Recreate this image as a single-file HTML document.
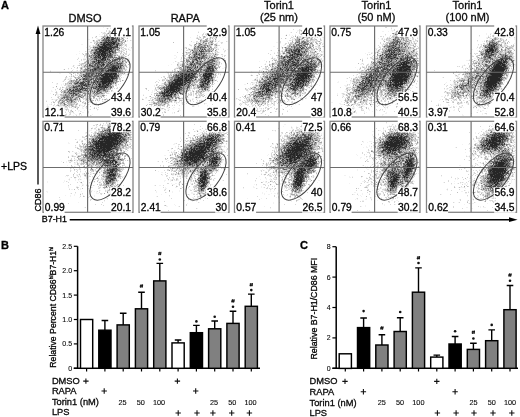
<!DOCTYPE html><html><head><meta charset="utf-8"><style>html,body{margin:0;padding:0;background:#fff;width:520px;height:417px;overflow:hidden}svg{display:block;will-change:transform}text{stroke:#000}</style></head><body>
<svg width="520" height="417" viewBox="0 0 520 417" stroke-width="0.3" font-family="Liberation Sans, sans-serif">
<rect width="520" height="417" fill="#fff"/>
<g transform="translate(0.5 0.5)" fill="none" stroke-width="1" stroke-linecap="square">
<path stroke="#f2f2f2" d="M124 26h0m-21 1h0m7 0h0m15 0h0m85 0h0m97 0h0m2 0h0m82 0h0m9 0h0m4 0h0m1 0h0m5 0h0m3 0h0m-307 1h0m2 0h0m5 0h0m2 0h0m6 0h0m1 0h0m3 0h0m1 0h0m3 0h0m178 0h0m9 0h0m82 0h0m3 0h0m2 0h0m7 0h0m3 0h0m1 0h0m3 0h0m1 0h0m-311 1h0m7 0h0m10 0h0m3 0h0m80 0h0m1 0h0m8 0h0m84 0h0m21 0h0m70 0h0m7 0h0m5 0h0m5 0h0m1 0h0m1 0h0m3 0h0m88 0h0m-393 1h0m7 0h0m4 0h0m5 0h0m1 0h0m4 0h0m78 0h0m4 0h0m2 0h0m2 0h0m82 0h0m1 0h0m20 0h0m73 0h0m1 0h0m1 0h0m5 0h0m1 0h0m1 0h0m6 0h0m1 0h0m1 0h0m-300 1h0m12 0h0m10 0h0m68 0h0m15 0h0m84 0h0m6 0h0m4 0h0m7 0h0m1 0h0m3 0h0m3 0h0m61 0h0m1 0h0m5 0h0m4 0h0m8 0h0m94 0h0m5 0h0m1 0h0m7 0h0m-405 1h0m1 0h0m2 0h0m99 0h0m86 0h0m16 0h0m11 0h0m77 0h0m3 0h0m11 0h0m85 0h0m1 0h0m2 0h0m4 0h0m1 0h0m10 0h0m-409 1h0m4 0h0m6 0h0m8 0h0m8 0h0m77 0h0m9 0h0m1 0h0m85 0h0m15 0h0m93 0h0m2 0h0m1 0h0m2 0h0m73 0h0m4 0h0m1 0h0m2 0h0m1 0h0m1 0h0m1 0h0m4 0h0m7 0h0m4 0h0m-424 1h0m12 0h0m3 0h0m3 0h0m3 0h0m13 0h0m2 0h0m6 0h0m79 0h0m3 0h0m5 0h0m70 0h0m3 0h0m6 0h0m11 0h0m1 0h0m3 0h0m100 0h0m6 0h0m70 0h0m7 0h0m-372 1h0m2 0h0m1 0h0m92 0h0m6 0h0m63 0h0m4 0h0m3 0h0m6 0h0m3 0h0m1 0h0m4 0h0m4 0h0m11 0h0m64 0h0m7 0h0m5 0h0m8 0h0m3 0h0m1 0h0m79 0h0m2 0h0m8 0h0m8 0h0m1 0h0m1 0h0m-413 1h0m4 0h0m1 0h0m21 0h0m5 0h0m71 0h0m5 0h0m4 0h0m4 0h0m12 0h0m69 0h0m7 0h0m3 0h0m9 0h0m3 0h0m76 0h0m1 0h0m10 0h0m3 0h0m5 0h0m4 0h0m67 0h0m19 0h0m4 0h0m4 0h0m1 0h0m1 0h0m2 0h0m-414 1h0m5 0h0m19 0h0m5 0h0m2 0h0m63 0h0m6 0h0m11 0h0m2 0h0m5 0h0m8 0h0m3 0h0m68 0h0m8 0h0m9 0h0m3 0h0m1 0h0m1 0h0m1 0h0m6 0h0m1 0h0m60 0h0m5 0h0m16 0h0m9 0h0m4 0h0m69 0h0m1 0h0m3 0h0m3 0h0m10 0h0m1 0h0m6 0h0m-418 1h0m4 0h0m1 0h0m23 0h0m5 0h0m1 0h0m73 0h0m1 0h0m1 0h0m1 0h0m6 0h0m3 0h0m2 0h0m73 0h0m6 0h0m1 0h0m2 0h0m5 0h0m4 0h0m11 0h0m63 0h0m3 0h0m3 0h0m7 0h0m1 0h0m8 0h0m10 0h0m76 0h0m3 0h0m3 0h0m7 0h0m3 0h0m12 0h0m-426 1h0m1 0h0m8 0h0m105 0h0m10 0h0m4 0h0m77 0h0m1 0h0m14 0h0m13 0h0m60 0h0m4 0h0m5 0h0m19 0h0m80 0h0m1 0h0m1 0h0m7 0h0m1 0h0m15 0h0m-422 1h0m8 0h0m20 0h0m1 0h0m3 0h0m7 0h0m85 0h0m3 0h0m72 0h0m2 0h0m1 0h0m6 0h0m5 0h0m10 0h0m69 0h0m29 0h0m71 0h0m4 0h0m8 0h0m6 0h0m2 0h0m-409 1h0m3 0h0m25 0h0m3 0h0m1 0h0m72 0h0m9 0h0m6 0h0m2 0h0m3 0h0m8 0h0m60 0h0m13 0h0m9 0h0m2 0h0m3 0h0m6 0h0m63 0h0m2 0h0m19 0h0m11 0h0m1 0h0m61 0h0m5 0h0m23 0h0m-312 1h0m1 0h0m3 0h0m2 0h0m8 0h0m10 0h0m3 0h0m56 0h0m1 0h0m17 0h0m25 0h0m65 0h0m23 0h0m3 0h0m3 0h0m3 0h0m72 0h0m11 0h0m1 0h0m-405 1h0m106 0h0m6 0h0m8 0h0m2 0h0m5 0h0m58 0h0m9 0h0m4 0h0m29 0h0m1 0h0m87 0h0m3 0h0m73 0h0m13 0h0m3 0h0m1 0h0m3 0h0m8 0h0m-433 1h0m1 0h0m42 0h0m66 0h0m7 0h0m10 0h0m10 0h0m67 0h0m31 0h0m1 0h0m2 0h0m1 0h0m62 0h0m1 0h0m29 0h0m1 0h0m2 0h0m66 0h0m3 0h0m2 0h0m21 0h0m-417 1h0m1 0h0m2 0h0m2 0h0m30 0h0m65 0h0m8 0h0m15 0h0m71 0h0m1 0h0m7 0h0m15 0h0m5 0h0m6 0h0m92 0h0m7 0h0m62 0h0m24 0h0m1 0h0m9 0h0m2 0h0m-424 1h0m2 0h0m28 0h0m3 0h0m1 0h0m67 0h0m2 0h0m13 0h0m8 0h0m3 0h0m56 0h0m1 0h0m7 0h0m5 0h0m22 0h0m9 0h0m3 0h0m60 0h0m28 0h0m2 0h0m67 0h0m26 0h0m3 0h0m-420 1h0m3 0h0m40 0h0m55 0h0m9 0h0m24 0h0m3 0h0m61 0h0m2 0h0m32 0h0m1 0h0m1 0h0m3 0h0m58 0h0m37 0h0m66 0h0m2 0h0m18 0h0m7 0h0m5 0h0m-424 1h0m3 0h0m28 0h0m2 0h0m1 0h0m3 0h0m2 0h0m3 0h0m53 0h0m1 0h0m4 0h0m27 0h0m1 0h0m1 0h0m5 0h0m91 0h0m60 0h0m1 0h0m1 0h0m1 0h0m37 0h0m62 0h0m4 0h0m2 0h0m18 0h0m2 0h0m11 0h0m-426 1h0m3 0h0m31 0h0m8 0h0m52 0h0m6 0h0m28 0h0m2 0h0m10 0h0m55 0h0m1 0h0m1 0h0m25 0h0m1 0h0m5 0h0m59 0h0m4 0h0m3 0h0m30 0h0m1 0h0m59 0h0m1 0h0m8 0h0m20 0h0m10 0h0m2 0h0m2 0h0m-427 1h0m2 0h0m1 0h0m30 0h0m2 0h0m4 0h0m3 0h0m1 0h0m58 0h0m1 0h0m35 0h0m46 0h0m11 0h0m3 0h0m34 0h0m58 0h0m1 0h0m34 0h0m4 0h0m1 0h0m61 0h0m5 0h0m18 0h0m-421 1h0m7 0h0m1 0h0m1 0h0m28 0h0m7 0h0m62 0h0m6 0h0m22 0h0m1 0h0m11 0h0m54 0h0m1 0h0m3 0h0m30 0h0m4 0h0m5 0h0m1 0h0m53 0h0m4 0h0m35 0h0m63 0h0m25 0h0m10 0h0m-426 1h0m1 0h0m1 0h0m31 0h0m71 0h0m19 0h0m4 0h0m2 0h0m3 0h0m5 0h0m50 0h0m5 0h0m1 0h0m41 0h0m1 0h0m46 0h0m1 0h0m2 0h0m1 0h0m2 0h0m6 0h0m133 0h0m-434 1h0m43 0h0m1 0h0m6 0h0m85 0h0m3 0h0m60 0h0m4 0h0m26 0h0m2 0h0m7 0h0m3 0h0m1 0h0m45 0h0m7 0h0m9 0h0m90 0h0m4 0h0m4 0h0m-403 1h0m6 0h0m8 0h0m31 0h0m1 0h0m6 0h0m57 0h0m6 0h0m16 0h0m5 0h0m70 0h0m2 0h0m34 0h0m52 0h0m8 0h0m1 0h0m39 0h0m61 0h0m34 0h0m-393 1h0m7 0h0m47 0h0m1 0h0m36 0h0m11 0h0m58 0h0m4 0h0m34 0h0m2 0h0m2 0h0m45 0h0m50 0h0m1 0h0m54 0h0m4 0h0m37 0h0m-426 1h0m29 0h0m8 0h0m52 0h0m6 0h0m2 0h0m29 0h0m59 0h0m5 0h0m1 0h0m41 0h0m56 0h0m3 0h0m39 0h0m65 0h0m14 0h0m18 0h0m-436 1h0m6 0h0m5 0h0m31 0h0m8 0h0m48 0h0m10 0h0m29 0h0m3 0h0m97 0h0m52 0h0m5 0h0m1 0h0m2 0h0m1 0h0m2 0h0m98 0h0m4 0h0m-397 1h0m1 0h0m1 0h0m1 0h0m38 0h0m4 0h0m1 0h0m45 0h0m1 0h0m44 0h0m1 0h0m53 0h0m2 0h0m2 0h0m41 0h0m2 0h0m42 0h0m8 0h0m3 0h0m101 0h0m1 0h0m3 0h0m36 0h0m-428 1h0m41 0h0m2 0h0m51 0h0m1 0h0m3 0h0m1 0h0m17 0h0m4 0h0m69 0h0m44 0h0m98 0h0m52 0h0m2 0h0m5 0h0m1 0h0m36 0h0m1 0h0m-431 1h0m1 0h0m97 0h0m2 0h0m2 0h0m5 0h0m74 0h0m13 0h0m2 0h0m42 0h0m2 0h0m50 0h0m3 0h0m90 0h0m1 0h0m1 0h0m5 0h0m3 0h0m-392 1h0m44 0h0m48 0h0m7 0h0m2 0h0m39 0h0m1 0h0m34 0h0m13 0h0m4 0h0m41 0h0m56 0h0m101 0h0m1 0h0m3 0h0m32 0h0m-386 1h0m4 0h0m45 0h0m4 0h0m2 0h0m5 0h0m36 0h0m46 0h0m6 0h0m1 0h0m1 0h0m43 0h0m100 0h0m57 0h0m39 0h0m-433 1h0m46 0h0m51 0h0m2 0h0m1 0h0m1 0h0m4 0h0m80 0h0m4 0h0m2 0h0m50 0h0m40 0h0m2 0h0m5 0h0m2 0h0m49 0h0m58 0h0m10 0h0m26 0h0m-434 1h0m5 0h0m87 0h0m8 0h0m6 0h0m20 0h0m16 0h0m43 0h0m58 0h0m38 0h0m1 0h0m103 0h0m4 0h0m5 0h0m2 0h0m1 0h0m1 0h0m38 0h0m-441 1h0m3 0h0m3 0h0m2 0h0m86 0h0m11 0h0m88 0h0m4 0h0m2 0h0m2 0h0m1 0h0m44 0h0m3 0h0m45 0h0m1 0h0m93 0h0m1 0h0m2 0h0m6 0h0m8 0h0m36 0h0m-443 1h0m9 0h0m96 0h0m39 0h0m55 0h0m3 0h0m44 0h0m5 0h0m40 0h0m1 0h0m94 0h0m19 0h0m-398 1h0m97 0h0m1 0h0m5 0h0m42 0h0m45 0h0m86 0h0m10 0h0m96 0h0m5 0h0m2 0h0m4 0h0m2 0h0m1 0h0m10 0h0m24 0h0m2 0h0m-435 1h0m8 0h0m41 0h0m1 0h0m48 0h0m45 0h0m3 0h0m1 0h0m2 0h0m37 0h0m2 0h0m52 0h0m2 0h0m41 0h0m7 0h0m49 0h0m48 0h0m3 0h0m3 0h0m2 0h0m-408 1h0m5 0h0m5 0h0m56 0h0m133 0h0m2 0h0m4 0h0m1 0h0m49 0h0m1 0h0m3 0h0m35 0h0m3 0h0m5 0h0m98 0h0m6 0h0m3 0h0m1 0h0m12 0h0m24 0h0m2 0h0m3 0h0m-464 1h0m26 0h0m3 0h0m2 0h0m42 0h0m1 0h0m2 0h0m2 0h0m97 0h0m35 0h0m1 0h0m1 0h0m4 0h0m1 0h0m49 0h0m41 0h0m7 0h0m3 0h0m48 0h0m1 0h0m2 0h0m50 0h0m1 0h0m4 0h0m37 0h0m-355 1h0m11 0h0m10 0h0m41 0h0m1 0h0m33 0h0m13 0h0m54 0h0m42 0h0m2 0h0m1 0h0m1 0h0m94 0h0m6 0h0m6 0h0m2 0h0m38 0h0m2 0h0m-455 1h0m1 0h0m1 0h0m8 0h0m4 0h0m4 0h0m2 0h0m98 0h0m40 0h0m36 0h0m1 0h0m10 0h0m2 0h0m1 0h0m52 0h0m42 0h0m99 0h0m9 0h0m-408 1h0m1 0h0m11 0h0m3 0h0m1 0h0m4 0h0m46 0h0m2 0h0m40 0h0m6 0h0m41 0h0m5 0h0m1 0h0m39 0h0m99 0h0m2 0h0m53 0h0m2 0h0m44 0h0m1 0h0m4 0h0m11 0h0m-405 1h0m7 0h0m1 0h0m44 0h0m2 0h0m1 0h0m1 0h0m43 0h0m3 0h0m44 0h0m35 0h0m7 0h0m3 0h0m54 0h0m41 0h0m4 0h0m94 0h0m1 0h0m26 0h0m-405 1h0m49 0h0m95 0h0m30 0h0m11 0h0m4 0h0m55 0h0m36 0h0m3 0h0m3 0h0m1 0h0m55 0h0m39 0h0m1 0h0m4 0h0m9 0h0m34 0h0m3 0h0m2 0h0m-440 1h0m2 0h0m142 0h0m3 0h0m40 0h0m58 0h0m41 0h0m3 0h0m55 0h0m1 0h0m3 0h0m37 0h0m1 0h0m2 0h0m50 0h0m-441 1h0m3 0h0m1 0h0m10 0h0m42 0h0m40 0h0m93 0h0m62 0h0m39 0h0m60 0h0m25 0h0m15 0h0m1 0h0m3 0h0m2 0h0m18 0h0m-415 1h0m2 0h0m1 0h0m58 0h0m37 0h0m3 0h0m30 0h0m58 0h0m1 0h0m1 0h0m2 0h0m1 0h0m3 0h0m52 0h0m2 0h0m29 0h0m10 0h0m57 0h0m46 0h0m1 0h0m47 0h0m-440 1h0m2 0h0m2 0h0m2 0h0m5 0h0m40 0h0m40 0h0m7 0h0m3 0h0m29 0h0m19 0h0m40 0h0m61 0h0m3 0h0m31 0h0m103 0h0m3 0h0m-394 1h0m56 0h0m133 0h0m1 0h0m64 0h0m34 0h0m1 0h0m3 0h0m56 0h0m6 0h0m36 0h0m2 0h0m1 0h0m-394 1h0m3 0h0m54 0h0m38 0h0m5 0h0m1 0h0m3 0h0m48 0h0m42 0h0m61 0h0m21 0h0m8 0h0m4 0h0m1 0h0m9 0h0m51 0h0m2 0h0m53 0h0m37 0h0m1 0h0m2 0h0m1 0h0m-341 1h0m45 0h0m42 0h0m1 0h0m1 0h0m2 0h0m55 0h0m25 0h0m1 0h0m12 0h0m2 0h0m59 0h0m1 0h0m34 0h0m7 0h0m51 0h0m4 0h0m-452 1h0m7 0h0m9 0h0m48 0h0m41 0h0m35 0h0m15 0h0m39 0h0m2 0h0m1 0h0m1 0h0m3 0h0m53 0h0m40 0h0m62 0h0m33 0h0m8 0h0m3 0h0m2 0h0m45 0h0m4 0h0m-451 1h0m1 0h0m4 0h0m2 0h0m51 0h0m47 0h0m1 0h0m1 0h0m35 0h0m46 0h0m1 0h0m5 0h0m3 0h0m62 0h0m1 0h0m1 0h0m31 0h0m60 0h0m8 0h0m35 0h0m1 0h0m1 0h0m5 0h0m17 0h0m-414 1h0m5 0h0m26 0h0m62 0h0m3 0h0m7 0h0m47 0h0m1 0h0m42 0h0m58 0h0m1 0h0m2 0h0m4 0h0m25 0h0m1 0h0m1 0h0m3 0h0m5 0h0m54 0h0m1 0h0m4 0h0m33 0h0m6 0h0m1 0h0m1 0h0m-392 1h0m54 0h0m38 0h0m3 0h0m2 0h0m35 0h0m2 0h0m87 0h0m22 0h0m3 0h0m4 0h0m1 0h0m32 0h0m1 0h0m4 0h0m4 0h0m52 0h0m3 0h0m6 0h0m35 0h0m54 0h0m-452 1h0m4 0h0m8 0h0m1 0h0m54 0h0m37 0h0m54 0h0m41 0h0m5 0h0m1 0h0m47 0h0m2 0h0m1 0h0m4 0h0m35 0h0m60 0h0m4 0h0m2 0h0m5 0h0m36 0h0m21 0h0m27 0h0m4 0h0m1 0h0m-447 1h0m3 0h0m95 0h0m35 0h0m20 0h0m34 0h0m3 0h0m58 0h0m2 0h0m39 0h0m1 0h0m6 0h0m26 0h0m3 0h0m22 0h0m2 0h0m2 0h0m1 0h0m35 0h0m2 0h0m5 0h0m47 0h0m2 0h0m-439 1h0m49 0h0m42 0h0m3 0h0m2 0h0m27 0h0m4 0h0m2 0h0m5 0h0m1 0h0m11 0h0m42 0h0m34 0h0m25 0h0m1 0h0m34 0h0m6 0h0m30 0h0m63 0h0m2 0h0m1 0h0m2 0h0m3 0h0m4 0h0m16 0h0m27 0h0m1 0h0m2 0h0m2 0h0m-453 1h0m4 0h0m54 0h0m43 0h0m2 0h0m1 0h0m38 0h0m7 0h0m48 0h0m56 0h0m7 0h0m35 0h0m2 0h0m58 0h0m1 0h0m1 0h0m67 0h0m3 0h0m25 0h0m5 0h0m-457 1h0m1 0h0m60 0h0m1 0h0m39 0h0m2 0h0m34 0h0m2 0h0m4 0h0m1 0h0m10 0h0m1 0h0m1 0h0m4 0h0m36 0h0m1 0h0m8 0h0m28 0h0m20 0h0m40 0h0m1 0h0m1 0h0m4 0h0m1 0h0m1 0h0m19 0h0m7 0h0m5 0h0m1 0h0m24 0h0m36 0h0m2 0h0m13 0h0m12 0h0m4 0h0m3 0h0m19 0h0m1 0h0m3 0h0m1 0h0m-445 1h0m50 0h0m1 0h0m43 0h0m1 0h0m34 0h0m17 0h0m4 0h0m2 0h0m1 0h0m2 0h0m35 0h0m2 0h0m3 0h0m32 0h0m1 0h0m2 0h0m10 0h0m5 0h0m1 0h0m12 0h0m34 0h0m22 0h0m12 0h0m2 0h0m60 0h0m5 0h0m28 0h0m20 0h0m1 0h0m-449 1h0m7 0h0m4 0h0m1 0h0m19 0h0m28 0h0m75 0h0m13 0h0m2 0h0m4 0h0m1 0h0m2 0h0m1 0h0m2 0h0m42 0h0m33 0h0m4 0h0m1 0h0m1 0h0m11 0h0m36 0h0m4 0h0m3 0h0m29 0h0m29 0h0m2 0h0m8 0h0m34 0h0m5 0h0m14 0h0m10 0h0m-418 1h0m1 0h0m1 0h0m24 0h0m4 0h0m17 0h0m7 0h0m32 0h0m40 0h0m60 0h0m3 0h0m1 0h0m3 0h0m28 0h0m2 0h0m4 0h0m2 0h0m7 0h0m8 0h0m2 0h0m1 0h0m33 0h0m5 0h0m3 0h0m2 0h0m6 0h0m1 0h0m22 0h0m1 0h0m35 0h0m35 0h0m3 0h0m11 0h0m4 0h0m3 0h0m3 0h0m4 0h0m3 0h0m24 0h0m-445 1h0m1 0h0m47 0h0m78 0h0m3 0h0m1 0h0m2 0h0m9 0h0m5 0h0m3 0h0m40 0h0m1 0h0m5 0h0m41 0h0m5 0h0m12 0h0m32 0h0m1 0h0m2 0h0m6 0h0m14 0h0m17 0h0m2 0h0m8 0h0m72 0h0m6 0h0m7 0h0m-420 1h0m3 0h0m36 0h0m8 0h0m6 0h0m1 0h0m45 0h0m37 0h0m4 0h0m50 0h0m1 0h0m30 0h0m1 0h0m5 0h0m8 0h0m2 0h0m4 0h0m11 0h0m2 0h0m31 0h0m28 0h0m2 0h0m2 0h0m8 0h0m2 0h0m3 0h0m3 0h0m5 0h0m6 0h0m40 0h0m1 0h0m2 0h0m1 0h0m2 0h0m6 0h0m12 0h0m3 0h0m2 0h0m3 0h0m2 0h0m-388 1h0m1 0h0m2 0h0m1 0h0m7 0h0m2 0h0m3 0h0m42 0h0m9 0h0m27 0h0m1 0h0m6 0h0m12 0h0m8 0h0m31 0h0m7 0h0m4 0h0m1 0h0m28 0h0m16 0h0m1 0h0m3 0h0m2 0h0m5 0h0m4 0h0m1 0h0m33 0h0m8 0h0m2 0h0m13 0h0m9 0h0m2 0h0m2 0h0m1 0h0m11 0h0m1 0h0m61 0h0m1 0h0m7 0h0m1 0h0m1 0h0m3 0h0m7 0h0m1 0h0m-397 1h0m2 0h0m15 0h0m2 0h0m1 0h0m4 0h0m40 0h0m3 0h0m1 0h0m5 0h0m1 0h0m25 0h0m6 0h0m9 0h0m1 0h0m3 0h0m1 0h0m1 0h0m39 0h0m8 0h0m2 0h0m3 0h0m2 0h0m22 0h0m1 0h0m5 0h0m10 0h0m4 0h0m1 0h0m1 0h0m1 0h0m9 0h0m44 0h0m10 0h0m4 0h0m9 0h0m2 0h0m1 0h0m2 0h0m1 0h0m1 0h0m5 0h0m1 0h0m8 0h0m1 0h0m1 0h0m5 0h0m3 0h0m56 0h0m9 0h0m1 0h0m5 0h0m11 0h0m6 0h0m3 0h0m3 0h0m4 0h0m-451 1h0m2 0h0m1 0h0m1 0h0m23 0h0m6 0h0m3 0h0m1 0h0m4 0h0m3 0h0m8 0h0m47 0h0m4 0h0m24 0h0m2 0h0m1 0h0m1 0h0m1 0h0m5 0h0m1 0h0m1 0h0m3 0h0m8 0h0m35 0h0m3 0h0m1 0h0m10 0h0m14 0h0m9 0h0m3 0h0m5 0h0m8 0h0m14 0h0m43 0h0m16 0h0m6 0h0m2 0h0m4 0h0m7 0h0m1 0h0m6 0h0m4 0h0m8 0h0m40 0h0m12 0h0m18 0h0m3 0h0m5 0h0m7 0h0m-439 1h0m12 0h0m40 0h0m4 0h0m2 0h0m1 0h0m45 0h0m3 0h0m1 0h0m28 0h0m7 0h0m3 0h0m53 0h0m1 0h0m26 0h0m1 0h0m4 0h0m1 0h0m1 0h0m10 0h0m5 0h0m8 0h0m56 0h0m1 0h0m9 0h0m4 0h0m2 0h0m2 0h0m4 0h0m6 0h0m4 0h0m1 0h0m4 0h0m7 0h0m29 0h0m8 0h0m6 0h0m1 0h0m1 0h0m6 0h0m2 0h0m9 0h0m4 0h0m3 0h0m3 0h0m3 0h0m4 0h0m9 0h0m2 0h0m4 0h0m-444 1h0m5 0h0m3 0h0m21 0h0m3 0h0m2 0h0m2 0h0m7 0h0m3 0h0m5 0h0m1 0h0m47 0h0m1 0h0m2 0h0m18 0h0m4 0h0m5 0h0m16 0h0m3 0h0m46 0h0m23 0h0m3 0h0m1 0h0m3 0h0m2 0h0m3 0h0m2 0h0m2 0h0m3 0h0m1 0h0m2 0h0m50 0h0m7 0h0m19 0h0m3 0h0m9 0h0m1 0h0m2 0h0m11 0h0m1 0h0m4 0h0m2 0h0m1 0h0m45 0h0m11 0h0m13 0h0m1 0h0m2 0h0m16 0h0m6 0h0m-438 1h0m27 0h0m5 0h0m4 0h0m3 0h0m54 0h0m20 0h0m2 0h0m3 0h0m2 0h0m2 0h0m2 0h0m2 0h0m1 0h0m58 0h0m6 0h0m3 0h0m15 0h0m7 0h0m3 0h0m6 0h0m1 0h0m1 0h0m1 0h0m1 0h0m7 0h0m38 0h0m1 0h0m32 0h0m3 0h0m2 0h0m1 0h0m7 0h0m2 0h0m70 0h0m10 0h0m3 0h0m6 0h0m7 0h0m3 0h0m10 0h0m-437 1h0m3 0h0m11 0h0m10 0h0m7 0h0m1 0h0m3 0h0m6 0h0m7 0h0m52 0h0m1 0h0m29 0h0m7 0h0m1 0h0m3 0h0m13 0h0m1 0h0m33 0h0m2 0h0m1 0h0m2 0h0m14 0h0m2 0h0m13 0h0m7 0h0m5 0h0m10 0h0m44 0h0m1 0h0m8 0h0m5 0h0m3 0h0m2 0h0m12 0h0m1 0h0m25 0h0m42 0h0m24 0h0m4 0h0m1 0h0m8 0h0m1 0h0m1 0h0m1 0h0m6 0h0m1 0h0m-438 1h0m2 0h0m1 0h0m9 0h0m8 0h0m12 0h0m1 0h0m4 0h0m3 0h0m2 0h0m3 0h0m3 0h0m2 0h0m2 0h0m2 0h0m1 0h0m51 0h0m16 0h0m5 0h0m3 0h0m7 0h0m20 0h0m36 0h0m7 0h0m5 0h0m1 0h0m9 0h0m7 0h0m1 0h0m1 0h0m13 0h0m11 0h0m3 0h0m42 0h0m1 0h0m1 0h0m1 0h0m12 0h0m1 0h0m4 0h0m5 0h0m8 0h0m4 0h0m6 0h0m12 0h0m1 0h0m44 0h0m8 0h0m5 0h0m4 0h0m2 0h0m8 0h0m9 0h0m4 0h0m3 0h0m-436 1h0m7 0h0m26 0h0m1 0h0m1 0h0m75 0h0m41 0h0m9 0h0m41 0h0m9 0h0m2 0h0m2 0h0m1 0h0m6 0h0m2 0h0m3 0h0m6 0h0m8 0h0m58 0h0m5 0h0m2 0h0m1 0h0m4 0h0m3 0h0m2 0h0m1 0h0m13 0h0m3 0h0m4 0h0m4 0h0m2 0h0m1 0h0m47 0h0m3 0h0m8 0h0m1 0h0m12 0h0m12 0h0m1 0h0m1 0h0m-429 1h0m7 0h0m3 0h0m6 0h0m5 0h0m10 0h0m2 0h0m3 0h0m2 0h0m65 0h0m1 0h0m4 0h0m2 0h0m2 0h0m4 0h0m1 0h0m3 0h0m28 0h0m4 0h0m9 0h0m34 0h0m9 0h0m1 0h0m5 0h0m16 0h0m7 0h0m63 0h0m15 0h0m2 0h0m1 0h0m3 0h0m1 0h0m10 0h0m2 0h0m9 0h0m2 0h0m1 0h0m50 0h0m5 0h0m8 0h0m3 0h0m2 0h0m4 0h0m1 0h0m1 0h0m11 0h0m3 0h0m1 0h0m3 0h0m1 0h0m2 0h0m1 0h0m-431 1h0m1 0h0m1 0h0m1 0h0m5 0h0m9 0h0m3 0h0m3 0h0m6 0h0m3 0h0m11 0h0m55 0h0m6 0h0m2 0h0m7 0h0m1 0h0m1 0h0m5 0h0m1 0h0m67 0h0m2 0h0m4 0h0m1 0h0m1 0h0m4 0h0m6 0h0m15 0h0m11 0h0m1 0h0m59 0h0m1 0h0m4 0h0m2 0h0m1 0h0m1 0h0m4 0h0m7 0h0m3 0h0m6 0h0m11 0h0m1 0h0m63 0h0m2 0h0m8 0h0m4 0h0m7 0h0m4 0h0m5 0h0m3 0h0m5 0h0m-441 1h0m9 0h0m1 0h0m4 0h0m5 0h0m1 0h0m6 0h0m1 0h0m3 0h0m6 0h0m1 0h0m10 0h0m53 0h0m9 0h0m1 0h0m8 0h0m3 0h0m1 0h0m4 0h0m6 0h0m1 0h0m73 0h0m1 0h0m6 0h0m1 0h0m22 0h0m10 0h0m62 0h0m31 0h0m2 0h0m72 0h0m14 0h0m3 0h0m7 0h0m4 0h0m-438 1h0m5 0h0m10 0h0m7 0h0m18 0h0m9 0h0m44 0h0m8 0h0m5 0h0m6 0h0m1 0h0m6 0h0m1 0h0m4 0h0m6 0h0m63 0h0m4 0h0m7 0h0m1 0h0m1 0h0m6 0h0m2 0h0m12 0h0m2 0h0m5 0h0m7 0h0m59 0h0m5 0h0m9 0h0m1 0h0m5 0h0m1 0h0m16 0h0m69 0h0m24 0h0m-430 1h0m1 0h0m6 0h0m1 0h0m2 0h0m20 0h0m1 0h0m5 0h0m13 0h0m54 0h0m7 0h0m7 0h0m2 0h0m12 0h0m1 0h0m70 0h0m4 0h0m7 0h0m1 0h0m2 0h0m3 0h0m20 0h0m50 0h0m32 0h0m7 0h0m1 0h0m3 0h0m2 0h0m59 0h0m12 0h0m1 0h0m23 0h0m1 0h0m2 0h0m2 0h0m1 0h0m-430 1h0m5 0h0m2 0h0m5 0h0m8 0h0m5 0h0m3 0h0m76 0h0m8 0h0m72 0h0m3 0h0m10 0h0m6 0h0m4 0h0m16 0h0m63 0h0m8 0h0m5 0h0m1 0h0m11 0h0m8 0h0m11 0h0m58 0h0m40 0h0m5 0h0m-439 1h0m1 0h0m5 0h0m2 0h0m16 0h0m1 0h0m10 0h0m1 0h0m66 0h0m2 0h0m21 0h0m80 0h0m1 0h0m10 0h0m16 0h0m60 0h0m12 0h0m1 0h0m3 0h0m1 0h0m8 0h0m2 0h0m20 0h0m90 0h0m-423 1h0m10 0h0m3 0h0m3 0h0m4 0h0m1 0h0m14 0h0m63 0h0m1 0h0m10 0h0m10 0h0m2 0h0m72 0h0m8 0h0m4 0h0m2 0h0m2 0h0m85 0h0m9 0h0m29 0h0m1 0h0m16 0h0m36 0h0m1 0h0m43 0h0m2 0h0m-427 1h0m3 0h0m15 0h0m1 0h0m5 0h0m11 0h0m56 0h0m9 0h0m89 0h0m1 0h0m95 0h0m1 0h0m5 0h0m2 0h0m1 0h0m1 0h0m30 0h0m1 0h0m79 0h0m20 0h0m4 0h0m-422 1h0m2 0h0m2 0h0m1 0h0m4 0h0m6 0h0m2 0h0m10 0h0m66 0h0m2 0h0m93 0h0m2 0h0m92 0h0m36 0h0m64 0h0m16 0h0m1 0h0m-17 1h0m-339 6h0m1 0h0m1 0h0m3 0h0m3 0h0m8 0h0m4 0h0m183 0h0m204 0h0m-414 1h0m7 0h0m1 0h0m9 0h0m11 0h0m173 0h0m11 0h0m3 0h0m5 0h0m2 0h0m64 0h0m11 0h0m19 0h0m76 0h0m11 0h0m1 0h0m8 0h0m1 0h0m1 0h0m-419 1h0m8 0h0m2 0h0m26 0h0m81 0h0m13 0h0m59 0h0m1 0h0m16 0h0m8 0h0m5 0h0m6 0h0m2 0h0m71 0h0m4 0h0m4 0h0m1 0h0m4 0h0m1 0h0m1 0h0m84 0h0m4 0h0m1 0h0m1 0h0m1 0h0m4 0h0m2 0h0m-402 1h0m1 0h0m1 0h0m1 0h0m16 0h0m96 0h0m1 0h0m83 0h0m7 0h0m2 0h0m5 0h0m6 0h0m67 0h0m2 0h0m1 0h0m8 0h0m5 0h0m3 0h0m8 0h0m73 0h0m1 0h0m3 0h0m8 0h0m3 0h0m6 0h0m1 0h0m1 0h0m-416 1h0m1 0h0m31 0h0m86 0h0m5 0h0m64 0h0m8 0h0m5 0h0m6 0h0m1 0h0m1 0h0m5 0h0m2 0h0m4 0h0m1 0h0m3 0h0m68 0h0m1 0h0m6 0h0m2 0h0m2 0h0m2 0h0m3 0h0m2 0h0m2 0h0m2 0h0m2 0h0m2 0h0m1 0h0m78 0h0m8 0h0m4 0h0m1 0h0m2 0h0m1 0h0m4 0h0m-420 1h0m3 0h0m10 0h0m106 0h0m5 0h0m76 0h0m6 0h0m3 0h0m1 0h0m16 0h0m1 0h0m64 0h0m7 0h0m5 0h0m7 0h0m2 0h0m3 0h0m90 0h0m2 0h0m5 0h0m1 0h0m4 0h0m4 0h0m-414 1h0m32 0h0m74 0h0m4 0h0m7 0h0m2 0h0m2 0h0m71 0h0m1 0h0m5 0h0m16 0h0m78 0h0m5 0h0m10 0h0m2 0h0m6 0h0m1 0h0m83 0h0m9 0h0m6 0h0m-422 1h0m3 0h0m1 0h0m1 0h0m4 0h0m1 0h0m98 0h0m9 0h0m4 0h0m4 0h0m7 0h0m69 0h0m4 0h0m3 0h0m3 0h0m5 0h0m8 0h0m2 0h0m66 0h0m8 0h0m2 0h0m18 0h0m5 0h0m2 0h0m64 0h0m1 0h0m22 0h0m3 0h0m1 0h0m2 0h0m-422 1h0m1 0h0m1 0h0m6 0h0m34 0h0m65 0h0m5 0h0m2 0h0m1 0h0m7 0h0m1 0h0m4 0h0m1 0h0m9 0h0m1 0h0m46 0h0m1 0h0m15 0h0m1 0h0m13 0h0m12 0h0m4 0h0m60 0h0m1 0h0m3 0h0m1 0h0m7 0h0m1 0h0m2 0h0m20 0h0m1 0h0m2 0h0m70 0h0m24 0h0m-422 1h0m5 0h0m2 0h0m99 0h0m3 0h0m6 0h0m3 0h0m1 0h0m2 0h0m5 0h0m60 0h0m18 0h0m3 0h0m1 0h0m19 0h0m5 0h0m51 0h0m1 0h0m8 0h0m2 0h0m11 0h0m2 0h0m15 0h0m1 0h0m75 0h0m1 0h0m1 0h0m4 0h0m20 0h0m-428 1h0m2 0h0m5 0h0m5 0h0m103 0h0m1 0h0m4 0h0m1 0h0m2 0h0m7 0h0m2 0h0m72 0h0m6 0h0m19 0h0m5 0h0m63 0h0m3 0h0m1 0h0m29 0h0m2 0h0m1 0h0m57 0h0m4 0h0m5 0h0m1 0h0m4 0h0m-404 1h0m1 0h0m44 0h0m58 0h0m10 0h0m1 0h0m8 0h0m1 0h0m15 0h0m58 0h0m9 0h0m10 0h0m21 0h0m57 0h0m6 0h0m3 0h0m27 0h0m1 0h0m2 0h0m58 0h0m10 0h0m28 0h0m-425 1h0m5 0h0m3 0h0m100 0h0m4 0h0m5 0h0m76 0h0m4 0h0m1 0h0m1 0h0m2 0h0m6 0h0m24 0h0m2 0h0m51 0h0m10 0h0m98 0h0m5 0h0m25 0h0m5 0h0m-427 1h0m2 0h0m97 0h0m11 0h0m1 0h0m25 0h0m57 0h0m7 0h0m2 0h0m30 0h0m52 0h0m6 0h0m104 0h0m-399 1h0m6 0h0m42 0h0m57 0h0m5 0h0m1 0h0m31 0h0m1 0h0m56 0h0m9 0h0m3 0h0m123 0h0m1 0h0m57 0h0m4 0h0m1 0h0m1 0h0m1 0h0m1 0h0m1 0h0m-394 1h0m90 0h0m8 0h0m37 0h0m2 0h0m57 0h0m2 0h0m33 0h0m1 0h0m3 0h0m50 0h0m10 0h0m1 0h0m93 0h0m1 0h0m1 0h0m31 0h0m-426 1h0m1 0h0m3 0h0m92 0h0m45 0h0m43 0h0m12 0h0m4 0h0m2 0h0m35 0h0m2 0h0m50 0h0m1 0h0m39 0h0m5 0h0m62 0h0m-404 1h0m3 0h0m1 0h0m6 0h0m2 0h0m93 0h0m9 0h0m4 0h0m30 0h0m44 0h0m12 0h0m3 0h0m135 0h0m1 0h0m59 0h0m1 0h0m34 0h0m-434 1h0m2 0h0m4 0h0m1 0h0m4 0h0m40 0h0m1 0h0m50 0h0m2 0h0m1 0h0m5 0h0m38 0h0m52 0h0m3 0h0m3 0h0m35 0h0m55 0h0m3 0h0m4 0h0m92 0h0m40 0h0m-428 1h0m44 0h0m1 0h0m52 0h0m2 0h0m3 0h0m4 0h0m1 0h0m29 0h0m93 0h0m1 0h0m47 0h0m6 0h0m1 0h0m1 0h0m4 0h0m38 0h0m61 0h0m1 0h0m3 0h0m31 0h0m5 0h0m-446 1h0m13 0h0m1 0h0m4 0h0m41 0h0m1 0h0m2 0h0m59 0h0m31 0h0m3 0h0m60 0h0m2 0h0m78 0h0m4 0h0m48 0h0m62 0h0m1 0h0m28 0h0m7 0h0m2 0h0m-447 1h0m1 0h0m14 0h0m44 0h0m2 0h0m45 0h0m1 0h0m8 0h0m2 0h0m2 0h0m86 0h0m9 0h0m35 0h0m57 0h0m3 0h0m37 0h0m4 0h0m59 0h0m30 0h0m5 0h0m1 0h0m-428 1h0m39 0h0m4 0h0m45 0h0m1 0h0m10 0h0m36 0h0m6 0h0m46 0h0m1 0h0m3 0h0m8 0h0m33 0h0m4 0h0m52 0h0m4 0h0m36 0h0m1 0h0m3 0h0m45 0h0m6 0h0m1 0h0m7 0h0m-392 1h0m4 0h0m90 0h0m5 0h0m1 0h0m37 0h0m3 0h0m47 0h0m4 0h0m94 0h0m7 0h0m37 0h0m92 0h0m-430 1h0m100 0h0m48 0h0m2 0h0m46 0h0m7 0h0m43 0h0m45 0h0m3 0h0m4 0h0m1 0h0m2 0h0m36 0h0m5 0h0m1 0h0m54 0h0m34 0h0m2 0h0m7 0h0m-439 1h0m6 0h0m42 0h0m51 0h0m3 0h0m43 0h0m3 0h0m2 0h0m96 0h0m41 0h0m3 0h0m1 0h0m4 0h0m2 0h0m3 0h0m34 0h0m1 0h0m7 0h0m37 0h0m16 0h0m2 0h0m2 0h0m35 0h0m3 0h0m-434 1h0m2 0h0m1 0h0m48 0h0m47 0h0m2 0h0m94 0h0m1 0h0m3 0h0m1 0h0m92 0h0m1 0h0m3 0h0m45 0h0m53 0h0m39 0h0m3 0h0m-436 1h0m5 0h0m39 0h0m5 0h0m44 0h0m6 0h0m40 0h0m6 0h0m3 0h0m48 0h0m1 0h0m46 0h0m55 0h0m38 0h0m2 0h0m2 0h0m-296 1h0m3 0h0m3 0h0m39 0h0m8 0h0m44 0h0m2 0h0m2 0h0m1 0h0m2 0h0m47 0h0m4 0h0m38 0h0m2 0h0m52 0h0m7 0h0m33 0h0m8 0h0m52 0h0m10 0h0m1 0h0m1 0h0m33 0h0m-441 1h0m5 0h0m2 0h0m2 0h0m43 0h0m1 0h0m45 0h0m2 0h0m1 0h0m6 0h0m46 0h0m49 0h0m48 0h0m43 0h0m2 0h0m101 0h0m5 0h0m4 0h0m2 0h0m31 0h0m-437 1h0m1 0h0m4 0h0m2 0h0m1 0h0m87 0h0m3 0h0m1 0h0m51 0h0m47 0h0m6 0h0m1 0h0m38 0h0m4 0h0m52 0h0m93 0h0m8 0h0m1 0h0m2 0h0m39 0h0m-438 1h0m1 0h0m1 0h0m43 0h0m1 0h0m99 0h0m52 0h0m99 0h0m2 0h0m1 0h0m22 0h0m18 0h0m60 0h0m3 0h0m35 0h0m-437 1h0m48 0h0m46 0h0m6 0h0m1 0h0m42 0h0m2 0h0m2 0h0m1 0h0m43 0h0m7 0h0m2 0h0m1 0h0m40 0h0m4 0h0m34 0h0m10 0h0m41 0h0m10 0h0m57 0h0m8 0h0m5 0h0m4 0h0m5 0h0m-425 1h0m2 0h0m3 0h0m1 0h0m87 0h0m1 0h0m4 0h0m2 0h0m1 0h0m4 0h0m3 0h0m45 0h0m43 0h0m5 0h0m1 0h0m2 0h0m43 0h0m39 0h0m7 0h0m5 0h0m48 0h0m49 0h0m3 0h0m1 0h0m2 0h0m2 0h0m6 0h0m1 0h0m2 0h0m2 0h0m3 0h0m4 0h0m-421 1h0m10 0h0m3 0h0m37 0h0m153 0h0m93 0h0m10 0h0m5 0h0m85 0h0m1 0h0m5 0h0m1 0h0m5 0h0m1 0h0m1 0h0m8 0h0m3 0h0m2 0h0m17 0h0m1 0h0m-438 1h0m2 0h0m3 0h0m95 0h0m1 0h0m47 0h0m54 0h0m84 0h0m1 0h0m5 0h0m3 0h0m3 0h0m5 0h0m40 0h0m52 0h0m11 0h0m2 0h0m5 0h0m1 0h0m26 0h0m1 0h0m-242 1h0m87 0h0m4 0h0m5 0h0m1 0h0m8 0h0m1 0h0m1 0h0m35 0h0m1 0h0m1 0h0m1 0h0m57 0h0m1 0h0m1 0h0m11 0h0m25 0h0m-443 1h0m4 0h0m1 0h0m1 0h0m98 0h0m4 0h0m91 0h0m2 0h0m48 0h0m53 0h0m2 0h0m13 0h0m30 0h0m1 0h0m71 0h0m25 0h0m1 0h0m-440 1h0m1 0h0m2 0h0m50 0h0m39 0h0m1 0h0m54 0h0m1 0h0m56 0h0m40 0h0m1 0h0m2 0h0m45 0h0m17 0h0m33 0h0m1 0h0m50 0h0m19 0h0m5 0h0m22 0h0m1 0h0m-454 1h0m5 0h0m2 0h0m1 0h0m1 0h0m2 0h0m4 0h0m1 0h0m2 0h0m1 0h0m42 0h0m35 0h0m15 0h0m50 0h0m42 0h0m5 0h0m2 0h0m3 0h0m4 0h0m95 0h0m8 0h0m1 0h0m7 0h0m28 0h0m1 0h0m94 0h0m-446 1h0m9 0h0m1 0h0m3 0h0m3 0h0m80 0h0m7 0h0m3 0h0m50 0h0m44 0h0m8 0h0m43 0h0m55 0h0m4 0h0m2 0h0m25 0h0m75 0h0m1 0h0m3 0h0m3 0h0m2 0h0m1 0h0m25 0h0m-439 1h0m1 0h0m4 0h0m6 0h0m3 0h0m85 0h0m51 0h0m38 0h0m5 0h0m4 0h0m2 0h0m50 0h0m50 0h0m2 0h0m3 0h0m39 0h0m59 0h0m4 0h0m1 0h0m4 0h0m29 0h0m-440 1h0m1 0h0m1 0h0m11 0h0m36 0h0m49 0h0m47 0h0m5 0h0m39 0h0m2 0h0m3 0h0m5 0h0m100 0h0m2 0h0m2 0h0m1 0h0m97 0h0m1 0h0m10 0h0m27 0h0m-446 1h0m10 0h0m4 0h0m6 0h0m7 0h0m74 0h0m33 0h0m19 0h0m49 0h0m1 0h0m4 0h0m2 0h0m86 0h0m9 0h0m45 0h0m43 0h0m1 0h0m17 0h0m1 0h0m6 0h0m29 0h0m-438 1h0m18 0h0m1 0h0m1 0h0m23 0h0m8 0h0m1 0h0m33 0h0m10 0h0m1 0h0m1 0h0m1 0h0m1 0h0m2 0h0m43 0h0m45 0h0m101 0h0m2 0h0m8 0h0m42 0h0m56 0h0m6 0h0m34 0h0m-434 1h0m2 0h0m5 0h0m2 0h0m9 0h0m1 0h0m2 0h0m21 0h0m1 0h0m46 0h0m10 0h0m113 0h0m25 0h0m3 0h0m49 0h0m7 0h0m3 0h0m4 0h0m34 0h0m1 0h0m53 0h0m1 0h0m8 0h0m1 0h0m3 0h0m1 0h0m29 0h0m-442 1h0m9 0h0m4 0h0m6 0h0m2 0h0m6 0h0m4 0h0m23 0h0m46 0h0m11 0h0m36 0h0m4 0h0m45 0h0m49 0h0m3 0h0m47 0h0m12 0h0m1 0h0m1 0h0m2 0h0m83 0h0m17 0h0m3 0h0m-415 1h0m5 0h0m2 0h0m1 0h0m9 0h0m7 0h0m5 0h0m2 0h0m1 0h0m1 0h0m21 0h0m46 0h0m5 0h0m42 0h0m6 0h0m39 0h0m5 0h0m1 0h0m3 0h0m1 0h0m18 0h0m1 0h0m66 0h0m10 0h0m1 0h0m3 0h0m46 0h0m1 0h0m61 0h0m7 0h0m29 0h0m-444 1h0m9 0h0m6 0h0m8 0h0m2 0h0m3 0h0m3 0h0m19 0h0m52 0h0m4 0h0m6 0h0m35 0h0m42 0h0m4 0h0m26 0h0m26 0h0m41 0h0m20 0h0m2 0h0m34 0h0m4 0h0m51 0h0m7 0h0m5 0h0m3 0h0m3 0h0m26 0h0m1 0h0m1 0h0m-437 1h0m12 0h0m6 0h0m2 0h0m2 0h0m1 0h0m2 0h0m56 0h0m30 0h0m8 0h0m18 0h0m1 0h0m2 0h0m1 0h0m47 0h0m1 0h0m8 0h0m3 0h0m13 0h0m27 0h0m64 0h0m87 0h0m12 0h0m3 0h0m4 0h0m-413 1h0m6 0h0m5 0h0m3 0h0m3 0h0m9 0h0m2 0h0m18 0h0m1 0h0m40 0h0m1 0h0m18 0h0m5 0h0m8 0h0m2 0h0m19 0h0m53 0h0m4 0h0m1 0h0m3 0h0m2 0h0m8 0h0m3 0h0m27 0h0m3 0h0m55 0h0m4 0h0m4 0h0m1 0h0m4 0h0m28 0h0m59 0h0m12 0h0m2 0h0m26 0h0m-434 1h0m3 0h0m1 0h0m4 0h0m3 0h0m1 0h0m1 0h0m3 0h0m1 0h0m1 0h0m2 0h0m1 0h0m21 0h0m1 0h0m50 0h0m2 0h0m1 0h0m16 0h0m5 0h0m65 0h0m4 0h0m1 0h0m3 0h0m5 0h0m3 0h0m2 0h0m2 0h0m92 0h0m5 0h0m6 0h0m31 0h0m3 0h0m55 0h0m10 0h0m30 0h0m-437 1h0m1 0h0m1 0h0m4 0h0m1 0h0m8 0h0m3 0h0m3 0h0m2 0h0m22 0h0m41 0h0m12 0h0m3 0h0m11 0h0m2 0h0m2 0h0m55 0h0m16 0h0m6 0h0m1 0h0m5 0h0m2 0h0m1 0h0m1 0h0m4 0h0m9 0h0m17 0h0m7 0h0m61 0h0m1 0h0m98 0h0m3 0h0m5 0h0m-408 1h0m3 0h0m1 0h0m7 0h0m2 0h0m6 0h0m29 0h0m38 0h0m10 0h0m1 0h0m2 0h0m2 0h0m2 0h0m1 0h0m1 0h0m4 0h0m7 0h0m72 0h0m4 0h0m3 0h0m5 0h0m1 0h0m6 0h0m29 0h0m32 0h0m1 0h0m28 0h0m1 0h0m8 0h0m1 0h0m94 0h0m4 0h0m30 0h0m2 0h0m-448 1h0m2 0h0m10 0h0m7 0h0m3 0h0m1 0h0m8 0h0m26 0h0m1 0h0m1 0h0m43 0h0m11 0h0m12 0h0m2 0h0m1 0h0m18 0h0m48 0h0m10 0h0m5 0h0m7 0h0m1 0h0m3 0h0m27 0h0m2 0h0m35 0h0m3 0h0m17 0h0m16 0h0m27 0h0m1 0h0m28 0h0m10 0h0m27 0h0m2 0h0m30 0h0m-440 1h0m6 0h0m2 0h0m2 0h0m8 0h0m4 0h0m10 0h0m14 0h0m64 0h0m5 0h0m4 0h0m3 0h0m5 0h0m88 0h0m26 0h0m1 0h0m37 0h0m1 0h0m11 0h0m5 0h0m4 0h0m4 0h0m1 0h0m82 0h0m22 0h0m31 0h0m-441 1h0m5 0h0m1 0h0m4 0h0m5 0h0m10 0h0m1 0h0m4 0h0m5 0h0m13 0h0m1 0h0m1 0h0m2 0h0m48 0h0m18 0h0m23 0h0m5 0h0m50 0h0m1 0h0m4 0h0m4 0h0m1 0h0m30 0h0m2 0h0m3 0h0m59 0h0m4 0h0m2 0h0m7 0h0m2 0h0m73 0h0m12 0h0m9 0h0m1 0h0m32 0h0m-443 1h0m7 0h0m4 0h0m2 0h0m5 0h0m3 0h0m1 0h0m9 0h0m1 0h0m17 0h0m53 0h0m1 0h0m2 0h0m5 0h0m10 0h0m4 0h0m4 0h0m64 0h0m6 0h0m3 0h0m1 0h0m3 0h0m5 0h0m3 0h0m5 0h0m1 0h0m20 0h0m61 0h0m2 0h0m2 0h0m1 0h0m3 0h0m3 0h0m1 0h0m2 0h0m3 0h0m27 0h0m43 0h0m2 0h0m9 0h0m6 0h0m2 0h0m3 0h0m1 0h0m32 0h0m1 0h0m2 0h0m-449 1h0m5 0h0m6 0h0m3 0h0m11 0h0m11 0h0m64 0h0m1 0h0m3 0h0m2 0h0m4 0h0m1 0h0m2 0h0m1 0h0m8 0h0m8 0h0m20 0h0m8 0h0m48 0h0m1 0h0m1 0h0m3 0h0m8 0h0m1 0h0m25 0h0m1 0h0m8 0h0m1 0h0m60 0h0m4 0h0m1 0h0m28 0h0m1 0h0m56 0h0m42 0h0m-464 1h0m17 0h0m3 0h0m12 0h0m4 0h0m10 0h0m6 0h0m1 0h0m1 0h0m1 0h0m62 0h0m6 0h0m9 0h0m4 0h0m1 0h0m2 0h0m4 0h0m2 0h0m63 0h0m8 0h0m2 0h0m11 0h0m5 0h0m5 0h0m3 0h0m2 0h0m17 0h0m1 0h0m53 0h0m1 0h0m1 0h0m4 0h0m2 0h0m6 0h0m1 0h0m3 0h0m1 0h0m3 0h0m29 0h0m1 0h0m40 0h0m18 0h0m3 0h0m2 0h0m34 0h0m-464 1h0m16 0h0m27 0h0m4 0h0m4 0h0m19 0h0m73 0h0m5 0h0m70 0h0m1 0h0m3 0h0m3 0h0m2 0h0m43 0h0m49 0h0m2 0h0m7 0h0m2 0h0m1 0h0m3 0h0m3 0h0m1 0h0m58 0h0m18 0h0m2 0h0m10 0h0m5 0h0m26 0h0m2 0h0m5 0h0m-430 1h0m1 0h0m7 0h0m10 0h0m1 0h0m17 0h0m54 0h0m4 0h0m1 0h0m2 0h0m3 0h0m1 0h0m3 0h0m5 0h0m1 0h0m4 0h0m72 0h0m13 0h0m1 0h0m7 0h0m61 0h0m11 0h0m10 0h0m1 0h0m7 0h0m31 0h0m45 0h0m3 0h0m3 0h0m4 0h0m1 0h0m2 0h0m4 0h0m7 0h0m1 0h0m28 0h0m-425 1h0m1 0h0m3 0h0m5 0h0m81 0h0m1 0h0m1 0h0m4 0h0m17 0h0m16 0h0m1 0h0m42 0h0m11 0h0m6 0h0m8 0h0m1 0h0m1 0h0m1 0h0m2 0h0m4 0h0m17 0h0m1 0h0m66 0h0m1 0h0m9 0h0m1 0h0m22 0h0m8 0h0m38 0h0m13 0h0m1 0h0m2 0h0m7 0h0m3 0h0m2 0h0m2 0h0m1 0h0m21 0h0m6 0h0m-430 1h0m4 0h0m11 0h0m21 0h0m39 0h0m5 0h0m1 0h0m16 0h0m32 0h0m48 0h0m14 0h0m4 0h0m15 0h0m77 0h0m9 0h0m7 0h0m4 0h0m97 0h0m22 0h0m-437 1h0m8 0h0m1 0h0m4 0h0m6 0h0m13 0h0m7 0h0m6 0h0m3 0h0m1 0h0m64 0h0m4 0h0m12 0h0m13 0h0m43 0h0m8 0h0m7 0h0m20 0h0m4 0h0m73 0h0m2 0h0m1 0h0m18 0h0m18 0h0m4 0h0m1 0h0m1 0h0m68 0h0m-410 1h0m24 0h0m6 0h0m4 0h0m14 0h0m49 0h0m10 0h0m1 0h0m7 0h0m2 0h0m1 0h0m67 0h0m1 0h0m7 0h0m2 0h0m21 0h0m4 0h0m15 0h0m3 0h0m1 0h0m74 0h0m19 0h0m1 0h0m54 0h0m3 0h0m2 0h0m1 0h0m1 0h0m1 0h0m14 0h0m3 0h0m24 0h0m-435 1h0m11 0h0m23 0h0m2 0h0m2 0h0m4 0h0m54 0h0m1 0h0m19 0h0m1 0h0m2 0h0m55 0h0m14 0h0m13 0h0m1 0h0m3 0h0m10 0h0m4 0h0m1 0h0m14 0h0m3 0h0m61 0h0m11 0h0m1 0h0m2 0h0m2 0h0m1 0h0m2 0h0m18 0h0m43 0h0m18 0h0m11 0h0m1 0h0m19 0h0m12 0h0m-437 1h0m1 0h0m8 0h0m8 0h0m17 0h0m2 0h0m1 0h0m5 0h0m51 0h0m20 0h0m1 0h0m1 0h0m3 0h0m1 0h0m2 0h0m1 0h0m3 0h0m1 0h0m10 0h0m2 0h0m62 0h0m19 0h0m77 0h0m12 0h0m22 0h0m1 0h0m44 0h0m27 0h0m6 0h0m27 0h0m-415 1h0m1 0h0m8 0h0m6 0h0m7 0h0m2 0h0m50 0h0m14 0h0m14 0h0m1 0h0m76 0h0m4 0h0m4 0h0m12 0h0m70 0h0m12 0h0m4 0h0m3 0h0m3 0h0m1 0h0m14 0h0m3 0h0m47 0h0m18 0h0m16 0h0m22 0h0m7 0h0m-464 1h0m1 0h0m34 0h0m9 0h0m4 0h0m2 0h0m3 0h0m7 0h0m2 0h0m1 0h0m9 0h0m38 0h0m16 0h0m7 0h0m14 0h0m4 0h0m9 0h0m4 0h0m3 0h0m53 0h0m4 0h0m3 0h0m29 0h0m72 0h0m11 0h0m16 0h0m60 0h0m1 0h0m6 0h0m7 0h0m5 0h0m16 0h0m13 0h0m-462 1h0m43 0h0m1 0h0m5 0h0m12 0h0m1 0h0m2 0h0m5 0h0m1 0h0m39 0h0m10 0h0m6 0h0m19 0h0m1 0h0m11 0h0m1 0h0m3 0h0m7 0h0m1 0h0m47 0h0m15 0h0m1 0h0m2 0h0m1 0h0m2 0h0m1 0h0m18 0h0m1 0h0m51 0h0m1 0h0m15 0h0m5 0h0m7 0h0m5 0h0m10 0h0m3 0h0m1 0h0m70 0h0m9 0h0m3 0h0m1 0h0m6 0h0m9 0h0m6 0h0m-435 1h0m5 0h0m5 0h0m10 0h0m6 0h0m1 0h0m1 0h0m4 0h0m5 0h0m1 0h0m8 0h0m75 0h0m1 0h0m1 0h0m1 0h0m13 0h0m55 0h0m2 0h0m7 0h0m3 0h0m1 0h0m3 0h0m11 0h0m8 0h0m60 0h0m5 0h0m7 0h0m6 0h0m14 0h0m76 0h0m1 0h0m6 0h0m1 0h0m1 0h0m5 0h0m3 0h0m1 0h0m7 0h0m9 0h0m-425 1h0m8 0h0m7 0h0m11 0h0m10 0h0m51 0h0m26 0h0m2 0h0m12 0h0m1 0h0m62 0h0m4 0h0m1 0h0m8 0h0m18 0h0m3 0h0m1 0h0m3 0h0m51 0h0m1 0h0m8 0h0m13 0h0m8 0h0m16 0h0m42 0h0m30 0h0m8 0h0m2 0h0m3 0h0m11 0h0m-430 1h0m5 0h0m4 0h0m6 0h0m3 0h0m6 0h0m5 0h0m14 0h0m81 0h0m8 0h0m2 0h0m3 0h0m1 0h0m81 0h0m2 0h0m1 0h0m4 0h0m8 0h0m59 0h0m2 0h0m15 0h0m8 0h0m4 0h0m3 0h0m4 0h0m84 0h0m2 0h0m4 0h0m-414 1h0m24 0h0m62 0h0m13 0h0m34 0h0m1 0h0m95 0h0m62 0h0m27 0h0m4 0h0m1 0h0m3 0h0m3 0h0m68 0h0m3 0h0m13 0h0m14 0h0m-418 1h0m25 0h0m1 0h0m87 0h0m1 0h0m5 0h0m1 0h0m6 0h0m71 0h0m13 0h0m9 0h0m73 0h0m10 0h0m18 0h0m71 0h0m2 0h0m4 0h0m2 0h0m13 0h0m1 0h0m6 0h0m-392 1h0m84 0h0m4 0h0m1 0h0m1 0h0m1 0h0m8 0h0m42 0h0m14 0h0m17 0h0m6 0h0m72 0h0m10 0h0m4 0h0m1 0h0m16 0h0m1 0h0m9 0h0m75 0h0m1 0h0m5 0h0m4 0h0m9 0h0m3 0h0m-435 1h0m1 0h0m47 0h0m4 0h0m173 0h0m8 0h0m2 0h0m3 0h0m4 0h0m54 0h0m2 0h0m8 0h0m1 0h0m24 0h0m2 0h0m1 0h0m66 0h0m13 0h0m3 0h0m1 0h0m9 0h0m-426 1h0m129 0h0m110 0h0m64 0h0m1 0h0m8 0h0m6 0h0m14 0h0m1 0h0m4 0h0m1 0h0m70 0h0m6 0h0m13 0h0m8 0h0m-390 1h0m88 0h0m4 0h0m95 0h0m104 0h0m95 0h0m4 0h0m1 0h0m-417 1h0m121 0h0m74 0h0m115 0h0m66 0h0m4 0h0m17 0h0m19 0h0m-307 1h0m86 0h0m195 0h0m2 0h0m2 0h0m1 0h0m14 0h0m7 0h0m-320 1h0m208 0h0m2 0h0m11 0h0m5 0h0m64 0h0m34 0h0m-332 1h0m9 0h0m190 0h0m19 0h0m-218 1h0m1 0h0m11 0h0m86 0h0m97 0h0m4 0h0m115 0h0m-396 1h0m382 0h0m1 0h0m13 0h0m3 0h0m1 0h0m1 0h0m-288 1h0m73 0h0m201 0h0m1 0h0m-8 3h0"/>
<path stroke="#d9d9d9" d="M120 27h0m2 0h0m2 0h0m90 0h0m171 0h0m1 0h0m25 0h0m-301 1h0m2 0h0m4 0h0m4 0h0m3 0h0m1 0h0m6 0h0m84 0h0m94 0h0m1 0h0m82 0h0m8 0h0m1 0h0m4 0h0m3 0h0m-291 1h0m1 0h0m2 0h0m11 0h0m85 0h0m78 0h0m6 0h0m14 0h0m3 0h0m78 0h0m5 0h0m1 0h0m1 0h0m3 0h0m3 0h0m9 0h0m-310 1h0m3 0h0m3 0h0m1 0h0m3 0h0m1 0h0m13 0h0m169 0h0m1 0h0m94 0h0m3 0h0m4 0h0m1 0h0m1 0h0m1 0h0m1 0h0m4 0h0m4 0h0m1 0h0m85 0h0m-393 1h0m5 0h0m1 0h0m1 0h0m1 0h0m2 0h0m1 0h0m2 0h0m10 0h0m82 0h0m88 0h0m2 0h0m5 0h0m2 0h0m1 0h0m1 0h0m88 0h0m12 0h0m4 0h0m91 0h0m3 0h0m-407 1h0m3 0h0m4 0h0m2 0h0m7 0h0m1 0h0m3 0h0m1 0h0m5 0h0m71 0h0m93 0h0m5 0h0m3 0h0m3 0h0m1 0h0m9 0h0m1 0h0m1 0h0m81 0h0m10 0h0m2 0h0m6 0h0m2 0h0m80 0h0m12 0h0m-404 1h0m1 0h0m1 0h0m4 0h0m2 0h0m2 0h0m1 0h0m3 0h0m1 0h0m4 0h0m1 0h0m4 0h0m2 0h0m74 0h0m3 0h0m1 0h0m1 0h0m2 0h0m12 0h0m77 0h0m13 0h0m1 0h0m1 0h0m8 0h0m72 0h0m3 0h0m5 0h0m2 0h0m1 0h0m2 0h0m5 0h0m6 0h0m80 0h0m-394 1h0m3 0h0m2 0h0m8 0h0m1 0h0m1 0h0m1 0h0m2 0h0m80 0h0m1 0h0m2 0h0m1 0h0m1 0h0m3 0h0m9 0h0m2 0h0m79 0h0m14 0h0m71 0h0m8 0h0m1 0h0m8 0h0m10 0h0m3 0h0m75 0h0m6 0h0m1 0h0m1 0h0m1 0h0m3 0h0m1 0h0m-398 1h0m2 0h0m13 0h0m5 0h0m2 0h0m1 0h0m69 0h0m5 0h0m6 0h0m87 0h0m8 0h0m4 0h0m2 0h0m2 0h0m2 0h0m1 0h0m3 0h0m73 0h0m3 0h0m1 0h0m1 0h0m5 0h0m2 0h0m1 0h0m3 0h0m4 0h0m1 0h0m68 0h0m13 0h0m5 0h0m-396 1h0m1 0h0m4 0h0m3 0h0m15 0h0m1 0h0m2 0h0m4 0h0m68 0h0m6 0h0m88 0h0m6 0h0m1 0h0m2 0h0m1 0h0m1 0h0m76 0h0m1 0h0m2 0h0m11 0h0m8 0h0m7 0h0m79 0h0m2 0h0m2 0h0m2 0h0m3 0h0m-405 1h0m3 0h0m27 0h0m1 0h0m1 0h0m73 0h0m2 0h0m6 0h0m6 0h0m1 0h0m1 0h0m2 0h0m76 0h0m1 0h0m4 0h0m2 0h0m1 0h0m1 0h0m5 0h0m1 0h0m1 0h0m4 0h0m6 0h0m70 0h0m2 0h0m2 0h0m1 0h0m2 0h0m5 0h0m9 0h0m81 0h0m5 0h0m2 0h0m1 0h0m12 0h0m5 0h0m-411 1h0m93 0h0m2 0h0m8 0h0m3 0h0m5 0h0m1 0h0m1 0h0m65 0h0m9 0h0m4 0h0m2 0h0m5 0h0m5 0h0m2 0h0m1 0h0m1 0h0m2 0h0m2 0h0m6 0h0m62 0h0m4 0h0m2 0h0m5 0h0m6 0h0m5 0h0m4 0h0m4 0h0m1 0h0m4 0h0m70 0h0m3 0h0m1 0h0m2 0h0m4 0h0m4 0h0m-403 1h0m1 0h0m1 0h0m1 0h0m21 0h0m2 0h0m75 0h0m1 0h0m9 0h0m1 0h0m3 0h0m79 0h0m10 0h0m3 0h0m8 0h0m1 0h0m68 0h0m2 0h0m3 0h0m1 0h0m1 0h0m2 0h0m9 0h0m2 0h0m2 0h0m1 0h0m2 0h0m5 0h0m1 0h0m2 0h0m86 0h0m1 0h0m1 0h0m-409 1h0m2 0h0m1 0h0m30 0h0m3 0h0m72 0h0m6 0h0m1 0h0m1 0h0m1 0h0m2 0h0m2 0h0m74 0h0m1 0h0m2 0h0m9 0h0m1 0h0m2 0h0m5 0h0m2 0h0m1 0h0m1 0h0m1 0h0m2 0h0m1 0h0m3 0h0m1 0h0m62 0h0m3 0h0m1 0h0m1 0h0m2 0h0m1 0h0m1 0h0m9 0h0m1 0h0m5 0h0m1 0h0m3 0h0m4 0h0m1 0h0m1 0h0m60 0h0m12 0h0m1 0h0m5 0h0m3 0h0m1 0h0m1 0h0m5 0h0m1 0h0m-413 1h0m1 0h0m5 0h0m1 0h0m24 0h0m67 0h0m5 0h0m1 0h0m4 0h0m1 0h0m7 0h0m4 0h0m5 0h0m8 0h0m54 0h0m15 0h0m15 0h0m2 0h0m1 0h0m2 0h0m1 0h0m1 0h0m71 0h0m1 0h0m12 0h0m1 0h0m1 0h0m6 0h0m1 0h0m1 0h0m2 0h0m1 0h0m70 0h0m3 0h0m1 0h0m7 0h0m1 0h0m8 0h0m-414 1h0m1 0h0m3 0h0m1 0h0m1 0h0m23 0h0m1 0h0m76 0h0m2 0h0m3 0h0m1 0h0m3 0h0m1 0h0m15 0h0m1 0h0m58 0h0m8 0h0m2 0h0m1 0h0m2 0h0m7 0h0m8 0h0m2 0h0m2 0h0m1 0h0m7 0h0m1 0h0m59 0h0m9 0h0m19 0h0m6 0h0m72 0h0m1 0h0m14 0h0m2 0h0m1 0h0m1 0h0m4 0h0m-411 1h0m26 0h0m73 0h0m7 0h0m5 0h0m1 0h0m3 0h0m3 0h0m5 0h0m64 0h0m1 0h0m2 0h0m4 0h0m4 0h0m1 0h0m83 0h0m3 0h0m2 0h0m1 0h0m2 0h0m10 0h0m5 0h0m8 0h0m1 0h0m4 0h0m67 0h0m1 0h0m4 0h0m10 0h0m3 0h0m3 0h0m-409 1h0m27 0h0m1 0h0m2 0h0m1 0h0m63 0h0m7 0h0m12 0h0m77 0h0m7 0h0m8 0h0m11 0h0m2 0h0m4 0h0m3 0h0m2 0h0m61 0h0m1 0h0m1 0h0m22 0h0m2 0h0m1 0h0m3 0h0m65 0h0m3 0h0m3 0h0m2 0h0m18 0h0m1 0h0m8 0h0m-420 1h0m2 0h0m1 0h0m26 0h0m4 0h0m64 0h0m1 0h0m4 0h0m1 0h0m14 0h0m1 0h0m3 0h0m3 0h0m1 0h0m1 0h0m68 0h0m1 0h0m4 0h0m3 0h0m23 0h0m60 0h0m4 0h0m2 0h0m16 0h0m3 0h0m2 0h0m3 0h0m2 0h0m1 0h0m1 0h0m3 0h0m66 0h0m18 0h0m5 0h0m1 0h0m1 0h0m1 0h0m-418 1h0m29 0h0m3 0h0m5 0h0m70 0h0m15 0h0m4 0h0m1 0h0m71 0h0m24 0h0m2 0h0m2 0h0m1 0h0m2 0h0m1 0h0m3 0h0m57 0h0m3 0h0m21 0h0m1 0h0m5 0h0m4 0h0m4 0h0m63 0h0m1 0h0m18 0h0m1 0h0m2 0h0m2 0h0m1 0h0m3 0h0m1 0h0m1 0h0m1 0h0m-424 1h0m3 0h0m1 0h0m1 0h0m28 0h0m1 0h0m1 0h0m1 0h0m8 0h0m52 0h0m2 0h0m1 0h0m21 0h0m2 0h0m6 0h0m72 0h0m3 0h0m15 0h0m2 0h0m4 0h0m7 0h0m1 0h0m60 0h0m1 0h0m3 0h0m2 0h0m22 0h0m4 0h0m1 0h0m1 0h0m1 0h0m4 0h0m59 0h0m2 0h0m1 0h0m2 0h0m17 0h0m1 0h0m7 0h0m5 0h0m-422 1h0m34 0h0m1 0h0m63 0h0m5 0h0m13 0h0m1 0h0m3 0h0m4 0h0m1 0h0m62 0h0m35 0h0m1 0h0m2 0h0m3 0h0m1 0h0m61 0h0m3 0h0m1 0h0m3 0h0m20 0h0m2 0h0m2 0h0m1 0h0m5 0h0m1 0h0m61 0h0m4 0h0m2 0h0m14 0h0m7 0h0m5 0h0m-423 1h0m1 0h0m30 0h0m3 0h0m1 0h0m2 0h0m1 0h0m2 0h0m60 0h0m2 0h0m1 0h0m2 0h0m13 0h0m6 0h0m6 0h0m5 0h0m90 0h0m3 0h0m3 0h0m1 0h0m56 0h0m4 0h0m3 0h0m2 0h0m23 0h0m1 0h0m1 0h0m3 0h0m70 0h0m21 0h0m2 0h0m1 0h0m2 0h0m4 0h0m-397 1h0m5 0h0m2 0h0m1 0h0m62 0h0m1 0h0m3 0h0m8 0h0m6 0h0m7 0h0m2 0h0m3 0h0m9 0h0m46 0h0m11 0h0m26 0h0m2 0h0m1 0h0m1 0h0m1 0h0m1 0h0m5 0h0m60 0h0m3 0h0m26 0h0m1 0h0m1 0h0m2 0h0m67 0h0m2 0h0m25 0h0m1 0h0m1 0h0m-423 1h0m4 0h0m3 0h0m26 0h0m1 0h0m1 0h0m2 0h0m70 0h0m20 0h0m3 0h0m1 0h0m1 0h0m7 0h0m57 0h0m30 0h0m1 0h0m2 0h0m2 0h0m3 0h0m2 0h0m56 0h0m2 0h0m2 0h0m1 0h0m27 0h0m1 0h0m6 0h0m1 0h0m67 0h0m15 0h0m5 0h0m2 0h0m5 0h0m-393 1h0m1 0h0m4 0h0m1 0h0m2 0h0m51 0h0m8 0h0m2 0h0m3 0h0m16 0h0m1 0h0m5 0h0m5 0h0m1 0h0m59 0h0m5 0h0m25 0h0m2 0h0m6 0h0m1 0h0m59 0h0m1 0h0m2 0h0m3 0h0m21 0h0m3 0h0m5 0h0m4 0h0m1 0h0m69 0h0m18 0h0m1 0h0m1 0h0m8 0h0m-430 1h0m3 0h0m2 0h0m5 0h0m24 0h0m5 0h0m3 0h0m1 0h0m1 0h0m56 0h0m4 0h0m1 0h0m1 0h0m1 0h0m1 0h0m1 0h0m20 0h0m5 0h0m52 0h0m6 0h0m6 0h0m2 0h0m3 0h0m25 0h0m1 0h0m1 0h0m59 0h0m4 0h0m2 0h0m1 0h0m2 0h0m25 0h0m7 0h0m2 0h0m1 0h0m55 0h0m4 0h0m2 0h0m1 0h0m20 0h0m4 0h0m1 0h0m1 0h0m1 0h0m6 0h0m-425 1h0m2 0h0m1 0h0m1 0h0m2 0h0m25 0h0m1 0h0m3 0h0m5 0h0m1 0h0m3 0h0m58 0h0m5 0h0m16 0h0m1 0h0m1 0h0m1 0h0m3 0h0m4 0h0m3 0h0m1 0h0m48 0h0m10 0h0m3 0h0m2 0h0m3 0h0m22 0h0m2 0h0m8 0h0m2 0h0m45 0h0m2 0h0m11 0h0m4 0h0m29 0h0m1 0h0m2 0h0m59 0h0m5 0h0m17 0h0m1 0h0m11 0h0m-425 1h0m1 0h0m1 0h0m2 0h0m28 0h0m2 0h0m1 0h0m2 0h0m1 0h0m1 0h0m1 0h0m58 0h0m2 0h0m1 0h0m6 0h0m17 0h0m5 0h0m2 0h0m1 0h0m1 0h0m7 0h0m1 0h0m52 0h0m2 0h0m3 0h0m6 0h0m23 0h0m1 0h0m1 0h0m2 0h0m2 0h0m2 0h0m54 0h0m1 0h0m25 0h0m10 0h0m3 0h0m65 0h0m3 0h0m3 0h0m13 0h0m1 0h0m2 0h0m9 0h0m4 0h0m-428 1h0m2 0h0m27 0h0m2 0h0m5 0h0m3 0h0m3 0h0m57 0h0m2 0h0m3 0h0m10 0h0m10 0h0m2 0h0m6 0h0m6 0h0m2 0h0m78 0h0m2 0h0m7 0h0m6 0h0m6 0h0m49 0h0m2 0h0m2 0h0m1 0h0m27 0h0m11 0h0m57 0h0m1 0h0m8 0h0m31 0h0m1 0h0m-427 1h0m1 0h0m1 0h0m35 0h0m58 0h0m2 0h0m1 0h0m3 0h0m21 0h0m6 0h0m3 0h0m55 0h0m5 0h0m33 0h0m1 0h0m2 0h0m1 0h0m4 0h0m1 0h0m51 0h0m1 0h0m45 0h0m1 0h0m62 0h0m3 0h0m11 0h0m20 0h0m-435 1h0m36 0h0m6 0h0m5 0h0m56 0h0m2 0h0m2 0h0m1 0h0m1 0h0m1 0h0m21 0h0m1 0h0m2 0h0m3 0h0m3 0h0m6 0h0m47 0h0m3 0h0m12 0h0m28 0h0m2 0h0m5 0h0m46 0h0m4 0h0m1 0h0m6 0h0m35 0h0m5 0h0m59 0h0m21 0h0m1 0h0m14 0h0m-436 1h0m4 0h0m2 0h0m1 0h0m1 0h0m2 0h0m23 0h0m11 0h0m2 0h0m1 0h0m2 0h0m2 0h0m61 0h0m22 0h0m2 0h0m3 0h0m2 0h0m1 0h0m54 0h0m1 0h0m2 0h0m2 0h0m2 0h0m22 0h0m4 0h0m7 0h0m1 0h0m1 0h0m5 0h0m1 0h0m41 0h0m10 0h0m3 0h0m2 0h0m26 0h0m8 0h0m1 0h0m3 0h0m57 0h0m7 0h0m1 0h0m1 0h0m1 0h0m7 0h0m6 0h0m15 0h0m2 0h0m-431 1h0m5 0h0m3 0h0m22 0h0m2 0h0m5 0h0m3 0h0m6 0h0m1 0h0m63 0h0m11 0h0m1 0h0m3 0h0m3 0h0m9 0h0m6 0h0m82 0h0m3 0h0m1 0h0m6 0h0m3 0h0m3 0h0m52 0h0m1 0h0m4 0h0m36 0h0m1 0h0m2 0h0m51 0h0m2 0h0m4 0h0m4 0h0m12 0h0m23 0h0m-435 1h0m6 0h0m4 0h0m22 0h0m10 0h0m3 0h0m2 0h0m1 0h0m48 0h0m5 0h0m4 0h0m33 0h0m1 0h0m1 0h0m47 0h0m9 0h0m25 0h0m20 0h0m1 0h0m1 0h0m40 0h0m10 0h0m2 0h0m1 0h0m1 0h0m39 0h0m2 0h0m1 0h0m54 0h0m4 0h0m4 0h0m1 0h0m3 0h0m7 0h0m18 0h0m3 0h0m-426 1h0m1 0h0m2 0h0m29 0h0m60 0h0m4 0h0m4 0h0m2 0h0m1 0h0m5 0h0m8 0h0m12 0h0m4 0h0m51 0h0m7 0h0m2 0h0m94 0h0m4 0h0m101 0h0m3 0h0m1 0h0m2 0h0m1 0h0m7 0h0m18 0h0m1 0h0m-431 1h0m2 0h0m4 0h0m1 0h0m1 0h0m38 0h0m53 0h0m5 0h0m5 0h0m29 0h0m1 0h0m3 0h0m54 0h0m2 0h0m85 0h0m9 0h0m7 0h0m90 0h0m4 0h0m8 0h0m3 0h0m3 0h0m5 0h0m19 0h0m2 0h0m-432 1h0m2 0h0m1 0h0m4 0h0m1 0h0m36 0h0m54 0h0m2 0h0m1 0h0m2 0h0m35 0h0m1 0h0m46 0h0m5 0h0m1 0h0m3 0h0m1 0h0m1 0h0m44 0h0m43 0h0m4 0h0m1 0h0m2 0h0m2 0h0m44 0h0m1 0h0m1 0h0m54 0h0m2 0h0m6 0h0m1 0h0m7 0h0m1 0h0m1 0h0m20 0h0m1 0h0m1 0h0m2 0h0m-441 1h0m5 0h0m5 0h0m3 0h0m40 0h0m52 0h0m3 0h0m6 0h0m9 0h0m5 0h0m16 0h0m53 0h0m4 0h0m45 0h0m47 0h0m1 0h0m3 0h0m1 0h0m2 0h0m1 0h0m43 0h0m47 0h0m5 0h0m1 0h0m3 0h0m8 0h0m27 0h0m4 0h0m-439 1h0m9 0h0m1 0h0m41 0h0m1 0h0m53 0h0m1 0h0m2 0h0m38 0h0m1 0h0m41 0h0m5 0h0m53 0h0m1 0h0m1 0h0m41 0h0m8 0h0m2 0h0m2 0h0m1 0h0m42 0h0m40 0h0m2 0h0m3 0h0m14 0h0m2 0h0m4 0h0m27 0h0m1 0h0m1 0h0m1 0h0m-438 1h0m6 0h0m2 0h0m1 0h0m2 0h0m1 0h0m40 0h0m1 0h0m51 0h0m40 0h0m7 0h0m40 0h0m1 0h0m2 0h0m3 0h0m2 0h0m22 0h0m22 0h0m43 0h0m2 0h0m2 0h0m5 0h0m5 0h0m42 0h0m1 0h0m45 0h0m7 0h0m2 0h0m7 0h0m1 0h0m5 0h0m6 0h0m-422 1h0m3 0h0m6 0h0m5 0h0m4 0h0m89 0h0m1 0h0m2 0h0m4 0h0m20 0h0m61 0h0m2 0h0m1 0h0m2 0h0m3 0h0m93 0h0m1 0h0m2 0h0m2 0h0m12 0h0m8 0h0m27 0h0m49 0h0m5 0h0m3 0h0m1 0h0m6 0h0m4 0h0m1 0h0m1 0h0m25 0h0m-431 1h0m2 0h0m1 0h0m40 0h0m2 0h0m1 0h0m49 0h0m4 0h0m36 0h0m50 0h0m5 0h0m26 0h0m21 0h0m42 0h0m5 0h0m2 0h0m13 0h0m86 0h0m3 0h0m7 0h0m2 0h0m6 0h0m-411 1h0m5 0h0m5 0h0m47 0h0m26 0h0m17 0h0m2 0h0m1 0h0m2 0h0m2 0h0m1 0h0m19 0h0m17 0h0m1 0h0m42 0h0m10 0h0m49 0h0m2 0h0m41 0h0m2 0h0m6 0h0m1 0h0m44 0h0m3 0h0m17 0h0m45 0h0m28 0h0m5 0h0m-462 1h0m21 0h0m9 0h0m2 0h0m41 0h0m1 0h0m4 0h0m44 0h0m3 0h0m40 0h0m1 0h0m43 0h0m2 0h0m4 0h0m6 0h0m42 0h0m48 0h0m6 0h0m46 0h0m1 0h0m42 0h0m9 0h0m2 0h0m40 0h0m1 0h0m-440 1h0m6 0h0m47 0h0m1 0h0m2 0h0m43 0h0m1 0h0m2 0h0m1 0h0m1 0h0m5 0h0m40 0h0m1 0h0m45 0h0m6 0h0m91 0h0m2 0h0m4 0h0m48 0h0m1 0h0m49 0h0m2 0h0m3 0h0m15 0h0m-415 1h0m1 0h0m8 0h0m4 0h0m1 0h0m1 0h0m33 0h0m2 0h0m4 0h0m45 0h0m2 0h0m1 0h0m4 0h0m22 0h0m1 0h0m2 0h0m15 0h0m1 0h0m2 0h0m40 0h0m4 0h0m3 0h0m1 0h0m2 0h0m46 0h0m2 0h0m2 0h0m41 0h0m3 0h0m1 0h0m1 0h0m14 0h0m40 0h0m45 0h0m9 0h0m1 0h0m34 0h0m1 0h0m-433 1h0m4 0h0m1 0h0m40 0h0m1 0h0m2 0h0m45 0h0m3 0h0m27 0h0m16 0h0m4 0h0m2 0h0m42 0h0m2 0h0m2 0h0m1 0h0m49 0h0m1 0h0m40 0h0m8 0h0m48 0h0m45 0h0m1 0h0m5 0h0m2 0h0m2 0h0m3 0h0m2 0h0m3 0h0m6 0h0m2 0h0m23 0h0m1 0h0m-437 1h0m2 0h0m2 0h0m2 0h0m42 0h0m1 0h0m1 0h0m47 0h0m2 0h0m26 0h0m2 0h0m3 0h0m11 0h0m2 0h0m2 0h0m36 0h0m4 0h0m7 0h0m5 0h0m85 0h0m7 0h0m1 0h0m6 0h0m48 0h0m1 0h0m1 0h0m38 0h0m9 0h0m1 0h0m2 0h0m1 0h0m7 0h0m-406 1h0m5 0h0m5 0h0m1 0h0m2 0h0m37 0h0m1 0h0m43 0h0m1 0h0m4 0h0m2 0h0m1 0h0m27 0h0m62 0h0m2 0h0m6 0h0m51 0h0m1 0h0m38 0h0m55 0h0m3 0h0m41 0h0m13 0h0m3 0h0m1 0h0m29 0h0m1 0h0m2 0h0m4 0h0m-445 1h0m1 0h0m10 0h0m45 0h0m40 0h0m3 0h0m3 0h0m1 0h0m31 0h0m16 0h0m2 0h0m40 0h0m3 0h0m1 0h0m1 0h0m1 0h0m51 0h0m1 0h0m4 0h0m30 0h0m6 0h0m3 0h0m1 0h0m53 0h0m1 0h0m30 0h0m16 0h0m5 0h0m2 0h0m5 0h0m7 0h0m28 0h0m1 0h0m-442 1h0m5 0h0m1 0h0m5 0h0m1 0h0m3 0h0m38 0h0m2 0h0m74 0h0m4 0h0m1 0h0m14 0h0m1 0h0m97 0h0m1 0h0m1 0h0m3 0h0m2 0h0m29 0h0m4 0h0m2 0h0m1 0h0m1 0h0m2 0h0m2 0h0m1 0h0m1 0h0m49 0h0m46 0h0m1 0h0m6 0h0m1 0h0m1 0h0m1 0h0m1 0h0m17 0h0m-420 1h0m4 0h0m2 0h0m4 0h0m20 0h0m1 0h0m25 0h0m42 0h0m1 0h0m1 0h0m2 0h0m1 0h0m2 0h0m45 0h0m40 0h0m3 0h0m2 0h0m5 0h0m50 0h0m41 0h0m4 0h0m1 0h0m27 0h0m26 0h0m2 0h0m45 0h0m1 0h0m4 0h0m1 0h0m38 0h0m1 0h0m1 0h0m-442 1h0m5 0h0m12 0h0m11 0h0m25 0h0m3 0h0m3 0h0m36 0h0m4 0h0m1 0h0m50 0h0m2 0h0m38 0h0m1 0h0m1 0h0m5 0h0m1 0h0m49 0h0m2 0h0m37 0h0m4 0h0m6 0h0m1 0h0m48 0h0m4 0h0m1 0h0m1 0h0m35 0h0m7 0h0m1 0h0m17 0h0m1 0h0m3 0h0m2 0h0m21 0h0m-439 1h0m5 0h0m6 0h0m82 0h0m9 0h0m29 0h0m4 0h0m1 0h0m12 0h0m2 0h0m4 0h0m41 0h0m3 0h0m49 0h0m1 0h0m41 0h0m3 0h0m2 0h0m1 0h0m24 0h0m30 0h0m5 0h0m36 0h0m1 0h0m1 0h0m2 0h0m1 0h0m4 0h0m2 0h0m8 0h0m2 0h0m6 0h0m-428 1h0m15 0h0m2 0h0m48 0h0m38 0h0m3 0h0m9 0h0m28 0h0m2 0h0m16 0h0m38 0h0m1 0h0m61 0h0m40 0h0m57 0h0m4 0h0m41 0h0m3 0h0m2 0h0m15 0h0m32 0h0m-450 1h0m9 0h0m2 0h0m46 0h0m2 0h0m46 0h0m1 0h0m3 0h0m1 0h0m24 0h0m2 0h0m2 0h0m3 0h0m16 0h0m42 0h0m2 0h0m1 0h0m52 0h0m42 0h0m1 0h0m1 0h0m2 0h0m1 0h0m51 0h0m1 0h0m1 0h0m5 0h0m38 0h0m1 0h0m2 0h0m2 0h0m2 0h0m10 0h0m37 0h0m-442 1h0m1 0h0m1 0h0m1 0h0m1 0h0m2 0h0m1 0h0m39 0h0m1 0h0m2 0h0m1 0h0m2 0h0m38 0h0m1 0h0m33 0h0m6 0h0m15 0h0m2 0h0m39 0h0m3 0h0m1 0h0m2 0h0m24 0h0m29 0h0m36 0h0m2 0h0m7 0h0m1 0h0m48 0h0m4 0h0m35 0h0m6 0h0m4 0h0m2 0h0m1 0h0m7 0h0m7 0h0m6 0h0m25 0h0m1 0h0m-439 1h0m1 0h0m2 0h0m4 0h0m40 0h0m2 0h0m3 0h0m44 0h0m1 0h0m1 0h0m1 0h0m28 0h0m4 0h0m1 0h0m14 0h0m48 0h0m24 0h0m27 0h0m1 0h0m1 0h0m36 0h0m37 0h0m26 0h0m2 0h0m35 0h0m4 0h0m4 0h0m1 0h0m17 0h0m4 0h0m1 0h0m1 0h0m3 0h0m-416 1h0m1 0h0m3 0h0m21 0h0m70 0h0m1 0h0m3 0h0m25 0h0m5 0h0m58 0h0m1 0h0m1 0h0m2 0h0m1 0h0m24 0h0m3 0h0m1 0h0m3 0h0m21 0h0m42 0h0m1 0h0m2 0h0m29 0h0m21 0h0m2 0h0m1 0h0m38 0h0m7 0h0m5 0h0m16 0h0m1 0h0m1 0h0m1 0h0m24 0h0m-448 1h0m7 0h0m3 0h0m4 0h0m1 0h0m44 0h0m1 0h0m4 0h0m38 0h0m35 0h0m1 0h0m2 0h0m2 0h0m1 0h0m54 0h0m9 0h0m18 0h0m6 0h0m1 0h0m2 0h0m1 0h0m21 0h0m32 0h0m7 0h0m1 0h0m1 0h0m1 0h0m2 0h0m23 0h0m1 0h0m3 0h0m2 0h0m1 0h0m2 0h0m2 0h0m21 0h0m2 0h0m7 0h0m33 0h0m1 0h0m1 0h0m7 0h0m7 0h0m10 0h0m2 0h0m1 0h0m1 0h0m21 0h0m4 0h0m-447 1h0m3 0h0m5 0h0m27 0h0m19 0h0m1 0h0m2 0h0m2 0h0m1 0h0m28 0h0m13 0h0m29 0h0m3 0h0m1 0h0m4 0h0m1 0h0m1 0h0m2 0h0m1 0h0m9 0h0m39 0h0m2 0h0m2 0h0m1 0h0m27 0h0m3 0h0m2 0h0m1 0h0m18 0h0m7 0h0m40 0h0m2 0h0m22 0h0m2 0h0m1 0h0m5 0h0m21 0h0m1 0h0m2 0h0m37 0h0m3 0h0m5 0h0m4 0h0m3 0h0m16 0h0m1 0h0m3 0h0m18 0h0m1 0h0m-443 1h0m5 0h0m5 0h0m3 0h0m20 0h0m58 0h0m9 0h0m1 0h0m2 0h0m30 0h0m6 0h0m14 0h0m4 0h0m33 0h0m1 0h0m1 0h0m2 0h0m1 0h0m2 0h0m3 0h0m22 0h0m3 0h0m3 0h0m3 0h0m13 0h0m2 0h0m3 0h0m11 0h0m31 0h0m1 0h0m1 0h0m1 0h0m1 0h0m28 0h0m8 0h0m18 0h0m5 0h0m41 0h0m1 0h0m2 0h0m7 0h0m10 0h0m3 0h0m3 0h0m1 0h0m2 0h0m22 0h0m-438 1h0m30 0h0m15 0h0m4 0h0m36 0h0m37 0h0m4 0h0m1 0h0m2 0h0m4 0h0m1 0h0m2 0h0m2 0h0m3 0h0m2 0h0m40 0h0m1 0h0m12 0h0m13 0h0m7 0h0m2 0h0m1 0h0m1 0h0m1 0h0m1 0h0m6 0h0m15 0h0m3 0h0m69 0h0m1 0h0m3 0h0m5 0h0m16 0h0m7 0h0m39 0h0m2 0h0m2 0h0m3 0h0m1 0h0m1 0h0m2 0h0m1 0h0m1 0h0m4 0h0m4 0h0m1 0h0m1 0h0m1 0h0m4 0h0m2 0h0m-423 1h0m4 0h0m1 0h0m5 0h0m23 0h0m1 0h0m18 0h0m1 0h0m2 0h0m47 0h0m1 0h0m1 0h0m32 0h0m5 0h0m5 0h0m6 0h0m4 0h0m45 0h0m24 0h0m2 0h0m4 0h0m3 0h0m6 0h0m2 0h0m10 0h0m1 0h0m38 0h0m27 0h0m2 0h0m25 0h0m2 0h0m10 0h0m39 0h0m1 0h0m1 0h0m2 0h0m2 0h0m3 0h0m1 0h0m8 0h0m2 0h0m8 0h0m-425 1h0m7 0h0m24 0h0m3 0h0m6 0h0m7 0h0m1 0h0m1 0h0m52 0h0m2 0h0m32 0h0m1 0h0m2 0h0m5 0h0m3 0h0m1 0h0m48 0h0m25 0h0m6 0h0m5 0h0m2 0h0m1 0h0m2 0h0m10 0h0m3 0h0m42 0h0m1 0h0m7 0h0m16 0h0m3 0h0m1 0h0m5 0h0m3 0h0m2 0h0m2 0h0m4 0h0m10 0h0m1 0h0m1 0h0m2 0h0m40 0h0m2 0h0m2 0h0m1 0h0m2 0h0m5 0h0m13 0h0m3 0h0m24 0h0m1 0h0m3 0h0m-444 1h0m8 0h0m16 0h0m2 0h0m9 0h0m15 0h0m1 0h0m1 0h0m50 0h0m25 0h0m5 0h0m2 0h0m1 0h0m2 0h0m5 0h0m13 0h0m39 0h0m21 0h0m2 0h0m1 0h0m2 0h0m1 0h0m1 0h0m2 0h0m19 0h0m4 0h0m1 0h0m1 0h0m37 0h0m1 0h0m4 0h0m3 0h0m1 0h0m3 0h0m3 0h0m13 0h0m7 0h0m2 0h0m1 0h0m2 0h0m2 0h0m2 0h0m14 0h0m1 0h0m5 0h0m5 0h0m37 0h0m1 0h0m1 0h0m3 0h0m6 0h0m1 0h0m9 0h0m5 0h0m2 0h0m2 0h0m18 0h0m2 0h0m4 0h0m-447 1h0m1 0h0m6 0h0m19 0h0m5 0h0m5 0h0m1 0h0m1 0h0m6 0h0m1 0h0m1 0h0m1 0h0m1 0h0m7 0h0m41 0h0m3 0h0m4 0h0m30 0h0m1 0h0m1 0h0m3 0h0m2 0h0m1 0h0m2 0h0m1 0h0m1 0h0m1 0h0m1 0h0m1 0h0m3 0h0m1 0h0m47 0h0m19 0h0m1 0h0m2 0h0m1 0h0m2 0h0m3 0h0m1 0h0m5 0h0m2 0h0m8 0h0m1 0h0m11 0h0m33 0h0m1 0h0m4 0h0m4 0h0m4 0h0m1 0h0m16 0h0m2 0h0m4 0h0m1 0h0m6 0h0m12 0h0m1 0h0m49 0h0m4 0h0m8 0h0m2 0h0m4 0h0m7 0h0m3 0h0m1 0h0m2 0h0m16 0h0m1 0h0m1 0h0m1 0h0m-438 1h0m10 0h0m13 0h0m3 0h0m1 0h0m3 0h0m2 0h0m1 0h0m4 0h0m1 0h0m1 0h0m1 0h0m1 0h0m5 0h0m37 0h0m34 0h0m11 0h0m2 0h0m1 0h0m2 0h0m3 0h0m1 0h0m3 0h0m2 0h0m5 0h0m42 0h0m2 0h0m22 0h0m1 0h0m1 0h0m2 0h0m1 0h0m1 0h0m2 0h0m1 0h0m2 0h0m2 0h0m4 0h0m1 0h0m6 0h0m5 0h0m35 0h0m12 0h0m1 0h0m2 0h0m17 0h0m4 0h0m5 0h0m2 0h0m5 0h0m16 0h0m1 0h0m3 0h0m3 0h0m37 0h0m2 0h0m1 0h0m5 0h0m3 0h0m1 0h0m1 0h0m9 0h0m2 0h0m3 0h0m19 0h0m1 0h0m-434 1h0m1 0h0m2 0h0m1 0h0m13 0h0m1 0h0m8 0h0m1 0h0m1 0h0m2 0h0m1 0h0m2 0h0m4 0h0m4 0h0m3 0h0m47 0h0m10 0h0m17 0h0m1 0h0m1 0h0m1 0h0m4 0h0m13 0h0m3 0h0m1 0h0m2 0h0m4 0h0m1 0h0m1 0h0m34 0h0m7 0h0m15 0h0m1 0h0m6 0h0m1 0h0m2 0h0m1 0h0m2 0h0m3 0h0m6 0h0m5 0h0m2 0h0m3 0h0m3 0h0m1 0h0m43 0h0m4 0h0m4 0h0m1 0h0m10 0h0m4 0h0m2 0h0m8 0h0m1 0h0m3 0h0m1 0h0m16 0h0m2 0h0m3 0h0m54 0h0m5 0h0m3 0h0m5 0h0m5 0h0m3 0h0m3 0h0m-429 1h0m6 0h0m3 0h0m14 0h0m5 0h0m6 0h0m1 0h0m13 0h0m5 0h0m42 0h0m5 0h0m1 0h0m1 0h0m2 0h0m1 0h0m18 0h0m5 0h0m6 0h0m2 0h0m10 0h0m1 0h0m7 0h0m35 0h0m3 0h0m5 0h0m1 0h0m3 0h0m6 0h0m2 0h0m1 0h0m3 0h0m7 0h0m5 0h0m10 0h0m3 0h0m3 0h0m1 0h0m5 0h0m44 0h0m4 0h0m1 0h0m4 0h0m9 0h0m3 0h0m3 0h0m3 0h0m5 0h0m1 0h0m4 0h0m3 0h0m1 0h0m1 0h0m1 0h0m1 0h0m2 0h0m3 0h0m3 0h0m1 0h0m4 0h0m2 0h0m1 0h0m2 0h0m40 0h0m8 0h0m9 0h0m4 0h0m1 0h0m3 0h0m1 0h0m1 0h0m5 0h0m8 0h0m8 0h0m3 0h0m-437 1h0m1 0h0m1 0h0m5 0h0m8 0h0m9 0h0m1 0h0m1 0h0m1 0h0m2 0h0m1 0h0m1 0h0m1 0h0m4 0h0m6 0h0m6 0h0m44 0h0m6 0h0m17 0h0m8 0h0m55 0h0m8 0h0m4 0h0m1 0h0m2 0h0m6 0h0m10 0h0m20 0h0m6 0h0m7 0h0m1 0h0m1 0h0m3 0h0m40 0h0m3 0h0m1 0h0m2 0h0m15 0h0m1 0h0m2 0h0m8 0h0m5 0h0m2 0h0m4 0h0m3 0h0m54 0h0m1 0h0m3 0h0m1 0h0m3 0h0m3 0h0m3 0h0m2 0h0m4 0h0m8 0h0m1 0h0m2 0h0m1 0h0m1 0h0m4 0h0m1 0h0m5 0h0m13 0h0m-449 1h0m4 0h0m1 0h0m2 0h0m3 0h0m2 0h0m16 0h0m3 0h0m2 0h0m5 0h0m1 0h0m5 0h0m3 0h0m7 0h0m1 0h0m4 0h0m32 0h0m10 0h0m2 0h0m17 0h0m1 0h0m1 0h0m1 0h0m1 0h0m3 0h0m8 0h0m5 0h0m4 0h0m42 0h0m8 0h0m1 0h0m1 0h0m4 0h0m1 0h0m5 0h0m1 0h0m1 0h0m1 0h0m9 0h0m2 0h0m5 0h0m3 0h0m7 0h0m5 0h0m55 0h0m2 0h0m1 0h0m4 0h0m1 0h0m10 0h0m1 0h0m5 0h0m2 0h0m4 0h0m2 0h0m6 0h0m4 0h0m1 0h0m1 0h0m4 0h0m47 0h0m3 0h0m3 0h0m5 0h0m1 0h0m2 0h0m4 0h0m16 0h0m1 0h0m5 0h0m7 0h0m1 0h0m1 0h0m7 0h0m-443 1h0m19 0h0m2 0h0m1 0h0m1 0h0m1 0h0m6 0h0m1 0h0m1 0h0m1 0h0m1 0h0m10 0h0m8 0h0m41 0h0m3 0h0m15 0h0m2 0h0m11 0h0m18 0h0m2 0h0m1 0h0m1 0h0m1 0h0m37 0h0m1 0h0m4 0h0m4 0h0m2 0h0m3 0h0m16 0h0m1 0h0m1 0h0m5 0h0m7 0h0m5 0h0m56 0h0m2 0h0m3 0h0m4 0h0m3 0h0m1 0h0m3 0h0m1 0h0m6 0h0m17 0h0m1 0h0m7 0h0m2 0h0m2 0h0m5 0h0m2 0h0m48 0h0m3 0h0m2 0h0m3 0h0m4 0h0m6 0h0m7 0h0m3 0h0m1 0h0m4 0h0m3 0h0m1 0h0m1 0h0m-443 1h0m7 0h0m2 0h0m6 0h0m5 0h0m9 0h0m1 0h0m7 0h0m6 0h0m1 0h0m2 0h0m10 0h0m55 0h0m17 0h0m1 0h0m4 0h0m8 0h0m1 0h0m2 0h0m3 0h0m6 0h0m3 0h0m40 0h0m3 0h0m2 0h0m2 0h0m1 0h0m2 0h0m18 0h0m1 0h0m13 0h0m3 0h0m5 0h0m57 0h0m13 0h0m1 0h0m2 0h0m6 0h0m4 0h0m2 0h0m1 0h0m3 0h0m3 0h0m1 0h0m17 0h0m29 0h0m21 0h0m1 0h0m8 0h0m5 0h0m10 0h0m1 0h0m1 0h0m7 0h0m1 0h0m10 0h0m-445 1h0m8 0h0m6 0h0m2 0h0m9 0h0m7 0h0m7 0h0m14 0h0m45 0h0m2 0h0m1 0h0m3 0h0m1 0h0m11 0h0m2 0h0m2 0h0m3 0h0m2 0h0m2 0h0m4 0h0m15 0h0m1 0h0m1 0h0m45 0h0m1 0h0m1 0h0m1 0h0m3 0h0m4 0h0m1 0h0m2 0h0m2 0h0m1 0h0m1 0h0m3 0h0m1 0h0m2 0h0m4 0h0m3 0h0m6 0h0m1 0h0m10 0h0m1 0h0m2 0h0m50 0h0m2 0h0m5 0h0m7 0h0m1 0h0m2 0h0m1 0h0m3 0h0m1 0h0m5 0h0m3 0h0m1 0h0m1 0h0m2 0h0m10 0h0m12 0h0m46 0h0m6 0h0m5 0h0m3 0h0m4 0h0m3 0h0m12 0h0m1 0h0m1 0h0m1 0h0m3 0h0m1 0h0m1 0h0m2 0h0m2 0h0m-432 1h0m3 0h0m10 0h0m1 0h0m3 0h0m11 0h0m7 0h0m1 0h0m1 0h0m61 0h0m3 0h0m2 0h0m1 0h0m5 0h0m8 0h0m6 0h0m4 0h0m11 0h0m1 0h0m6 0h0m36 0h0m5 0h0m7 0h0m4 0h0m3 0h0m2 0h0m2 0h0m1 0h0m3 0h0m4 0h0m3 0h0m3 0h0m69 0h0m3 0h0m5 0h0m3 0h0m4 0h0m1 0h0m1 0h0m2 0h0m13 0h0m1 0h0m6 0h0m3 0h0m4 0h0m66 0h0m1 0h0m1 0h0m1 0h0m7 0h0m14 0h0m1 0h0m3 0h0m4 0h0m-439 1h0m3 0h0m3 0h0m1 0h0m3 0h0m1 0h0m1 0h0m11 0h0m1 0h0m2 0h0m8 0h0m3 0h0m59 0h0m5 0h0m2 0h0m1 0h0m7 0h0m3 0h0m2 0h0m15 0h0m30 0h0m27 0h0m2 0h0m4 0h0m1 0h0m2 0h0m3 0h0m3 0h0m3 0h0m3 0h0m4 0h0m1 0h0m2 0h0m1 0h0m5 0h0m1 0h0m11 0h0m14 0h0m52 0h0m2 0h0m1 0h0m3 0h0m1 0h0m3 0h0m1 0h0m2 0h0m3 0h0m4 0h0m1 0h0m7 0h0m18 0h0m41 0h0m20 0h0m10 0h0m10 0h0m1 0h0m3 0h0m2 0h0m2 0h0m-433 1h0m3 0h0m3 0h0m1 0h0m1 0h0m1 0h0m3 0h0m1 0h0m2 0h0m2 0h0m3 0h0m2 0h0m1 0h0m8 0h0m67 0h0m5 0h0m5 0h0m3 0h0m4 0h0m1 0h0m3 0h0m2 0h0m5 0h0m61 0h0m7 0h0m5 0h0m1 0h0m7 0h0m7 0h0m7 0h0m7 0h0m8 0h0m57 0h0m10 0h0m2 0h0m1 0h0m11 0h0m8 0h0m4 0h0m4 0h0m50 0h0m26 0h0m14 0h0m4 0h0m1 0h0m1 0h0m2 0h0m1 0h0m2 0h0m1 0h0m-441 1h0m1 0h0m7 0h0m3 0h0m2 0h0m1 0h0m2 0h0m1 0h0m4 0h0m1 0h0m2 0h0m3 0h0m2 0h0m7 0h0m4 0h0m64 0h0m2 0h0m4 0h0m2 0h0m1 0h0m4 0h0m28 0h0m1 0h0m67 0h0m8 0h0m19 0h0m4 0h0m50 0h0m6 0h0m3 0h0m3 0h0m9 0h0m9 0h0m6 0h0m6 0h0m14 0h0m3 0h0m53 0h0m6 0h0m15 0h0m4 0h0m4 0h0m6 0h0m-430 1h0m2 0h0m2 0h0m1 0h0m1 0h0m1 0h0m1 0h0m1 0h0m2 0h0m2 0h0m3 0h0m3 0h0m9 0h0m1 0h0m7 0h0m4 0h0m49 0h0m11 0h0m84 0h0m14 0h0m9 0h0m1 0h0m4 0h0m1 0h0m88 0h0m1 0h0m24 0h0m3 0h0m9 0h0m54 0h0m3 0h0m1 0h0m6 0h0m1 0h0m19 0h0m3 0h0m-430 1h0m11 0h0m3 0h0m19 0h0m10 0h0m51 0h0m5 0h0m5 0h0m1 0h0m1 0h0m2 0h0m2 0h0m20 0h0m62 0h0m4 0h0m1 0h0m7 0h0m4 0h0m2 0h0m2 0h0m2 0h0m2 0h0m5 0h0m2 0h0m1 0h0m67 0h0m1 0h0m1 0h0m6 0h0m1 0h0m8 0h0m1 0h0m6 0h0m68 0h0m22 0h0m-410 1h0m4 0h0m1 0h0m9 0h0m3 0h0m2 0h0m1 0h0m9 0h0m10 0h0m3 0h0m7 0h0m54 0h0m1 0h0m2 0h0m2 0h0m1 0h0m2 0h0m1 0h0m4 0h0m1 0h0m74 0h0m11 0h0m2 0h0m5 0h0m10 0h0m70 0h0m7 0h0m1 0h0m16 0h0m15 0h0m4 0h0m2 0h0m76 0h0m-408 1h0m1 0h0m1 0h0m2 0h0m8 0h0m1 0h0m3 0h0m2 0h0m2 0h0m5 0h0m12 0h0m63 0h0m18 0h0m10 0h0m59 0h0m2 0h0m3 0h0m2 0h0m8 0h0m5 0h0m3 0h0m74 0h0m21 0h0m6 0h0m1 0h0m1 0h0m16 0h0m70 0h0m9 0h0m-397 1h0m7 0h0m2 0h0m1 0h0m9 0h0m8 0h0m63 0h0m2 0h0m1 0h0m1 0h0m9 0h0m13 0h0m67 0h0m7 0h0m2 0h0m4 0h0m1 0h0m1 0h0m3 0h0m2 0h0m11 0h0m4 0h0m8 0h0m68 0h0m29 0h0m10 0h0m52 0h0m3 0h0m31 0h0m-430 1h0m15 0h0m4 0h0m1 0h0m3 0h0m15 0h0m60 0h0m14 0h0m2 0h0m10 0h0m76 0h0m12 0h0m9 0h0m74 0h0m8 0h0m124 0h0m-429 1h0m2 0h0m1 0h0m6 0h0m13 0h0m9 0h0m159 0h0m1 0h0m22 0h0m21 0h0m70 0h0m12 0h0m107 0h0m14 0h0m1 0h0m-434 1h0m9 0h0m1 0h0m3 0h0m1 0h0m3 0h0m1 0h0m9 0h0m70 0h0m14 0h0m102 0h0m17 0h0m64 0h0m56 0h0m35 0h0m-386 1h0m9 0h0m16 0h0m14 0h0m73 0h0m17 0h0m75 0h0m13 0h0m82 0h0m-244 7h0m7 0h0m1 0h0m4 0h0m1 0h0m3 0h0m3 0h0m184 0h0m6 0h0m71 0h0m20 0h0m98 0h0m-401 1h0m3 0h0m4 0h0m6 0h0m3 0h0m8 0h0m2 0h0m1 0h0m93 0h0m79 0h0m4 0h0m5 0h0m5 0h0m2 0h0m88 0h0m88 0h0m-398 1h0m11 0h0m1 0h0m3 0h0m5 0h0m1 0h0m11 0h0m2 0h0m64 0h0m19 0h0m94 0h0m3 0h0m1 0h0m1 0h0m1 0h0m2 0h0m2 0h0m1 0h0m74 0h0m13 0h0m89 0h0m17 0h0m1 0h0m-419 1h0m1 0h0m2 0h0m3 0h0m1 0h0m7 0h0m8 0h0m10 0h0m3 0h0m86 0h0m3 0h0m84 0h0m4 0h0m2 0h0m5 0h0m6 0h0m77 0h0m6 0h0m1 0h0m2 0h0m6 0h0m84 0h0m11 0h0m1 0h0m3 0h0m4 0h0m1 0h0m-412 1h0m5 0h0m15 0h0m1 0h0m6 0h0m1 0h0m1 0h0m69 0h0m100 0h0m7 0h0m6 0h0m4 0h0m1 0h0m2 0h0m2 0h0m67 0h0m1 0h0m1 0h0m2 0h0m2 0h0m7 0h0m2 0h0m2 0h0m2 0h0m4 0h0m4 0h0m64 0h0m11 0h0m7 0h0m1 0h0m3 0h0m4 0h0m4 0h0m-414 1h0m4 0h0m3 0h0m1 0h0m3 0h0m3 0h0m98 0h0m2 0h0m2 0h0m1 0h0m1 0h0m1 0h0m5 0h0m71 0h0m5 0h0m1 0h0m7 0h0m4 0h0m1 0h0m4 0h0m1 0h0m1 0h0m5 0h0m67 0h0m6 0h0m1 0h0m4 0h0m1 0h0m6 0h0m3 0h0m3 0h0m2 0h0m4 0h0m77 0h0m2 0h0m2 0h0m9 0h0m4 0h0m1 0h0m-420 1h0m2 0h0m1 0h0m3 0h0m3 0h0m1 0h0m3 0h0m1 0h0m20 0h0m76 0h0m6 0h0m2 0h0m1 0h0m10 0h0m57 0h0m18 0h0m3 0h0m3 0h0m1 0h0m2 0h0m3 0h0m1 0h0m1 0h0m1 0h0m4 0h0m1 0h0m4 0h0m56 0h0m7 0h0m10 0h0m1 0h0m6 0h0m4 0h0m6 0h0m2 0h0m1 0h0m3 0h0m73 0h0m4 0h0m4 0h0m2 0h0m2 0h0m3 0h0m2 0h0m3 0h0m1 0h0m-407 1h0m26 0h0m2 0h0m62 0h0m7 0h0m5 0h0m1 0h0m4 0h0m4 0h0m5 0h0m2 0h0m72 0h0m4 0h0m1 0h0m2 0h0m1 0h0m5 0h0m3 0h0m1 0h0m2 0h0m1 0h0m75 0h0m1 0h0m6 0h0m1 0h0m1 0h0m6 0h0m1 0h0m3 0h0m2 0h0m1 0h0m2 0h0m1 0h0m2 0h0m73 0h0m1 0h0m1 0h0m1 0h0m2 0h0m11 0h0m3 0h0m3 0h0m4 0h0m-436 1h0m18 0h0m2 0h0m1 0h0m4 0h0m94 0h0m13 0h0m9 0h0m1 0h0m1 0h0m1 0h0m3 0h0m47 0h0m3 0h0m18 0h0m3 0h0m1 0h0m1 0h0m1 0h0m1 0h0m1 0h0m9 0h0m6 0h0m62 0h0m7 0h0m4 0h0m4 0h0m3 0h0m3 0h0m7 0h0m1 0h0m2 0h0m1 0h0m1 0h0m2 0h0m5 0h0m68 0h0m6 0h0m1 0h0m14 0h0m2 0h0m4 0h0m1 0h0m-419 1h0m3 0h0m33 0h0m63 0h0m9 0h0m8 0h0m5 0h0m2 0h0m1 0h0m5 0h0m67 0h0m1 0h0m3 0h0m3 0h0m5 0h0m3 0h0m7 0h0m1 0h0m1 0h0m2 0h0m3 0h0m69 0h0m4 0h0m2 0h0m6 0h0m5 0h0m3 0h0m7 0h0m1 0h0m64 0h0m4 0h0m1 0h0m4 0h0m2 0h0m20 0h0m3 0h0m-429 1h0m5 0h0m3 0h0m2 0h0m3 0h0m4 0h0m26 0h0m2 0h0m57 0h0m1 0h0m13 0h0m2 0h0m7 0h0m2 0h0m3 0h0m5 0h0m1 0h0m1 0h0m3 0h0m1 0h0m54 0h0m1 0h0m5 0h0m3 0h0m3 0h0m1 0h0m6 0h0m87 0h0m3 0h0m3 0h0m2 0h0m6 0h0m5 0h0m4 0h0m2 0h0m2 0h0m55 0h0m14 0h0m3 0h0m1 0h0m1 0h0m24 0h0m-419 1h0m1 0h0m2 0h0m33 0h0m56 0h0m4 0h0m14 0h0m1 0h0m1 0h0m7 0h0m4 0h0m1 0h0m1 0h0m2 0h0m1 0h0m3 0h0m2 0h0m56 0h0m3 0h0m8 0h0m3 0h0m2 0h0m3 0h0m4 0h0m10 0h0m1 0h0m2 0h0m1 0h0m67 0h0m2 0h0m24 0h0m1 0h0m5 0h0m60 0h0m5 0h0m1 0h0m2 0h0m1 0h0m3 0h0m1 0h0m20 0h0m-422 1h0m2 0h0m4 0h0m36 0h0m66 0h0m4 0h0m1 0h0m2 0h0m16 0h0m4 0h0m66 0h0m1 0h0m1 0h0m7 0h0m17 0h0m2 0h0m60 0h0m105 0h0m1 0h0m4 0h0m-395 1h0m100 0h0m9 0h0m3 0h0m1 0h0m74 0h0m4 0h0m1 0h0m1 0h0m3 0h0m3 0h0m2 0h0m4 0h0m18 0h0m3 0h0m2 0h0m61 0h0m32 0h0m1 0h0m1 0h0m64 0h0m1 0h0m2 0h0m29 0h0m1 0h0m-431 1h0m45 0h0m2 0h0m1 0h0m65 0h0m1 0h0m2 0h0m1 0h0m1 0h0m1 0h0m22 0h0m1 0h0m56 0h0m4 0h0m1 0h0m3 0h0m2 0h0m2 0h0m1 0h0m24 0h0m1 0h0m2 0h0m53 0h0m7 0h0m2 0h0m30 0h0m2 0h0m1 0h0m1 0h0m69 0h0m25 0h0m3 0h0m1 0h0m-432 1h0m1 0h0m1 0h0m7 0h0m2 0h0m38 0h0m58 0h0m1 0h0m2 0h0m7 0h0m22 0h0m1 0h0m60 0h0m8 0h0m25 0h0m59 0h0m8 0h0m28 0h0m3 0h0m1 0h0m1 0h0m2 0h0m63 0h0m1 0h0m27 0h0m-379 1h0m1 0h0m57 0h0m3 0h0m5 0h0m1 0h0m86 0h0m1 0h0m39 0h0m53 0h0m1 0h0m2 0h0m1 0h0m2 0h0m3 0h0m30 0h0m59 0h0m4 0h0m1 0h0m1 0h0m2 0h0m4 0h0m24 0h0m3 0h0m-437 1h0m9 0h0m1 0h0m44 0h0m54 0h0m9 0h0m3 0h0m84 0h0m6 0h0m1 0h0m1 0h0m31 0h0m56 0h0m3 0h0m1 0h0m2 0h0m4 0h0m30 0h0m2 0h0m1 0h0m56 0h0m39 0h0m2 0h0m-432 1h0m5 0h0m1 0h0m1 0h0m38 0h0m58 0h0m2 0h0m1 0h0m8 0h0m25 0h0m1 0h0m4 0h0m58 0h0m2 0h0m2 0h0m88 0h0m1 0h0m4 0h0m3 0h0m26 0h0m3 0h0m2 0h0m1 0h0m1 0h0m61 0h0m1 0h0m3 0h0m30 0h0m-435 1h0m4 0h0m7 0h0m2 0h0m90 0h0m7 0h0m2 0h0m5 0h0m29 0h0m1 0h0m1 0h0m2 0h0m54 0h0m2 0h0m2 0h0m3 0h0m29 0h0m2 0h0m2 0h0m41 0h0m15 0h0m1 0h0m1 0h0m33 0h0m2 0h0m94 0h0m5 0h0m-437 1h0m11 0h0m42 0h0m55 0h0m10 0h0m25 0h0m98 0h0m1 0h0m55 0h0m5 0h0m40 0h0m61 0h0m26 0h0m3 0h0m4 0h0m2 0h0m-430 1h0m1 0h0m3 0h0m35 0h0m7 0h0m46 0h0m10 0h0m2 0h0m2 0h0m33 0h0m3 0h0m50 0h0m1 0h0m3 0h0m1 0h0m32 0h0m5 0h0m1 0h0m1 0h0m1 0h0m50 0h0m5 0h0m34 0h0m5 0h0m54 0h0m6 0h0m1 0h0m3 0h0m1 0h0m25 0h0m1 0h0m2 0h0m1 0h0m-430 1h0m3 0h0m1 0h0m40 0h0m3 0h0m3 0h0m1 0h0m48 0h0m1 0h0m7 0h0m33 0h0m2 0h0m58 0h0m2 0h0m2 0h0m35 0h0m1 0h0m1 0h0m41 0h0m13 0h0m103 0h0m1 0h0m1 0h0m31 0h0m4 0h0m-439 1h0m4 0h0m1 0h0m5 0h0m4 0h0m37 0h0m2 0h0m3 0h0m55 0h0m33 0h0m1 0h0m57 0h0m2 0h0m2 0h0m35 0h0m1 0h0m1 0h0m4 0h0m51 0h0m1 0h0m1 0h0m2 0h0m38 0h0m59 0h0m2 0h0m35 0h0m1 0h0m-433 1h0m3 0h0m2 0h0m37 0h0m5 0h0m2 0h0m1 0h0m49 0h0m2 0h0m4 0h0m37 0h0m1 0h0m2 0h0m46 0h0m5 0h0m2 0h0m2 0h0m1 0h0m1 0h0m90 0h0m40 0h0m65 0h0m2 0h0m24 0h0m7 0h0m4 0h0m1 0h0m-439 1h0m2 0h0m3 0h0m1 0h0m5 0h0m35 0h0m4 0h0m2 0h0m1 0h0m1 0h0m1 0h0m142 0h0m1 0h0m7 0h0m35 0h0m1 0h0m1 0h0m4 0h0m57 0h0m34 0h0m2 0h0m1 0h0m1 0h0m1 0h0m39 0h0m14 0h0m34 0h0m1 0h0m7 0h0m2 0h0m-434 1h0m3 0h0m1 0h0m38 0h0m2 0h0m1 0h0m1 0h0m1 0h0m1 0h0m3 0h0m40 0h0m11 0h0m1 0h0m35 0h0m1 0h0m1 0h0m1 0h0m6 0h0m48 0h0m1 0h0m3 0h0m35 0h0m1 0h0m1 0h0m4 0h0m2 0h0m53 0h0m1 0h0m37 0h0m2 0h0m2 0h0m1 0h0m51 0h0m1 0h0m3 0h0m2 0h0m1 0h0m4 0h0m23 0h0m4 0h0m3 0h0m3 0h0m-434 1h0m1 0h0m2 0h0m37 0h0m6 0h0m54 0h0m1 0h0m38 0h0m2 0h0m2 0h0m5 0h0m49 0h0m7 0h0m33 0h0m2 0h0m1 0h0m3 0h0m46 0h0m7 0h0m2 0h0m4 0h0m1 0h0m28 0h0m1 0h0m1 0h0m53 0h0m11 0h0m2 0h0m25 0h0m6 0h0m1 0h0m1 0h0m-431 1h0m2 0h0m37 0h0m4 0h0m4 0h0m41 0h0m6 0h0m43 0h0m5 0h0m50 0h0m2 0h0m2 0h0m3 0h0m3 0h0m31 0h0m1 0h0m2 0h0m6 0h0m46 0h0m4 0h0m3 0h0m4 0h0m37 0h0m54 0h0m3 0h0m1 0h0m3 0h0m20 0h0m3 0h0m11 0h0m4 0h0m-446 1h0m3 0h0m13 0h0m2 0h0m28 0h0m3 0h0m2 0h0m3 0h0m55 0h0m4 0h0m38 0h0m2 0h0m1 0h0m1 0h0m52 0h0m1 0h0m2 0h0m1 0h0m33 0h0m5 0h0m55 0h0m2 0h0m35 0h0m5 0h0m55 0h0m3 0h0m4 0h0m2 0h0m30 0h0m4 0h0m1 0h0m-445 1h0m7 0h0m42 0h0m3 0h0m50 0h0m3 0h0m1 0h0m5 0h0m40 0h0m5 0h0m47 0h0m2 0h0m1 0h0m1 0h0m41 0h0m45 0h0m5 0h0m1 0h0m1 0h0m5 0h0m3 0h0m38 0h0m3 0h0m57 0h0m8 0h0m3 0h0m4 0h0m2 0h0m4 0h0m1 0h0m13 0h0m2 0h0m-436 1h0m5 0h0m3 0h0m2 0h0m33 0h0m53 0h0m2 0h0m1 0h0m1 0h0m2 0h0m2 0h0m38 0h0m1 0h0m52 0h0m7 0h0m33 0h0m1 0h0m6 0h0m44 0h0m7 0h0m8 0h0m34 0h0m6 0h0m57 0h0m8 0h0m3 0h0m1 0h0m5 0h0m3 0h0m18 0h0m1 0h0m-394 1h0m4 0h0m3 0h0m44 0h0m10 0h0m43 0h0m48 0h0m2 0h0m91 0h0m6 0h0m4 0h0m2 0h0m2 0h0m1 0h0m2 0h0m18 0h0m7 0h0m7 0h0m1 0h0m2 0h0m56 0h0m3 0h0m1 0h0m4 0h0m3 0h0m2 0h0m3 0h0m1 0h0m3 0h0m5 0h0m3 0h0m-428 1h0m6 0h0m1 0h0m1 0h0m8 0h0m32 0h0m4 0h0m2 0h0m52 0h0m2 0h0m91 0h0m3 0h0m45 0h0m51 0h0m5 0h0m1 0h0m6 0h0m31 0h0m1 0h0m2 0h0m57 0h0m5 0h0m1 0h0m5 0h0m7 0h0m2 0h0m2 0h0m19 0h0m-446 1h0m5 0h0m1 0h0m1 0h0m2 0h0m43 0h0m7 0h0m49 0h0m46 0h0m49 0h0m1 0h0m3 0h0m1 0h0m2 0h0m41 0h0m47 0h0m3 0h0m1 0h0m8 0h0m1 0h0m2 0h0m4 0h0m28 0h0m53 0h0m3 0h0m19 0h0m2 0h0m20 0h0m-432 1h0m3 0h0m1 0h0m38 0h0m4 0h0m49 0h0m3 0h0m44 0h0m52 0h0m1 0h0m98 0h0m2 0h0m2 0h0m1 0h0m2 0h0m7 0h0m30 0h0m1 0h0m54 0h0m5 0h0m3 0h0m6 0h0m2 0h0m6 0h0m2 0h0m17 0h0m-440 1h0m3 0h0m5 0h0m2 0h0m1 0h0m3 0h0m19 0h0m16 0h0m1 0h0m4 0h0m4 0h0m2 0h0m40 0h0m1 0h0m5 0h0m1 0h0m1 0h0m1 0h0m91 0h0m4 0h0m98 0h0m13 0h0m88 0h0m10 0h0m2 0h0m5 0h0m2 0h0m19 0h0m-441 1h0m9 0h0m6 0h0m38 0h0m41 0h0m1 0h0m6 0h0m7 0h0m43 0h0m1 0h0m38 0h0m9 0h0m3 0h0m1 0h0m47 0h0m46 0h0m6 0h0m6 0h0m1 0h0m1 0h0m2 0h0m1 0h0m5 0h0m2 0h0m7 0h0m6 0h0m60 0h0m10 0h0m10 0h0m1 0h0m3 0h0m2 0h0m2 0h0m-424 1h0m1 0h0m3 0h0m7 0h0m7 0h0m39 0h0m47 0h0m2 0h0m1 0h0m88 0h0m6 0h0m2 0h0m9 0h0m36 0h0m1 0h0m1 0h0m3 0h0m2 0h0m43 0h0m7 0h0m1 0h0m6 0h0m1 0h0m1 0h0m5 0h0m4 0h0m6 0h0m72 0h0m8 0h0m12 0h0m4 0h0m-422 1h0m10 0h0m1 0h0m3 0h0m1 0h0m13 0h0m24 0h0m35 0h0m4 0h0m4 0h0m7 0h0m35 0h0m13 0h0m42 0h0m13 0h0m41 0h0m2 0h0m48 0h0m1 0h0m10 0h0m2 0h0m7 0h0m8 0h0m21 0h0m69 0h0m3 0h0m22 0h0m3 0h0m1 0h0m-445 1h0m1 0h0m4 0h0m3 0h0m4 0h0m6 0h0m2 0h0m3 0h0m3 0h0m73 0h0m5 0h0m1 0h0m2 0h0m3 0h0m3 0h0m24 0h0m15 0h0m47 0h0m2 0h0m1 0h0m1 0h0m4 0h0m22 0h0m20 0h0m2 0h0m60 0h0m1 0h0m1 0h0m4 0h0m1 0h0m15 0h0m13 0h0m65 0h0m3 0h0m3 0h0m-408 1h0m2 0h0m7 0h0m3 0h0m31 0h0m3 0h0m46 0h0m2 0h0m33 0h0m3 0h0m12 0h0m36 0h0m12 0h0m8 0h0m43 0h0m55 0h0m2 0h0m1 0h0m6 0h0m3 0h0m1 0h0m3 0h0m2 0h0m83 0h0m7 0h0m6 0h0m4 0h0m19 0h0m-433 1h0m2 0h0m2 0h0m3 0h0m3 0h0m3 0h0m3 0h0m1 0h0m25 0h0m4 0h0m77 0h0m3 0h0m63 0h0m2 0h0m1 0h0m4 0h0m98 0h0m2 0h0m28 0h0m14 0h0m61 0h0m6 0h0m1 0h0m1 0h0m3 0h0m4 0h0m20 0h0m-434 1h0m1 0h0m5 0h0m6 0h0m2 0h0m1 0h0m3 0h0m1 0h0m2 0h0m20 0h0m4 0h0m1 0h0m36 0h0m3 0h0m6 0h0m1 0h0m1 0h0m1 0h0m2 0h0m3 0h0m27 0h0m58 0h0m5 0h0m10 0h0m1 0h0m39 0h0m1 0h0m2 0h0m43 0h0m12 0h0m2 0h0m1 0h0m2 0h0m1 0h0m4 0h0m5 0h0m5 0h0m4 0h0m3 0h0m13 0h0m57 0h0m3 0h0m8 0h0m2 0h0m26 0h0m-440 1h0m1 0h0m2 0h0m12 0h0m1 0h0m1 0h0m1 0h0m1 0h0m6 0h0m2 0h0m3 0h0m2 0h0m1 0h0m15 0h0m3 0h0m3 0h0m38 0h0m6 0h0m31 0h0m2 0h0m1 0h0m17 0h0m46 0h0m2 0h0m1 0h0m1 0h0m5 0h0m1 0h0m1 0h0m3 0h0m3 0h0m87 0h0m6 0h0m2 0h0m4 0h0m2 0h0m1 0h0m1 0h0m1 0h0m28 0h0m1 0h0m56 0h0m2 0h0m6 0h0m7 0h0m-415 1h0m11 0h0m4 0h0m5 0h0m9 0h0m2 0h0m1 0h0m1 0h0m14 0h0m1 0h0m5 0h0m38 0h0m6 0h0m1 0h0m2 0h0m1 0h0m11 0h0m9 0h0m3 0h0m3 0h0m6 0h0m10 0h0m1 0h0m2 0h0m1 0h0m45 0h0m5 0h0m2 0h0m1 0h0m1 0h0m1 0h0m1 0h0m1 0h0m1 0h0m1 0h0m1 0h0m3 0h0m36 0h0m2 0h0m47 0h0m7 0h0m2 0h0m1 0h0m2 0h0m1 0h0m1 0h0m2 0h0m1 0h0m1 0h0m1 0h0m79 0h0m21 0h0m1 0h0m25 0h0m-442 1h0m3 0h0m6 0h0m6 0h0m1 0h0m1 0h0m10 0h0m3 0h0m6 0h0m14 0h0m1 0h0m1 0h0m1 0h0m52 0h0m1 0h0m4 0h0m10 0h0m1 0h0m1 0h0m1 0h0m6 0h0m22 0h0m2 0h0m43 0h0m3 0h0m1 0h0m2 0h0m4 0h0m44 0h0m2 0h0m55 0h0m12 0h0m10 0h0m3 0h0m13 0h0m1 0h0m48 0h0m20 0h0m26 0h0m2 0h0m2 0h0m-438 1h0m3 0h0m1 0h0m4 0h0m9 0h0m2 0h0m27 0h0m1 0h0m44 0h0m1 0h0m3 0h0m1 0h0m5 0h0m3 0h0m3 0h0m4 0h0m2 0h0m1 0h0m1 0h0m1 0h0m1 0h0m2 0h0m1 0h0m11 0h0m11 0h0m6 0h0m1 0h0m44 0h0m1 0h0m4 0h0m1 0h0m3 0h0m2 0h0m8 0h0m1 0h0m25 0h0m62 0h0m1 0h0m3 0h0m1 0h0m6 0h0m26 0h0m3 0h0m43 0h0m2 0h0m21 0h0m1 0h0m25 0h0m1 0h0m3 0h0m2 0h0m-444 1h0m4 0h0m3 0h0m10 0h0m4 0h0m4 0h0m2 0h0m1 0h0m3 0h0m21 0h0m42 0h0m3 0h0m1 0h0m3 0h0m3 0h0m1 0h0m3 0h0m1 0h0m5 0h0m4 0h0m1 0h0m2 0h0m3 0h0m4 0h0m16 0h0m47 0h0m2 0h0m5 0h0m1 0h0m4 0h0m6 0h0m1 0h0m2 0h0m1 0h0m1 0h0m1 0h0m86 0h0m2 0h0m1 0h0m1 0h0m40 0h0m51 0h0m7 0h0m3 0h0m3 0h0m2 0h0m1 0h0m-412 1h0m6 0h0m4 0h0m5 0h0m6 0h0m1 0h0m9 0h0m2 0h0m15 0h0m53 0h0m2 0h0m5 0h0m2 0h0m1 0h0m4 0h0m1 0h0m6 0h0m1 0h0m20 0h0m3 0h0m45 0h0m7 0h0m5 0h0m5 0h0m2 0h0m3 0h0m8 0h0m24 0h0m49 0h0m7 0h0m3 0h0m5 0h0m1 0h0m2 0h0m2 0h0m82 0h0m1 0h0m10 0h0m4 0h0m4 0h0m24 0h0m-432 1h0m9 0h0m4 0h0m29 0h0m46 0h0m16 0h0m2 0h0m4 0h0m2 0h0m1 0h0m1 0h0m1 0h0m2 0h0m2 0h0m1 0h0m12 0h0m3 0h0m4 0h0m49 0h0m9 0h0m12 0h0m26 0h0m2 0h0m2 0h0m55 0h0m3 0h0m5 0h0m1 0h0m4 0h0m28 0h0m62 0h0m3 0h0m9 0h0m23 0h0m1 0h0m1 0h0m-437 1h0m20 0h0m25 0h0m48 0h0m4 0h0m2 0h0m3 0h0m1 0h0m2 0h0m1 0h0m3 0h0m2 0h0m2 0h0m6 0h0m4 0h0m2 0h0m12 0h0m1 0h0m3 0h0m32 0h0m23 0h0m6 0h0m2 0h0m5 0h0m1 0h0m3 0h0m3 0h0m79 0h0m5 0h0m2 0h0m1 0h0m3 0h0m3 0h0m3 0h0m30 0h0m58 0h0m1 0h0m7 0h0m5 0h0m24 0h0m1 0h0m-428 1h0m1 0h0m1 0h0m4 0h0m5 0h0m6 0h0m1 0h0m2 0h0m1 0h0m13 0h0m43 0h0m4 0h0m7 0h0m1 0h0m3 0h0m3 0h0m2 0h0m3 0h0m1 0h0m1 0h0m1 0h0m6 0h0m2 0h0m4 0h0m13 0h0m14 0h0m35 0h0m11 0h0m2 0h0m2 0h0m6 0h0m4 0h0m1 0h0m1 0h0m20 0h0m62 0h0m4 0h0m2 0h0m3 0h0m1 0h0m3 0h0m1 0h0m1 0h0m30 0h0m53 0h0m5 0h0m4 0h0m9 0h0m21 0h0m5 0h0m1 0h0m-447 1h0m1 0h0m1 0h0m5 0h0m4 0h0m9 0h0m13 0h0m3 0h0m2 0h0m16 0h0m46 0h0m1 0h0m15 0h0m2 0h0m3 0h0m4 0h0m2 0h0m1 0h0m15 0h0m2 0h0m2 0h0m1 0h0m53 0h0m2 0h0m1 0h0m3 0h0m5 0h0m2 0h0m4 0h0m5 0h0m3 0h0m21 0h0m57 0h0m5 0h0m4 0h0m1 0h0m1 0h0m20 0h0m11 0h0m1 0h0m1 0h0m27 0h0m31 0h0m3 0h0m4 0h0m1 0h0m2 0h0m2 0h0m22 0h0m3 0h0m1 0h0m-437 1h0m5 0h0m2 0h0m5 0h0m1 0h0m3 0h0m1 0h0m2 0h0m6 0h0m19 0h0m4 0h0m45 0h0m11 0h0m2 0h0m1 0h0m2 0h0m1 0h0m1 0h0m1 0h0m2 0h0m7 0h0m1 0h0m3 0h0m72 0h0m1 0h0m4 0h0m3 0h0m8 0h0m3 0h0m1 0h0m2 0h0m1 0h0m16 0h0m4 0h0m49 0h0m10 0h0m1 0h0m1 0h0m2 0h0m2 0h0m1 0h0m35 0h0m56 0h0m14 0h0m22 0h0m1 0h0m2 0h0m2 0h0m2 0h0m-442 1h0m15 0h0m7 0h0m8 0h0m2 0h0m16 0h0m1 0h0m2 0h0m47 0h0m3 0h0m1 0h0m9 0h0m4 0h0m8 0h0m16 0h0m55 0h0m9 0h0m1 0h0m6 0h0m1 0h0m2 0h0m2 0h0m4 0h0m3 0h0m16 0h0m4 0h0m39 0h0m21 0h0m3 0h0m1 0h0m2 0h0m32 0h0m2 0h0m38 0h0m11 0h0m5 0h0m3 0h0m11 0h0m1 0h0m27 0h0m-423 1h0m12 0h0m3 0h0m1 0h0m1 0h0m64 0h0m6 0h0m3 0h0m1 0h0m3 0h0m3 0h0m7 0h0m1 0h0m1 0h0m2 0h0m3 0h0m14 0h0m3 0h0m42 0h0m17 0h0m3 0h0m6 0h0m3 0h0m1 0h0m1 0h0m21 0h0m1 0h0m57 0h0m1 0h0m4 0h0m5 0h0m2 0h0m5 0h0m17 0h0m8 0h0m4 0h0m43 0h0m3 0h0m12 0h0m4 0h0m6 0h0m1 0h0m1 0h0m26 0h0m-439 1h0m9 0h0m2 0h0m13 0h0m1 0h0m1 0h0m3 0h0m3 0h0m1 0h0m2 0h0m68 0h0m2 0h0m3 0h0m14 0h0m4 0h0m13 0h0m3 0h0m2 0h0m58 0h0m3 0h0m1 0h0m1 0h0m9 0h0m3 0h0m4 0h0m13 0h0m4 0h0m1 0h0m59 0h0m2 0h0m3 0h0m7 0h0m28 0h0m1 0h0m1 0h0m52 0h0m18 0h0m4 0h0m21 0h0m2 0h0m1 0h0m3 0h0m2 0h0m-417 1h0m1 0h0m4 0h0m2 0h0m13 0h0m1 0h0m53 0h0m5 0h0m14 0h0m1 0h0m5 0h0m1 0h0m12 0h0m4 0h0m10 0h0m32 0h0m24 0h0m2 0h0m1 0h0m6 0h0m2 0h0m2 0h0m13 0h0m1 0h0m58 0h0m10 0h0m1 0h0m6 0h0m1 0h0m3 0h0m16 0h0m8 0h0m1 0h0m38 0h0m25 0h0m9 0h0m4 0h0m21 0h0m-441 1h0m38 0h0m11 0h0m1 0h0m1 0h0m74 0h0m2 0h0m4 0h0m69 0h0m5 0h0m1 0h0m7 0h0m3 0h0m1 0h0m5 0h0m19 0h0m3 0h0m55 0h0m6 0h0m3 0h0m1 0h0m4 0h0m3 0h0m4 0h0m23 0h0m2 0h0m37 0h0m20 0h0m5 0h0m3 0h0m4 0h0m24 0h0m1 0h0m1 0h0m1 0h0m-439 1h0m9 0h0m3 0h0m9 0h0m11 0h0m4 0h0m76 0h0m14 0h0m68 0h0m6 0h0m5 0h0m2 0h0m11 0h0m17 0h0m61 0h0m3 0h0m4 0h0m1 0h0m8 0h0m2 0h0m22 0h0m2 0h0m3 0h0m1 0h0m2 0h0m32 0h0m16 0h0m2 0h0m4 0h0m8 0h0m2 0h0m1 0h0m2 0h0m1 0h0m1 0h0m26 0h0m-406 1h0m2 0h0m2 0h0m10 0h0m52 0h0m1 0h0m11 0h0m7 0h0m6 0h0m5 0h0m11 0h0m67 0h0m1 0h0m3 0h0m3 0h0m2 0h0m1 0h0m4 0h0m1 0h0m15 0h0m1 0h0m55 0h0m12 0h0m1 0h0m1 0h0m2 0h0m3 0h0m1 0h0m3 0h0m2 0h0m19 0h0m1 0h0m2 0h0m2 0h0m1 0h0m2 0h0m38 0h0m7 0h0m15 0h0m3 0h0m4 0h0m2 0h0m1 0h0m22 0h0m1 0h0m3 0h0m1 0h0m-440 1h0m29 0h0m1 0h0m9 0h0m1 0h0m5 0h0m3 0h0m1 0h0m64 0h0m8 0h0m5 0h0m11 0h0m1 0h0m2 0h0m46 0h0m7 0h0m1 0h0m14 0h0m9 0h0m3 0h0m19 0h0m59 0h0m1 0h0m2 0h0m6 0h0m25 0h0m1 0h0m4 0h0m55 0h0m10 0h0m4 0h0m29 0h0m-437 1h0m14 0h0m4 0h0m1 0h0m1 0h0m3 0h0m2 0h0m6 0h0m2 0h0m1 0h0m7 0h0m3 0h0m1 0h0m1 0h0m3 0h0m6 0h0m32 0h0m8 0h0m16 0h0m8 0h0m7 0h0m1 0h0m15 0h0m55 0h0m3 0h0m14 0h0m3 0h0m1 0h0m1 0h0m3 0h0m19 0h0m51 0h0m7 0h0m1 0h0m5 0h0m1 0h0m4 0h0m5 0h0m1 0h0m1 0h0m15 0h0m4 0h0m3 0h0m1 0h0m58 0h0m6 0h0m2 0h0m5 0h0m24 0h0m3 0h0m-418 1h0m10 0h0m6 0h0m1 0h0m4 0h0m1 0h0m67 0h0m16 0h0m1 0h0m13 0h0m1 0h0m64 0h0m2 0h0m10 0h0m2 0h0m3 0h0m1 0h0m14 0h0m62 0h0m7 0h0m2 0h0m1 0h0m2 0h0m7 0h0m13 0h0m2 0h0m6 0h0m1 0h0m47 0h0m7 0h0m7 0h0m9 0h0m6 0h0m18 0h0m3 0h0m-428 1h0m2 0h0m13 0h0m8 0h0m1 0h0m11 0h0m1 0h0m3 0h0m48 0h0m19 0h0m6 0h0m5 0h0m1 0h0m1 0h0m1 0h0m11 0h0m2 0h0m34 0h0m21 0h0m3 0h0m18 0h0m1 0h0m1 0h0m2 0h0m75 0h0m3 0h0m13 0h0m6 0h0m1 0h0m15 0h0m2 0h0m60 0h0m12 0h0m2 0h0m5 0h0m3 0h0m2 0h0m11 0h0m3 0h0m6 0h0m-431 1h0m11 0h0m10 0h0m1 0h0m10 0h0m3 0h0m69 0h0m13 0h0m1 0h0m1 0h0m9 0h0m1 0h0m1 0h0m2 0h0m47 0h0m10 0h0m1 0h0m2 0h0m3 0h0m14 0h0m5 0h0m67 0h0m22 0h0m5 0h0m18 0h0m2 0h0m76 0h0m1 0h0m20 0h0m1 0h0m-434 1h0m9 0h0m32 0h0m2 0h0m2 0h0m51 0h0m40 0h0m65 0h0m4 0h0m14 0h0m1 0h0m2 0h0m3 0h0m13 0h0m61 0h0m8 0h0m2 0h0m4 0h0m1 0h0m1 0h0m2 0h0m3 0h0m10 0h0m11 0h0m37 0h0m12 0h0m19 0h0m2 0h0m7 0h0m2 0h0m2 0h0m10 0h0m1 0h0m1 0h0m-414 1h0m10 0h0m6 0h0m2 0h0m3 0h0m1 0h0m1 0h0m2 0h0m41 0h0m9 0h0m26 0h0m1 0h0m4 0h0m1 0h0m8 0h0m5 0h0m1 0h0m75 0h0m1 0h0m1 0h0m15 0h0m1 0h0m53 0h0m5 0h0m7 0h0m6 0h0m10 0h0m14 0h0m53 0h0m13 0h0m13 0h0m6 0h0m1 0h0m3 0h0m12 0h0m3 0h0m-411 1h0m6 0h0m8 0h0m5 0h0m1 0h0m1 0h0m2 0h0m3 0h0m81 0h0m6 0h0m1 0h0m4 0h0m82 0h0m2 0h0m4 0h0m73 0h0m6 0h0m2 0h0m3 0h0m1 0h0m4 0h0m92 0h0m1 0h0m6 0h0m1 0h0m1 0h0m1 0h0m6 0h0m3 0h0m2 0h0m1 0h0m2 0h0m1 0h0m7 0h0m-435 1h0m24 0h0m11 0h0m4 0h0m1 0h0m50 0h0m32 0h0m3 0h0m2 0h0m7 0h0m82 0h0m3 0h0m6 0h0m7 0h0m60 0h0m16 0h0m2 0h0m3 0h0m1 0h0m7 0h0m2 0h0m7 0h0m60 0h0m1 0h0m2 0h0m4 0h0m3 0h0m2 0h0m2 0h0m2 0h0m1 0h0m4 0h0m9 0h0m1 0h0m5 0h0m1 0h0m2 0h0m-433 1h0m11 0h0m18 0h0m1 0h0m9 0h0m87 0h0m4 0h0m4 0h0m1 0h0m71 0h0m13 0h0m2 0h0m2 0h0m1 0h0m1 0h0m2 0h0m1 0h0m1 0h0m78 0h0m1 0h0m1 0h0m3 0h0m10 0h0m1 0h0m8 0h0m83 0h0m6 0h0m6 0h0m1 0h0m2 0h0m-399 1h0m7 0h0m75 0h0m5 0h0m5 0h0m1 0h0m2 0h0m1 0h0m6 0h0m2 0h0m78 0h0m4 0h0m3 0h0m7 0h0m55 0h0m5 0h0m12 0h0m7 0h0m2 0h0m1 0h0m1 0h0m7 0h0m1 0h0m1 0h0m2 0h0m4 0h0m2 0h0m43 0h0m10 0h0m32 0h0m3 0h0m1 0h0m4 0h0m1 0h0m1 0h0m2 0h0m3 0h0m-328 1h0m35 0h0m70 0h0m16 0h0m2 0h0m1 0h0m5 0h0m80 0h0m1 0h0m16 0h0m3 0h0m69 0h0m4 0h0m6 0h0m5 0h0m8 0h0m1 0h0m2 0h0m7 0h0m-420 1h0m4 0h0m5 0h0m68 0h0m37 0h0m3 0h0m1 0h0m1 0h0m58 0h0m17 0h0m4 0h0m11 0h0m5 0h0m81 0h0m12 0h0m4 0h0m3 0h0m1 0h0m3 0h0m75 0h0m5 0h0m10 0h0m3 0h0m1 0h0m3 0h0m-436 1h0m29 0h0m109 0h0m3 0h0m1 0h0m77 0h0m12 0h0m5 0h0m2 0h0m2 0h0m1 0h0m70 0h0m15 0h0m1 0h0m3 0h0m2 0h0m7 0h0m79 0h0m8 0h0m1 0h0m3 0h0m4 0h0m1 0h0m9 0h0m-396 1h0m64 0h0m12 0h0m10 0h0m6 0h0m1 0h0m7 0h0m59 0h0m26 0h0m1 0h0m1 0h0m6 0h0m1 0h0m56 0h0m24 0h0m5 0h0m6 0h0m3 0h0m85 0h0m1 0h0m2 0h0m2 0h0m3 0h0m4 0h0m1 0h0m2 0h0m-405 1h0m1 0h0m21 0h0m76 0h0m12 0h0m59 0h0m26 0h0m5 0h0m8 0h0m1 0h0m3 0h0m69 0h0m10 0h0m79 0h0m-370 1h0m14 0h0m80 0h0m12 0h0m1 0h0m6 0h0m87 0h0m7 0h0m163 0h0m8 0h0m11 0h0m10 0h0m1 0h0m1 0h0m1 0h0m3 0h0m-331 1h0m132 0h0m64 0h0m2 0h0m1 0h0m26 0h0m5 0h0m4 0h0m69 0h0m17 0h0m8 0h0m1 0h0m-391 1h0m96 0h0m81 0h0m110 0h0m5 0h0m59 0h0m6 0h0m15 0h0m19 0h0m-425 1h0m314 0h0m59 0h0m28 0h0m27 0h0m-401 1h0m6 0h0m85 0h0m98 0h0m11 0h0m95 0h0m4 0h0m-291 1h0m61 0h0m22 0h0m-7 1h0m181 0h0m93 0h0m25 0h0m5 0h0m-398 1h0m185 0h0m183 0h0m39 0h0m-296 1h0m266 0h0m-294 2h0m189 0h0m12 0h0m118 0h0"/>
<path stroke="#bfbfbf" d="M399 27h0m-292 1h0m12 0h0m2 1h0m281 0h0m-101 1h0m-192 1h0m1 0h0m207 0h0m82 0h0m6 0h0m3 0h0m-299 1h0m2 0h0m1 0h0m1 0h0m1 0h0m1 0h0m4 0h0m4 0h0m273 0h0m13 0h0m3 0h0m2 0h0m-307 1h0m12 0h0m182 0h0m1 0h0m3 0h0m2 0h0m88 0h0m1 0h0m4 0h0m3 0h0m3 0h0m-300 1h0m4 0h0m1 0h0m4 0h0m99 0h0m91 0h0m8 0h0m88 0h0m6 0h0m1 0h0m1 0h0m2 0h0m83 0h0m1 0h0m-391 1h0m2 0h0m20 0h0m80 0h0m6 0h0m184 0h0m2 0h0m1 0h0m8 0h0m86 0h0m1 0h0m2 0h0m-400 1h0m7 0h0m2 0h0m3 0h0m10 0h0m1 0h0m1 0h0m83 0h0m9 0h0m4 0h0m9 0h0m72 0h0m12 0h0m2 0h0m81 0h0m1 0h0m2 0h0m2 0h0m2 0h0m2 0h0m4 0h0m1 0h0m87 0h0m2 0h0m-393 1h0m2 0h0m1 0h0m9 0h0m2 0h0m2 0h0m1 0h0m2 0h0m79 0h0m3 0h0m1 0h0m98 0h0m2 0h0m4 0h0m4 0h0m81 0h0m10 0h0m2 0h0m7 0h0m76 0h0m-367 1h0m2 0h0m4 0h0m70 0h0m6 0h0m7 0h0m2 0h0m73 0h0m13 0h0m1 0h0m88 0h0m2 0h0m1 0h0m4 0h0m11 0h0m1 0h0m1 0h0m89 0h0m2 0h0m2 0h0m-398 1h0m18 0h0m1 0h0m77 0h0m3 0h0m6 0h0m89 0h0m4 0h0m1 0h0m3 0h0m2 0h0m1 0h0m3 0h0m2 0h0m3 0h0m1 0h0m4 0h0m66 0h0m6 0h0m4 0h0m97 0h0m3 0h0m1 0h0m3 0h0m6 0h0m-408 1h0m103 0h0m2 0h0m1 0h0m1 0h0m2 0h0m5 0h0m83 0h0m13 0h0m2 0h0m79 0h0m9 0h0m1 0h0m6 0h0m4 0h0m77 0h0m1 0h0m7 0h0m7 0h0m2 0h0m-407 1h0m1 0h0m4 0h0m16 0h0m3 0h0m2 0h0m89 0h0m4 0h0m91 0h0m12 0h0m72 0h0m1 0h0m17 0h0m9 0h0m76 0h0m4 0h0m3 0h0m3 0h0m5 0h0m-410 1h0m1 0h0m23 0h0m1 0h0m1 0h0m49 0h0m27 0h0m4 0h0m4 0h0m1 0h0m1 0h0m82 0h0m15 0h0m2 0h0m6 0h0m1 0h0m70 0h0m1 0h0m1 0h0m12 0h0m2 0h0m2 0h0m1 0h0m1 0h0m5 0h0m84 0h0m2 0h0m1 0h0m4 0h0m5 0h0m-413 1h0m26 0h0m1 0h0m77 0h0m4 0h0m1 0h0m8 0h0m1 0h0m78 0h0m1 0h0m3 0h0m4 0h0m4 0h0m10 0h0m5 0h0m2 0h0m1 0h0m67 0h0m19 0h0m1 0h0m2 0h0m5 0h0m1 0h0m72 0h0m20 0h0m-410 1h0m2 0h0m21 0h0m74 0h0m4 0h0m4 0h0m1 0h0m1 0h0m2 0h0m3 0h0m1 0h0m4 0h0m2 0h0m74 0h0m1 0h0m3 0h0m1 0h0m14 0h0m1 0h0m77 0h0m4 0h0m3 0h0m11 0h0m1 0h0m9 0h0m85 0h0m-379 1h0m4 0h0m76 0h0m1 0h0m6 0h0m7 0h0m94 0h0m79 0h0m9 0h0m4 0h0m6 0h0m77 0h0m3 0h0m10 0h0m14 0h0m2 0h0m-420 1h0m1 0h0m1 0h0m1 0h0m23 0h0m75 0h0m9 0h0m6 0h0m79 0h0m2 0h0m8 0h0m5 0h0m3 0h0m1 0h0m16 0h0m60 0h0m14 0h0m3 0h0m6 0h0m9 0h0m68 0h0m15 0h0m9 0h0m5 0h0m1 0h0m-394 1h0m76 0h0m1 0h0m18 0h0m2 0h0m68 0h0m2 0h0m3 0h0m12 0h0m85 0h0m20 0h0m3 0h0m75 0h0m19 0h0m2 0h0m4 0h0m1 0h0m1 0h0m-418 1h0m23 0h0m2 0h0m3 0h0m65 0h0m10 0h0m3 0h0m4 0h0m2 0h0m3 0h0m4 0h0m1 0h0m69 0h0m3 0h0m6 0h0m1 0h0m1 0h0m12 0h0m5 0h0m6 0h0m66 0h0m22 0h0m2 0h0m4 0h0m6 0h0m68 0h0m2 0h0m12 0h0m3 0h0m4 0h0m5 0h0m2 0h0m-421 1h0m2 0h0m99 0h0m7 0h0m11 0h0m6 0h0m71 0h0m17 0h0m7 0h0m1 0h0m67 0h0m5 0h0m22 0h0m1 0h0m8 0h0m1 0h0m68 0h0m18 0h0m-384 1h0m73 0h0m2 0h0m7 0h0m10 0h0m68 0h0m1 0h0m23 0h0m1 0h0m1 0h0m5 0h0m75 0h0m19 0h0m2 0h0m78 0h0m1 0h0m14 0h0m4 0h0m1 0h0m1 0h0m5 0h0m1 0h0m1 0h0m3 0h0m-424 1h0m3 0h0m28 0h0m5 0h0m84 0h0m72 0h0m2 0h0m3 0h0m13 0h0m8 0h0m70 0h0m6 0h0m21 0h0m2 0h0m5 0h0m2 0h0m66 0h0m1 0h0m1 0h0m19 0h0m1 0h0m3 0h0m2 0h0m2 0h0m-419 1h0m1 0h0m1 0h0m25 0h0m4 0h0m67 0h0m1 0h0m10 0h0m3 0h0m3 0h0m3 0h0m1 0h0m6 0h0m68 0h0m1 0h0m24 0h0m2 0h0m1 0h0m2 0h0m75 0h0m11 0h0m5 0h0m3 0h0m4 0h0m2 0h0m3 0h0m64 0h0m2 0h0m1 0h0m15 0h0m1 0h0m1 0h0m1 0h0m5 0h0m-420 1h0m2 0h0m2 0h0m30 0h0m73 0h0m12 0h0m3 0h0m1 0h0m1 0h0m2 0h0m1 0h0m2 0h0m71 0h0m1 0h0m4 0h0m22 0h0m1 0h0m4 0h0m61 0h0m4 0h0m21 0h0m3 0h0m3 0h0m1 0h0m2 0h0m4 0h0m63 0h0m18 0h0m8 0h0m2 0h0m3 0h0m1 0h0m1 0h0m-430 1h0m3 0h0m7 0h0m20 0h0m1 0h0m1 0h0m71 0h0m3 0h0m16 0h0m8 0h0m3 0h0m1 0h0m70 0h0m19 0h0m1 0h0m4 0h0m2 0h0m1 0h0m1 0h0m1 0h0m1 0h0m4 0h0m60 0h0m22 0h0m1 0h0m2 0h0m2 0h0m3 0h0m1 0h0m5 0h0m89 0h0m1 0h0m1 0h0m2 0h0m1 0h0m1 0h0m-422 1h0m23 0h0m15 0h0m55 0h0m5 0h0m4 0h0m15 0h0m2 0h0m1 0h0m2 0h0m64 0h0m29 0h0m4 0h0m7 0h0m5 0h0m57 0h0m5 0h0m14 0h0m13 0h0m68 0h0m3 0h0m13 0h0m6 0h0m9 0h0m2 0h0m-423 1h0m4 0h0m30 0h0m3 0h0m65 0h0m1 0h0m1 0h0m14 0h0m1 0h0m5 0h0m71 0h0m25 0h0m2 0h0m4 0h0m1 0h0m3 0h0m2 0h0m61 0h0m16 0h0m16 0h0m1 0h0m62 0h0m1 0h0m15 0h0m6 0h0m1 0h0m1 0h0m-408 1h0m25 0h0m5 0h0m85 0h0m3 0h0m70 0h0m18 0h0m6 0h0m12 0h0m1 0h0m60 0h0m3 0h0m4 0h0m14 0h0m15 0h0m64 0h0m9 0h0m5 0h0m1 0h0m5 0h0m10 0h0m1 0h0m2 0h0m1 0h0m-423 1h0m1 0h0m1 0h0m1 0h0m20 0h0m1 0h0m4 0h0m6 0h0m62 0h0m6 0h0m15 0h0m2 0h0m9 0h0m56 0h0m35 0h0m2 0h0m2 0h0m1 0h0m5 0h0m58 0h0m4 0h0m25 0h0m4 0h0m8 0h0m63 0h0m1 0h0m3 0h0m10 0h0m1 0h0m16 0h0m1 0h0m1 0h0m-424 1h0m1 0h0m1 0h0m21 0h0m5 0h0m9 0h0m62 0h0m4 0h0m7 0h0m5 0h0m4 0h0m1 0h0m9 0h0m64 0h0m6 0h0m23 0h0m6 0h0m44 0h0m13 0h0m1 0h0m2 0h0m2 0h0m24 0h0m6 0h0m6 0h0m2 0h0m72 0h0m20 0h0m3 0h0m-420 1h0m1 0h0m28 0h0m3 0h0m2 0h0m59 0h0m5 0h0m9 0h0m7 0h0m2 0h0m1 0h0m2 0h0m5 0h0m1 0h0m1 0h0m8 0h0m47 0h0m2 0h0m2 0h0m25 0h0m17 0h0m2 0h0m42 0h0m15 0h0m1 0h0m17 0h0m2 0h0m14 0h0m69 0h0m1 0h0m4 0h0m4 0h0m3 0h0m15 0h0m2 0h0m1 0h0m-423 1h0m3 0h0m15 0h0m7 0h0m1 0h0m68 0h0m1 0h0m8 0h0m1 0h0m3 0h0m1 0h0m1 0h0m7 0h0m1 0h0m1 0h0m1 0h0m63 0h0m9 0h0m25 0h0m1 0h0m5 0h0m4 0h0m2 0h0m3 0h0m53 0h0m9 0h0m3 0h0m14 0h0m76 0h0m4 0h0m2 0h0m14 0h0m1 0h0m17 0h0m2 0h0m-429 1h0m7 0h0m32 0h0m2 0h0m58 0h0m2 0h0m18 0h0m10 0h0m2 0h0m1 0h0m1 0h0m58 0h0m2 0h0m2 0h0m4 0h0m22 0h0m7 0h0m8 0h0m92 0h0m3 0h0m1 0h0m57 0h0m2 0h0m1 0h0m2 0h0m1 0h0m6 0h0m3 0h0m2 0h0m18 0h0m4 0h0m-430 1h0m1 0h0m1 0h0m5 0h0m5 0h0m29 0h0m1 0h0m58 0h0m2 0h0m2 0h0m1 0h0m28 0h0m1 0h0m3 0h0m55 0h0m2 0h0m23 0h0m3 0h0m14 0h0m1 0h0m2 0h0m39 0h0m16 0h0m1 0h0m2 0h0m18 0h0m18 0h0m3 0h0m1 0h0m56 0h0m8 0h0m1 0h0m2 0h0m1 0h0m4 0h0m1 0h0m17 0h0m2 0h0m-428 1h0m4 0h0m6 0h0m14 0h0m3 0h0m15 0h0m5 0h0m56 0h0m2 0h0m2 0h0m15 0h0m1 0h0m2 0h0m9 0h0m2 0h0m82 0h0m17 0h0m3 0h0m2 0h0m50 0h0m2 0h0m5 0h0m37 0h0m63 0h0m5 0h0m1 0h0m7 0h0m18 0h0m-430 1h0m2 0h0m3 0h0m4 0h0m17 0h0m18 0h0m1 0h0m53 0h0m3 0h0m3 0h0m1 0h0m1 0h0m1 0h0m6 0h0m5 0h0m5 0h0m12 0h0m2 0h0m2 0h0m154 0h0m7 0h0m1 0h0m38 0h0m56 0h0m3 0h0m7 0h0m-399 1h0m19 0h0m18 0h0m62 0h0m12 0h0m2 0h0m20 0h0m47 0h0m2 0h0m3 0h0m3 0h0m3 0h0m1 0h0m4 0h0m85 0h0m2 0h0m1 0h0m2 0h0m5 0h0m2 0h0m38 0h0m53 0h0m2 0h0m3 0h0m1 0h0m5 0h0m1 0h0m2 0h0m7 0h0m2 0h0m16 0h0m-431 1h0m4 0h0m3 0h0m4 0h0m3 0h0m12 0h0m19 0h0m1 0h0m1 0h0m55 0h0m2 0h0m3 0h0m14 0h0m5 0h0m2 0h0m11 0h0m1 0h0m42 0h0m13 0h0m2 0h0m1 0h0m3 0h0m40 0h0m45 0h0m3 0h0m2 0h0m22 0h0m90 0h0m3 0h0m3 0h0m-406 1h0m11 0h0m31 0h0m55 0h0m3 0h0m3 0h0m1 0h0m2 0h0m12 0h0m1 0h0m4 0h0m1 0h0m10 0h0m3 0h0m56 0h0m3 0h0m17 0h0m67 0h0m8 0h0m3 0h0m1 0h0m1 0h0m44 0h0m50 0h0m10 0h0m2 0h0m29 0h0m1 0h0m-445 1h0m17 0h0m22 0h0m19 0h0m2 0h0m50 0h0m17 0h0m3 0h0m3 0h0m2 0h0m15 0h0m52 0h0m7 0h0m2 0h0m1 0h0m3 0h0m37 0h0m99 0h0m55 0h0m1 0h0m3 0h0m13 0h0m20 0h0m1 0h0m-428 1h0m3 0h0m38 0h0m4 0h0m58 0h0m11 0h0m8 0h0m13 0h0m53 0h0m2 0h0m2 0h0m1 0h0m46 0h0m43 0h0m3 0h0m23 0h0m24 0h0m64 0h0m1 0h0m1 0h0m2 0h0m8 0h0m-402 1h0m88 0h0m3 0h0m2 0h0m23 0h0m1 0h0m1 0h0m64 0h0m1 0h0m20 0h0m1 0h0m24 0h0m2 0h0m49 0h0m1 0h0m2 0h0m21 0h0m23 0h0m61 0h0m5 0h0m1 0h0m2 0h0m1 0h0m1 0h0m4 0h0m17 0h0m-423 1h0m1 0h0m1 0h0m1 0h0m1 0h0m14 0h0m77 0h0m3 0h0m19 0h0m15 0h0m53 0h0m1 0h0m1 0h0m2 0h0m9 0h0m35 0h0m1 0h0m52 0h0m5 0h0m81 0h0m12 0h0m3 0h0m3 0h0m1 0h0m7 0h0m4 0h0m23 0h0m3 0h0m-436 1h0m4 0h0m4 0h0m21 0h0m18 0h0m1 0h0m53 0h0m2 0h0m1 0h0m24 0h0m1 0h0m61 0h0m1 0h0m5 0h0m43 0h0m3 0h0m46 0h0m4 0h0m3 0h0m4 0h0m15 0h0m25 0h0m2 0h0m39 0h0m12 0h0m3 0h0m2 0h0m1 0h0m3 0h0m6 0h0m1 0h0m2 0h0m-402 1h0m1 0h0m15 0h0m22 0h0m8 0h0m43 0h0m4 0h0m3 0h0m25 0h0m57 0h0m6 0h0m3 0h0m17 0h0m28 0h0m1 0h0m47 0h0m1 0h0m2 0h0m8 0h0m90 0h0m5 0h0m3 0h0m2 0h0m3 0h0m4 0h0m6 0h0m18 0h0m2 0h0m-426 1h0m3 0h0m87 0h0m25 0h0m3 0h0m16 0h0m2 0h0m36 0h0m6 0h0m7 0h0m5 0h0m4 0h0m41 0h0m50 0h0m25 0h0m23 0h0m1 0h0m1 0h0m42 0h0m10 0h0m3 0h0m3 0h0m2 0h0m6 0h0m2 0h0m1 0h0m1 0h0m1 0h0m19 0h0m-438 1h0m5 0h0m2 0h0m5 0h0m19 0h0m72 0h0m30 0h0m13 0h0m3 0h0m49 0h0m24 0h0m24 0h0m48 0h0m6 0h0m20 0h0m3 0h0m21 0h0m54 0h0m1 0h0m1 0h0m2 0h0m3 0h0m10 0h0m21 0h0m5 0h0m-433 1h0m3 0h0m1 0h0m2 0h0m3 0h0m1 0h0m8 0h0m26 0h0m1 0h0m81 0h0m2 0h0m12 0h0m50 0h0m4 0h0m23 0h0m21 0h0m44 0h0m4 0h0m25 0h0m3 0h0m77 0h0m4 0h0m8 0h0m5 0h0m23 0h0m-430 1h0m4 0h0m2 0h0m38 0h0m50 0h0m1 0h0m3 0h0m23 0h0m65 0h0m3 0h0m1 0h0m19 0h0m26 0h0m64 0h0m9 0h0m4 0h0m25 0h0m46 0h0m3 0h0m12 0h0m4 0h0m2 0h0m25 0h0m2 0h0m-441 1h0m16 0h0m38 0h0m73 0h0m1 0h0m20 0h0m53 0h0m45 0h0m43 0h0m2 0h0m2 0h0m3 0h0m3 0h0m8 0h0m7 0h0m1 0h0m5 0h0m3 0h0m22 0h0m1 0h0m1 0h0m47 0h0m3 0h0m1 0h0m4 0h0m2 0h0m1 0h0m4 0h0m2 0h0m5 0h0m22 0h0m-433 1h0m2 0h0m3 0h0m2 0h0m1 0h0m2 0h0m2 0h0m15 0h0m65 0h0m4 0h0m1 0h0m28 0h0m1 0h0m1 0h0m16 0h0m46 0h0m1 0h0m7 0h0m1 0h0m20 0h0m26 0h0m39 0h0m4 0h0m2 0h0m51 0h0m44 0h0m11 0h0m1 0h0m3 0h0m2 0h0m2 0h0m30 0h0m1 0h0m-435 1h0m1 0h0m2 0h0m7 0h0m2 0h0m9 0h0m2 0h0m23 0h0m5 0h0m47 0h0m28 0h0m15 0h0m47 0h0m5 0h0m24 0h0m1 0h0m4 0h0m21 0h0m1 0h0m41 0h0m2 0h0m3 0h0m5 0h0m17 0h0m10 0h0m16 0h0m2 0h0m1 0h0m46 0h0m3 0h0m1 0h0m7 0h0m6 0h0m5 0h0m6 0h0m-416 1h0m2 0h0m1 0h0m1 0h0m1 0h0m6 0h0m7 0h0m78 0h0m27 0h0m1 0h0m1 0h0m17 0h0m46 0h0m2 0h0m30 0h0m2 0h0m17 0h0m2 0h0m1 0h0m1 0h0m44 0h0m1 0h0m2 0h0m3 0h0m21 0h0m31 0h0m41 0h0m8 0h0m1 0h0m1 0h0m1 0h0m1 0h0m1 0h0m2 0h0m2 0h0m2 0h0m3 0h0m-411 1h0m2 0h0m6 0h0m21 0h0m71 0h0m29 0h0m5 0h0m10 0h0m38 0h0m13 0h0m1 0h0m2 0h0m24 0h0m1 0h0m64 0h0m7 0h0m14 0h0m5 0h0m2 0h0m3 0h0m77 0h0m6 0h0m3 0h0m4 0h0m1 0h0m4 0h0m1 0h0m3 0h0m-417 1h0m6 0h0m20 0h0m1 0h0m101 0h0m1 0h0m3 0h0m15 0h0m69 0h0m72 0h0m1 0h0m1 0h0m3 0h0m24 0h0m2 0h0m19 0h0m4 0h0m4 0h0m44 0h0m4 0h0m2 0h0m4 0h0m11 0h0m2 0h0m1 0h0m1 0h0m1 0h0m20 0h0m-433 1h0m1 0h0m1 0h0m4 0h0m1 0h0m18 0h0m19 0h0m3 0h0m41 0h0m3 0h0m8 0h0m27 0h0m5 0h0m10 0h0m46 0h0m26 0h0m3 0h0m24 0h0m48 0h0m2 0h0m19 0h0m1 0h0m1 0h0m1 0h0m3 0h0m20 0h0m1 0h0m1 0h0m52 0h0m1 0h0m2 0h0m11 0h0m-403 1h0m1 0h0m3 0h0m11 0h0m9 0h0m20 0h0m46 0h0m5 0h0m28 0h0m2 0h0m17 0h0m2 0h0m44 0h0m17 0h0m31 0h0m3 0h0m49 0h0m25 0h0m1 0h0m1 0h0m3 0h0m18 0h0m50 0h0m2 0h0m11 0h0m5 0h0m1 0h0m-411 1h0m4 0h0m19 0h0m1 0h0m2 0h0m69 0h0m1 0h0m1 0h0m2 0h0m25 0h0m8 0h0m15 0h0m43 0h0m1 0h0m5 0h0m18 0h0m6 0h0m9 0h0m18 0h0m45 0h0m1 0h0m1 0h0m27 0h0m72 0h0m9 0h0m3 0h0m32 0h0m-433 1h0m1 0h0m1 0h0m37 0h0m2 0h0m2 0h0m37 0h0m9 0h0m5 0h0m23 0h0m5 0h0m5 0h0m1 0h0m9 0h0m3 0h0m1 0h0m1 0h0m37 0h0m9 0h0m1 0h0m2 0h0m1 0h0m19 0h0m2 0h0m2 0h0m3 0h0m3 0h0m59 0h0m1 0h0m5 0h0m2 0h0m2 0h0m23 0h0m1 0h0m5 0h0m18 0h0m51 0h0m3 0h0m8 0h0m3 0h0m2 0h0m1 0h0m1 0h0m1 0h0m1 0h0m3 0h0m1 0h0m3 0h0m1 0h0m19 0h0m-442 1h0m3 0h0m9 0h0m19 0h0m1 0h0m1 0h0m1 0h0m1 0h0m15 0h0m1 0h0m51 0h0m1 0h0m1 0h0m22 0h0m4 0h0m11 0h0m3 0h0m3 0h0m32 0h0m41 0h0m2 0h0m7 0h0m17 0h0m1 0h0m46 0h0m1 0h0m19 0h0m2 0h0m2 0h0m3 0h0m3 0h0m3 0h0m21 0h0m1 0h0m1 0h0m46 0h0m1 0h0m2 0h0m2 0h0m6 0h0m1 0h0m2 0h0m1 0h0m9 0h0m3 0h0m22 0h0m-437 1h0m1 0h0m14 0h0m7 0h0m3 0h0m4 0h0m11 0h0m5 0h0m45 0h0m5 0h0m1 0h0m24 0h0m1 0h0m16 0h0m4 0h0m1 0h0m1 0h0m45 0h0m1 0h0m1 0h0m1 0h0m3 0h0m17 0h0m10 0h0m2 0h0m1 0h0m7 0h0m52 0h0m3 0h0m1 0h0m7 0h0m16 0h0m1 0h0m3 0h0m5 0h0m19 0h0m48 0h0m2 0h0m13 0h0m2 0h0m5 0h0m6 0h0m16 0h0m1 0h0m1 0h0m-436 1h0m1 0h0m19 0h0m2 0h0m1 0h0m6 0h0m2 0h0m9 0h0m2 0h0m53 0h0m6 0h0m19 0h0m1 0h0m2 0h0m1 0h0m1 0h0m12 0h0m1 0h0m4 0h0m49 0h0m2 0h0m31 0h0m5 0h0m1 0h0m1 0h0m4 0h0m6 0h0m72 0h0m5 0h0m2 0h0m4 0h0m1 0h0m1 0h0m11 0h0m1 0h0m5 0h0m7 0h0m33 0h0m6 0h0m4 0h0m12 0h0m14 0h0m15 0h0m-440 1h0m7 0h0m20 0h0m2 0h0m6 0h0m1 0h0m6 0h0m7 0h0m1 0h0m72 0h0m3 0h0m1 0h0m2 0h0m1 0h0m11 0h0m1 0h0m2 0h0m54 0h0m1 0h0m9 0h0m8 0h0m6 0h0m15 0h0m4 0h0m2 0h0m1 0h0m6 0h0m8 0h0m1 0h0m41 0h0m2 0h0m4 0h0m4 0h0m4 0h0m7 0h0m1 0h0m3 0h0m7 0h0m4 0h0m5 0h0m3 0h0m6 0h0m42 0h0m11 0h0m3 0h0m4 0h0m2 0h0m1 0h0m2 0h0m3 0h0m2 0h0m1 0h0m1 0h0m2 0h0m1 0h0m13 0h0m2 0h0m-432 1h0m2 0h0m2 0h0m12 0h0m7 0h0m1 0h0m2 0h0m1 0h0m2 0h0m2 0h0m6 0h0m3 0h0m1 0h0m50 0h0m1 0h0m1 0h0m22 0h0m17 0h0m1 0h0m4 0h0m1 0h0m56 0h0m6 0h0m9 0h0m14 0h0m10 0h0m4 0h0m2 0h0m47 0h0m11 0h0m9 0h0m6 0h0m6 0h0m8 0h0m16 0h0m42 0h0m5 0h0m4 0h0m5 0h0m6 0h0m1 0h0m5 0h0m6 0h0m12 0h0m3 0h0m1 0h0m-442 1h0m7 0h0m1 0h0m2 0h0m1 0h0m3 0h0m7 0h0m4 0h0m6 0h0m4 0h0m1 0h0m1 0h0m5 0h0m3 0h0m58 0h0m1 0h0m2 0h0m2 0h0m15 0h0m1 0h0m1 0h0m2 0h0m1 0h0m10 0h0m57 0h0m3 0h0m5 0h0m25 0h0m4 0h0m9 0h0m6 0h0m46 0h0m4 0h0m5 0h0m3 0h0m7 0h0m5 0h0m11 0h0m1 0h0m2 0h0m1 0h0m3 0h0m3 0h0m5 0h0m4 0h0m1 0h0m1 0h0m49 0h0m2 0h0m2 0h0m2 0h0m6 0h0m11 0h0m7 0h0m1 0h0m10 0h0m1 0h0m1 0h0m-439 1h0m6 0h0m1 0h0m18 0h0m9 0h0m2 0h0m5 0h0m58 0h0m22 0h0m23 0h0m2 0h0m3 0h0m41 0h0m5 0h0m20 0h0m10 0h0m8 0h0m1 0h0m10 0h0m47 0h0m1 0h0m7 0h0m9 0h0m3 0h0m1 0h0m1 0h0m2 0h0m2 0h0m2 0h0m1 0h0m6 0h0m6 0h0m1 0h0m9 0h0m2 0h0m52 0h0m1 0h0m9 0h0m4 0h0m3 0h0m3 0h0m3 0h0m1 0h0m4 0h0m9 0h0m5 0h0m-423 1h0m4 0h0m3 0h0m4 0h0m1 0h0m5 0h0m3 0h0m2 0h0m2 0h0m6 0h0m1 0h0m54 0h0m2 0h0m15 0h0m31 0h0m41 0h0m6 0h0m5 0h0m8 0h0m4 0h0m3 0h0m11 0h0m8 0h0m21 0h0m38 0h0m1 0h0m14 0h0m8 0h0m7 0h0m8 0h0m6 0h0m1 0h0m7 0h0m5 0h0m54 0h0m1 0h0m6 0h0m6 0h0m6 0h0m1 0h0m2 0h0m4 0h0m6 0h0m1 0h0m2 0h0m1 0h0m-437 1h0m3 0h0m12 0h0m2 0h0m5 0h0m3 0h0m6 0h0m69 0h0m15 0h0m22 0h0m4 0h0m46 0h0m2 0h0m7 0h0m1 0h0m7 0h0m8 0h0m7 0h0m1 0h0m12 0h0m1 0h0m66 0h0m2 0h0m2 0h0m1 0h0m6 0h0m2 0h0m1 0h0m27 0h0m2 0h0m51 0h0m6 0h0m2 0h0m1 0h0m17 0h0m4 0h0m2 0h0m5 0h0m3 0h0m-428 1h0m6 0h0m3 0h0m2 0h0m3 0h0m9 0h0m5 0h0m2 0h0m3 0h0m3 0h0m55 0h0m16 0h0m1 0h0m9 0h0m2 0h0m64 0h0m9 0h0m1 0h0m3 0h0m7 0h0m2 0h0m2 0h0m1 0h0m15 0h0m6 0h0m67 0h0m3 0h0m1 0h0m7 0h0m1 0h0m3 0h0m9 0h0m6 0h0m3 0h0m6 0h0m2 0h0m51 0h0m1 0h0m12 0h0m3 0h0m20 0h0m3 0h0m1 0h0m-430 1h0m11 0h0m4 0h0m13 0h0m8 0h0m5 0h0m2 0h0m38 0h0m10 0h0m4 0h0m15 0h0m15 0h0m70 0h0m10 0h0m1 0h0m1 0h0m1 0h0m2 0h0m8 0h0m9 0h0m3 0h0m11 0h0m43 0h0m6 0h0m2 0h0m3 0h0m1 0h0m2 0h0m1 0h0m3 0h0m1 0h0m14 0h0m5 0h0m4 0h0m59 0h0m1 0h0m8 0h0m4 0h0m22 0h0m2 0h0m1 0h0m2 0h0m1 0h0m1 0h0m4 0h0m1 0h0m-437 1h0m5 0h0m2 0h0m5 0h0m7 0h0m5 0h0m11 0h0m1 0h0m1 0h0m2 0h0m2 0h0m52 0h0m3 0h0m3 0h0m16 0h0m1 0h0m1 0h0m7 0h0m1 0h0m2 0h0m7 0h0m57 0h0m4 0h0m7 0h0m2 0h0m1 0h0m1 0h0m1 0h0m1 0h0m1 0h0m16 0h0m3 0h0m63 0h0m1 0h0m2 0h0m1 0h0m1 0h0m3 0h0m10 0h0m1 0h0m3 0h0m1 0h0m3 0h0m8 0h0m12 0h0m55 0h0m12 0h0m13 0h0m13 0h0m-428 1h0m12 0h0m3 0h0m5 0h0m13 0h0m62 0h0m15 0h0m1 0h0m1 0h0m31 0h0m47 0h0m3 0h0m3 0h0m7 0h0m1 0h0m3 0h0m2 0h0m7 0h0m1 0h0m5 0h0m65 0h0m1 0h0m1 0h0m9 0h0m5 0h0m3 0h0m2 0h0m22 0h0m4 0h0m51 0h0m24 0h0m12 0h0m1 0h0m3 0h0m-430 1h0m1 0h0m6 0h0m3 0h0m1 0h0m2 0h0m3 0h0m3 0h0m1 0h0m1 0h0m8 0h0m3 0h0m3 0h0m3 0h0m62 0h0m6 0h0m1 0h0m6 0h0m30 0h0m47 0h0m20 0h0m5 0h0m10 0h0m70 0h0m2 0h0m13 0h0m10 0h0m19 0h0m55 0h0m1 0h0m5 0h0m5 0h0m3 0h0m5 0h0m10 0h0m8 0h0m6 0h0m-432 1h0m9 0h0m1 0h0m1 0h0m1 0h0m1 0h0m3 0h0m3 0h0m7 0h0m16 0h0m59 0h0m5 0h0m2 0h0m1 0h0m84 0h0m21 0h0m75 0h0m8 0h0m11 0h0m3 0h0m8 0h0m5 0h0m75 0h0m-397 1h0m6 0h0m2 0h0m1 0h0m1 0h0m2 0h0m1 0h0m25 0h0m51 0h0m1 0h0m1 0h0m6 0h0m1 0h0m1 0h0m2 0h0m2 0h0m5 0h0m90 0h0m1 0h0m85 0h0m15 0h0m7 0h0m111 0h0m8 0h0m2 0h0m1 0h0m-431 1h0m6 0h0m6 0h0m3 0h0m7 0h0m19 0h0m48 0h0m9 0h0m5 0h0m3 0h0m4 0h0m88 0h0m8 0h0m84 0h0m1 0h0m1 0h0m36 0h0m53 0h0m39 0h0m2 0h0m-420 1h0m6 0h0m1 0h0m7 0h0m2 0h0m11 0h0m4 0h0m77 0h0m82 0h0m3 0h0m3 0h0m4 0h0m102 0h0m35 0h0m79 0h0m4 0h0m-401 1h0m77 0h0m14 0h0m71 0h0m121 0h0m5 0h0m107 0h0m-419 1h0m23 0h0m17 0h0m66 0h0m2 0h0m106 0h0m79 0h0m19 0h0m118 0h0m1 0h0m-427 1h0m3 0h0m5 0h0m202 0h0m8 0h0m7 0h0m-222 1h0m10 0h0m184 0h0m1 0h0m7 0h0m2 0h0m82 0h0m99 0h0m-395 1h0m4 0h0m123 0h0m77 0h0m8 0h0m196 0h0m-408 1h0m114 0h0m89 0h0m16 0h0m84 0h0m-298 1h0m24 0h0m-24 1h0m196 0h0m95 0h0m-282 1h0m171 0h0m-125 7h0m2 1h0m7 0h0m1 0h0m3 0h0m2 0h0m187 0h0m197 0h0m-413 1h0m3 0h0m9 0h0m1 0h0m2 0h0m1 0h0m8 0h0m2 0h0m2 0h0m4 0h0m177 0h0m13 0h0m-217 1h0m6 0h0m1 0h0m1 0h0m1 0h0m3 0h0m9 0h0m1 0h0m5 0h0m174 0h0m7 0h0m-194 1h0m11 0h0m85 0h0m89 0h0m11 0h0m87 0h0m2 0h0m88 0h0m8 0h0m4 0h0m8 0h0m-397 1h0m16 0h0m3 0h0m78 0h0m14 0h0m80 0h0m4 0h0m9 0h0m87 0h0m3 0h0m3 0h0m7 0h0m79 0h0m6 0h0m7 0h0m-417 1h0m12 0h0m7 0h0m1 0h0m2 0h0m15 0h0m85 0h0m93 0h0m1 0h0m12 0h0m71 0h0m7 0h0m4 0h0m6 0h0m2 0h0m2 0h0m6 0h0m75 0h0m4 0h0m4 0h0m5 0h0m3 0h0m-409 1h0m3 0h0m3 0h0m6 0h0m1 0h0m2 0h0m8 0h0m3 0h0m2 0h0m91 0h0m6 0h0m81 0h0m3 0h0m86 0h0m6 0h0m2 0h0m3 0h0m1 0h0m8 0h0m78 0h0m5 0h0m6 0h0m3 0h0m-379 1h0m80 0h0m6 0h0m1 0h0m78 0h0m3 0h0m10 0h0m2 0h0m6 0h0m4 0h0m3 0h0m1 0h0m69 0h0m7 0h0m1 0h0m3 0h0m11 0h0m77 0h0m2 0h0m5 0h0m8 0h0m1 0h0m5 0h0m2 0h0m3 0h0m-416 1h0m5 0h0m23 0h0m1 0h0m84 0h0m2 0h0m3 0h0m4 0h0m2 0h0m77 0h0m10 0h0m1 0h0m1 0h0m6 0h0m1 0h0m66 0h0m5 0h0m2 0h0m15 0h0m99 0h0m4 0h0m1 0h0m3 0h0m-419 1h0m3 0h0m29 0h0m82 0h0m1 0h0m4 0h0m6 0h0m66 0h0m12 0h0m1 0h0m4 0h0m2 0h0m6 0h0m1 0h0m1 0h0m3 0h0m1 0h0m1 0h0m65 0h0m6 0h0m2 0h0m1 0h0m13 0h0m8 0h0m79 0h0m16 0h0m5 0h0m-418 1h0m29 0h0m2 0h0m76 0h0m4 0h0m4 0h0m4 0h0m5 0h0m6 0h0m64 0h0m2 0h0m6 0h0m7 0h0m2 0h0m1 0h0m1 0h0m2 0h0m3 0h0m69 0h0m8 0h0m18 0h0m3 0h0m77 0h0m1 0h0m3 0h0m13 0h0m5 0h0m2 0h0m-418 1h0m3 0h0m27 0h0m3 0h0m3 0h0m76 0h0m1 0h0m1 0h0m13 0h0m6 0h0m69 0h0m5 0h0m6 0h0m7 0h0m1 0h0m2 0h0m66 0h0m3 0h0m1 0h0m19 0h0m3 0h0m1 0h0m2 0h0m2 0h0m68 0h0m30 0h0m-426 1h0m1 0h0m2 0h0m2 0h0m4 0h0m1 0h0m1 0h0m25 0h0m5 0h0m3 0h0m58 0h0m12 0h0m4 0h0m17 0h0m66 0h0m20 0h0m6 0h0m81 0h0m11 0h0m5 0h0m3 0h0m71 0h0m24 0h0m2 0h0m1 0h0m-426 1h0m6 0h0m2 0h0m1 0h0m103 0h0m9 0h0m13 0h0m3 0h0m64 0h0m3 0h0m10 0h0m3 0h0m1 0h0m6 0h0m3 0h0m1 0h0m2 0h0m1 0h0m67 0h0m26 0h0m67 0h0m10 0h0m22 0h0m1 0h0m3 0h0m-420 1h0m2 0h0m33 0h0m2 0h0m1 0h0m90 0h0m67 0h0m26 0h0m1 0h0m4 0h0m57 0h0m4 0h0m97 0h0m6 0h0m2 0h0m1 0h0m2 0h0m26 0h0m-427 1h0m4 0h0m1 0h0m3 0h0m32 0h0m1 0h0m59 0h0m6 0h0m1 0h0m4 0h0m24 0h0m3 0h0m63 0h0m1 0h0m14 0h0m11 0h0m4 0h0m1 0h0m1 0h0m1 0h0m60 0h0m2 0h0m1 0h0m2 0h0m22 0h0m4 0h0m1 0h0m64 0h0m34 0h0m1 0h0m-421 1h0m1 0h0m7 0h0m29 0h0m1 0h0m3 0h0m62 0h0m5 0h0m3 0h0m1 0h0m79 0h0m3 0h0m4 0h0m1 0h0m2 0h0m22 0h0m1 0h0m5 0h0m62 0h0m29 0h0m2 0h0m1 0h0m2 0h0m68 0h0m2 0h0m24 0h0m1 0h0m1 0h0m-383 1h0m64 0h0m3 0h0m2 0h0m27 0h0m57 0h0m2 0h0m6 0h0m22 0h0m3 0h0m4 0h0m61 0h0m35 0h0m66 0h0m28 0h0m3 0h0m2 0h0m-431 1h0m5 0h0m41 0h0m58 0h0m5 0h0m4 0h0m10 0h0m77 0h0m2 0h0m2 0h0m1 0h0m24 0h0m1 0h0m2 0h0m67 0h0m28 0h0m2 0h0m4 0h0m2 0h0m62 0h0m27 0h0m4 0h0m1 0h0m-434 1h0m47 0h0m1 0h0m66 0h0m2 0h0m28 0h0m63 0h0m29 0h0m6 0h0m55 0h0m2 0h0m1 0h0m4 0h0m29 0h0m97 0h0m3 0h0m-419 1h0m31 0h0m4 0h0m63 0h0m2 0h0m22 0h0m9 0h0m50 0h0m7 0h0m5 0h0m1 0h0m95 0h0m1 0h0m35 0h0m1 0h0m-330 1h0m101 0h0m1 0h0m1 0h0m92 0h0m28 0h0m6 0h0m59 0h0m4 0h0m32 0h0m1 0h0m4 0h0m58 0h0m-391 1h0m3 0h0m34 0h0m3 0h0m1 0h0m61 0h0m33 0h0m64 0h0m31 0h0m65 0h0m30 0h0m69 0h0m1 0h0m29 0h0m2 0h0m1 0h0m3 0h0m-433 1h0m1 0h0m2 0h0m37 0h0m2 0h0m2 0h0m1 0h0m5 0h0m53 0h0m2 0h0m2 0h0m1 0h0m28 0h0m4 0h0m67 0h0m26 0h0m1 0h0m1 0h0m1 0h0m1 0h0m2 0h0m58 0h0m2 0h0m28 0h0m70 0h0m2 0h0m1 0h0m20 0h0m5 0h0m2 0h0m4 0h0m-428 1h0m1 0h0m36 0h0m6 0h0m63 0h0m25 0h0m4 0h0m1 0h0m1 0h0m55 0h0m1 0h0m1 0h0m2 0h0m3 0h0m95 0h0m31 0h0m68 0h0m3 0h0m28 0h0m-430 1h0m1 0h0m7 0h0m36 0h0m2 0h0m49 0h0m6 0h0m6 0h0m97 0h0m36 0h0m1 0h0m1 0h0m2 0h0m60 0h0m25 0h0m1 0h0m3 0h0m4 0h0m2 0h0m58 0h0m3 0h0m2 0h0m19 0h0m8 0h0m2 0h0m1 0h0m3 0h0m-431 1h0m40 0h0m5 0h0m55 0h0m1 0h0m34 0h0m3 0h0m59 0h0m4 0h0m3 0h0m32 0h0m63 0h0m22 0h0m2 0h0m2 0h0m64 0h0m29 0h0m3 0h0m5 0h0m5 0h0m-431 1h0m2 0h0m1 0h0m31 0h0m67 0h0m5 0h0m93 0h0m32 0h0m59 0h0m29 0h0m3 0h0m1 0h0m2 0h0m1 0h0m1 0h0m4 0h0m66 0h0m9 0h0m2 0h0m2 0h0m1 0h0m14 0h0m2 0h0m1 0h0m-441 1h0m13 0h0m2 0h0m3 0h0m35 0h0m95 0h0m1 0h0m2 0h0m2 0h0m53 0h0m41 0h0m7 0h0m54 0h0m1 0h0m1 0h0m24 0h0m2 0h0m1 0h0m2 0h0m1 0h0m3 0h0m1 0h0m1 0h0m71 0h0m4 0h0m1 0h0m5 0h0m1 0h0m1 0h0m4 0h0m-417 1h0m36 0h0m1 0h0m3 0h0m1 0h0m61 0h0m24 0h0m13 0h0m57 0h0m1 0h0m4 0h0m31 0h0m4 0h0m54 0h0m2 0h0m1 0h0m3 0h0m1 0h0m16 0h0m7 0h0m4 0h0m1 0h0m8 0h0m63 0h0m1 0h0m2 0h0m3 0h0m3 0h0m1 0h0m4 0h0m1 0h0m1 0h0m6 0h0m3 0h0m1 0h0m-430 1h0m45 0h0m61 0h0m34 0h0m60 0h0m5 0h0m1 0h0m33 0h0m3 0h0m65 0h0m19 0h0m1 0h0m3 0h0m2 0h0m3 0h0m4 0h0m1 0h0m60 0h0m5 0h0m1 0h0m9 0h0m5 0h0m3 0h0m2 0h0m9 0h0m1 0h0m1 0h0m-435 1h0m5 0h0m1 0h0m1 0h0m4 0h0m34 0h0m51 0h0m2 0h0m1 0h0m4 0h0m2 0h0m27 0h0m9 0h0m4 0h0m59 0h0m33 0h0m4 0h0m58 0h0m5 0h0m10 0h0m8 0h0m75 0h0m8 0h0m3 0h0m9 0h0m2 0h0m-414 1h0m1 0h0m1 0h0m4 0h0m27 0h0m4 0h0m7 0h0m50 0h0m45 0h0m7 0h0m49 0h0m2 0h0m37 0h0m1 0h0m61 0h0m4 0h0m11 0h0m1 0h0m7 0h0m4 0h0m1 0h0m2 0h0m70 0h0m13 0h0m4 0h0m17 0h0m2 0h0m-441 1h0m8 0h0m7 0h0m29 0h0m8 0h0m1 0h0m50 0h0m2 0h0m3 0h0m38 0h0m2 0h0m57 0h0m39 0h0m5 0h0m65 0h0m2 0h0m14 0h0m1 0h0m11 0h0m2 0h0m62 0h0m7 0h0m1 0h0m7 0h0m20 0h0m-445 1h0m47 0h0m2 0h0m53 0h0m1 0h0m1 0h0m5 0h0m27 0h0m70 0h0m1 0h0m104 0h0m3 0h0m2 0h0m4 0h0m1 0h0m4 0h0m4 0h0m6 0h0m78 0h0m4 0h0m6 0h0m2 0h0m4 0h0m15 0h0m-432 1h0m3 0h0m1 0h0m24 0h0m7 0h0m1 0h0m6 0h0m43 0h0m2 0h0m3 0h0m3 0h0m3 0h0m45 0h0m56 0h0m43 0h0m52 0h0m3 0h0m6 0h0m2 0h0m12 0h0m2 0h0m1 0h0m8 0h0m64 0h0m17 0h0m-409 1h0m1 0h0m2 0h0m3 0h0m1 0h0m3 0h0m85 0h0m4 0h0m44 0h0m60 0h0m36 0h0m1 0h0m58 0h0m10 0h0m4 0h0m3 0h0m4 0h0m18 0h0m1 0h0m57 0h0m13 0h0m5 0h0m22 0h0m-442 1h0m3 0h0m3 0h0m3 0h0m38 0h0m1 0h0m1 0h0m3 0h0m4 0h0m44 0h0m5 0h0m2 0h0m42 0h0m1 0h0m49 0h0m4 0h0m1 0h0m108 0h0m2 0h0m1 0h0m3 0h0m5 0h0m2 0h0m2 0h0m3 0h0m4 0h0m10 0h0m1 0h0m75 0h0m-407 1h0m4 0h0m2 0h0m1 0h0m2 0h0m2 0h0m1 0h0m4 0h0m18 0h0m1 0h0m1 0h0m50 0h0m5 0h0m31 0h0m1 0h0m65 0h0m1 0h0m2 0h0m2 0h0m4 0h0m39 0h0m45 0h0m20 0h0m8 0h0m-330 1h0m21 0h0m6 0h0m7 0h0m5 0h0m12 0h0m4 0h0m2 0h0m2 0h0m1 0h0m52 0h0m2 0h0m1 0h0m25 0h0m5 0h0m10 0h0m2 0h0m99 0h0m58 0h0m11 0h0m2 0h0m2 0h0m7 0h0m5 0h0m10 0h0m3 0h0m1 0h0m73 0h0m20 0h0m1 0h0m-435 1h0m4 0h0m1 0h0m1 0h0m1 0h0m5 0h0m2 0h0m3 0h0m7 0h0m13 0h0m3 0h0m5 0h0m52 0h0m4 0h0m23 0h0m1 0h0m1 0h0m3 0h0m57 0h0m3 0h0m8 0h0m22 0h0m83 0h0m1 0h0m2 0h0m14 0h0m3 0h0m3 0h0m12 0h0m2 0h0m73 0h0m23 0h0m1 0h0m-436 1h0m4 0h0m2 0h0m3 0h0m4 0h0m2 0h0m6 0h0m1 0h0m2 0h0m1 0h0m14 0h0m57 0h0m2 0h0m4 0h0m26 0h0m1 0h0m14 0h0m46 0h0m9 0h0m2 0h0m1 0h0m39 0h0m1 0h0m64 0h0m2 0h0m2 0h0m11 0h0m2 0h0m90 0h0m1 0h0m1 0h0m20 0h0m-440 1h0m18 0h0m9 0h0m3 0h0m16 0h0m5 0h0m51 0h0m2 0h0m1 0h0m3 0h0m1 0h0m2 0h0m13 0h0m5 0h0m5 0h0m14 0h0m47 0h0m9 0h0m5 0h0m12 0h0m91 0h0m3 0h0m1 0h0m13 0h0m88 0h0m24 0h0m-433 1h0m4 0h0m9 0h0m5 0h0m9 0h0m14 0h0m55 0h0m10 0h0m1 0h0m2 0h0m1 0h0m5 0h0m1 0h0m4 0h0m19 0h0m54 0h0m6 0h0m4 0h0m2 0h0m1 0h0m3 0h0m4 0h0m26 0h0m55 0h0m4 0h0m3 0h0m1 0h0m2 0h0m17 0h0m1 0h0m13 0h0m4 0h0m-325 1h0m3 0h0m6 0h0m4 0h0m12 0h0m53 0h0m5 0h0m1 0h0m11 0h0m6 0h0m1 0h0m11 0h0m11 0h0m75 0h0m1 0h0m2 0h0m78 0h0m14 0h0m15 0h0m13 0h0m73 0h0m22 0h0m-414 1h0m3 0h0m2 0h0m2 0h0m5 0h0m62 0h0m3 0h0m1 0h0m4 0h0m3 0h0m2 0h0m3 0h0m8 0h0m1 0h0m7 0h0m14 0h0m59 0h0m2 0h0m2 0h0m5 0h0m1 0h0m7 0h0m23 0h0m71 0h0m1 0h0m1 0h0m2 0h0m6 0h0m2 0h0m89 0h0m22 0h0m-435 1h0m16 0h0m10 0h0m5 0h0m15 0h0m1 0h0m55 0h0m3 0h0m5 0h0m10 0h0m3 0h0m1 0h0m1 0h0m16 0h0m1 0h0m60 0h0m1 0h0m5 0h0m5 0h0m24 0h0m1 0h0m70 0h0m6 0h0m8 0h0m19 0h0m56 0h0m10 0h0m3 0h0m3 0h0m26 0h0m-423 1h0m2 0h0m1 0h0m10 0h0m2 0h0m15 0h0m35 0h0m17 0h0m4 0h0m5 0h0m5 0h0m1 0h0m6 0h0m2 0h0m1 0h0m3 0h0m1 0h0m12 0h0m3 0h0m60 0h0m6 0h0m5 0h0m1 0h0m2 0h0m2 0h0m1 0h0m4 0h0m10 0h0m8 0h0m67 0h0m3 0h0m6 0h0m24 0h0m70 0h0m1 0h0m26 0h0m-418 1h0m28 0h0m53 0h0m1 0h0m4 0h0m4 0h0m6 0h0m2 0h0m3 0h0m1 0h0m4 0h0m9 0h0m67 0h0m4 0h0m2 0h0m1 0h0m2 0h0m2 0h0m3 0h0m23 0h0m61 0h0m3 0h0m7 0h0m3 0h0m27 0h0m2 0h0m67 0h0m2 0h0m2 0h0m20 0h0m4 0h0m-393 1h0m61 0h0m6 0h0m2 0h0m2 0h0m10 0h0m12 0h0m56 0h0m10 0h0m4 0h0m3 0h0m6 0h0m1 0h0m3 0h0m13 0h0m77 0h0m2 0h0m96 0h0m1 0h0m32 0h0m-430 1h0m4 0h0m5 0h0m25 0h0m63 0h0m1 0h0m4 0h0m6 0h0m6 0h0m84 0h0m3 0h0m1 0h0m3 0h0m3 0h0m18 0h0m6 0h0m52 0h0m13 0h0m1 0h0m3 0h0m101 0h0m-413 1h0m6 0h0m24 0h0m17 0h0m51 0h0m7 0h0m4 0h0m1 0h0m8 0h0m5 0h0m2 0h0m66 0h0m1 0h0m3 0h0m16 0h0m6 0h0m91 0h0m19 0h0m85 0h0m-401 1h0m17 0h0m2 0h0m2 0h0m12 0h0m69 0h0m89 0h0m11 0h0m4 0h0m1 0h0m16 0h0m69 0h0m8 0h0m1 0h0m25 0h0m76 0h0m22 0h0m4 0h0m-410 1h0m2 0h0m16 0h0m66 0h0m5 0h0m8 0h0m8 0h0m3 0h0m69 0h0m4 0h0m28 0h0m50 0h0m50 0h0m66 0h0m31 0h0m4 0h0m-438 1h0m1 0h0m22 0h0m7 0h0m1 0h0m12 0h0m1 0h0m158 0h0m13 0h0m2 0h0m1 0h0m15 0h0m62 0h0m9 0h0m6 0h0m1 0h0m1 0h0m1 0h0m25 0h0m68 0h0m4 0h0m20 0h0m-411 1h0m3 0h0m9 0h0m11 0h0m4 0h0m66 0h0m9 0h0m93 0h0m3 0h0m1 0h0m78 0h0m15 0h0m16 0h0m2 0h0m7 0h0m55 0h0m21 0h0m21 0h0m2 0h0m-406 1h0m65 0h0m8 0h0m14 0h0m19 0h0m1 0h0m79 0h0m2 0h0m17 0h0m75 0h0m3 0h0m96 0h0m1 0h0m-368 1h0m57 0h0m21 0h0m15 0h0m81 0h0m18 0h0m6 0h0m55 0h0m5 0h0m26 0h0m4 0h0m71 0h0m31 0h0m-411 1h0m3 0h0m6 0h0m11 0h0m66 0h0m29 0h0m65 0h0m11 0h0m7 0h0m13 0h0m82 0h0m11 0h0m1 0h0m4 0h0m1 0h0m8 0h0m70 0h0m1 0h0m20 0h0m5 0h0m-409 1h0m16 0h0m64 0h0m17 0h0m13 0h0m52 0h0m18 0h0m5 0h0m4 0h0m4 0h0m14 0h0m80 0h0m1 0h0m16 0h0m2 0h0m6 0h0m59 0h0m12 0h0m2 0h0m1 0h0m18 0h0m-392 1h0m3 0h0m80 0h0m15 0h0m93 0h0m2 0h0m81 0h0m15 0h0m4 0h0m3 0h0m5 0h0m72 0h0m1 0h0m18 0h0m1 0h0m-407 1h0m4 0h0m2 0h0m1 0h0m9 0h0m66 0h0m8 0h0m5 0h0m6 0h0m79 0h0m9 0h0m17 0h0m5 0h0m67 0h0m1 0h0m4 0h0m1 0h0m4 0h0m1 0h0m1 0h0m21 0h0m65 0h0m5 0h0m7 0h0m19 0h0m-404 1h0m3 0h0m1 0h0m1 0h0m1 0h0m1 0h0m4 0h0m5 0h0m56 0h0m14 0h0m10 0h0m10 0h0m1 0h0m77 0h0m7 0h0m1 0h0m11 0h0m2 0h0m76 0h0m17 0h0m4 0h0m1 0h0m2 0h0m1 0h0m72 0h0m6 0h0m17 0h0m1 0h0m6 0h0m1 0h0m-401 1h0m6 0h0m1 0h0m61 0h0m10 0h0m3 0h0m6 0h0m1 0h0m89 0h0m17 0h0m1 0h0m84 0h0m10 0h0m4 0h0m2 0h0m2 0h0m62 0h0m14 0h0m15 0h0m6 0h0m4 0h0m-429 1h0m30 0h0m3 0h0m87 0h0m11 0h0m3 0h0m80 0h0m1 0h0m73 0h0m1 0h0m23 0h0m14 0h0m51 0h0m5 0h0m22 0h0m1 0h0m2 0h0m3 0h0m13 0h0m1 0h0m2 0h0m-421 1h0m22 0h0m9 0h0m1 0h0m66 0h0m95 0h0m15 0h0m11 0h0m1 0h0m54 0h0m21 0h0m11 0h0m10 0h0m1 0h0m3 0h0m5 0h0m71 0h0m1 0h0m5 0h0m9 0h0m7 0h0m1 0h0m5 0h0m-432 1h0m37 0h0m83 0h0m10 0h0m96 0h0m85 0h0m3 0h0m6 0h0m4 0h0m84 0h0m3 0h0m10 0h0m3 0h0m-390 1h0m1 0h0m88 0h0m8 0h0m3 0h0m86 0h0m3 0h0m1 0h0m69 0h0m18 0h0m1 0h0m10 0h0m5 0h0m81 0h0m13 0h0m-388 1h0m62 0h0m25 0h0m1 0h0m1 0h0m4 0h0m2 0h0m80 0h0m18 0h0m1 0h0m68 0h0m18 0h0m4 0h0m4 0h0m1 0h0m1 0h0m1 0h0m7 0h0m72 0h0m7 0h0m5 0h0m-291 1h0m1 0h0m2 0h0m91 0h0m3 0h0m4 0h0m77 0h0m16 0h0m65 0h0m16 0h0m5 0h0m7 0h0m2 0h0m1 0h0m3 0h0m9 0h0m-302 1h0m2 0h0m2 0h0m2 0h0m87 0h0m96 0h0m3 0h0m1 0h0m1 0h0m89 0h0m5 0h0m7 0h0m-413 1h0m119 0h0m1 0h0m4 0h0m2 0h0m1 0h0m177 0h0m8 0h0m88 0h0m3 0h0m17 0h0m-299 1h0m93 0h0m1 0h0m89 0h0m4 0h0m95 0h0m3 0h0m2 0h0m1 0h0m-406 1h0m118 0h0m96 0h0m1 0h0m68 0h0m118 0h0m2 0h0m3 0h0m4 0h0m-310 1h0m111 0h0m94 0h0m2 0h0m7 0h0m86 0h0m4 0h0m8 0h0m-105 1h0m3 0h0m94 0h0m-196 1h0m182 0h0m14 0h0m-191 1h0m189 0h0m-97 1h0m79 1h0m-302 3h0m330 0h0m-312 4h0"/>
<path stroke="#a6a6a6" d="M215 28h0m181 3h0m6 0h0m4 0h0m-290 1h0m4 0h0m279 0h0m1 0h0m1 0h0m1 0h0m-281 1h0m185 0h0m86 0h0m17 0h0m-296 1h0m3 0h0m185 0h0m97 0h0m2 0h0m3 0h0m3 0h0m-297 1h0m1 0h0m2 0h0m2 0h0m2 0h0m2 0h0m4 0h0m164 0h0m209 0h0m-391 1h0m7 0h0m6 0h0m5 0h0m6 0h0m76 0h0m91 0h0m13 0h0m88 0h0m2 0h0m6 0h0m3 0h0m-197 1h0m99 0h0m89 0h0m2 0h0m1 0h0m1 0h0m4 0h0m1 0h0m88 0h0m-394 1h0m1 0h0m3 0h0m5 0h0m8 0h0m89 0h0m90 0h0m6 0h0m4 0h0m4 0h0m85 0h0m1 0h0m4 0h0m1 0h0m92 0h0m-371 1h0m82 0h0m1 0h0m9 0h0m80 0h0m2 0h0m1 0h0m13 0h0m95 0h0m2 0h0m86 0h0m-401 1h0m6 0h0m2 0h0m16 0h0m5 0h0m1 0h0m2 0h0m171 0h0m1 0h0m6 0h0m3 0h0m1 0h0m93 0h0m3 0h0m1 0h0m2 0h0m4 0h0m81 0h0m-389 1h0m1 0h0m18 0h0m79 0h0m3 0h0m4 0h0m85 0h0m5 0h0m4 0h0m4 0h0m3 0h0m11 0h0m65 0h0m8 0h0m2 0h0m11 0h0m1 0h0m80 0h0m3 0h0m1 0h0m1 0h0m3 0h0m5 0h0m-402 1h0m21 0h0m3 0h0m91 0h0m91 0h0m3 0h0m5 0h0m79 0h0m8 0h0m3 0h0m2 0h0m6 0h0m-313 1h0m1 0h0m2 0h0m1 0h0m22 0h0m78 0h0m8 0h0m92 0h0m16 0h0m84 0h0m8 0h0m82 0h0m1 0h0m14 0h0m-409 1h0m23 0h0m2 0h0m78 0h0m6 0h0m10 0h0m74 0h0m12 0h0m3 0h0m4 0h0m4 0h0m74 0h0m6 0h0m8 0h0m1 0h0m1 0h0m1 0h0m5 0h0m79 0h0m8 0h0m2 0h0m1 0h0m1 0h0m2 0h0m-401 1h0m18 0h0m76 0h0m4 0h0m2 0h0m3 0h0m3 0h0m3 0h0m80 0h0m1 0h0m4 0h0m8 0h0m3 0h0m2 0h0m3 0h0m2 0h0m7 0h0m66 0h0m1 0h0m12 0h0m8 0h0m7 0h0m73 0h0m12 0h0m3 0h0m-404 1h0m102 0h0m1 0h0m5 0h0m3 0h0m2 0h0m82 0h0m5 0h0m3 0h0m9 0h0m1 0h0m2 0h0m73 0h0m1 0h0m10 0h0m2 0h0m16 0h0m70 0h0m2 0h0m9 0h0m6 0h0m-407 1h0m112 0h0m2 0h0m3 0h0m71 0h0m6 0h0m4 0h0m1 0h0m3 0h0m8 0h0m9 0h0m71 0h0m11 0h0m5 0h0m2 0h0m1 0h0m7 0h0m88 0h0m4 0h0m-408 1h0m1 0h0m1 0h0m102 0h0m3 0h0m10 0h0m75 0h0m2 0h0m7 0h0m5 0h0m6 0h0m2 0h0m1 0h0m2 0h0m9 0h0m65 0h0m14 0h0m1 0h0m1 0h0m1 0h0m1 0h0m2 0h0m8 0h0m75 0h0m19 0h0m1 0h0m1 0h0m-417 1h0m22 0h0m75 0h0m6 0h0m1 0h0m1 0h0m6 0h0m4 0h0m2 0h0m2 0h0m74 0h0m3 0h0m4 0h0m11 0h0m4 0h0m1 0h0m6 0h0m3 0h0m65 0h0m5 0h0m6 0h0m2 0h0m5 0h0m5 0h0m9 0h0m68 0h0m16 0h0m10 0h0m-415 1h0m1 0h0m19 0h0m4 0h0m2 0h0m75 0h0m1 0h0m1 0h0m6 0h0m5 0h0m5 0h0m75 0h0m5 0h0m14 0h0m1 0h0m13 0h0m58 0h0m5 0h0m3 0h0m20 0h0m1 0h0m7 0h0m85 0h0m2 0h0m-410 1h0m3 0h0m96 0h0m4 0h0m3 0h0m1 0h0m9 0h0m78 0h0m1 0h0m4 0h0m15 0h0m5 0h0m73 0h0m7 0h0m6 0h0m5 0h0m5 0h0m2 0h0m71 0h0m4 0h0m13 0h0m4 0h0m-389 1h0m5 0h0m70 0h0m11 0h0m1 0h0m6 0h0m92 0h0m4 0h0m1 0h0m4 0h0m1 0h0m6 0h0m2 0h0m69 0h0m4 0h0m10 0h0m4 0h0m2 0h0m3 0h0m2 0h0m87 0h0m10 0h0m2 0h0m3 0h0m1 0h0m-420 1h0m21 0h0m2 0h0m78 0h0m2 0h0m3 0h0m1 0h0m2 0h0m6 0h0m1 0h0m95 0h0m2 0h0m2 0h0m2 0h0m9 0h0m65 0h0m5 0h0m19 0h0m75 0h0m11 0h0m1 0h0m3 0h0m3 0h0m1 0h0m-377 1h0m77 0h0m2 0h0m2 0h0m82 0h0m3 0h0m14 0h0m1 0h0m4 0h0m75 0h0m18 0h0m14 0h0m68 0h0m1 0h0m15 0h0m3 0h0m2 0h0m-412 1h0m25 0h0m76 0h0m3 0h0m1 0h0m1 0h0m3 0h0m13 0h0m64 0h0m7 0h0m2 0h0m21 0h0m69 0h0m2 0h0m3 0h0m3 0h0m15 0h0m1 0h0m3 0h0m1 0h0m10 0h0m1 0h0m63 0h0m25 0h0m6 0h0m-420 1h0m1 0h0m3 0h0m20 0h0m4 0h0m3 0h0m68 0h0m4 0h0m6 0h0m1 0h0m5 0h0m4 0h0m2 0h0m4 0h0m64 0h0m1 0h0m11 0h0m9 0h0m7 0h0m2 0h0m3 0h0m1 0h0m66 0h0m4 0h0m1 0h0m16 0h0m6 0h0m3 0h0m3 0h0m4 0h0m67 0h0m10 0h0m4 0h0m-384 1h0m5 0h0m3 0h0m67 0h0m2 0h0m2 0h0m90 0h0m4 0h0m14 0h0m3 0h0m2 0h0m3 0h0m66 0h0m25 0h0m5 0h0m5 0h0m1 0h0m68 0h0m3 0h0m13 0h0m1 0h0m1 0h0m5 0h0m2 0h0m3 0h0m6 0h0m-406 1h0m3 0h0m1 0h0m5 0h0m2 0h0m1 0h0m5 0h0m68 0h0m2 0h0m1 0h0m17 0h0m6 0h0m62 0h0m1 0h0m4 0h0m1 0h0m3 0h0m14 0h0m2 0h0m1 0h0m1 0h0m2 0h0m68 0h0m4 0h0m6 0h0m13 0h0m6 0h0m1 0h0m4 0h0m1 0h0m1 0h0m3 0h0m2 0h0m65 0h0m4 0h0m9 0h0m1 0h0m1 0h0m12 0h0m-416 1h0m4 0h0m9 0h0m7 0h0m75 0h0m9 0h0m3 0h0m4 0h0m5 0h0m1 0h0m2 0h0m2 0h0m1 0h0m67 0h0m27 0h0m70 0h0m4 0h0m1 0h0m12 0h0m2 0h0m1 0h0m84 0h0m8 0h0m2 0h0m1 0h0m4 0h0m1 0h0m-409 1h0m3 0h0m1 0h0m1 0h0m12 0h0m7 0h0m8 0h0m2 0h0m71 0h0m4 0h0m1 0h0m1 0h0m74 0h0m7 0h0m3 0h0m1 0h0m8 0h0m18 0h0m2 0h0m1 0h0m2 0h0m63 0h0m4 0h0m1 0h0m5 0h0m3 0h0m1 0h0m4 0h0m2 0h0m5 0h0m12 0h0m57 0h0m4 0h0m4 0h0m1 0h0m4 0h0m3 0h0m18 0h0m3 0h0m-425 1h0m5 0h0m6 0h0m11 0h0m2 0h0m6 0h0m1 0h0m3 0h0m3 0h0m2 0h0m76 0h0m6 0h0m3 0h0m5 0h0m1 0h0m61 0h0m2 0h0m1 0h0m15 0h0m6 0h0m18 0h0m58 0h0m4 0h0m11 0h0m6 0h0m3 0h0m15 0h0m66 0h0m26 0h0m-423 1h0m5 0h0m17 0h0m5 0h0m1 0h0m6 0h0m1 0h0m71 0h0m4 0h0m3 0h0m1 0h0m20 0h0m72 0h0m8 0h0m1 0h0m2 0h0m8 0h0m4 0h0m2 0h0m2 0h0m3 0h0m50 0h0m4 0h0m7 0h0m1 0h0m1 0h0m1 0h0m5 0h0m5 0h0m1 0h0m115 0h0m-411 1h0m4 0h0m1 0h0m3 0h0m3 0h0m78 0h0m4 0h0m2 0h0m6 0h0m1 0h0m4 0h0m67 0h0m6 0h0m1 0h0m6 0h0m18 0h0m68 0h0m1 0h0m7 0h0m9 0h0m25 0h0m4 0h0m56 0h0m1 0h0m13 0h0m17 0h0m3 0h0m-422 1h0m7 0h0m16 0h0m12 0h0m1 0h0m3 0h0m52 0h0m12 0h0m7 0h0m1 0h0m4 0h0m1 0h0m10 0h0m2 0h0m55 0h0m4 0h0m4 0h0m2 0h0m1 0h0m37 0h0m59 0h0m1 0h0m4 0h0m12 0h0m2 0h0m1 0h0m2 0h0m11 0h0m4 0h0m66 0h0m8 0h0m19 0h0m1 0h0m-414 1h0m3 0h0m29 0h0m63 0h0m10 0h0m1 0h0m4 0h0m3 0h0m4 0h0m5 0h0m54 0h0m3 0h0m32 0h0m13 0h0m1 0h0m58 0h0m25 0h0m14 0h0m1 0h0m60 0h0m4 0h0m9 0h0m2 0h0m1 0h0m17 0h0m1 0h0m-424 1h0m2 0h0m18 0h0m20 0h0m63 0h0m1 0h0m4 0h0m5 0h0m1 0h0m3 0h0m1 0h0m1 0h0m8 0h0m62 0h0m5 0h0m8 0h0m5 0h0m6 0h0m4 0h0m14 0h0m63 0h0m5 0h0m5 0h0m1 0h0m3 0h0m17 0h0m4 0h0m64 0h0m6 0h0m22 0h0m-418 1h0m3 0h0m14 0h0m80 0h0m7 0h0m3 0h0m3 0h0m20 0h0m57 0h0m3 0h0m2 0h0m2 0h0m9 0h0m6 0h0m15 0h0m3 0h0m56 0h0m1 0h0m2 0h0m1 0h0m7 0h0m5 0h0m23 0h0m2 0h0m69 0h0m5 0h0m21 0h0m-423 1h0m5 0h0m2 0h0m31 0h0m1 0h0m55 0h0m2 0h0m7 0h0m4 0h0m1 0h0m4 0h0m3 0h0m5 0h0m67 0h0m7 0h0m3 0h0m14 0h0m19 0h0m59 0h0m37 0h0m1 0h0m66 0h0m4 0h0m-398 1h0m4 0h0m1 0h0m18 0h0m11 0h0m2 0h0m1 0h0m59 0h0m1 0h0m1 0h0m1 0h0m1 0h0m2 0h0m10 0h0m6 0h0m1 0h0m64 0h0m7 0h0m15 0h0m6 0h0m2 0h0m72 0h0m2 0h0m3 0h0m6 0h0m12 0h0m19 0h0m65 0h0m3 0h0m1 0h0m2 0h0m4 0h0m2 0h0m-404 1h0m1 0h0m1 0h0m36 0h0m59 0h0m5 0h0m3 0h0m6 0h0m6 0h0m70 0h0m4 0h0m3 0h0m5 0h0m26 0h0m6 0h0m2 0h0m51 0h0m4 0h0m1 0h0m6 0h0m1 0h0m4 0h0m1 0h0m28 0h0m61 0h0m8 0h0m3 0h0m20 0h0m-424 1h0m4 0h0m3 0h0m1 0h0m8 0h0m3 0h0m4 0h0m17 0h0m1 0h0m59 0h0m2 0h0m16 0h0m67 0h0m8 0h0m1 0h0m5 0h0m4 0h0m1 0h0m3 0h0m22 0h0m5 0h0m2 0h0m55 0h0m14 0h0m5 0h0m80 0h0m3 0h0m2 0h0m1 0h0m3 0h0m4 0h0m22 0h0m-426 1h0m14 0h0m9 0h0m16 0h0m1 0h0m58 0h0m4 0h0m13 0h0m7 0h0m2 0h0m67 0h0m9 0h0m6 0h0m5 0h0m6 0h0m19 0h0m49 0h0m4 0h0m4 0h0m7 0h0m2 0h0m2 0h0m90 0h0m1 0h0m6 0h0m4 0h0m20 0h0m2 0h0m1 0h0m-428 1h0m5 0h0m14 0h0m4 0h0m19 0h0m2 0h0m54 0h0m35 0h0m58 0h0m1 0h0m1 0h0m2 0h0m6 0h0m3 0h0m5 0h0m1 0h0m2 0h0m2 0h0m19 0h0m54 0h0m24 0h0m20 0h0m55 0h0m13 0h0m5 0h0m22 0h0m-435 1h0m19 0h0m5 0h0m4 0h0m18 0h0m1 0h0m55 0h0m23 0h0m3 0h0m16 0h0m48 0h0m6 0h0m1 0h0m19 0h0m1 0h0m2 0h0m17 0h0m54 0h0m5 0h0m15 0h0m3 0h0m2 0h0m23 0h0m1 0h0m2 0h0m49 0h0m2 0h0m4 0h0m5 0h0m3 0h0m1 0h0m10 0h0m18 0h0m-426 1h0m1 0h0m12 0h0m5 0h0m73 0h0m24 0h0m71 0h0m5 0h0m18 0h0m4 0h0m20 0h0m52 0h0m3 0h0m14 0h0m4 0h0m25 0h0m59 0h0m3 0h0m6 0h0m28 0h0m-407 1h0m72 0h0m2 0h0m23 0h0m16 0h0m57 0h0m43 0h0m74 0h0m1 0h0m2 0h0m77 0h0m8 0h0m3 0h0m-403 1h0m4 0h0m16 0h0m1 0h0m2 0h0m71 0h0m1 0h0m3 0h0m40 0h0m58 0h0m1 0h0m13 0h0m2 0h0m3 0h0m2 0h0m2 0h0m19 0h0m49 0h0m1 0h0m1 0h0m15 0h0m7 0h0m25 0h0m56 0h0m1 0h0m2 0h0m4 0h0m5 0h0m1 0h0m4 0h0m1 0h0m18 0h0m-421 1h0m8 0h0m4 0h0m1 0h0m70 0h0m6 0h0m95 0h0m27 0h0m76 0h0m9 0h0m4 0h0m3 0h0m1 0h0m25 0h0m51 0h0m8 0h0m4 0h0m2 0h0m5 0h0m1 0h0m20 0h0m1 0h0m-388 1h0m2 0h0m55 0h0m1 0h0m18 0h0m3 0h0m2 0h0m2 0h0m2 0h0m11 0h0m44 0h0m6 0h0m2 0h0m2 0h0m6 0h0m17 0h0m4 0h0m21 0h0m40 0h0m4 0h0m5 0h0m16 0h0m3 0h0m3 0h0m2 0h0m23 0h0m55 0h0m9 0h0m2 0h0m2 0h0m1 0h0m1 0h0m3 0h0m1 0h0m-410 1h0m1 0h0m12 0h0m5 0h0m23 0h0m8 0h0m47 0h0m1 0h0m2 0h0m21 0h0m5 0h0m1 0h0m16 0h0m42 0h0m6 0h0m10 0h0m11 0h0m7 0h0m19 0h0m2 0h0m44 0h0m2 0h0m29 0h0m72 0h0m1 0h0m7 0h0m3 0h0m10 0h0m6 0h0m-413 1h0m4 0h0m3 0h0m14 0h0m20 0h0m3 0h0m1 0h0m50 0h0m2 0h0m21 0h0m5 0h0m1 0h0m63 0h0m13 0h0m15 0h0m21 0h0m44 0h0m10 0h0m10 0h0m7 0h0m4 0h0m3 0h0m89 0h0m3 0h0m2 0h0m1 0h0m1 0h0m18 0h0m-426 1h0m10 0h0m2 0h0m3 0h0m24 0h0m2 0h0m80 0h0m10 0h0m57 0h0m21 0h0m1 0h0m2 0h0m2 0h0m65 0h0m10 0h0m12 0h0m4 0h0m1 0h0m2 0h0m1 0h0m23 0h0m1 0h0m1 0h0m63 0h0m5 0h0m1 0h0m4 0h0m20 0h0m-432 1h0m8 0h0m6 0h0m5 0h0m1 0h0m2 0h0m1 0h0m19 0h0m52 0h0m4 0h0m19 0h0m1 0h0m4 0h0m8 0h0m12 0h0m60 0h0m7 0h0m1 0h0m5 0h0m1 0h0m6 0h0m14 0h0m2 0h0m1 0h0m47 0h0m28 0h0m5 0h0m18 0h0m1 0h0m55 0h0m1 0h0m1 0h0m10 0h0m1 0h0m25 0h0m1 0h0m-428 1h0m2 0h0m1 0h0m1 0h0m1 0h0m14 0h0m2 0h0m2 0h0m67 0h0m2 0h0m1 0h0m19 0h0m2 0h0m4 0h0m3 0h0m64 0h0m1 0h0m2 0h0m21 0h0m2 0h0m4 0h0m4 0h0m11 0h0m3 0h0m1 0h0m60 0h0m5 0h0m4 0h0m29 0h0m4 0h0m53 0h0m4 0h0m2 0h0m3 0h0m10 0h0m1 0h0m14 0h0m1 0h0m2 0h0m-428 1h0m5 0h0m10 0h0m3 0h0m1 0h0m3 0h0m1 0h0m70 0h0m20 0h0m2 0h0m5 0h0m6 0h0m8 0h0m2 0h0m49 0h0m3 0h0m1 0h0m96 0h0m24 0h0m25 0h0m1 0h0m62 0h0m1 0h0m4 0h0m2 0h0m7 0h0m14 0h0m1 0h0m2 0h0m-444 1h0m15 0h0m13 0h0m3 0h0m3 0h0m23 0h0m69 0h0m2 0h0m3 0h0m11 0h0m9 0h0m1 0h0m1 0h0m51 0h0m2 0h0m15 0h0m10 0h0m3 0h0m13 0h0m3 0h0m5 0h0m52 0h0m11 0h0m2 0h0m79 0h0m5 0h0m4 0h0m2 0h0m2 0h0m2 0h0m9 0h0m-410 1h0m2 0h0m7 0h0m1 0h0m10 0h0m2 0h0m17 0h0m1 0h0m51 0h0m2 0h0m22 0h0m1 0h0m12 0h0m3 0h0m78 0h0m7 0h0m7 0h0m21 0h0m52 0h0m2 0h0m13 0h0m5 0h0m2 0h0m12 0h0m6 0h0m3 0h0m46 0h0m5 0h0m3 0h0m6 0h0m2 0h0m1 0h0m10 0h0m17 0h0m-428 1h0m1 0h0m1 0h0m6 0h0m12 0h0m1 0h0m17 0h0m57 0h0m20 0h0m4 0h0m9 0h0m3 0h0m55 0h0m3 0h0m11 0h0m8 0h0m4 0h0m6 0h0m1 0h0m9 0h0m60 0h0m14 0h0m2 0h0m2 0h0m10 0h0m69 0h0m5 0h0m4 0h0m5 0h0m30 0h0m-433 1h0m6 0h0m2 0h0m10 0h0m2 0h0m1 0h0m8 0h0m12 0h0m1 0h0m74 0h0m1 0h0m1 0h0m3 0h0m14 0h0m52 0h0m1 0h0m2 0h0m1 0h0m2 0h0m2 0h0m3 0h0m9 0h0m5 0h0m4 0h0m16 0h0m2 0h0m54 0h0m4 0h0m2 0h0m17 0h0m3 0h0m3 0h0m1 0h0m3 0h0m11 0h0m1 0h0m2 0h0m2 0h0m60 0h0m1 0h0m10 0h0m8 0h0m-421 1h0m3 0h0m1 0h0m25 0h0m2 0h0m4 0h0m5 0h0m1 0h0m5 0h0m56 0h0m20 0h0m1 0h0m4 0h0m10 0h0m4 0h0m56 0h0m7 0h0m9 0h0m1 0h0m1 0h0m4 0h0m19 0h0m2 0h0m2 0h0m44 0h0m8 0h0m10 0h0m2 0h0m5 0h0m9 0h0m2 0h0m1 0h0m2 0h0m15 0h0m4 0h0m50 0h0m8 0h0m1 0h0m1 0h0m11 0h0m18 0h0m1 0h0m-430 1h0m2 0h0m2 0h0m14 0h0m3 0h0m10 0h0m4 0h0m1 0h0m2 0h0m3 0h0m74 0h0m1 0h0m12 0h0m3 0h0m2 0h0m5 0h0m49 0h0m2 0h0m19 0h0m1 0h0m4 0h0m1 0h0m6 0h0m3 0h0m11 0h0m1 0h0m1 0h0m52 0h0m1 0h0m3 0h0m9 0h0m2 0h0m1 0h0m8 0h0m4 0h0m4 0h0m9 0h0m69 0h0m1 0h0m2 0h0m2 0h0m5 0h0m6 0h0m3 0h0m11 0h0m1 0h0m1 0h0m-434 1h0m5 0h0m2 0h0m2 0h0m6 0h0m1 0h0m5 0h0m2 0h0m4 0h0m5 0h0m90 0h0m17 0h0m51 0h0m10 0h0m6 0h0m7 0h0m4 0h0m1 0h0m1 0h0m10 0h0m3 0h0m7 0h0m50 0h0m1 0h0m1 0h0m1 0h0m6 0h0m13 0h0m3 0h0m6 0h0m16 0h0m55 0h0m1 0h0m1 0h0m12 0h0m16 0h0m9 0h0m-425 1h0m2 0h0m28 0h0m61 0h0m17 0h0m2 0h0m3 0h0m6 0h0m68 0h0m1 0h0m1 0h0m26 0h0m1 0h0m9 0h0m7 0h0m50 0h0m4 0h0m1 0h0m2 0h0m3 0h0m1 0h0m5 0h0m2 0h0m1 0h0m1 0h0m8 0h0m16 0h0m2 0h0m5 0h0m55 0h0m1 0h0m22 0h0m4 0h0m8 0h0m-423 1h0m3 0h0m1 0h0m1 0h0m9 0h0m2 0h0m15 0h0m76 0h0m79 0h0m1 0h0m2 0h0m6 0h0m10 0h0m1 0h0m3 0h0m12 0h0m4 0h0m1 0h0m3 0h0m1 0h0m53 0h0m18 0h0m1 0h0m1 0h0m2 0h0m3 0h0m13 0h0m3 0h0m2 0h0m1 0h0m2 0h0m59 0h0m2 0h0m3 0h0m8 0h0m2 0h0m-406 1h0m1 0h0m4 0h0m6 0h0m3 0h0m5 0h0m3 0h0m9 0h0m1 0h0m9 0h0m56 0h0m12 0h0m1 0h0m5 0h0m75 0h0m3 0h0m4 0h0m5 0h0m1 0h0m19 0h0m9 0h0m1 0h0m61 0h0m3 0h0m2 0h0m1 0h0m2 0h0m13 0h0m6 0h0m3 0h0m3 0h0m2 0h0m2 0h0m3 0h0m58 0h0m1 0h0m4 0h0m3 0h0m11 0h0m14 0h0m7 0h0m1 0h0m-432 1h0m2 0h0m4 0h0m3 0h0m25 0h0m6 0h0m47 0h0m10 0h0m2 0h0m11 0h0m14 0h0m58 0h0m21 0h0m16 0h0m6 0h0m7 0h0m58 0h0m1 0h0m3 0h0m10 0h0m6 0h0m15 0h0m3 0h0m3 0h0m57 0h0m1 0h0m2 0h0m3 0h0m1 0h0m5 0h0m19 0h0m1 0h0m5 0h0m-426 1h0m9 0h0m6 0h0m1 0h0m4 0h0m11 0h0m1 0h0m7 0h0m56 0h0m2 0h0m1 0h0m1 0h0m4 0h0m1 0h0m10 0h0m1 0h0m76 0h0m4 0h0m6 0h0m2 0h0m10 0h0m73 0h0m1 0h0m4 0h0m2 0h0m3 0h0m6 0h0m1 0h0m24 0h0m1 0h0m6 0h0m82 0h0m2 0h0m6 0h0m3 0h0m1 0h0m-424 1h0m2 0h0m8 0h0m79 0h0m2 0h0m1 0h0m2 0h0m18 0h0m75 0h0m5 0h0m2 0h0m2 0h0m2 0h0m8 0h0m19 0h0m56 0h0m5 0h0m1 0h0m4 0h0m1 0h0m3 0h0m26 0h0m71 0h0m14 0h0m7 0h0m1 0h0m4 0h0m-424 1h0m3 0h0m2 0h0m4 0h0m4 0h0m4 0h0m2 0h0m7 0h0m19 0h0m52 0h0m1 0h0m2 0h0m3 0h0m3 0h0m83 0h0m2 0h0m3 0h0m3 0h0m5 0h0m1 0h0m30 0h0m59 0h0m9 0h0m6 0h0m-308 1h0m5 0h0m1 0h0m2 0h0m6 0h0m83 0h0m2 0h0m5 0h0m4 0h0m3 0h0m4 0h0m2 0h0m73 0h0m5 0h0m5 0h0m9 0h0m77 0h0m9 0h0m17 0h0m111 0h0m1 0h0m2 0h0m-426 1h0m3 0h0m2 0h0m4 0h0m1 0h0m11 0h0m79 0h0m6 0h0m1 0h0m5 0h0m82 0h0m2 0h0m2 0h0m2 0h0m1 0h0m4 0h0m4 0h0m82 0h0m1 0h0m3 0h0m6 0h0m121 0h0m1 0h0m-424 1h0m3 0h0m7 0h0m2 0h0m5 0h0m17 0h0m62 0h0m3 0h0m1 0h0m3 0h0m2 0h0m5 0h0m84 0h0m4 0h0m2 0h0m4 0h0m93 0h0m128 0h0m-423 1h0m1 0h0m2 0h0m22 0h0m68 0h0m2 0h0m3 0h0m3 0h0m4 0h0m90 0h0m7 0h0m3 0h0m132 0h0m82 0h0m9 0h0m-417 1h0m5 0h0m80 0h0m4 0h0m188 0h0m4 0h0m30 0h0m99 0h0m-417 1h0m7 0h0m83 0h0m5 0h0m3 0h0m96 0h0m93 0h0m127 0h0m-406 1h0m3 1h0m85 0h0m316 0h0m-129 2h0m-193 1h0m1 0h0m96 0h0m-179 1h0m282 0h0m-233 11h0m-10 1h0m1 0h0m3 0h0m7 0h0m1 0h0m2 0h0m-11 1h0m1 0h0m5 0h0m2 0h0m4 0h0m-14 1h0m1 0h0m3 0h0m10 0h0m4 0h0m1 0h0m175 0h0m196 0h0m-391 1h0m1 0h0m7 0h0m6 0h0m92 0h0m1 0h0m92 0h0m-209 1h0m1 0h0m9 0h0m14 0h0m1 0h0m3 0h0m176 0h0m1 0h0m194 0h0m-396 1h0m4 0h0m7 0h0m2 0h0m3 0h0m3 0h0m4 0h0m3 0h0m82 0h0m2 0h0m184 0h0m1 0h0m96 0h0m-397 1h0m6 0h0m2 0h0m14 0h0m8 0h0m2 0h0m83 0h0m4 0h0m86 0h0m87 0h0m2 0h0m9 0h0m7 0h0m86 0h0m1 0h0m3 0h0m2 0h0m1 0h0m1 0h0m-372 1h0m94 0h0m78 0h0m2 0h0m5 0h0m2 0h0m1 0h0m2 0h0m4 0h0m77 0h0m5 0h0m4 0h0m4 0h0m80 0h0m2 0h0m5 0h0m-395 1h0m5 0h0m1 0h0m23 0h0m1 0h0m67 0h0m9 0h0m3 0h0m4 0h0m86 0h0m3 0h0m5 0h0m84 0h0m6 0h0m11 0h0m88 0h0m5 0h0m3 0h0m4 0h0m-408 1h0m1 0h0m3 0h0m4 0h0m14 0h0m3 0h0m3 0h0m91 0h0m77 0h0m5 0h0m6 0h0m93 0h0m2 0h0m1 0h0m4 0h0m2 0h0m87 0h0m1 0h0m3 0h0m3 0h0m1 0h0m1 0h0m4 0h0m1 0h0m-411 1h0m1 0h0m22 0h0m1 0h0m2 0h0m86 0h0m88 0h0m10 0h0m3 0h0m2 0h0m69 0h0m10 0h0m7 0h0m9 0h0m1 0h0m97 0h0m2 0h0m-383 1h0m77 0h0m7 0h0m4 0h0m2 0h0m7 0h0m71 0h0m4 0h0m2 0h0m6 0h0m6 0h0m72 0h0m8 0h0m8 0h0m3 0h0m8 0h0m2 0h0m2 0h0m74 0h0m16 0h0m1 0h0m1 0h0m1 0h0m-384 1h0m4 0h0m66 0h0m13 0h0m15 0h0m69 0h0m2 0h0m6 0h0m2 0h0m5 0h0m8 0h0m1 0h0m2 0h0m1 0h0m66 0h0m1 0h0m1 0h0m2 0h0m1 0h0m3 0h0m4 0h0m8 0h0m4 0h0m1 0h0m2 0h0m74 0h0m1 0h0m-400 1h0m4 0h0m2 0h0m3 0h0m1 0h0m2 0h0m25 0h0m3 0h0m76 0h0m9 0h0m3 0h0m2 0h0m5 0h0m66 0h0m10 0h0m1 0h0m16 0h0m5 0h0m65 0h0m1 0h0m2 0h0m23 0h0m1 0h0m2 0h0m-318 1h0m30 0h0m1 0h0m69 0h0m5 0h0m2 0h0m1 0h0m1 0h0m14 0h0m70 0h0m1 0h0m7 0h0m20 0h0m64 0h0m6 0h0m32 0h0m70 0h0m19 0h0m4 0h0m1 0h0m-423 1h0m3 0h0m36 0h0m70 0h0m1 0h0m3 0h0m12 0h0m3 0h0m2 0h0m1 0h0m2 0h0m67 0h0m4 0h0m3 0h0m20 0h0m92 0h0m2 0h0m5 0h0m68 0h0m1 0h0m17 0h0m-412 1h0m41 0h0m66 0h0m8 0h0m17 0h0m2 0h0m67 0h0m25 0h0m1 0h0m1 0h0m66 0h0m2 0h0m21 0h0m75 0h0m-291 1h0m1 0h0m7 0h0m4 0h0m13 0h0m8 0h0m67 0h0m19 0h0m8 0h0m2 0h0m90 0h0m2 0h0m1 0h0m94 0h0m4 0h0m-419 1h0m33 0h0m1 0h0m65 0h0m8 0h0m28 0h0m63 0h0m4 0h0m5 0h0m84 0h0m28 0h0m70 0h0m1 0h0m-393 1h0m3 0h0m92 0h0m12 0h0m2 0h0m5 0h0m15 0h0m69 0h0m4 0h0m20 0h0m4 0h0m2 0h0m4 0h0m1 0h0m54 0h0m8 0h0m28 0h0m93 0h0m-422 1h0m7 0h0m3 0h0m29 0h0m3 0h0m1 0h0m93 0h0m1 0h0m2 0h0m62 0h0m28 0h0m5 0h0m59 0h0m3 0h0m1 0h0m29 0h0m4 0h0m91 0h0m-419 1h0m2 0h0m2 0h0m1 0h0m38 0h0m58 0h0m2 0h0m30 0h0m1 0h0m67 0h0m1 0h0m5 0h0m22 0h0m2 0h0m63 0h0m2 0h0m27 0h0m2 0h0m1 0h0m65 0h0m7 0h0m3 0h0m20 0h0m3 0h0m1 0h0m-388 1h0m4 0h0m62 0h0m30 0h0m67 0h0m1 0h0m27 0h0m2 0h0m1 0h0m68 0h0m24 0h0m4 0h0m64 0h0m4 0h0m1 0h0m21 0h0m3 0h0m-418 1h0m8 0h0m24 0h0m5 0h0m63 0h0m7 0h0m24 0h0m1 0h0m1 0h0m63 0h0m1 0h0m2 0h0m26 0h0m69 0h0m23 0h0m6 0h0m77 0h0m12 0h0m12 0h0m-425 1h0m2 0h0m1 0h0m34 0h0m1 0h0m61 0h0m1 0h0m3 0h0m23 0h0m2 0h0m68 0h0m32 0h0m1 0h0m5 0h0m56 0h0m32 0h0m6 0h0m61 0h0m9 0h0m20 0h0m-384 1h0m66 0h0m25 0h0m3 0h0m4 0h0m63 0h0m2 0h0m31 0h0m64 0h0m1 0h0m30 0h0m4 0h0m69 0h0m2 0h0m19 0h0m-418 1h0m30 0h0m100 0h0m7 0h0m58 0h0m1 0h0m32 0h0m2 0h0m1 0h0m63 0h0m1 0h0m29 0h0m1 0h0m4 0h0m2 0h0m62 0h0m2 0h0m1 0h0m2 0h0m4 0h0m4 0h0m3 0h0m12 0h0m1 0h0m-420 1h0m1 0h0m27 0h0m4 0h0m63 0h0m5 0h0m2 0h0m19 0h0m3 0h0m3 0h0m1 0h0m1 0h0m1 0h0m2 0h0m60 0h0m7 0h0m26 0h0m66 0h0m1 0h0m2 0h0m1 0h0m5 0h0m15 0h0m1 0h0m3 0h0m5 0h0m1 0h0m3 0h0m1 0h0m71 0h0m2 0h0m5 0h0m8 0h0m3 0h0m-420 1h0m5 0h0m20 0h0m15 0h0m57 0h0m4 0h0m33 0h0m65 0h0m89 0h0m8 0h0m26 0h0m69 0h0m6 0h0m4 0h0m7 0h0m1 0h0m4 0h0m6 0h0m4 0h0m5 0h0m-428 1h0m1 0h0m3 0h0m24 0h0m64 0h0m34 0h0m5 0h0m3 0h0m1 0h0m159 0h0m6 0h0m9 0h0m4 0h0m14 0h0m2 0h0m68 0h0m6 0h0m12 0h0m1 0h0m6 0h0m1 0h0m4 0h0m-424 1h0m119 0h0m1 0h0m9 0h0m1 0h0m62 0h0m26 0h0m4 0h0m4 0h0m3 0h0m62 0h0m1 0h0m1 0h0m1 0h0m4 0h0m12 0h0m6 0h0m1 0h0m2 0h0m66 0h0m12 0h0m3 0h0m1 0h0m1 0h0m3 0h0m4 0h0m1 0h0m2 0h0m3 0h0m2 0h0m-420 1h0m2 0h0m28 0h0m91 0h0m10 0h0m59 0h0m5 0h0m2 0h0m30 0h0m1 0h0m3 0h0m1 0h0m66 0h0m6 0h0m12 0h0m11 0h0m83 0h0m5 0h0m4 0h0m1 0h0m1 0h0m5 0h0m1 0h0m-389 1h0m48 0h0m13 0h0m25 0h0m1 0h0m5 0h0m4 0h0m1 0h0m90 0h0m8 0h0m66 0h0m1 0h0m4 0h0m2 0h0m1 0h0m3 0h0m2 0h0m2 0h0m1 0h0m7 0h0m3 0h0m6 0h0m85 0h0m3 0h0m-424 1h0m9 0h0m13 0h0m9 0h0m4 0h0m1 0h0m63 0h0m1 0h0m2 0h0m31 0h0m2 0h0m82 0h0m18 0h0m1 0h0m65 0h0m3 0h0m10 0h0m6 0h0m2 0h0m3 0h0m3 0h0m2 0h0m3 0h0m79 0h0m4 0h0m12 0h0m-430 1h0m6 0h0m2 0h0m1 0h0m1 0h0m3 0h0m89 0h0m42 0h0m56 0h0m4 0h0m21 0h0m6 0h0m6 0h0m2 0h0m58 0h0m12 0h0m1 0h0m3 0h0m2 0h0m2 0h0m4 0h0m4 0h0m2 0h0m5 0h0m5 0h0m81 0h0m-417 1h0m8 0h0m1 0h0m18 0h0m14 0h0m5 0h0m50 0h0m1 0h0m94 0h0m1 0h0m8 0h0m1 0h0m23 0h0m16 0h0m66 0h0m3 0h0m1 0h0m3 0h0m2 0h0m1 0h0m6 0h0m4 0h0m1 0h0m2 0h0m7 0h0m71 0h0m24 0h0m-427 1h0m1 0h0m6 0h0m10 0h0m12 0h0m5 0h0m6 0h0m1 0h0m52 0h0m1 0h0m4 0h0m25 0h0m73 0h0m1 0h0m5 0h0m101 0h0m7 0h0m2 0h0m6 0h0m1 0h0m4 0h0m82 0h0m6 0h0m19 0h0m-442 1h0m12 0h0m1 0h0m1 0h0m1 0h0m5 0h0m3 0h0m1 0h0m7 0h0m15 0h0m1 0h0m5 0h0m55 0h0m95 0h0m4 0h0m114 0h0m3 0h0m2 0h0m4 0h0m5 0h0m10 0h0m82 0h0m2 0h0m15 0h0m-416 1h0m20 0h0m57 0h0m2 0h0m2 0h0m24 0h0m16 0h0m1 0h0m65 0h0m99 0h0m5 0h0m2 0h0m2 0h0m8 0h0m1 0h0m2 0h0m1 0h0m11 0h0m75 0h0m-407 1h0m2 0h0m6 0h0m28 0h0m61 0h0m93 0h0m15 0h0m9 0h0m3 0h0m83 0h0m8 0h0m6 0h0m1 0h0m18 0h0m73 0h0m1 0h0m19 0h0m1 0h0m-424 1h0m7 0h0m4 0h0m1 0h0m2 0h0m18 0h0m1 0h0m4 0h0m48 0h0m4 0h0m4 0h0m20 0h0m19 0h0m52 0h0m5 0h0m3 0h0m3 0h0m12 0h0m1 0h0m24 0h0m67 0h0m3 0h0m25 0h0m70 0h0m-394 1h0m4 0h0m4 0h0m3 0h0m6 0h0m70 0h0m1 0h0m1 0h0m3 0h0m1 0h0m1 0h0m10 0h0m2 0h0m3 0h0m10 0h0m8 0h0m60 0h0m4 0h0m4 0h0m1 0h0m2 0h0m3 0h0m5 0h0m3 0h0m82 0h0m1 0h0m2 0h0m4 0h0m3 0h0m10 0h0m15 0h0m79 0h0m16 0h0m-419 1h0m4 0h0m5 0h0m2 0h0m1 0h0m9 0h0m2 0h0m67 0h0m10 0h0m8 0h0m7 0h0m77 0h0m6 0h0m7 0h0m88 0h0m5 0h0m5 0h0m4 0h0m3 0h0m86 0h0m2 0h0m21 0h0m-426 1h0m7 0h0m8 0h0m9 0h0m60 0h0m9 0h0m1 0h0m3 0h0m3 0h0m6 0h0m1 0h0m6 0h0m1 0h0m3 0h0m70 0h0m3 0h0m5 0h0m2 0h0m9 0h0m3 0h0m2 0h0m22 0h0m71 0h0m2 0h0m4 0h0m-312 1h0m9 0h0m18 0h0m65 0h0m1 0h0m4 0h0m2 0h0m2 0h0m3 0h0m6 0h0m8 0h0m2 0h0m2 0h0m66 0h0m17 0h0m3 0h0m24 0h0m76 0h0m3 0h0m2 0h0m1 0h0m2 0h0m1 0h0m2 0h0m12 0h0m76 0h0m1 0h0m19 0h0m2 0h0m-407 1h0m1 0h0m12 0h0m1 0h0m1 0h0m60 0h0m9 0h0m1 0h0m15 0h0m5 0h0m1 0h0m61 0h0m2 0h0m1 0h0m7 0h0m5 0h0m1 0h0m4 0h0m6 0h0m16 0h0m70 0h0m2 0h0m6 0h0m9 0h0m86 0h0m25 0h0m2 0h0m-422 1h0m13 0h0m2 0h0m12 0h0m1 0h0m62 0h0m1 0h0m4 0h0m2 0h0m15 0h0m8 0h0m1 0h0m2 0h0m79 0h0m3 0h0m14 0h0m73 0h0m6 0h0m1 0h0m3 0h0m7 0h0m2 0h0m12 0h0m71 0h0m-316 1h0m16 0h0m7 0h0m9 0h0m7 0h0m5 0h0m3 0h0m1 0h0m71 0h0m23 0h0m4 0h0m68 0h0m4 0h0m6 0h0m4 0h0m2 0h0m4 0h0m84 0h0m20 0h0m1 0h0m-412 1h0m8 0h0m2 0h0m11 0h0m2 0h0m1 0h0m62 0h0m5 0h0m10 0h0m1 0h0m11 0h0m1 0h0m1 0h0m1 0h0m64 0h0m9 0h0m7 0h0m1 0h0m17 0h0m67 0h0m8 0h0m12 0h0m114 0h0m-412 1h0m14 0h0m63 0h0m23 0h0m8 0h0m1 0h0m3 0h0m62 0h0m5 0h0m1 0h0m5 0h0m7 0h0m1 0h0m2 0h0m19 0h0m84 0h0m13 0h0m3 0h0m99 0h0m-426 1h0m17 0h0m3 0h0m10 0h0m68 0h0m4 0h0m6 0h0m16 0h0m83 0h0m14 0h0m2 0h0m2 0h0m89 0h0m12 0h0m2 0h0m71 0h0m24 0h0m1 0h0m-423 1h0m21 0h0m8 0h0m59 0h0m22 0h0m12 0h0m80 0h0m2 0h0m2 0h0m11 0h0m2 0h0m1 0h0m68 0h0m7 0h0m4 0h0m13 0h0m12 0h0m1 0h0m1 0h0m1 0h0m90 0h0m5 0h0m1 0h0m-425 1h0m21 0h0m12 0h0m1 0h0m64 0h0m15 0h0m1 0h0m13 0h0m67 0h0m6 0h0m23 0h0m80 0h0m1 0h0m22 0h0m72 0h0m2 0h0m22 0h0m-391 1h0m3 0h0m90 0h0m99 0h0m78 0h0m15 0h0m1 0h0m7 0h0m72 0h0m1 0h0m1 0h0m2 0h0m1 0h0m2 0h0m16 0h0m-313 1h0m7 0h0m10 0h0m100 0h0m93 0h0m9 0h0m73 0h0m2 0h0m22 0h0m1 0h0m-411 1h0m196 0h0m2 0h0m11 0h0m71 0h0m10 0h0m96 0h0m1 0h0m22 0h0m-391 1h0m1 0h0m82 0h0m1 0h0m83 0h0m8 0h0m3 0h0m13 0h0m97 0h0m5 0h0m76 0h0m3 0h0m-380 1h0m184 0h0m20 0h0m76 0h0m2 0h0m91 0h0m1 0h0m2 0h0m1 0h0m-371 1h0m82 0h0m1 0h0m2 0h0m72 0h0m14 0h0m22 0h0m77 0h0m2 0h0m25 0h0m71 0h0m4 0h0m-404 1h0m22 0h0m2 0h0m6 0h0m3 0h0m83 0h0m3 0h0m89 0h0m4 0h0m9 0h0m74 0h0m3 0h0m4 0h0m25 0h0m75 0h0m16 0h0m3 0h0m-398 1h0m5 0h0m1 0h0m3 0h0m178 0h0m1 0h0m95 0h0m12 0h0m87 0h0m1 0h0m15 0h0m-397 1h0m2 0h0m1 0h0m9 0h0m65 0h0m15 0h0m73 0h0m6 0h0m13 0h0m13 0h0m2 0h0m80 0h0m4 0h0m11 0h0m2 0h0m82 0h0m5 0h0m6 0h0m6 0h0m2 0h0m-394 1h0m89 0h0m107 0h0m83 0h0m2 0h0m8 0h0m2 0h0m74 0h0m8 0h0m1 0h0m5 0h0m5 0h0m-381 1h0m1 0h0m86 0h0m101 0h0m90 0h0m75 0h0m18 0h0m2 0h0m21 0h0m-402 1h0m1 0h0m1 0h0m1 0h0m3 0h0m89 0h0m1 0h0m1 0h0m2 0h0m4 0h0m95 0h0m1 0h0m88 0h0m5 0h0m3 0h0m1 0h0m86 0h0m7 0h0m3 0h0m1 0h0m1 0h0m-205 1h0m1 0h0m94 0h0m2 0h0m5 0h0m3 0h0m89 0h0m3 0h0m2 0h0m6 0h0m-388 1h0m89 0h0m1 0h0m1 0h0m98 0h0m79 0h0m16 0h0m3 0h0m88 0h0m2 0h0m13 0h0m1 0h0m-331 1h0m31 0h0m7 0h0m84 0h0m1 0h0m8 0h0m87 0h0m2 0h0m5 0h0m8 0h0m83 0h0m4 0h0m1 0h0m4 0h0m2 0h0m1 0h0m4 0h0m-300 1h0m2 0h0m93 0h0m2 0h0m1 0h0m89 0h0m1 0h0m1 0h0m2 0h0m1 0h0m1 0h0m97 0h0m4 0h0m3 0h0m-293 1h0m1 0h0m90 0h0m1 0h0m94 0h0m2 0h0m1 0h0m1 0h0m79 0h0m15 0h0m-385 1h0m99 0h0m285 0h0m1 0h0m3 0h0m-201 1h0m1 0h0m1 0h0m1 0h0m2 0h0m94 0h0m3 0h0m1 0h0m6 0h0m87 0h0m1 0h0m1 0h0m4 0h0m3 0h0m-200 1h0m1 0h0m188 0h0m9 0h0m-204 1h0m5 0h0m98 1h0m95 0h0m-3 4h0"/>
<path stroke="#8c8c8c" d="M115 29h0m282 2h0m4 0h0m-3 1h0m8 0h0m-298 1h0m2 0h0m6 0h0m277 0h0m5 0h0m-2 1h0m1 0h0m-282 1h0m2 0h0m284 0h0m-287 1h0m-4 1h0m106 0h0m81 0h0m100 0h0m-281 1h0m6 0h0m276 0h0m5 0h0m92 0h0m-385 1h0m4 0h0m1 0h0m279 0h0m3 0h0m2 0h0m2 0h0m2 0h0m92 0h0m-295 1h0m6 0h0m92 0h0m1 0h0m94 0h0m2 0h0m97 0h0m-385 1h0m11 0h0m7 0h0m79 0h0m1 0h0m1 0h0m4 0h0m2 0h0m84 0h0m2 0h0m6 0h0m3 0h0m92 0h0m8 0h0m91 0h0m-396 1h0m15 0h0m94 0h0m84 0h0m1 0h0m2 0h0m1 0h0m2 0h0m90 0h0m4 0h0m94 0h0m5 0h0m-393 1h0m1 0h0m17 0h0m77 0h0m9 0h0m1 0h0m95 0h0m4 0h0m1 0h0m1 0h0m1 0h0m2 0h0m1 0h0m79 0h0m2 0h0m3 0h0m7 0h0m94 0h0m1 0h0m-382 1h0m80 0h0m17 0h0m81 0h0m3 0h0m3 0h0m3 0h0m1 0h0m86 0h0m1 0h0m7 0h0m1 0h0m1 0h0m89 0h0m-391 1h0m2 0h0m2 0h0m12 0h0m1 0h0m1 0h0m4 0h0m1 0h0m85 0h0m11 0h0m77 0h0m4 0h0m16 0h0m74 0h0m2 0h0m1 0h0m6 0h0m6 0h0m2 0h0m79 0h0m2 0h0m11 0h0m4 0h0m-402 1h0m99 0h0m5 0h0m2 0h0m85 0h0m4 0h0m2 0h0m1 0h0m6 0h0m2 0h0m83 0h0m6 0h0m8 0h0m1 0h0m5 0h0m81 0h0m8 0h0m1 0h0m-399 1h0m20 0h0m76 0h0m3 0h0m2 0h0m5 0h0m6 0h0m81 0h0m4 0h0m3 0h0m10 0h0m1 0h0m78 0h0m2 0h0m1 0h0m1 0h0m13 0h0m1 0h0m3 0h0m79 0h0m9 0h0m1 0h0m9 0h0m-394 1h0m3 0h0m2 0h0m78 0h0m2 0h0m5 0h0m85 0h0m2 0h0m1 0h0m9 0h0m87 0h0m2 0h0m1 0h0m3 0h0m2 0h0m14 0h0m85 0h0m-399 1h0m22 0h0m2 0h0m76 0h0m4 0h0m2 0h0m1 0h0m7 0h0m5 0h0m76 0h0m11 0h0m2 0h0m4 0h0m80 0h0m15 0h0m1 0h0m1 0h0m1 0h0m81 0h0m9 0h0m3 0h0m8 0h0m-414 1h0m6 0h0m1 0h0m12 0h0m4 0h0m83 0h0m9 0h0m2 0h0m1 0h0m6 0h0m70 0h0m5 0h0m7 0h0m4 0h0m100 0h0m3 0h0m84 0h0m8 0h0m1 0h0m8 0h0m-391 1h0m81 0h0m1 0h0m3 0h0m5 0h0m1 0h0m3 0h0m80 0h0m5 0h0m10 0h0m4 0h0m85 0h0m3 0h0m16 0h0m2 0h0m84 0h0m11 0h0m2 0h0m-417 1h0m21 0h0m78 0h0m1 0h0m1 0h0m1 0h0m5 0h0m3 0h0m83 0h0m4 0h0m1 0h0m12 0h0m74 0h0m5 0h0m2 0h0m2 0h0m4 0h0m5 0h0m5 0h0m9 0h0m3 0h0m69 0h0m9 0h0m4 0h0m14 0h0m1 0h0m-416 1h0m15 0h0m3 0h0m2 0h0m2 0h0m169 0h0m4 0h0m4 0h0m11 0h0m2 0h0m79 0h0m1 0h0m1 0h0m6 0h0m2 0h0m1 0h0m3 0h0m3 0h0m7 0h0m8 0h0m66 0h0m1 0h0m1 0h0m3 0h0m7 0h0m1 0h0m14 0h0m-417 1h0m4 0h0m10 0h0m84 0h0m3 0h0m4 0h0m6 0h0m3 0h0m96 0h0m75 0h0m16 0h0m4 0h0m5 0h0m5 0h0m2 0h0m1 0h0m79 0h0m5 0h0m1 0h0m1 0h0m5 0h0m2 0h0m-414 1h0m11 0h0m12 0h0m2 0h0m1 0h0m74 0h0m11 0h0m2 0h0m2 0h0m2 0h0m75 0h0m12 0h0m6 0h0m3 0h0m1 0h0m1 0h0m2 0h0m8 0h0m67 0h0m7 0h0m3 0h0m1 0h0m6 0h0m4 0h0m9 0h0m2 0h0m1 0h0m68 0h0m2 0h0m1 0h0m10 0h0m3 0h0m3 0h0m1 0h0m5 0h0m-414 1h0m8 0h0m18 0h0m76 0h0m6 0h0m81 0h0m3 0h0m4 0h0m10 0h0m6 0h0m11 0h0m64 0h0m5 0h0m11 0h0m2 0h0m10 0h0m2 0h0m80 0h0m1 0h0m3 0h0m7 0h0m2 0h0m1 0h0m2 0h0m2 0h0m-418 1h0m3 0h0m8 0h0m6 0h0m8 0h0m81 0h0m4 0h0m4 0h0m1 0h0m4 0h0m2 0h0m1 0h0m1 0h0m3 0h0m65 0h0m4 0h0m16 0h0m5 0h0m1 0h0m2 0h0m3 0h0m67 0h0m4 0h0m17 0h0m1 0h0m2 0h0m5 0h0m4 0h0m71 0h0m4 0h0m13 0h0m4 0h0m1 0h0m-413 1h0m1 0h0m8 0h0m7 0h0m11 0h0m2 0h0m68 0h0m3 0h0m5 0h0m3 0h0m3 0h0m3 0h0m8 0h0m68 0h0m5 0h0m2 0h0m6 0h0m1 0h0m1 0h0m3 0h0m10 0h0m3 0h0m64 0h0m6 0h0m2 0h0m10 0h0m7 0h0m12 0h0m67 0h0m3 0h0m1 0h0m2 0h0m1 0h0m15 0h0m-412 1h0m1 0h0m7 0h0m16 0h0m3 0h0m4 0h0m64 0h0m4 0h0m2 0h0m9 0h0m4 0h0m78 0h0m3 0h0m13 0h0m1 0h0m3 0h0m5 0h0m4 0h0m68 0h0m5 0h0m3 0h0m2 0h0m3 0h0m1 0h0m3 0h0m7 0h0m1 0h0m73 0h0m8 0h0m1 0h0m9 0h0m1 0h0m7 0h0m-417 1h0m1 0h0m18 0h0m2 0h0m8 0h0m1 0h0m69 0h0m1 0h0m1 0h0m5 0h0m1 0h0m10 0h0m7 0h0m69 0h0m1 0h0m10 0h0m1 0h0m7 0h0m5 0h0m1 0h0m2 0h0m1 0h0m73 0h0m2 0h0m9 0h0m7 0h0m5 0h0m6 0h0m4 0h0m70 0h0m2 0h0m2 0h0m5 0h0m2 0h0m9 0h0m-416 1h0m16 0h0m3 0h0m8 0h0m4 0h0m67 0h0m1 0h0m1 0h0m10 0h0m1 0h0m10 0h0m2 0h0m2 0h0m83 0h0m3 0h0m6 0h0m3 0h0m6 0h0m2 0h0m62 0h0m7 0h0m4 0h0m4 0h0m1 0h0m2 0h0m6 0h0m7 0h0m3 0h0m71 0h0m5 0h0m2 0h0m17 0h0m-412 1h0m1 0h0m10 0h0m3 0h0m2 0h0m4 0h0m6 0h0m1 0h0m4 0h0m61 0h0m13 0h0m4 0h0m1 0h0m75 0h0m4 0h0m20 0h0m2 0h0m7 0h0m61 0h0m3 0h0m9 0h0m5 0h0m3 0h0m4 0h0m1 0h0m15 0h0m73 0h0m5 0h0m-402 1h0m1 0h0m15 0h0m3 0h0m4 0h0m2 0h0m7 0h0m70 0h0m11 0h0m5 0h0m2 0h0m1 0h0m1 0h0m60 0h0m12 0h0m5 0h0m1 0h0m4 0h0m6 0h0m5 0h0m2 0h0m5 0h0m3 0h0m72 0h0m5 0h0m2 0h0m21 0h0m61 0h0m2 0h0m1 0h0m-387 1h0m4 0h0m5 0h0m5 0h0m8 0h0m1 0h0m4 0h0m63 0h0m11 0h0m2 0h0m3 0h0m15 0h0m3 0h0m56 0h0m6 0h0m3 0h0m8 0h0m12 0h0m5 0h0m3 0h0m9 0h0m56 0h0m1 0h0m4 0h0m8 0h0m20 0h0m1 0h0m6 0h0m68 0h0m11 0h0m15 0h0m-423 1h0m2 0h0m12 0h0m5 0h0m3 0h0m12 0h0m63 0h0m7 0h0m1 0h0m4 0h0m13 0h0m2 0h0m70 0h0m2 0h0m3 0h0m2 0h0m2 0h0m21 0h0m3 0h0m2 0h0m63 0h0m1 0h0m3 0h0m1 0h0m1 0h0m12 0h0m14 0h0m3 0h0m1 0h0m65 0h0m5 0h0m5 0h0m19 0h0m-423 1h0m3 0h0m2 0h0m1 0h0m5 0h0m5 0h0m2 0h0m8 0h0m9 0h0m2 0h0m2 0h0m60 0h0m3 0h0m5 0h0m1 0h0m10 0h0m4 0h0m1 0h0m8 0h0m57 0h0m7 0h0m4 0h0m1 0h0m8 0h0m8 0h0m1 0h0m1 0h0m71 0h0m9 0h0m4 0h0m11 0h0m15 0h0m72 0h0m3 0h0m1 0h0m-401 1h0m3 0h0m3 0h0m7 0h0m1 0h0m6 0h0m12 0h0m2 0h0m59 0h0m5 0h0m6 0h0m3 0h0m6 0h0m4 0h0m9 0h0m2 0h0m73 0h0m8 0h0m1 0h0m3 0h0m70 0h0m1 0h0m16 0h0m2 0h0m2 0h0m4 0h0m17 0h0m2 0h0m1 0h0m61 0h0m1 0h0m14 0h0m-410 1h0m6 0h0m2 0h0m29 0h0m67 0h0m5 0h0m5 0h0m1 0h0m5 0h0m5 0h0m10 0h0m58 0h0m3 0h0m7 0h0m1 0h0m103 0h0m2 0h0m3 0h0m20 0h0m1 0h0m58 0h0m4 0h0m12 0h0m1 0h0m-404 1h0m19 0h0m2 0h0m13 0h0m68 0h0m5 0h0m12 0h0m7 0h0m5 0h0m62 0h0m5 0h0m1 0h0m8 0h0m75 0h0m3 0h0m5 0h0m6 0h0m10 0h0m22 0h0m1 0h0m64 0h0m6 0h0m6 0h0m-403 1h0m2 0h0m2 0h0m9 0h0m4 0h0m14 0h0m2 0h0m62 0h0m6 0h0m10 0h0m16 0h0m60 0h0m7 0h0m5 0h0m80 0h0m10 0h0m19 0h0m16 0h0m64 0h0m6 0h0m2 0h0m1 0h0m3 0h0m21 0h0m-421 1h0m4 0h0m3 0h0m2 0h0m84 0h0m2 0h0m3 0h0m12 0h0m4 0h0m13 0h0m56 0h0m3 0h0m9 0h0m9 0h0m78 0h0m2 0h0m8 0h0m1 0h0m4 0h0m3 0h0m88 0h0m13 0h0m1 0h0m-402 1h0m8 0h0m2 0h0m1 0h0m98 0h0m1 0h0m3 0h0m1 0h0m2 0h0m9 0h0m2 0h0m60 0h0m1 0h0m3 0h0m6 0h0m1 0h0m79 0h0m6 0h0m1 0h0m17 0h0m2 0h0m1 0h0m20 0h0m1 0h0m61 0h0m3 0h0m1 0h0m5 0h0m5 0h0m1 0h0m1 0h0m15 0h0m-410 1h0m1 0h0m5 0h0m18 0h0m75 0h0m74 0h0m3 0h0m18 0h0m78 0h0m3 0h0m7 0h0m5 0h0m5 0h0m2 0h0m79 0h0m9 0h0m9 0h0m1 0h0m1 0h0m17 0h0m-420 1h0m1 0h0m9 0h0m81 0h0m4 0h0m15 0h0m3 0h0m3 0h0m1 0h0m70 0h0m2 0h0m10 0h0m3 0h0m1 0h0m21 0h0m3 0h0m1 0h0m66 0h0m6 0h0m5 0h0m2 0h0m89 0h0m3 0h0m3 0h0m18 0h0m-421 1h0m7 0h0m4 0h0m79 0h0m1 0h0m25 0h0m1 0h0m2 0h0m65 0h0m3 0h0m4 0h0m2 0h0m97 0h0m5 0h0m9 0h0m3 0h0m20 0h0m71 0h0m22 0h0m3 0h0m-414 1h0m87 0h0m14 0h0m3 0h0m4 0h0m1 0h0m62 0h0m2 0h0m1 0h0m1 0h0m9 0h0m13 0h0m5 0h0m1 0h0m19 0h0m48 0h0m2 0h0m3 0h0m1 0h0m5 0h0m3 0h0m3 0h0m3 0h0m30 0h0m5 0h0m52 0h0m3 0h0m11 0h0m1 0h0m1 0h0m2 0h0m-400 1h0m1 0h0m5 0h0m1 0h0m3 0h0m20 0h0m54 0h0m1 0h0m2 0h0m19 0h0m17 0h0m55 0h0m9 0h0m6 0h0m1 0h0m1 0h0m1 0h0m5 0h0m21 0h0m52 0h0m15 0h0m11 0h0m2 0h0m20 0h0m1 0h0m76 0h0m18 0h0m-426 1h0m11 0h0m7 0h0m76 0h0m23 0h0m6 0h0m1 0h0m65 0h0m2 0h0m2 0h0m1 0h0m11 0h0m2 0h0m3 0h0m4 0h0m73 0h0m5 0h0m7 0h0m4 0h0m3 0h0m4 0h0m80 0h0m4 0h0m6 0h0m5 0h0m3 0h0m19 0h0m-428 1h0m2 0h0m3 0h0m7 0h0m3 0h0m4 0h0m74 0h0m1 0h0m19 0h0m9 0h0m10 0h0m60 0h0m7 0h0m8 0h0m1 0h0m22 0h0m5 0h0m51 0h0m7 0h0m4 0h0m1 0h0m7 0h0m26 0h0m63 0h0m9 0h0m4 0h0m2 0h0m-415 1h0m5 0h0m7 0h0m1 0h0m15 0h0m14 0h0m2 0h0m53 0h0m3 0h0m20 0h0m3 0h0m8 0h0m5 0h0m4 0h0m59 0h0m12 0h0m3 0h0m2 0h0m2 0h0m3 0h0m15 0h0m1 0h0m56 0h0m18 0h0m4 0h0m21 0h0m54 0h0m1 0h0m1 0h0m1 0h0m8 0h0m5 0h0m1 0h0m5 0h0m-412 1h0m4 0h0m1 0h0m6 0h0m2 0h0m9 0h0m20 0h0m3 0h0m53 0h0m4 0h0m15 0h0m2 0h0m3 0h0m7 0h0m6 0h0m6 0h0m47 0h0m4 0h0m3 0h0m1 0h0m5 0h0m7 0h0m2 0h0m1 0h0m8 0h0m3 0h0m1 0h0m76 0h0m6 0h0m1 0h0m6 0h0m6 0h0m25 0h0m47 0h0m8 0h0m2 0h0m4 0h0m-401 1h0m2 0h0m20 0h0m16 0h0m3 0h0m50 0h0m3 0h0m18 0h0m8 0h0m5 0h0m13 0h0m48 0h0m4 0h0m5 0h0m5 0h0m5 0h0m26 0h0m52 0h0m10 0h0m6 0h0m4 0h0m2 0h0m6 0h0m7 0h0m11 0h0m2 0h0m52 0h0m17 0h0m5 0h0m1 0h0m3 0h0m16 0h0m2 0h0m-432 1h0m2 0h0m15 0h0m5 0h0m5 0h0m17 0h0m71 0h0m17 0h0m9 0h0m52 0h0m14 0h0m6 0h0m1 0h0m6 0h0m4 0h0m11 0h0m3 0h0m53 0h0m9 0h0m5 0h0m3 0h0m2 0h0m3 0h0m4 0h0m20 0h0m56 0h0m8 0h0m7 0h0m4 0h0m2 0h0m-374 1h0m56 0h0m3 0h0m21 0h0m2 0h0m8 0h0m5 0h0m4 0h0m1 0h0m59 0h0m18 0h0m1 0h0m7 0h0m12 0h0m55 0h0m2 0h0m2 0h0m9 0h0m4 0h0m26 0h0m56 0h0m13 0h0m1 0h0m-401 1h0m3 0h0m4 0h0m9 0h0m7 0h0m2 0h0m88 0h0m3 0h0m1 0h0m7 0h0m8 0h0m51 0h0m9 0h0m6 0h0m6 0h0m8 0h0m6 0h0m13 0h0m2 0h0m1 0h0m46 0h0m2 0h0m4 0h0m10 0h0m5 0h0m1 0h0m10 0h0m1 0h0m2 0h0m4 0h0m9 0h0m1 0h0m65 0h0m5 0h0m3 0h0m5 0h0m-406 1h0m19 0h0m1 0h0m3 0h0m12 0h0m2 0h0m53 0h0m17 0h0m2 0h0m2 0h0m1 0h0m11 0h0m2 0h0m60 0h0m10 0h0m9 0h0m3 0h0m7 0h0m71 0h0m1 0h0m1 0h0m8 0h0m2 0h0m2 0h0m2 0h0m2 0h0m1 0h0m1 0h0m6 0h0m9 0h0m9 0h0m56 0h0m2 0h0m1 0h0m3 0h0m13 0h0m2 0h0m1 0h0m1 0h0m16 0h0m1 0h0m-429 1h0m2 0h0m5 0h0m6 0h0m4 0h0m3 0h0m4 0h0m4 0h0m67 0h0m17 0h0m7 0h0m15 0h0m4 0h0m46 0h0m1 0h0m7 0h0m5 0h0m6 0h0m6 0h0m2 0h0m7 0h0m1 0h0m9 0h0m1 0h0m1 0h0m2 0h0m1 0h0m50 0h0m8 0h0m7 0h0m2 0h0m7 0h0m1 0h0m10 0h0m10 0h0m2 0h0m3 0h0m1 0h0m53 0h0m9 0h0m3 0h0m4 0h0m7 0h0m2 0h0m2 0h0m13 0h0m-428 1h0m4 0h0m1 0h0m1 0h0m5 0h0m9 0h0m7 0h0m63 0h0m2 0h0m1 0h0m1 0h0m21 0h0m2 0h0m16 0h0m49 0h0m13 0h0m5 0h0m5 0h0m25 0h0m2 0h0m1 0h0m1 0h0m56 0h0m7 0h0m4 0h0m1 0h0m2 0h0m16 0h0m1 0h0m11 0h0m62 0h0m3 0h0m1 0h0m29 0h0m-413 1h0m6 0h0m10 0h0m6 0h0m1 0h0m54 0h0m39 0h0m76 0h0m1 0h0m13 0h0m1 0h0m1 0h0m11 0h0m1 0h0m52 0h0m2 0h0m12 0h0m1 0h0m1 0h0m17 0h0m1 0h0m6 0h0m10 0h0m53 0h0m9 0h0m8 0h0m5 0h0m3 0h0m14 0h0m-429 1h0m15 0h0m4 0h0m2 0h0m5 0h0m6 0h0m80 0h0m1 0h0m1 0h0m23 0h0m56 0h0m1 0h0m1 0h0m15 0h0m8 0h0m2 0h0m5 0h0m3 0h0m2 0h0m4 0h0m62 0h0m2 0h0m5 0h0m3 0h0m1 0h0m17 0h0m3 0h0m-331 1h0m8 0h0m2 0h0m7 0h0m14 0h0m4 0h0m6 0h0m2 0h0m55 0h0m3 0h0m19 0h0m17 0h0m60 0h0m4 0h0m4 0h0m3 0h0m17 0h0m5 0h0m62 0h0m2 0h0m1 0h0m1 0h0m3 0h0m2 0h0m7 0h0m1 0h0m20 0h0m3 0h0m6 0h0m58 0h0m5 0h0m4 0h0m7 0h0m1 0h0m14 0h0m1 0h0m-427 1h0m6 0h0m1 0h0m2 0h0m1 0h0m3 0h0m1 0h0m8 0h0m12 0h0m2 0h0m58 0h0m1 0h0m17 0h0m3 0h0m75 0h0m9 0h0m1 0h0m4 0h0m4 0h0m3 0h0m80 0h0m4 0h0m3 0h0m1 0h0m4 0h0m21 0h0m4 0h0m1 0h0m1 0h0m3 0h0m59 0h0m2 0h0m1 0h0m2 0h0m1 0h0m1 0h0m19 0h0m6 0h0m5 0h0m-422 1h0m4 0h0m1 0h0m6 0h0m1 0h0m1 0h0m8 0h0m2 0h0m4 0h0m2 0h0m1 0h0m68 0h0m12 0h0m74 0h0m3 0h0m6 0h0m3 0h0m1 0h0m1 0h0m5 0h0m4 0h0m15 0h0m91 0h0m5 0h0m1 0h0m2 0h0m2 0h0m62 0h0m5 0h0m20 0h0m1 0h0m2 0h0m2 0h0m-419 1h0m4 0h0m5 0h0m2 0h0m6 0h0m9 0h0m2 0h0m64 0h0m9 0h0m80 0h0m8 0h0m1 0h0m6 0h0m33 0h0m62 0h0m4 0h0m3 0h0m6 0h0m17 0h0m5 0h0m3 0h0m93 0h0m-424 1h0m1 0h0m2 0h0m9 0h0m1 0h0m2 0h0m3 0h0m18 0h0m1 0h0m54 0h0m4 0h0m14 0h0m79 0h0m3 0h0m1 0h0m1 0h0m3 0h0m2 0h0m4 0h0m4 0h0m15 0h0m13 0h0m60 0h0m30 0h0m5 0h0m3 0h0m2 0h0m60 0h0m3 0h0m13 0h0m5 0h0m9 0h0m-426 1h0m4 0h0m3 0h0m12 0h0m10 0h0m5 0h0m60 0h0m16 0h0m1 0h0m78 0h0m6 0h0m9 0h0m1 0h0m16 0h0m2 0h0m3 0h0m66 0h0m4 0h0m1 0h0m3 0h0m1 0h0m90 0h0m16 0h0m-406 1h0m3 0h0m1 0h0m7 0h0m86 0h0m7 0h0m1 0h0m5 0h0m3 0h0m18 0h0m60 0h0m3 0h0m7 0h0m1 0h0m186 0h0m5 0h0m21 0h0m3 0h0m3 0h0m-424 1h0m10 0h0m4 0h0m94 0h0m6 0h0m1 0h0m3 0h0m82 0h0m4 0h0m4 0h0m87 0h0m125 0h0m4 0h0m4 0h0m-328 1h0m1 0h0m2 0h0m3 0h0m1 0h0m87 0h0m39 0h0m54 0h0m10 0h0m-298 1h0m2 0h0m4 0h0m3 0h0m3 0h0m85 0h0m3 0h0m1 0h0m4 0h0m87 0h0m3 0h0m1 0h0m24 0h0m84 0h0m-301 1h0m9 0h0m2 0h0m84 0h0m3 0h0m2 0h0m1 0h0m3 0h0m188 0h0m21 0h0m108 0h0m-320 1h0m183 0h0m7 0h0m6 0h0m117 0h0m-323 1h0m2 0h0m101 0h0m-192 1h0m99 0h0m97 0h0m109 0h0m-312 1h0m9 0h0m91 0h0m-32 17h0m-17 1h0m5 0h0m4 0h0m6 1h0m3 0h0m-10 1h0m10 0h0m-19 1h0m10 0h0m2 0h0m1 0h0m5 0h0m-9 1h0m13 0h0m282 0h0m-305 1h0m2 0h0m5 0h0m4 0h0m11 0h0m-22 1h0m19 0h0m94 0h0m84 0h0m195 0h0m-397 1h0m4 0h0m2 0h0m4 0h0m14 0h0m2 0h0m1 0h0m94 0h0m85 0h0m94 0h0m92 0h0m3 0h0m2 0h0m9 0h0m-407 1h0m1 0h0m5 0h0m1 0h0m8 0h0m2 0h0m7 0h0m95 0h0m2 0h0m82 0h0m1 0h0m3 0h0m1 0h0m96 0h0m98 0h0m2 0h0m4 0h0m-407 1h0m4 0h0m5 0h0m13 0h0m6 0h0m88 0h0m73 0h0m6 0h0m5 0h0m4 0h0m2 0h0m1 0h0m1 0h0m5 0h0m73 0h0m6 0h0m4 0h0m6 0h0m89 0h0m9 0h0m4 0h0m1 0h0m4 0h0m-413 1h0m5 0h0m110 0h0m2 0h0m79 0h0m8 0h0m15 0h0m72 0h0m3 0h0m13 0h0m89 0h0m6 0h0m2 0h0m6 0h0m-410 1h0m2 0h0m2 0h0m4 0h0m15 0h0m8 0h0m83 0h0m10 0h0m71 0h0m17 0h0m1 0h0m77 0h0m1 0h0m2 0h0m4 0h0m1 0h0m8 0h0m4 0h0m78 0h0m1 0h0m22 0h0m-415 1h0m11 0h0m16 0h0m8 0h0m84 0h0m1 0h0m1 0h0m8 0h0m72 0h0m1 0h0m4 0h0m3 0h0m88 0h0m11 0h0m10 0h0m77 0h0m1 0h0m17 0h0m-407 1h0m104 0h0m4 0h0m87 0h0m5 0h0m99 0h0m4 0h0m5 0h0m82 0h0m16 0h0m5 0h0m-387 1h0m73 0h0m9 0h0m2 0h0m1 0h0m1 0h0m81 0h0m2 0h0m1 0h0m1 0h0m2 0h0m14 0h0m1 0h0m5 0h0m70 0h0m20 0h0m1 0h0m1 0h0m2 0h0m1 0h0m71 0h0m3 0h0m-389 1h0m24 0h0m4 0h0m75 0h0m1 0h0m22 0h0m81 0h0m7 0h0m1 0h0m3 0h0m71 0h0m20 0h0m76 0h0m6 0h0m1 0h0m1 0h0m14 0h0m1 0h0m3 0h0m-414 1h0m2 0h0m30 0h0m71 0h0m2 0h0m20 0h0m1 0h0m2 0h0m70 0h0m1 0h0m1 0h0m1 0h0m16 0h0m68 0h0m3 0h0m4 0h0m21 0h0m4 0h0m71 0h0m2 0h0m4 0h0m18 0h0m1 0h0m1 0h0m-417 1h0m1 0h0m3 0h0m2 0h0m25 0h0m3 0h0m1 0h0m67 0h0m1 0h0m6 0h0m4 0h0m2 0h0m11 0h0m81 0h0m2 0h0m12 0h0m1 0h0m70 0h0m2 0h0m2 0h0m94 0h0m22 0h0m-414 1h0m34 0h0m3 0h0m1 0h0m90 0h0m3 0h0m1 0h0m71 0h0m2 0h0m7 0h0m17 0h0m62 0h0m25 0h0m77 0h0m3 0h0m20 0h0m2 0h0m-418 1h0m4 0h0m27 0h0m2 0h0m1 0h0m69 0h0m4 0h0m4 0h0m1 0h0m17 0h0m69 0h0m1 0h0m3 0h0m1 0h0m19 0h0m68 0h0m38 0h0m63 0h0m2 0h0m2 0h0m3 0h0m24 0h0m-424 1h0m105 0h0m1 0h0m1 0h0m1 0h0m1 0h0m18 0h0m3 0h0m3 0h0m66 0h0m6 0h0m20 0h0m2 0h0m1 0h0m67 0h0m1 0h0m23 0h0m5 0h0m70 0h0m1 0h0m2 0h0m-394 1h0m2 0h0m26 0h0m3 0h0m1 0h0m3 0h0m66 0h0m1 0h0m4 0h0m81 0h0m10 0h0m2 0h0m18 0h0m173 0h0m9 0h0m18 0h0m-420 1h0m30 0h0m5 0h0m5 0h0m61 0h0m3 0h0m1 0h0m1 0h0m1 0h0m22 0h0m67 0h0m5 0h0m4 0h0m189 0h0m5 0h0m-401 1h0m96 0h0m9 0h0m25 0h0m75 0h0m22 0h0m6 0h0m57 0h0m3 0h0m3 0h0m27 0h0m2 0h0m71 0h0m18 0h0m2 0h0m2 0h0m1 0h0m-415 1h0m30 0h0m67 0h0m1 0h0m5 0h0m23 0h0m2 0h0m66 0h0m3 0h0m20 0h0m3 0h0m3 0h0m165 0h0m3 0h0m8 0h0m2 0h0m7 0h0m3 0h0m1 0h0m1 0h0m6 0h0m-422 1h0m32 0h0m2 0h0m66 0h0m2 0h0m1 0h0m25 0h0m2 0h0m70 0h0m93 0h0m1 0h0m2 0h0m2 0h0m25 0h0m73 0h0m11 0h0m11 0h0m-410 1h0m19 0h0m5 0h0m2 0h0m63 0h0m1 0h0m2 0h0m24 0h0m99 0h0m1 0h0m3 0h0m88 0h0m2 0h0m4 0h0m74 0h0m4 0h0m11 0h0m2 0h0m3 0h0m3 0h0m-415 1h0m22 0h0m5 0h0m4 0h0m1 0h0m162 0h0m27 0h0m81 0h0m6 0h0m87 0h0m12 0h0m6 0h0m5 0h0m5 0h0m-421 1h0m26 0h0m97 0h0m68 0h0m26 0h0m3 0h0m3 0h0m57 0h0m8 0h0m5 0h0m5 0h0m5 0h0m2 0h0m1 0h0m6 0h0m6 0h0m5 0h0m68 0h0m1 0h0m8 0h0m7 0h0m3 0h0m3 0h0m1 0h0m1 0h0m2 0h0m-422 1h0m5 0h0m20 0h0m6 0h0m66 0h0m25 0h0m3 0h0m3 0h0m2 0h0m5 0h0m60 0h0m2 0h0m29 0h0m1 0h0m70 0h0m2 0h0m1 0h0m5 0h0m11 0h0m3 0h0m1 0h0m3 0h0m1 0h0m4 0h0m84 0h0m5 0h0m5 0h0m1 0h0m-424 1h0m3 0h0m3 0h0m19 0h0m5 0h0m97 0h0m95 0h0m8 0h0m69 0h0m6 0h0m5 0h0m5 0h0m9 0h0m4 0h0m88 0h0m4 0h0m2 0h0m-419 1h0m1 0h0m4 0h0m9 0h0m13 0h0m2 0h0m1 0h0m4 0h0m85 0h0m7 0h0m4 0h0m58 0h0m31 0h0m2 0h0m75 0h0m1 0h0m1 0h0m3 0h0m13 0h0m13 0h0m75 0h0m8 0h0m11 0h0m-425 1h0m6 0h0m23 0h0m2 0h0m2 0h0m2 0h0m58 0h0m10 0h0m92 0h0m26 0h0m73 0h0m2 0h0m6 0h0m1 0h0m10 0h0m6 0h0m8 0h0m85 0h0m3 0h0m2 0h0m4 0h0m1 0h0m-428 1h0m5 0h0m8 0h0m7 0h0m14 0h0m5 0h0m2 0h0m96 0h0m4 0h0m65 0h0m1 0h0m99 0h0m3 0h0m5 0h0m2 0h0m1 0h0m101 0h0m1 0h0m1 0h0m10 0h0m-424 1h0m11 0h0m9 0h0m2 0h0m72 0h0m31 0h0m69 0h0m2 0h0m2 0h0m21 0h0m9 0h0m79 0h0m9 0h0m1 0h0m4 0h0m6 0h0m1 0h0m1 0h0m86 0h0m2 0h0m3 0h0m2 0h0m1 0h0m3 0h0m-421 1h0m5 0h0m2 0h0m18 0h0m3 0h0m67 0h0m23 0h0m1 0h0m2 0h0m64 0h0m9 0h0m4 0h0m1 0h0m12 0h0m1 0h0m14 0h0m2 0h0m57 0h0m11 0h0m5 0h0m19 0h0m86 0h0m2 0h0m11 0h0m-421 1h0m5 0h0m1 0h0m5 0h0m12 0h0m2 0h0m3 0h0m2 0h0m2 0h0m2 0h0m61 0h0m19 0h0m1 0h0m5 0h0m1 0h0m67 0h0m1 0h0m4 0h0m5 0h0m12 0h0m2 0h0m2 0h0m6 0h0m81 0h0m7 0h0m7 0h0m1 0h0m4 0h0m7 0h0m81 0h0m5 0h0m-411 1h0m6 0h0m1 0h0m1 0h0m1 0h0m1 0h0m22 0h0m59 0h0m22 0h0m1 0h0m2 0h0m2 0h0m10 0h0m1 0h0m1 0h0m58 0h0m1 0h0m7 0h0m1 0h0m10 0h0m5 0h0m1 0h0m90 0h0m98 0h0m5 0h0m16 0h0m1 0h0m-425 1h0m2 0h0m3 0h0m6 0h0m4 0h0m7 0h0m2 0h0m68 0h0m2 0h0m1 0h0m2 0h0m15 0h0m1 0h0m79 0h0m13 0h0m5 0h0m1 0h0m1 0h0m15 0h0m4 0h0m66 0h0m7 0h0m5 0h0m6 0h0m6 0h0m85 0h0m5 0h0m10 0h0m-422 1h0m8 0h0m2 0h0m2 0h0m6 0h0m1 0h0m8 0h0m70 0h0m16 0h0m1 0h0m2 0h0m3 0h0m5 0h0m9 0h0m58 0h0m1 0h0m4 0h0m2 0h0m15 0h0m6 0h0m79 0h0m1 0h0m4 0h0m11 0h0m-308 1h0m4 0h0m6 0h0m1 0h0m2 0h0m7 0h0m4 0h0m4 0h0m56 0h0m4 0h0m3 0h0m17 0h0m4 0h0m3 0h0m3 0h0m2 0h0m5 0h0m60 0h0m3 0h0m8 0h0m7 0h0m3 0h0m19 0h0m72 0h0m2 0h0m2 0h0m4 0h0m4 0h0m4 0h0m1 0h0m84 0h0m20 0h0m-414 1h0m7 0h0m1 0h0m3 0h0m4 0h0m8 0h0m55 0h0m11 0h0m3 0h0m11 0h0m8 0h0m5 0h0m5 0h0m64 0h0m1 0h0m4 0h0m6 0h0m1 0h0m4 0h0m10 0h0m8 0h0m1 0h0m73 0h0m5 0h0m1 0h0m6 0h0m4 0h0m-317 1h0m23 0h0m67 0h0m8 0h0m7 0h0m9 0h0m5 0h0m72 0h0m6 0h0m9 0h0m88 0h0m6 0h0m4 0h0m4 0h0m1 0h0m6 0h0m87 0h0m1 0h0m2 0h0m16 0h0m-407 1h0m7 0h0m1 0h0m2 0h0m5 0h0m62 0h0m1 0h0m2 0h0m11 0h0m11 0h0m2 0h0m2 0h0m1 0h0m7 0h0m1 0h0m56 0h0m18 0h0m12 0h0m11 0h0m77 0h0m1 0h0m1 0h0m2 0h0m7 0h0m86 0h0m1 0h0m17 0h0m4 0h0m1 0h0m-394 1h0m63 0h0m2 0h0m3 0h0m2 0h0m2 0h0m8 0h0m1 0h0m13 0h0m3 0h0m70 0h0m1 0h0m9 0h0m3 0h0m2 0h0m89 0h0m1 0h0m2 0h0m9 0h0m12 0h0m2 0h0m-303 1h0m61 0h0m5 0h0m7 0h0m3 0h0m9 0h0m1 0h0m1 0h0m2 0h0m7 0h0m1 0h0m3 0h0m4 0h0m63 0h0m2 0h0m2 0h0m6 0h0m2 0h0m6 0h0m2 0h0m7 0h0m7 0h0m2 0h0m70 0h0m9 0h0m8 0h0m88 0h0m18 0h0m1 0h0m-416 1h0m93 0h0m15 0h0m5 0h0m1 0h0m2 0h0m2 0h0m3 0h0m79 0h0m14 0h0m7 0h0m71 0h0m1 0h0m6 0h0m8 0h0m2 0h0m2 0h0m9 0h0m76 0h0m-384 1h0m2 0h0m11 0h0m2 0h0m61 0h0m2 0h0m20 0h0m1 0h0m73 0h0m17 0h0m1 0h0m19 0h0m69 0h0m4 0h0m3 0h0m6 0h0m1 0h0m5 0h0m4 0h0m7 0h0m97 0h0m-402 1h0m1 0h0m1 0h0m5 0h0m70 0h0m23 0h0m80 0h0m1 0h0m7 0h0m14 0h0m2 0h0m3 0h0m73 0h0m4 0h0m3 0h0m1 0h0m6 0h0m11 0h0m-308 1h0m1 0h0m1 0h0m10 0h0m66 0h0m99 0h0m1 0h0m27 0h0m1 0h0m1 0h0m76 0h0m8 0h0m1 0h0m2 0h0m2 0h0m11 0h0m97 0h0m-404 1h0m1 0h0m5 0h0m7 0h0m61 0h0m22 0h0m6 0h0m82 0h0m18 0h0m83 0h0m8 0h0m13 0h0m3 0h0m75 0h0m-382 1h0m1 0h0m10 0h0m2 0h0m175 0h0m11 0h0m82 0h0m2 0h0m12 0h0m2 0h0m6 0h0m99 0h0m-401 1h0m9 0h0m91 0h0m1 0h0m85 0h0m11 0h0m2 0h0m80 0h0m5 0h0m97 0h0m1 0h0m-386 1h0m2 0h0m10 0h0m93 0h0m83 0h0m13 0h0m2 0h0m1 0h0m82 0h0m10 0h0m1 0h0m8 0h0m97 0h0m-393 1h0m88 0h0m104 0h0m96 0h0m9 0h0m77 0h0m19 0h0m1 0h0m-120 1h0m3 0h0m2 0h0m7 0h0m1 0h0m6 0h0m-300 1h0m2 0h0m1 0h0m1 0h0m5 0h0m93 0h0m97 0h0m80 0h0m3 0h0m2 0h0m10 0h0m1 0h0m1 0h0m1 0h0m3 0h0m2 0h0m79 0h0m3 0h0m16 0h0m-400 1h0m6 0h0m5 0h0m79 0h0m12 0h0m88 0h0m93 0h0m14 0h0m2 0h0m4 0h0m77 0h0m3 0h0m16 0h0m-399 1h0m3 0h0m3 0h0m1 0h0m95 0h0m1 0h0m200 0h0m76 0h0m2 0h0m15 0h0m1 0h0m-393 1h0m3 0h0m1 0h0m95 0h0m77 0h0m104 0h0m10 0h0m2 0h0m1 0h0m5 0h0m79 0h0m14 0h0m-299 1h0m6 0h0m96 0h0m85 0h0m1 0h0m1 0h0m7 0h0m4 0h0m2 0h0m97 0h0m-394 1h0m5 0h0m1 0h0m88 0h0m1 0h0m90 0h0m83 0h0m4 0h0m18 0h0m2 0h0m8 0h0m80 0h0m1 0h0m4 0h0m-203 1h0m113 0h0m87 0h0m5 0h0m6 0h0m-293 1h0m91 0h0m4 0h0m184 0h0m15 0h0m-202 1h0m90 0h0m3 0h0m2 0h0m4 0h0m92 0h0m4 0h0m-295 1h0m1 0h0m96 0h0m4 0h0m1 0h0m95 0h0m1 0h0m89 0h0m2 0h0m8 0h0m-292 1h0m90 0h0m2 0h0m1 0h0m3 0h0m2 0h0m90 0h0m1 0h0m3 0h0m2 0h0m84 0h0m2 0h0m5 0h0m6 0h0m-296 1h0m1 0h0m97 0h0m5 0h0m90 0h0m1 0h0m3 0h0m91 0h0m2 0h0m-289 1h0m93 0h0m2 0h0m196 0h0m2 0h0m-385 1h0m191 0h0m92 0h0m102 0h0m2 0h0m3 0h0m1 0h0m-11 1h0m7 0h0m-7 2h0m-287 1h0m285 0h0m2 0h0m7 0h0m-102 1h0"/>
<path stroke="#737373" d="M115 33h0m-3 1h0m2 0h0m281 0h0m-284 1h0m8 0h0m-12 1h0m3 0h0m5 0h0m1 0h0m-13 1h0m3 0h0m9 0h0m2 0h0m186 0h0m92 0h0m1 0h0m-288 1h0m11 0h0m183 0h0m93 0h0m-292 1h0m1 0h0m1 0h0m2 0h0m2 0h0m8 0h0m2 0h0m276 0h0m3 0h0m94 0h0m-390 1h0m2 0h0m6 0h0m3 0h0m1 0h0m1 0h0m279 0h0m2 0h0m97 0h0m-389 1h0m5 0h0m2 0h0m3 0h0m5 0h0m180 0h0m3 0h0m1 0h0m90 0h0m2 0h0m1 0h0m4 0h0m92 0h0m-376 1h0m87 0h0m99 0h0m3 0h0m88 0h0m3 0h0m94 0h0m1 0h0m2 0h0m3 0h0m-390 1h0m9 0h0m1 0h0m1 0h0m82 0h0m96 0h0m8 0h0m1 0h0m85 0h0m2 0h0m3 0h0m2 0h0m1 0h0m2 0h0m5 0h0m88 0h0m1 0h0m-393 1h0m12 0h0m6 0h0m82 0h0m1 0h0m10 0h0m86 0h0m8 0h0m1 0h0m98 0h0m86 0h0m1 0h0m1 0h0m2 0h0m-295 1h0m5 0h0m3 0h0m91 0h0m1 0h0m4 0h0m88 0h0m3 0h0m1 0h0m93 0h0m-376 1h0m1 0h0m82 0h0m6 0h0m6 0h0m84 0h0m3 0h0m7 0h0m4 0h0m79 0h0m4 0h0m2 0h0m1 0h0m1 0h0m2 0h0m5 0h0m86 0h0m2 0h0m2 0h0m-396 1h0m3 0h0m102 0h0m2 0h0m1 0h0m1 0h0m83 0h0m12 0h0m2 0h0m11 0h0m78 0h0m6 0h0m2 0h0m1 0h0m4 0h0m94 0h0m-381 1h0m5 0h0m75 0h0m10 0h0m5 0h0m87 0h0m2 0h0m5 0h0m1 0h0m3 0h0m83 0h0m7 0h0m90 0h0m8 0h0m2 0h0m-402 1h0m17 0h0m1 0h0m2 0h0m2 0h0m88 0h0m81 0h0m4 0h0m3 0h0m1 0h0m1 0h0m6 0h0m4 0h0m85 0h0m2 0h0m4 0h0m90 0h0m15 0h0m-409 1h0m111 0h0m2 0h0m83 0h0m12 0h0m5 0h0m80 0h0m2 0h0m5 0h0m5 0h0m1 0h0m2 0h0m2 0h0m11 0h0m81 0h0m-399 1h0m18 0h0m2 0h0m78 0h0m13 0h0m3 0h0m2 0h0m78 0h0m13 0h0m13 0h0m70 0h0m3 0h0m9 0h0m1 0h0m2 0h0m3 0h0m82 0h0m9 0h0m4 0h0m-402 1h0m5 0h0m9 0h0m5 0h0m180 0h0m2 0h0m88 0h0m11 0h0m90 0h0m3 0h0m7 0h0m-401 1h0m100 0h0m7 0h0m1 0h0m80 0h0m7 0h0m3 0h0m6 0h0m2 0h0m88 0h0m7 0h0m1 0h0m2 0h0m1 0h0m2 0h0m1 0h0m82 0h0m5 0h0m15 0h0m-411 1h0m17 0h0m1 0h0m83 0h0m20 0h0m76 0h0m2 0h0m2 0h0m10 0h0m95 0h0m82 0h0m5 0h0m3 0h0m15 0h0m-414 1h0m2 0h0m1 0h0m1 0h0m2 0h0m11 0h0m87 0h0m10 0h0m81 0h0m8 0h0m1 0h0m1 0h0m2 0h0m9 0h0m3 0h0m93 0h0m3 0h0m1 0h0m1 0h0m79 0h0m1 0h0m4 0h0m1 0h0m10 0h0m-414 1h0m7 0h0m9 0h0m2 0h0m5 0h0m85 0h0m7 0h0m10 0h0m72 0h0m9 0h0m1 0h0m5 0h0m2 0h0m3 0h0m76 0h0m5 0h0m5 0h0m2 0h0m5 0h0m2 0h0m2 0h0m2 0h0m80 0h0m3 0h0m7 0h0m12 0h0m2 0h0m1 0h0m1 0h0m-420 1h0m6 0h0m5 0h0m7 0h0m2 0h0m3 0h0m2 0h0m3 0h0m70 0h0m5 0h0m1 0h0m2 0h0m4 0h0m2 0h0m3 0h0m82 0h0m2 0h0m7 0h0m5 0h0m80 0h0m5 0h0m4 0h0m1 0h0m4 0h0m1 0h0m5 0h0m4 0h0m78 0h0m14 0h0m1 0h0m-405 1h0m2 0h0m1 0h0m1 0h0m15 0h0m82 0h0m7 0h0m2 0h0m4 0h0m5 0h0m68 0h0m9 0h0m3 0h0m8 0h0m2 0h0m79 0h0m7 0h0m5 0h0m4 0h0m5 0h0m6 0h0m80 0h0m1 0h0m1 0h0m1 0h0m16 0h0m-410 1h0m2 0h0m8 0h0m4 0h0m2 0h0m3 0h0m3 0h0m73 0h0m1 0h0m91 0h0m3 0h0m5 0h0m1 0h0m2 0h0m1 0h0m1 0h0m13 0h0m6 0h0m65 0h0m5 0h0m2 0h0m3 0h0m14 0h0m7 0h0m71 0h0m1 0h0m5 0h0m10 0h0m3 0h0m6 0h0m-400 1h0m10 0h0m73 0h0m22 0h0m69 0h0m17 0h0m13 0h0m73 0h0m2 0h0m14 0h0m10 0h0m82 0h0m2 0h0m3 0h0m1 0h0m2 0h0m4 0h0m7 0h0m-421 1h0m3 0h0m6 0h0m1 0h0m7 0h0m5 0h0m4 0h0m71 0h0m92 0h0m2 0h0m1 0h0m3 0h0m3 0h0m4 0h0m4 0h0m4 0h0m10 0h0m70 0h0m5 0h0m8 0h0m4 0h0m1 0h0m3 0h0m5 0h0m6 0h0m71 0h0m2 0h0m5 0h0m10 0h0m-414 1h0m4 0h0m1 0h0m11 0h0m1 0h0m9 0h0m76 0h0m11 0h0m5 0h0m1 0h0m1 0h0m1 0h0m3 0h0m84 0h0m7 0h0m6 0h0m2 0h0m4 0h0m4 0h0m54 0h0m5 0h0m9 0h0m5 0h0m1 0h0m4 0h0m13 0h0m72 0h0m4 0h0m7 0h0m2 0h0m7 0h0m-414 1h0m4 0h0m1 0h0m4 0h0m5 0h0m5 0h0m9 0h0m74 0h0m6 0h0m2 0h0m1 0h0m1 0h0m4 0h0m1 0h0m2 0h0m2 0h0m4 0h0m65 0h0m3 0h0m2 0h0m20 0h0m3 0h0m3 0h0m4 0h0m5 0h0m58 0h0m5 0h0m5 0h0m4 0h0m6 0h0m6 0h0m8 0h0m2 0h0m80 0h0m-402 1h0m4 0h0m4 0h0m9 0h0m5 0h0m1 0h0m3 0h0m1 0h0m70 0h0m22 0h0m73 0h0m2 0h0m3 0h0m3 0h0m1 0h0m1 0h0m5 0h0m1 0h0m4 0h0m1 0h0m5 0h0m3 0h0m4 0h0m67 0h0m1 0h0m1 0h0m1 0h0m1 0h0m4 0h0m2 0h0m5 0h0m14 0h0m1 0h0m-320 1h0m2 0h0m4 0h0m2 0h0m8 0h0m1 0h0m2 0h0m7 0h0m82 0h0m5 0h0m6 0h0m66 0h0m3 0h0m2 0h0m7 0h0m7 0h0m3 0h0m3 0h0m3 0h0m2 0h0m3 0h0m3 0h0m2 0h0m1 0h0m70 0h0m3 0h0m1 0h0m2 0h0m16 0h0m2 0h0m1 0h0m3 0h0m71 0h0m1 0h0m1 0h0m19 0h0m-415 1h0m3 0h0m2 0h0m3 0h0m4 0h0m5 0h0m8 0h0m1 0h0m65 0h0m3 0h0m2 0h0m1 0h0m5 0h0m8 0h0m81 0h0m3 0h0m4 0h0m5 0h0m1 0h0m3 0h0m6 0h0m8 0h0m3 0h0m62 0h0m2 0h0m9 0h0m5 0h0m2 0h0m3 0h0m16 0h0m72 0h0m3 0h0m13 0h0m-408 1h0m1 0h0m1 0h0m3 0h0m3 0h0m2 0h0m1 0h0m3 0h0m75 0h0m9 0h0m9 0h0m1 0h0m4 0h0m5 0h0m3 0h0m66 0h0m6 0h0m4 0h0m4 0h0m85 0h0m6 0h0m7 0h0m1 0h0m3 0h0m92 0h0m1 0h0m17 0h0m1 0h0m-414 1h0m11 0h0m1 0h0m1 0h0m3 0h0m1 0h0m10 0h0m1 0h0m66 0h0m2 0h0m86 0h0m6 0h0m2 0h0m4 0h0m2 0h0m1 0h0m7 0h0m12 0h0m1 0h0m1 0h0m2 0h0m1 0h0m61 0h0m3 0h0m1 0h0m3 0h0m3 0h0m6 0h0m1 0h0m2 0h0m4 0h0m12 0h0m71 0h0m2 0h0m9 0h0m-406 1h0m1 0h0m4 0h0m2 0h0m4 0h0m1 0h0m4 0h0m3 0h0m80 0h0m8 0h0m2 0h0m5 0h0m5 0h0m67 0h0m5 0h0m8 0h0m5 0h0m3 0h0m6 0h0m14 0h0m1 0h0m54 0h0m4 0h0m6 0h0m4 0h0m4 0h0m4 0h0m91 0h0m10 0h0m14 0h0m1 0h0m-418 1h0m8 0h0m1 0h0m1 0h0m1 0h0m7 0h0m10 0h0m3 0h0m65 0h0m1 0h0m15 0h0m3 0h0m2 0h0m4 0h0m67 0h0m1 0h0m2 0h0m1 0h0m4 0h0m5 0h0m4 0h0m2 0h0m1 0h0m4 0h0m12 0h0m1 0h0m58 0h0m15 0h0m4 0h0m1 0h0m1 0h0m94 0h0m3 0h0m2 0h0m-408 1h0m1 0h0m11 0h0m3 0h0m3 0h0m2 0h0m2 0h0m4 0h0m11 0h0m64 0h0m2 0h0m4 0h0m2 0h0m4 0h0m4 0h0m63 0h0m9 0h0m5 0h0m16 0h0m1 0h0m7 0h0m69 0h0m3 0h0m8 0h0m9 0h0m6 0h0m14 0h0m76 0h0m4 0h0m-402 1h0m2 0h0m2 0h0m4 0h0m4 0h0m1 0h0m3 0h0m4 0h0m72 0h0m1 0h0m4 0h0m3 0h0m84 0h0m4 0h0m5 0h0m2 0h0m5 0h0m1 0h0m1 0h0m2 0h0m1 0h0m1 0h0m7 0h0m11 0h0m1 0h0m61 0h0m7 0h0m4 0h0m2 0h0m23 0h0m60 0h0m8 0h0m2 0h0m-390 1h0m1 0h0m6 0h0m82 0h0m1 0h0m4 0h0m3 0h0m1 0h0m2 0h0m5 0h0m1 0h0m3 0h0m4 0h0m71 0h0m5 0h0m1 0h0m5 0h0m6 0h0m2 0h0m2 0h0m1 0h0m74 0h0m12 0h0m1 0h0m26 0h0m60 0h0m9 0h0m27 0h0m-418 1h0m2 0h0m4 0h0m3 0h0m5 0h0m77 0h0m9 0h0m3 0h0m1 0h0m4 0h0m17 0h0m64 0h0m3 0h0m2 0h0m7 0h0m3 0h0m76 0h0m2 0h0m8 0h0m5 0h0m3 0h0m22 0h0m80 0h0m2 0h0m-405 1h0m2 0h0m1 0h0m2 0h0m8 0h0m16 0h0m62 0h0m4 0h0m1 0h0m101 0h0m2 0h0m3 0h0m2 0h0m4 0h0m3 0h0m15 0h0m2 0h0m63 0h0m2 0h0m3 0h0m1 0h0m7 0h0m3 0h0m18 0h0m68 0h0m10 0h0m1 0h0m-405 1h0m8 0h0m2 0h0m3 0h0m2 0h0m1 0h0m18 0h0m56 0h0m2 0h0m20 0h0m7 0h0m67 0h0m5 0h0m11 0h0m6 0h0m1 0h0m4 0h0m65 0h0m2 0h0m2 0h0m7 0h0m9 0h0m4 0h0m8 0h0m18 0h0m66 0h0m2 0h0m-397 1h0m3 0h0m1 0h0m3 0h0m1 0h0m1 0h0m10 0h0m74 0h0m19 0h0m2 0h0m1 0h0m4 0h0m2 0h0m63 0h0m7 0h0m3 0h0m10 0h0m3 0h0m18 0h0m3 0h0m55 0h0m5 0h0m2 0h0m3 0h0m3 0h0m2 0h0m1 0h0m1 0h0m2 0h0m24 0h0m64 0h0m1 0h0m3 0h0m7 0h0m18 0h0m1 0h0m-417 1h0m3 0h0m3 0h0m1 0h0m6 0h0m19 0h0m57 0h0m1 0h0m1 0h0m24 0h0m10 0h0m2 0h0m50 0h0m6 0h0m11 0h0m3 0h0m7 0h0m1 0h0m1 0h0m3 0h0m68 0h0m1 0h0m9 0h0m3 0h0m14 0h0m2 0h0m16 0h0m2 0h0m60 0h0m11 0h0m20 0h0m-424 1h0m12 0h0m5 0h0m18 0h0m2 0h0m1 0h0m2 0h0m71 0h0m16 0h0m1 0h0m6 0h0m2 0h0m50 0h0m8 0h0m2 0h0m14 0h0m1 0h0m2 0h0m20 0h0m1 0h0m67 0h0m13 0h0m82 0h0m13 0h0m17 0h0m-423 1h0m6 0h0m4 0h0m1 0h0m3 0h0m1 0h0m1 0h0m5 0h0m16 0h0m84 0h0m1 0h0m3 0h0m6 0h0m55 0h0m6 0h0m4 0h0m3 0h0m2 0h0m6 0h0m7 0h0m4 0h0m68 0h0m1 0h0m11 0h0m4 0h0m3 0h0m5 0h0m19 0h0m66 0h0m8 0h0m2 0h0m1 0h0m-407 1h0m7 0h0m6 0h0m4 0h0m4 0h0m72 0h0m3 0h0m18 0h0m72 0h0m1 0h0m3 0h0m9 0h0m6 0h0m1 0h0m1 0h0m7 0h0m8 0h0m1 0h0m65 0h0m1 0h0m12 0h0m7 0h0m2 0h0m20 0h0m62 0h0m30 0h0m-411 1h0m3 0h0m3 0h0m3 0h0m12 0h0m79 0h0m1 0h0m13 0h0m6 0h0m50 0h0m2 0h0m1 0h0m3 0h0m1 0h0m1 0h0m3 0h0m1 0h0m2 0h0m7 0h0m2 0h0m4 0h0m5 0h0m2 0h0m2 0h0m7 0h0m2 0h0m55 0h0m1 0h0m6 0h0m6 0h0m3 0h0m3 0h0m8 0h0m1 0h0m12 0h0m82 0h0m19 0h0m-426 1h0m23 0h0m1 0h0m3 0h0m10 0h0m4 0h0m55 0h0m19 0h0m1 0h0m12 0h0m6 0h0m56 0h0m7 0h0m3 0h0m3 0h0m1 0h0m3 0h0m3 0h0m10 0h0m69 0h0m2 0h0m7 0h0m4 0h0m5 0h0m4 0h0m2 0h0m4 0h0m1 0h0m88 0h0m17 0h0m3 0h0m-425 1h0m11 0h0m8 0h0m7 0h0m4 0h0m6 0h0m76 0h0m14 0h0m4 0h0m56 0h0m6 0h0m3 0h0m3 0h0m1 0h0m5 0h0m1 0h0m4 0h0m4 0h0m13 0h0m1 0h0m65 0h0m2 0h0m3 0h0m4 0h0m4 0h0m3 0h0m2 0h0m1 0h0m3 0h0m73 0h0m4 0h0m2 0h0m2 0h0m-388 1h0m6 0h0m9 0h0m4 0h0m8 0h0m1 0h0m56 0h0m27 0h0m11 0h0m55 0h0m4 0h0m7 0h0m3 0h0m3 0h0m2 0h0m1 0h0m7 0h0m1 0h0m1 0h0m1 0h0m1 0h0m9 0h0m2 0h0m59 0h0m1 0h0m4 0h0m3 0h0m4 0h0m1 0h0m3 0h0m23 0h0m60 0h0m3 0h0m1 0h0m5 0h0m13 0h0m18 0h0m-419 1h0m5 0h0m3 0h0m1 0h0m6 0h0m12 0h0m3 0h0m56 0h0m22 0h0m1 0h0m14 0h0m2 0h0m1 0h0m64 0h0m2 0h0m2 0h0m2 0h0m3 0h0m18 0h0m65 0h0m4 0h0m1 0h0m1 0h0m4 0h0m8 0h0m12 0h0m6 0h0m4 0h0m67 0h0m2 0h0m12 0h0m1 0h0m16 0h0m-425 1h0m5 0h0m1 0h0m3 0h0m8 0h0m3 0h0m2 0h0m13 0h0m54 0h0m23 0h0m11 0h0m1 0h0m3 0h0m3 0h0m1 0h0m54 0h0m1 0h0m4 0h0m4 0h0m1 0h0m1 0h0m9 0h0m16 0h0m61 0h0m3 0h0m9 0h0m2 0h0m18 0h0m1 0h0m73 0h0m9 0h0m11 0h0m2 0h0m8 0h0m2 0h0m1 0h0m-420 1h0m12 0h0m9 0h0m3 0h0m6 0h0m4 0h0m54 0h0m16 0h0m1 0h0m1 0h0m79 0h0m12 0h0m2 0h0m1 0h0m19 0h0m2 0h0m60 0h0m7 0h0m3 0h0m2 0h0m18 0h0m6 0h0m1 0h0m6 0h0m2 0h0m59 0h0m1 0h0m18 0h0m4 0h0m1 0h0m8 0h0m-415 1h0m1 0h0m17 0h0m6 0h0m100 0h0m5 0h0m51 0h0m2 0h0m3 0h0m8 0h0m1 0h0m2 0h0m18 0h0m4 0h0m60 0h0m3 0h0m8 0h0m1 0h0m5 0h0m2 0h0m15 0h0m3 0h0m1 0h0m2 0h0m4 0h0m2 0h0m59 0h0m23 0h0m1 0h0m7 0h0m2 0h0m1 0h0m1 0h0m2 0h0m-428 1h0m1 0h0m4 0h0m1 0h0m4 0h0m2 0h0m21 0h0m2 0h0m70 0h0m96 0h0m2 0h0m19 0h0m8 0h0m54 0h0m3 0h0m4 0h0m8 0h0m20 0h0m2 0h0m3 0h0m3 0h0m3 0h0m2 0h0m82 0h0m-414 1h0m7 0h0m15 0h0m2 0h0m67 0h0m8 0h0m10 0h0m79 0h0m6 0h0m4 0h0m2 0h0m5 0h0m2 0h0m3 0h0m15 0h0m69 0h0m3 0h0m22 0h0m1 0h0m1 0h0m6 0h0m1 0h0m59 0h0m31 0h0m-424 1h0m3 0h0m14 0h0m16 0h0m64 0h0m13 0h0m86 0h0m34 0h0m1 0h0m67 0h0m5 0h0m21 0h0m67 0h0m26 0h0m11 0h0m-423 1h0m6 0h0m13 0h0m9 0h0m1 0h0m61 0h0m1 0h0m6 0h0m9 0h0m2 0h0m4 0h0m77 0h0m3 0h0m5 0h0m1 0h0m20 0h0m5 0h0m3 0h0m61 0h0m5 0h0m1 0h0m1 0h0m8 0h0m1 0h0m15 0h0m1 0h0m8 0h0m1 0h0m61 0h0m5 0h0m17 0h0m12 0h0m-427 1h0m97 0h0m3 0h0m17 0h0m84 0h0m2 0h0m2 0h0m91 0h0m3 0h0m94 0h0m27 0h0m1 0h0m2 0h0m-423 1h0m7 0h0m1 0h0m2 0h0m1 0h0m80 0h0m2 0h0m1 0h0m15 0h0m89 0h0m4 0h0m2 0h0m88 0h0m1 0h0m108 0h0m17 0h0m-417 1h0m1 0h0m6 0h0m5 0h0m1 0h0m1 0h0m85 0h0m3 0h0m1 0h0m88 0h0m1 0h0m2 0h0m95 0h0m30 0h0m99 0h0m3 0h0m2 0h0m-426 1h0m3 0h0m1 0h0m3 0h0m11 0h0m82 0h0m4 0h0m4 0h0m1 0h0m97 0h0m87 0h0m131 0h0m-425 1h0m2 0h0m3 0h0m3 0h0m9 0h0m82 0h0m1 0h0m1 0h0m1 0h0m2 0h0m6 0h0m218 0h0m-324 1h0m1 0h0m3 0h0m1 0h0m3 0h0m1 0h0m84 0h0m11 0h0m95 0h0m-195 1h0m89 0h0m10 0h0m88 0h0m106 0h0m-296 1h0m189 0h0m7 0h0m-201 1h0m9 0h0m91 0h0m3 0h0m-101 1h0m425 0h0m-425 1h0m54 20h0m1 0h0m-1 1h0m2 0h0m-11 1h0m1 0h0m5 0h0m2 0h0m7 0h0m-15 1h0m4 0h0m8 0h0m2 0h0m1 0h0m3 0h0m-15 1h0m7 0h0m2 0h0m1 0h0m3 0h0m-12 1h0m8 0h0m3 0h0m187 0h0m87 0h0m98 0h0m-392 1h0m7 0h0m2 0h0m5 0h0m285 0h0m98 0h0m2 0h0m-392 1h0m13 0h0m177 0h0m97 0h0m1 0h0m1 0h0m2 0h0m1 0h0m1 0h0m87 0h0m3 0h0m1 0h0m2 0h0m3 0h0m2 0h0m5 0h0m-400 1h0m13 0h0m3 0h0m3 0h0m86 0h0m92 0h0m92 0h0m3 0h0m91 0h0m1 0h0m7 0h0m-401 1h0m4 0h0m1 0h0m2 0h0m1 0h0m22 0h0m1 0h0m81 0h0m94 0h0m8 0h0m80 0h0m3 0h0m2 0h0m1 0h0m2 0h0m2 0h0m1 0h0m1 0h0m3 0h0m87 0h0m13 0h0m-402 1h0m3 0h0m13 0h0m3 0h0m5 0h0m81 0h0m2 0h0m2 0h0m6 0h0m78 0h0m7 0h0m1 0h0m4 0h0m4 0h0m77 0h0m3 0h0m1 0h0m97 0h0m6 0h0m-399 1h0m2 0h0m2 0h0m5 0h0m1 0h0m15 0h0m2 0h0m83 0h0m2 0h0m7 0h0m3 0h0m77 0h0m5 0h0m7 0h0m1 0h0m1 0h0m1 0h0m75 0h0m8 0h0m11 0h0m1 0h0m80 0h0m4 0h0m10 0h0m4 0h0m1 0h0m3 0h0m-410 1h0m23 0h0m3 0h0m80 0h0m2 0h0m13 0h0m81 0h0m85 0h0m2 0h0m4 0h0m97 0h0m2 0h0m6 0h0m-401 1h0m1 0h0m3 0h0m1 0h0m18 0h0m4 0h0m5 0h0m73 0h0m4 0h0m14 0h0m73 0h0m7 0h0m3 0h0m7 0h0m76 0h0m13 0h0m7 0h0m-312 1h0m2 0h0m1 0h0m28 0h0m79 0h0m2 0h0m1 0h0m12 0h0m72 0h0m1 0h0m1 0h0m3 0h0m2 0h0m3 0h0m3 0h0m2 0h0m9 0h0m77 0h0m-296 1h0m2 0h0m21 0h0m4 0h0m3 0h0m75 0h0m16 0h0m80 0h0m3 0h0m1 0h0m2 0h0m87 0h0m19 0h0m1 0h0m81 0h0m8 0h0m-404 1h0m6 0h0m19 0h0m4 0h0m76 0h0m10 0h0m11 0h0m71 0h0m1 0h0m3 0h0m2 0h0m9 0h0m1 0h0m3 0h0m5 0h0m1 0h0m64 0h0m6 0h0m22 0h0m75 0h0m1 0h0m4 0h0m13 0h0m4 0h0m2 0h0m-415 1h0m104 0h0m3 0h0m2 0h0m1 0h0m8 0h0m3 0h0m1 0h0m4 0h0m73 0h0m19 0h0m3 0h0m70 0h0m1 0h0m1 0h0m98 0h0m1 0h0m17 0h0m2 0h0m1 0h0m-414 1h0m100 0h0m8 0h0m1 0h0m4 0h0m19 0h0m67 0h0m4 0h0m5 0h0m11 0h0m3 0h0m94 0h0m75 0h0m4 0h0m12 0h0m1 0h0m-300 1h0m17 0h0m72 0h0m12 0h0m5 0h0m6 0h0m97 0h0m76 0h0m2 0h0m15 0h0m-409 1h0m29 0h0m73 0h0m2 0h0m16 0h0m5 0h0m72 0h0m20 0h0m3 0h0m3 0h0m67 0h0m24 0h0m3 0h0m76 0h0m16 0h0m3 0h0m3 0h0m-415 1h0m3 0h0m21 0h0m4 0h0m70 0h0m10 0h0m6 0h0m7 0h0m2 0h0m1 0h0m164 0h0m1 0h0m1 0h0m1 0h0m4 0h0m17 0h0m1 0h0m1 0h0m4 0h0m1 0h0m2 0h0m77 0h0m10 0h0m1 0h0m3 0h0m3 0h0m-419 1h0m1 0h0m29 0h0m2 0h0m70 0h0m2 0h0m1 0h0m18 0h0m1 0h0m1 0h0m72 0h0m2 0h0m3 0h0m19 0h0m74 0h0m1 0h0m5 0h0m1 0h0m13 0h0m2 0h0m79 0h0m2 0h0m3 0h0m-398 1h0m1 0h0m1 0h0m3 0h0m4 0h0m13 0h0m1 0h0m4 0h0m1 0h0m72 0h0m3 0h0m3 0h0m14 0h0m79 0h0m15 0h0m3 0h0m72 0h0m1 0h0m25 0h0m1 0h0m3 0h0m69 0h0m3 0h0m1 0h0m2 0h0m1 0h0m2 0h0m4 0h0m-404 1h0m1 0h0m1 0h0m1 0h0m1 0h0m2 0h0m23 0h0m1 0h0m75 0h0m17 0h0m74 0h0m1 0h0m1 0h0m2 0h0m3 0h0m17 0h0m5 0h0m71 0h0m14 0h0m3 0h0m1 0h0m1 0h0m1 0h0m8 0h0m67 0h0m12 0h0m1 0h0m9 0h0m1 0h0m4 0h0m-420 1h0m1 0h0m1 0h0m1 0h0m7 0h0m20 0h0m75 0h0m5 0h0m11 0h0m6 0h0m3 0h0m66 0h0m119 0h0m5 0h0m78 0h0m1 0h0m7 0h0m3 0h0m6 0h0m8 0h0m-423 1h0m3 0h0m24 0h0m1 0h0m70 0h0m1 0h0m24 0h0m73 0h0m23 0h0m3 0h0m175 0h0m1 0h0m2 0h0m5 0h0m8 0h0m-410 1h0m4 0h0m20 0h0m2 0h0m2 0h0m72 0h0m16 0h0m6 0h0m5 0h0m66 0h0m3 0h0m18 0h0m4 0h0m4 0h0m2 0h0m71 0h0m4 0h0m4 0h0m4 0h0m5 0h0m1 0h0m85 0h0m1 0h0m12 0h0m-412 1h0m18 0h0m2 0h0m2 0h0m5 0h0m1 0h0m1 0h0m65 0h0m1 0h0m2 0h0m23 0h0m5 0h0m5 0h0m70 0h0m16 0h0m4 0h0m4 0h0m3 0h0m4 0h0m63 0h0m20 0h0m3 0h0m8 0h0m90 0h0m-400 1h0m4 0h0m2 0h0m5 0h0m1 0h0m4 0h0m65 0h0m26 0h0m4 0h0m1 0h0m69 0h0m25 0h0m2 0h0m73 0h0m3 0h0m13 0h0m94 0h0m10 0h0m3 0h0m2 0h0m-423 1h0m10 0h0m4 0h0m4 0h0m8 0h0m9 0h0m91 0h0m1 0h0m7 0h0m64 0h0m19 0h0m1 0h0m84 0h0m4 0h0m1 0h0m1 0h0m8 0h0m3 0h0m1 0h0m3 0h0m1 0h0m1 0h0m91 0h0m1 0h0m4 0h0m1 0h0m-418 1h0m7 0h0m11 0h0m108 0h0m2 0h0m60 0h0m4 0h0m2 0h0m19 0h0m1 0h0m3 0h0m2 0h0m5 0h0m66 0h0m6 0h0m10 0h0m6 0h0m1 0h0m6 0h0m90 0h0m4 0h0m5 0h0m1 0h0m1 0h0m1 0h0m-425 1h0m1 0h0m16 0h0m2 0h0m7 0h0m7 0h0m64 0h0m1 0h0m22 0h0m1 0h0m11 0h0m64 0h0m24 0h0m2 0h0m1 0h0m9 0h0m72 0h0m1 0h0m1 0h0m9 0h0m5 0h0m1 0h0m2 0h0m94 0h0m2 0h0m1 0h0m4 0h0m-421 1h0m1 0h0m2 0h0m2 0h0m4 0h0m1 0h0m3 0h0m2 0h0m13 0h0m3 0h0m62 0h0m27 0h0m3 0h0m7 0h0m66 0h0m16 0h0m1 0h0m3 0h0m2 0h0m3 0h0m6 0h0m2 0h0m1 0h0m65 0h0m12 0h0m1 0h0m3 0h0m97 0h0m2 0h0m4 0h0m3 0h0m-417 1h0m2 0h0m1 0h0m1 0h0m5 0h0m3 0h0m1 0h0m2 0h0m4 0h0m78 0h0m16 0h0m5 0h0m11 0h0m1 0h0m2 0h0m61 0h0m1 0h0m3 0h0m1 0h0m19 0h0m1 0h0m6 0h0m4 0h0m80 0h0m3 0h0m3 0h0m1 0h0m91 0h0m7 0h0m1 0h0m1 0h0m3 0h0m5 0h0m-421 1h0m4 0h0m1 0h0m9 0h0m1 0h0m9 0h0m92 0h0m5 0h0m9 0h0m57 0h0m21 0h0m2 0h0m2 0h0m1 0h0m3 0h0m90 0h0m3 0h0m95 0h0m2 0h0m3 0h0m2 0h0m2 0h0m4 0h0m2 0h0m-428 1h0m10 0h0m1 0h0m11 0h0m12 0h0m66 0h0m8 0h0m12 0h0m5 0h0m2 0h0m8 0h0m57 0h0m8 0h0m2 0h0m5 0h0m9 0h0m3 0h0m3 0h0m85 0h0m12 0h0m12 0h0m1 0h0m84 0h0m2 0h0m9 0h0m2 0h0m-427 1h0m11 0h0m9 0h0m11 0h0m66 0h0m8 0h0m1 0h0m1 0h0m13 0h0m1 0h0m16 0h0m66 0h0m14 0h0m5 0h0m10 0h0m82 0h0m16 0h0m1 0h0m75 0h0m2 0h0m1 0h0m8 0h0m-407 1h0m6 0h0m2 0h0m2 0h0m14 0h0m64 0h0m4 0h0m6 0h0m1 0h0m5 0h0m1 0h0m3 0h0m3 0h0m10 0h0m3 0h0m62 0h0m4 0h0m4 0h0m2 0h0m12 0h0m10 0h0m83 0h0m1 0h0m6 0h0m12 0h0m79 0h0m2 0h0m12 0h0m1 0h0m-408 1h0m7 0h0m3 0h0m2 0h0m70 0h0m1 0h0m9 0h0m3 0h0m1 0h0m2 0h0m1 0h0m11 0h0m10 0h0m60 0h0m3 0h0m4 0h0m13 0h0m17 0h0m65 0h0m3 0h0m10 0h0m4 0h0m2 0h0m4 0h0m11 0h0m82 0h0m11 0h0m-403 1h0m3 0h0m1 0h0m71 0h0m6 0h0m8 0h0m3 0h0m3 0h0m2 0h0m1 0h0m76 0h0m9 0h0m3 0h0m5 0h0m3 0h0m1 0h0m2 0h0m83 0h0m3 0h0m3 0h0m1 0h0m6 0h0m5 0h0m105 0h0m1 0h0m-396 1h0m2 0h0m3 0h0m65 0h0m1 0h0m3 0h0m1 0h0m2 0h0m6 0h0m2 0h0m5 0h0m7 0h0m2 0h0m72 0h0m2 0h0m1 0h0m3 0h0m1 0h0m2 0h0m2 0h0m2 0h0m2 0h0m5 0h0m10 0h0m1 0h0m1 0h0m75 0h0m2 0h0m11 0h0m2 0h0m-301 1h0m6 0h0m81 0h0m4 0h0m11 0h0m3 0h0m1 0h0m3 0h0m72 0h0m3 0h0m5 0h0m3 0h0m15 0h0m1 0h0m2 0h0m1 0h0m73 0h0m8 0h0m1 0h0m92 0h0m3 0h0m15 0h0m4 0h0m-404 1h0m82 0h0m11 0h0m2 0h0m4 0h0m73 0h0m9 0h0m103 0h0m11 0h0m88 0h0m17 0h0m-417 1h0m16 0h0m3 0h0m75 0h0m16 0h0m2 0h0m3 0h0m7 0h0m70 0h0m6 0h0m6 0h0m11 0h0m1 0h0m90 0h0m6 0h0m11 0h0m74 0h0m2 0h0m16 0h0m-398 1h0m7 0h0m86 0h0m8 0h0m74 0h0m2 0h0m1 0h0m9 0h0m99 0h0m110 0h0m2 0h0m1 0h0m3 0h0m1 0h0m-396 1h0m3 0h0m72 0h0m7 0h0m9 0h0m1 0h0m88 0h0m2 0h0m10 0h0m1 0h0m1 0h0m1 0h0m75 0h0m6 0h0m7 0h0m2 0h0m110 0h0m-405 1h0m85 0h0m11 0h0m95 0h0m7 0h0m1 0h0m1 0h0m3 0h0m5 0h0m75 0h0m1 0h0m3 0h0m6 0h0m1 0h0m3 0h0m1 0h0m1 0h0m103 0h0m-404 1h0m11 0h0m1 0h0m190 0h0m3 0h0m95 0h0m85 0h0m-374 1h0m87 0h0m2 0h0m5 0h0m1 0h0m82 0h0m11 0h0m3 0h0m3 0h0m79 0h0m1 0h0m6 0h0m7 0h0m1 0h0m1 0h0m8 0h0m94 0h0m-305 1h0m3 0h0m5 0h0m87 0h0m96 0h0m2 0h0m9 0h0m2 0h0m4 0h0m2 0h0m77 0h0m18 0h0m-302 1h0m92 0h0m10 0h0m87 0h0m10 0h0m2 0h0m5 0h0m78 0h0m18 0h0m-396 1h0m3 0h0m6 0h0m272 0h0m8 0h0m8 0h0m1 0h0m3 0h0m77 0h0m2 0h0m-383 1h0m5 0h0m4 0h0m84 0h0m10 0h0m96 0h0m1 0h0m82 0h0m1 0h0m3 0h0m13 0h0m3 0h0m79 0h0m1 0h0m4 0h0m-386 1h0m2 0h0m91 0h0m7 0h0m3 0h0m85 0h0m10 0h0m88 0h0m5 0h0m5 0h0m4 0h0m1 0h0m2 0h0m2 0h0m74 0h0m20 0h0m-399 1h0m91 0h0m97 0h0m9 0h0m85 0h0m2 0h0m16 0h0m82 0h0m11 0h0m-393 1h0m8 0h0m89 0h0m91 0h0m10 0h0m93 0h0m1 0h0m2 0h0m5 0h0m1 0h0m1 0h0m80 0h0m-288 1h0m6 0h0m99 0h0m96 0h0m1 0h0m-295 1h0m2 0h0m2 0h0m88 0h0m7 0h0m190 0h0m2 0h0m101 0h0m3 0h0m-389 1h0m86 0h0m4 0h0m196 0h0m83 0h0m7 0h0m2 0h0m9 0h0m2 0h0m-302 1h0m6 0h0m87 0h0m9 0h0m88 0h0m8 0h0m87 0h0m5 0h0m1 0h0m3 0h0m5 0h0m3 0h0m-391 1h0m88 0h0m1 0h0m1 0h0m96 0h0m5 0h0m87 0h0m3 0h0m3 0h0m91 0h0m1 0h0m3 0h0m8 0h0m1 0h0m2 0h0m-301 1h0m5 0h0m87 0h0m111 0h0m84 0h0m5 0h0m1 0h0m-289 1h0m1 0h0m1 0h0m88 0h0m1 0h0m3 0h0m2 0h0m97 0h0m94 0h0m4 0h0m-294 1h0m1 0h0m96 0h0m94 0h0m2 0h0m90 0h0m5 0h0m2 0h0m8 0h0m1 0h0m-297 1h0m90 0h0m95 0h0m103 0h0m2 0h0m1 0h0m-291 1h0m1 0h0m90 0h0m2 0h0m4 0h0m89 0h0m5 0h0m98 0h0m2 0h0m0 1h0m0 1h0m-294 1h0m1 2h0"/>
<path stroke="#595959" d="M401 33h0m-288 2h0m-4 2h0m2 0h0m2 0h0m-9 1h0m5 0h0m2 0h0m4 0h0m-9 1h0m10 0h0m2 0h0m181 0h0m-196 1h0m2 0h0m1 0h0m1 0h0m4 0h0m1 0h0m6 0h0m1 0h0m278 0h0m-292 1h0m5 0h0m287 0h0m1 0h0m-298 1h0m3 0h0m5 0h0m4 0h0m185 0h0m7 0h0m88 0h0m2 0h0m5 0h0m93 0h0m-385 1h0m2 0h0m190 0h0m94 0h0m8 0h0m4 0h0m89 0h0m1 0h0m-397 1h0m4 0h0m3 0h0m193 0h0m9 0h0m86 0h0m2 0h0m-297 1h0m4 0h0m9 0h0m5 0h0m180 0h0m4 0h0m1 0h0m3 0h0m88 0h0m7 0h0m90 0h0m1 0h0m2 0h0m1 0h0m2 0h0m-392 1h0m4 0h0m1 0h0m6 0h0m84 0h0m101 0h0m106 0h0m85 0h0m-395 1h0m2 0h0m2 0h0m16 0h0m1 0h0m87 0h0m2 0h0m89 0h0m8 0h0m1 0h0m3 0h0m92 0h0m1 0h0m86 0h0m1 0h0m4 0h0m3 0h0m-396 1h0m3 0h0m100 0h0m94 0h0m3 0h0m5 0h0m89 0h0m2 0h0m3 0h0m2 0h0m96 0h0m2 0h0m-399 1h0m5 0h0m7 0h0m95 0h0m87 0h0m7 0h0m91 0h0m2 0h0m6 0h0m1 0h0m98 0h0m-401 1h0m9 0h0m4 0h0m4 0h0m3 0h0m77 0h0m9 0h0m85 0h0m3 0h0m4 0h0m98 0h0m3 0h0m91 0h0m1 0h0m-390 1h0m10 0h0m1 0h0m1 0h0m95 0h0m91 0h0m2 0h0m1 0h0m4 0h0m3 0h0m2 0h0m80 0h0m1 0h0m6 0h0m1 0h0m8 0h0m2 0h0m87 0h0m2 0h0m2 0h0m-389 1h0m1 0h0m1 0h0m5 0h0m83 0h0m5 0h0m86 0h0m1 0h0m1 0h0m4 0h0m9 0h0m87 0h0m4 0h0m5 0h0m87 0h0m2 0h0m10 0h0m-397 1h0m9 0h0m90 0h0m2 0h0m3 0h0m92 0h0m1 0h0m1 0h0m2 0h0m90 0h0m19 0h0m80 0h0m-394 1h0m2 0h0m3 0h0m8 0h0m1 0h0m85 0h0m4 0h0m1 0h0m2 0h0m89 0h0m95 0h0m3 0h0m1 0h0m1 0h0m91 0h0m4 0h0m3 0h0m12 0h0m-394 1h0m5 0h0m83 0h0m5 0h0m90 0h0m95 0h0m3 0h0m7 0h0m2 0h0m90 0h0m5 0h0m15 0h0m-407 1h0m10 0h0m1 0h0m1 0h0m85 0h0m6 0h0m1 0h0m78 0h0m3 0h0m4 0h0m2 0h0m2 0h0m6 0h0m95 0h0m2 0h0m7 0h0m9 0h0m73 0h0m2 0h0m1 0h0m15 0h0m-396 1h0m2 0h0m2 0h0m2 0h0m79 0h0m2 0h0m9 0h0m81 0h0m4 0h0m6 0h0m2 0h0m4 0h0m82 0h0m4 0h0m5 0h0m3 0h0m12 0h0m6 0h0m74 0h0m3 0h0m14 0h0m7 0h0m-414 1h0m4 0h0m8 0h0m89 0h0m3 0h0m84 0h0m15 0h0m1 0h0m85 0h0m4 0h0m5 0h0m3 0h0m104 0h0m2 0h0m2 0h0m1 0h0m2 0h0m-413 1h0m1 0h0m9 0h0m5 0h0m10 0h0m80 0h0m85 0h0m8 0h0m9 0h0m3 0h0m14 0h0m68 0h0m5 0h0m4 0h0m5 0h0m9 0h0m83 0h0m15 0h0m-410 1h0m3 0h0m1 0h0m2 0h0m2 0h0m5 0h0m2 0h0m3 0h0m81 0h0m16 0h0m1 0h0m71 0h0m4 0h0m1 0h0m4 0h0m2 0h0m1 0h0m6 0h0m1 0h0m8 0h0m71 0h0m5 0h0m2 0h0m24 0h0m-320 1h0m3 0h0m3 0h0m4 0h0m3 0h0m16 0h0m70 0h0m5 0h0m5 0h0m6 0h0m4 0h0m2 0h0m68 0h0m3 0h0m1 0h0m3 0h0m2 0h0m2 0h0m13 0h0m4 0h0m69 0h0m5 0h0m7 0h0m19 0h0m3 0h0m73 0h0m3 0h0m7 0h0m1 0h0m-400 1h0m3 0h0m3 0h0m7 0h0m6 0h0m1 0h0m76 0h0m3 0h0m1 0h0m13 0h0m1 0h0m70 0h0m1 0h0m3 0h0m1 0h0m3 0h0m1 0h0m2 0h0m3 0h0m2 0h0m4 0h0m78 0h0m2 0h0m8 0h0m12 0h0m4 0h0m8 0h0m76 0h0m5 0h0m2 0h0m10 0h0m1 0h0m-412 1h0m4 0h0m2 0h0m9 0h0m2 0h0m2 0h0m4 0h0m1 0h0m1 0h0m1 0h0m70 0h0m3 0h0m3 0h0m17 0h0m68 0h0m5 0h0m4 0h0m2 0h0m2 0h0m2 0h0m1 0h0m3 0h0m7 0h0m3 0h0m3 0h0m65 0h0m3 0h0m1 0h0m2 0h0m3 0h0m5 0h0m4 0h0m1 0h0m1 0h0m1 0h0m9 0h0m2 0h0m82 0h0m1 0h0m1 0h0m1 0h0m7 0h0m1 0h0m-415 1h0m6 0h0m2 0h0m2 0h0m1 0h0m10 0h0m8 0h0m2 0h0m72 0h0m2 0h0m5 0h0m1 0h0m7 0h0m1 0h0m2 0h0m1 0h0m93 0h0m8 0h0m1 0h0m75 0h0m6 0h0m16 0h0m75 0h0m1 0h0m6 0h0m3 0h0m6 0h0m4 0h0m-415 1h0m1 0h0m4 0h0m7 0h0m4 0h0m4 0h0m2 0h0m3 0h0m1 0h0m1 0h0m3 0h0m1 0h0m1 0h0m69 0h0m4 0h0m9 0h0m4 0h0m5 0h0m65 0h0m12 0h0m1 0h0m3 0h0m4 0h0m2 0h0m1 0h0m2 0h0m72 0h0m10 0h0m8 0h0m3 0h0m94 0h0m3 0h0m12 0h0m-412 1h0m4 0h0m8 0h0m2 0h0m2 0h0m2 0h0m84 0h0m13 0h0m3 0h0m3 0h0m64 0h0m8 0h0m1 0h0m4 0h0m5 0h0m1 0h0m8 0h0m3 0h0m3 0h0m2 0h0m1 0h0m2 0h0m65 0h0m2 0h0m1 0h0m15 0h0m1 0h0m13 0h0m78 0h0m15 0h0m-397 1h0m2 0h0m6 0h0m71 0h0m1 0h0m1 0h0m18 0h0m2 0h0m67 0h0m5 0h0m3 0h0m2 0h0m2 0h0m2 0h0m2 0h0m6 0h0m4 0h0m1 0h0m1 0h0m4 0h0m3 0h0m2 0h0m1 0h0m62 0h0m3 0h0m2 0h0m2 0h0m2 0h0m8 0h0m16 0h0m83 0h0m-405 1h0m8 0h0m1 0h0m1 0h0m1 0h0m1 0h0m2 0h0m1 0h0m4 0h0m1 0h0m83 0h0m3 0h0m19 0h0m2 0h0m63 0h0m10 0h0m3 0h0m4 0h0m6 0h0m6 0h0m5 0h0m58 0h0m6 0h0m1 0h0m3 0h0m3 0h0m4 0h0m9 0h0m94 0h0m1 0h0m16 0h0m-417 1h0m6 0h0m3 0h0m1 0h0m1 0h0m87 0h0m1 0h0m9 0h0m3 0h0m5 0h0m1 0h0m3 0h0m61 0h0m10 0h0m5 0h0m1 0h0m4 0h0m3 0h0m6 0h0m7 0h0m8 0h0m58 0h0m3 0h0m1 0h0m11 0h0m1 0h0m5 0h0m1 0h0m1 0h0m16 0h0m77 0h0m-397 1h0m1 0h0m1 0h0m1 0h0m6 0h0m2 0h0m2 0h0m12 0h0m73 0h0m2 0h0m1 0h0m3 0h0m1 0h0m7 0h0m3 0h0m4 0h0m71 0h0m6 0h0m2 0h0m7 0h0m1 0h0m1 0h0m11 0h0m4 0h0m60 0h0m3 0h0m1 0h0m4 0h0m1 0h0m4 0h0m2 0h0m5 0h0m13 0h0m1 0h0m96 0h0m2 0h0m-416 1h0m2 0h0m7 0h0m3 0h0m15 0h0m1 0h0m60 0h0m13 0h0m3 0h0m1 0h0m3 0h0m11 0h0m4 0h0m65 0h0m1 0h0m2 0h0m5 0h0m1 0h0m9 0h0m3 0h0m10 0h0m2 0h0m63 0h0m2 0h0m7 0h0m102 0h0m20 0h0m-419 1h0m3 0h0m13 0h0m5 0h0m9 0h0m1 0h0m1 0h0m65 0h0m1 0h0m6 0h0m9 0h0m78 0h0m5 0h0m5 0h0m9 0h0m14 0h0m1 0h0m57 0h0m7 0h0m2 0h0m2 0h0m4 0h0m6 0h0m3 0h0m4 0h0m10 0h0m80 0h0m4 0h0m1 0h0m-405 1h0m2 0h0m1 0h0m3 0h0m1 0h0m5 0h0m83 0h0m2 0h0m2 0h0m1 0h0m18 0h0m3 0h0m5 0h0m64 0h0m1 0h0m10 0h0m24 0h0m60 0h0m3 0h0m1 0h0m2 0h0m2 0h0m1 0h0m4 0h0m1 0h0m4 0h0m1 0h0m5 0h0m12 0h0m70 0h0m26 0h0m-420 1h0m3 0h0m2 0h0m3 0h0m1 0h0m6 0h0m4 0h0m74 0h0m5 0h0m1 0h0m22 0h0m9 0h0m61 0h0m3 0h0m1 0h0m6 0h0m10 0h0m2 0h0m14 0h0m56 0h0m5 0h0m3 0h0m1 0h0m1 0h0m3 0h0m1 0h0m1 0h0m6 0h0m22 0h0m93 0h0m-411 1h0m1 0h0m3 0h0m1 0h0m3 0h0m1 0h0m4 0h0m4 0h0m8 0h0m1 0h0m1 0h0m59 0h0m6 0h0m2 0h0m5 0h0m2 0h0m1 0h0m14 0h0m1 0h0m3 0h0m61 0h0m3 0h0m3 0h0m4 0h0m2 0h0m1 0h0m2 0h0m3 0h0m1 0h0m3 0h0m72 0h0m3 0h0m1 0h0m4 0h0m5 0h0m4 0h0m1 0h0m1 0h0m91 0h0m2 0h0m8 0h0m3 0h0m1 0h0m-409 1h0m4 0h0m1 0h0m2 0h0m2 0h0m4 0h0m1 0h0m6 0h0m17 0h0m58 0h0m1 0h0m1 0h0m7 0h0m5 0h0m1 0h0m80 0h0m1 0h0m1 0h0m2 0h0m2 0h0m5 0h0m2 0h0m2 0h0m4 0h0m8 0h0m1 0h0m5 0h0m5 0h0m2 0h0m60 0h0m3 0h0m1 0h0m5 0h0m29 0h0m67 0h0m4 0h0m2 0h0m6 0h0m-389 1h0m3 0h0m12 0h0m1 0h0m61 0h0m1 0h0m3 0h0m1 0h0m3 0h0m3 0h0m2 0h0m6 0h0m10 0h0m4 0h0m3 0h0m55 0h0m2 0h0m1 0h0m5 0h0m2 0h0m7 0h0m11 0h0m16 0h0m56 0h0m1 0h0m6 0h0m3 0h0m6 0h0m7 0h0m1 0h0m84 0h0m-392 1h0m3 0h0m7 0h0m4 0h0m2 0h0m11 0h0m6 0h0m61 0h0m11 0h0m3 0h0m1 0h0m1 0h0m10 0h0m4 0h0m4 0h0m59 0h0m10 0h0m1 0h0m5 0h0m1 0h0m20 0h0m1 0h0m56 0h0m3 0h0m1 0h0m5 0h0m6 0h0m1 0h0m12 0h0m16 0h0m63 0h0m4 0h0m10 0h0m16 0h0m-421 1h0m4 0h0m1 0h0m2 0h0m3 0h0m7 0h0m1 0h0m1 0h0m84 0h0m1 0h0m17 0h0m1 0h0m65 0h0m8 0h0m3 0h0m2 0h0m1 0h0m2 0h0m8 0h0m4 0h0m4 0h0m5 0h0m1 0h0m1 0h0m2 0h0m57 0h0m1 0h0m1 0h0m1 0h0m5 0h0m10 0h0m6 0h0m2 0h0m16 0h0m61 0h0m33 0h0m-414 1h0m1 0h0m8 0h0m2 0h0m3 0h0m91 0h0m72 0h0m2 0h0m3 0h0m3 0h0m5 0h0m4 0h0m2 0h0m7 0h0m4 0h0m1 0h0m10 0h0m4 0h0m53 0h0m5 0h0m1 0h0m3 0h0m7 0h0m1 0h0m1 0h0m3 0h0m2 0h0m3 0h0m80 0h0m33 0h0m-412 1h0m7 0h0m2 0h0m83 0h0m6 0h0m2 0h0m12 0h0m2 0h0m4 0h0m62 0h0m7 0h0m4 0h0m9 0h0m8 0h0m8 0h0m56 0h0m1 0h0m9 0h0m1 0h0m2 0h0m1 0h0m28 0h0m1 0h0m59 0h0m14 0h0m8 0h0m13 0h0m-420 1h0m2 0h0m3 0h0m8 0h0m2 0h0m6 0h0m1 0h0m1 0h0m10 0h0m2 0h0m56 0h0m1 0h0m1 0h0m3 0h0m4 0h0m22 0h0m1 0h0m3 0h0m1 0h0m67 0h0m3 0h0m3 0h0m3 0h0m2 0h0m16 0h0m9 0h0m54 0h0m1 0h0m7 0h0m1 0h0m3 0h0m14 0h0m1 0h0m4 0h0m13 0h0m64 0h0m14 0h0m-409 1h0m2 0h0m2 0h0m6 0h0m2 0h0m8 0h0m5 0h0m6 0h0m1 0h0m97 0h0m3 0h0m58 0h0m1 0h0m1 0h0m8 0h0m15 0h0m1 0h0m5 0h0m3 0h0m4 0h0m2 0h0m56 0h0m1 0h0m4 0h0m9 0h0m13 0h0m5 0h0m1 0h0m3 0h0m8 0h0m62 0h0m17 0h0m1 0h0m1 0h0m10 0h0m3 0h0m-419 1h0m1 0h0m2 0h0m1 0h0m5 0h0m1 0h0m14 0h0m6 0h0m60 0h0m30 0h0m6 0h0m66 0h0m4 0h0m2 0h0m13 0h0m5 0h0m2 0h0m64 0h0m2 0h0m2 0h0m4 0h0m9 0h0m2 0h0m6 0h0m4 0h0m94 0h0m14 0h0m-421 1h0m7 0h0m23 0h0m60 0h0m16 0h0m4 0h0m12 0h0m2 0h0m5 0h0m55 0h0m18 0h0m3 0h0m11 0h0m6 0h0m5 0h0m57 0h0m1 0h0m1 0h0m18 0h0m9 0h0m70 0h0m3 0h0m2 0h0m19 0h0m2 0h0m-414 1h0m2 0h0m1 0h0m1 0h0m1 0h0m1 0h0m2 0h0m25 0h0m2 0h0m59 0h0m2 0h0m9 0h0m2 0h0m20 0h0m4 0h0m62 0h0m5 0h0m9 0h0m11 0h0m5 0h0m3 0h0m2 0h0m56 0h0m30 0h0m1 0h0m3 0h0m66 0h0m6 0h0m22 0h0m7 0h0m4 0h0m1 0h0m-421 1h0m17 0h0m9 0h0m9 0h0m52 0h0m3 0h0m1 0h0m1 0h0m1 0h0m10 0h0m4 0h0m5 0h0m13 0h0m2 0h0m4 0h0m68 0h0m18 0h0m65 0h0m4 0h0m4 0h0m6 0h0m2 0h0m19 0h0m1 0h0m1 0h0m6 0h0m1 0h0m54 0h0m5 0h0m-379 1h0m3 0h0m2 0h0m6 0h0m1 0h0m5 0h0m2 0h0m1 0h0m1 0h0m64 0h0m2 0h0m35 0h0m1 0h0m57 0h0m9 0h0m1 0h0m18 0h0m2 0h0m8 0h0m60 0h0m1 0h0m4 0h0m3 0h0m23 0h0m1 0h0m91 0h0m3 0h0m1 0h0m3 0h0m4 0h0m-427 1h0m2 0h0m8 0h0m5 0h0m3 0h0m12 0h0m4 0h0m2 0h0m1 0h0m61 0h0m3 0h0m9 0h0m3 0h0m1 0h0m23 0h0m1 0h0m60 0h0m5 0h0m17 0h0m8 0h0m2 0h0m65 0h0m3 0h0m1 0h0m31 0h0m65 0h0m24 0h0m2 0h0m-419 1h0m5 0h0m3 0h0m2 0h0m5 0h0m1 0h0m1 0h0m11 0h0m1 0h0m6 0h0m60 0h0m1 0h0m1 0h0m11 0h0m117 0h0m62 0h0m7 0h0m5 0h0m2 0h0m3 0h0m15 0h0m8 0h0m2 0h0m1 0h0m82 0h0m1 0h0m7 0h0m-421 1h0m5 0h0m5 0h0m1 0h0m1 0h0m7 0h0m1 0h0m10 0h0m73 0h0m5 0h0m2 0h0m82 0h0m11 0h0m5 0h0m79 0h0m6 0h0m1 0h0m8 0h0m22 0h0m3 0h0m89 0h0m1 0h0m5 0h0m-421 1h0m4 0h0m7 0h0m14 0h0m2 0h0m4 0h0m63 0h0m5 0h0m7 0h0m81 0h0m1 0h0m1 0h0m4 0h0m8 0h0m2 0h0m86 0h0m8 0h0m26 0h0m92 0h0m4 0h0m2 0h0m-420 1h0m8 0h0m83 0h0m4 0h0m2 0h0m5 0h0m1 0h0m87 0h0m2 0h0m2 0h0m29 0h0m4 0h0m68 0h0m33 0h0m86 0h0m6 0h0m3 0h0m-420 1h0m2 0h0m88 0h0m4 0h0m5 0h0m87 0h0m1 0h0m3 0h0m4 0h0m2 0h0m91 0h0m2 0h0m118 0h0m3 0h0m1 0h0m-413 1h0m91 0h0m2 0h0m91 0h0m6 0h0m10 0h0m84 0h0m39 0h0m86 0h0m2 0h0m3 0h0m4 0h0m-328 1h0m5 0h0m4 0h0m84 0h0m2 0h0m5 0h0m1 0h0m97 0h0m127 0h0m-422 1h0m8 0h0m92 0h0m4 0h0m100 0h0m-109 1h0m6 0h0m2 0h0m87 0h0m9 0h0m-195 1h0m101 0h0m-98 1h0m91 0h0m2 0h0m11 0h0m-104 1h0m89 0h0m2 0h0m96 0h0m-139 24h0m2 0h0m-7 1h0m0 1h0m1 0h0m1 0h0m2 0h0m1 0h0m1 0h0m2 0h0m2 1h0m-16 1h0m1 0h0m6 0h0m1 0h0m3 0h0m280 0h0m-294 1h0m2 0h0m3 0h0m4 0h0m6 0h0m2 0h0m1 0h0m1 0h0m1 0h0m280 0h0m93 0h0m2 0h0m2 0h0m-399 1h0m10 0h0m7 0h0m1 0h0m2 0h0m-18 1h0m4 0h0m288 0h0m98 0h0m4 0h0m-393 1h0m1 0h0m5 0h0m3 0h0m6 0h0m274 0h0m3 0h0m6 0h0m3 0h0m89 0h0m5 0h0m3 0h0m-405 1h0m2 0h0m2 0h0m2 0h0m14 0h0m96 0h0m2 0h0m1 0h0m84 0h0m6 0h0m90 0h0m1 0h0m6 0h0m2 0h0m83 0h0m2 0h0m1 0h0m9 0h0m1 0h0m1 0h0m-405 1h0m4 0h0m1 0h0m22 0h0m77 0h0m8 0h0m1 0h0m4 0h0m2 0h0m1 0h0m86 0h0m3 0h0m82 0h0m7 0h0m1 0h0m2 0h0m3 0h0m85 0h0m5 0h0m3 0h0m3 0h0m-402 1h0m4 0h0m11 0h0m5 0h0m86 0h0m6 0h0m9 0h0m78 0h0m8 0h0m2 0h0m1 0h0m1 0h0m2 0h0m83 0h0m9 0h0m2 0h0m3 0h0m80 0h0m1 0h0m4 0h0m1 0h0m12 0h0m2 0h0m-409 1h0m1 0h0m23 0h0m85 0h0m5 0h0m1 0h0m1 0h0m2 0h0m1 0h0m84 0h0m2 0h0m1 0h0m1 0h0m1 0h0m1 0h0m95 0h0m4 0h0m83 0h0m1 0h0m10 0h0m3 0h0m1 0h0m1 0h0m1 0h0m-408 1h0m1 0h0m23 0h0m1 0h0m81 0h0m3 0h0m87 0h0m4 0h0m1 0h0m2 0h0m6 0h0m80 0h0m1 0h0m2 0h0m15 0h0m4 0h0m77 0h0m1 0h0m10 0h0m10 0h0m-415 1h0m11 0h0m14 0h0m3 0h0m1 0h0m82 0h0m9 0h0m1 0h0m2 0h0m2 0h0m84 0h0m2 0h0m6 0h0m3 0h0m75 0h0m1 0h0m11 0h0m87 0h0m1 0h0m13 0h0m4 0h0m1 0h0m-404 1h0m2 0h0m21 0h0m77 0h0m2 0h0m2 0h0m14 0h0m75 0h0m5 0h0m3 0h0m1 0h0m5 0h0m80 0h0m2 0h0m10 0h0m4 0h0m100 0h0m-407 1h0m21 0h0m3 0h0m76 0h0m6 0h0m3 0h0m1 0h0m1 0h0m8 0h0m3 0h0m71 0h0m7 0h0m12 0h0m79 0h0m14 0h0m1 0h0m4 0h0m1 0h0m78 0h0m1 0h0m4 0h0m-397 1h0m1 0h0m4 0h0m17 0h0m2 0h0m3 0h0m5 0h0m79 0h0m4 0h0m3 0h0m4 0h0m80 0h0m5 0h0m2 0h0m5 0h0m7 0h0m65 0h0m2 0h0m3 0h0m8 0h0m14 0h0m1 0h0m1 0h0m74 0h0m18 0h0m2 0h0m-413 1h0m4 0h0m25 0h0m78 0h0m8 0h0m4 0h0m7 0h0m72 0h0m17 0h0m4 0h0m80 0h0m11 0h0m3 0h0m2 0h0m4 0h0m77 0h0m12 0h0m3 0h0m1 0h0m-409 1h0m6 0h0m20 0h0m78 0h0m1 0h0m3 0h0m1 0h0m3 0h0m7 0h0m1 0h0m2 0h0m75 0h0m19 0h0m3 0h0m70 0h0m1 0h0m1 0h0m14 0h0m6 0h0m83 0h0m6 0h0m-403 1h0m2 0h0m1 0h0m4 0h0m21 0h0m72 0h0m7 0h0m4 0h0m1 0h0m9 0h0m78 0h0m4 0h0m1 0h0m15 0h0m2 0h0m90 0h0m82 0h0m5 0h0m9 0h0m1 0h0m-405 1h0m20 0h0m3 0h0m89 0h0m2 0h0m1 0h0m5 0h0m93 0h0m91 0h0m85 0h0m-368 1h0m2 0h0m79 0h0m2 0h0m1 0h0m6 0h0m12 0h0m68 0h0m1 0h0m3 0h0m3 0h0m9 0h0m5 0h0m5 0h0m1 0h0m70 0h0m3 0h0m9 0h0m3 0h0m5 0h0m97 0h0m-404 1h0m17 0h0m4 0h0m72 0h0m8 0h0m11 0h0m6 0h0m77 0h0m6 0h0m10 0h0m1 0h0m3 0h0m76 0h0m3 0h0m4 0h0m12 0h0m81 0h0m1 0h0m2 0h0m7 0h0m2 0h0m2 0h0m-402 1h0m15 0h0m5 0h0m68 0h0m2 0h0m1 0h0m1 0h0m9 0h0m11 0h0m2 0h0m73 0h0m2 0h0m4 0h0m18 0h0m3 0h0m73 0h0m3 0h0m7 0h0m2 0h0m3 0h0m88 0h0m5 0h0m5 0h0m-407 1h0m2 0h0m3 0h0m15 0h0m7 0h0m72 0h0m1 0h0m2 0h0m4 0h0m10 0h0m5 0h0m75 0h0m20 0h0m76 0h0m5 0h0m11 0h0m15 0h0m81 0h0m1 0h0m4 0h0m6 0h0m-415 1h0m4 0h0m8 0h0m8 0h0m3 0h0m70 0h0m1 0h0m3 0h0m5 0h0m15 0h0m2 0h0m76 0h0m1 0h0m1 0h0m2 0h0m2 0h0m10 0h0m6 0h0m74 0h0m4 0h0m1 0h0m6 0h0m1 0h0m5 0h0m1 0h0m91 0h0m12 0h0m-413 1h0m4 0h0m2 0h0m2 0h0m5 0h0m8 0h0m3 0h0m74 0h0m1 0h0m18 0h0m79 0h0m23 0h0m1 0h0m1 0h0m72 0h0m16 0h0m2 0h0m84 0h0m7 0h0m-402 1h0m1 0h0m2 0h0m1 0h0m3 0h0m1 0h0m3 0h0m1 0h0m6 0h0m4 0h0m1 0h0m4 0h0m1 0h0m67 0h0m4 0h0m22 0h0m72 0h0m20 0h0m2 0h0m85 0h0m2 0h0m2 0h0m1 0h0m2 0h0m12 0h0m-312 1h0m12 0h0m2 0h0m3 0h0m3 0h0m68 0h0m3 0h0m1 0h0m21 0h0m1 0h0m72 0h0m2 0h0m1 0h0m2 0h0m1 0h0m10 0h0m10 0h0m2 0h0m4 0h0m81 0h0m2 0h0m6 0h0m9 0h0m96 0h0m-423 1h0m1 0h0m5 0h0m3 0h0m1 0h0m5 0h0m10 0h0m1 0h0m5 0h0m68 0h0m5 0h0m16 0h0m1 0h0m1 0h0m4 0h0m1 0h0m4 0h0m64 0h0m4 0h0m1 0h0m22 0h0m3 0h0m1 0h0m186 0h0m-408 1h0m1 0h0m3 0h0m2 0h0m18 0h0m75 0h0m3 0h0m7 0h0m6 0h0m3 0h0m1 0h0m2 0h0m1 0h0m68 0h0m3 0h0m22 0h0m2 0h0m3 0h0m2 0h0m2 0h0m5 0h0m78 0h0m1 0h0m1 0h0m101 0h0m4 0h0m3 0h0m-410 1h0m11 0h0m1 0h0m3 0h0m1 0h0m6 0h0m62 0h0m25 0h0m5 0h0m2 0h0m7 0h0m68 0h0m2 0h0m117 0h0m1 0h0m3 0h0m90 0h0m8 0h0m1 0h0m-414 1h0m3 0h0m1 0h0m7 0h0m3 0h0m3 0h0m6 0h0m63 0h0m18 0h0m6 0h0m14 0h0m57 0h0m8 0h0m9 0h0m10 0h0m4 0h0m1 0h0m3 0h0m90 0h0m9 0h0m89 0h0m6 0h0m5 0h0m-419 1h0m5 0h0m4 0h0m1 0h0m1 0h0m5 0h0m2 0h0m11 0h0m73 0h0m7 0h0m9 0h0m4 0h0m5 0h0m1 0h0m69 0h0m4 0h0m1 0h0m11 0h0m1 0h0m8 0h0m1 0h0m2 0h0m92 0h0m4 0h0m1 0h0m-326 1h0m1 0h0m12 0h0m10 0h0m69 0h0m4 0h0m8 0h0m8 0h0m11 0h0m1 0h0m3 0h0m68 0h0m2 0h0m9 0h0m6 0h0m5 0h0m5 0h0m2 0h0m91 0h0m1 0h0m5 0h0m86 0h0m13 0h0m2 0h0m-405 1h0m1 0h0m3 0h0m5 0h0m84 0h0m4 0h0m9 0h0m7 0h0m63 0h0m2 0h0m1 0h0m2 0h0m3 0h0m6 0h0m1 0h0m6 0h0m1 0h0m1 0h0m1 0h0m2 0h0m10 0h0m78 0h0m4 0h0m8 0h0m6 0h0m82 0h0m1 0h0m1 0h0m3 0h0m3 0h0m1 0h0m3 0h0m3 0h0m-409 1h0m9 0h0m75 0h0m2 0h0m2 0h0m5 0h0m16 0h0m72 0h0m4 0h0m6 0h0m13 0h0m2 0h0m2 0h0m7 0h0m1 0h0m80 0h0m13 0h0m3 0h0m92 0h0m4 0h0m-404 1h0m4 0h0m69 0h0m7 0h0m1 0h0m1 0h0m1 0h0m6 0h0m3 0h0m19 0h0m69 0h0m3 0h0m5 0h0m5 0h0m11 0h0m4 0h0m83 0h0m8 0h0m88 0h0m2 0h0m1 0h0m11 0h0m1 0h0m3 0h0m-399 1h0m2 0h0m3 0h0m3 0h0m69 0h0m4 0h0m1 0h0m22 0h0m1 0h0m3 0h0m65 0h0m6 0h0m5 0h0m7 0h0m3 0h0m89 0h0m3 0h0m8 0h0m10 0h0m81 0h0m9 0h0m1 0h0m2 0h0m-403 1h0m1 0h0m3 0h0m1 0h0m1 0h0m75 0h0m4 0h0m3 0h0m2 0h0m14 0h0m3 0h0m2 0h0m3 0h0m1 0h0m1 0h0m70 0h0m15 0h0m111 0h0m80 0h0m10 0h0m3 0h0m-400 1h0m7 0h0m69 0h0m4 0h0m26 0h0m2 0h0m83 0h0m2 0h0m1 0h0m5 0h0m90 0h0m3 0h0m5 0h0m1 0h0m1 0h0m7 0h0m79 0h0m-385 1h0m84 0h0m17 0h0m2 0h0m2 0h0m1 0h0m68 0h0m2 0h0m5 0h0m8 0h0m5 0h0m1 0h0m2 0h0m11 0h0m79 0h0m3 0h0m7 0h0m1 0h0m102 0h0m-398 1h0m3 0h0m2 0h0m91 0h0m7 0h0m82 0h0m14 0h0m84 0h0m2 0h0m1 0h0m10 0h0m1 0h0m5 0h0m80 0h0m-384 1h0m2 0h0m7 0h0m1 0h0m85 0h0m2 0h0m80 0h0m15 0h0m4 0h0m4 0h0m79 0h0m6 0h0m3 0h0m2 0h0m1 0h0m6 0h0m1 0h0m6 0h0m78 0h0m-380 1h0m7 0h0m93 0h0m2 0h0m89 0h0m12 0h0m76 0h0m6 0h0m8 0h0m9 0h0m77 0h0m-375 1h0m3 0h0m84 0h0m2 0h0m2 0h0m2 0h0m88 0h0m12 0h0m1 0h0m83 0h0m10 0h0m88 0h0m3 0h0m-384 1h0m95 0h0m1 0h0m3 0h0m89 0h0m9 0h0m84 0h0m2 0h0m2 0h0m1 0h0m6 0h0m2 0h0m7 0h0m1 0h0m94 0h0m3 0h0m-399 1h0m1 0h0m3 0h0m1 0h0m3 0h0m90 0h0m89 0h0m2 0h0m94 0h0m1 0h0m4 0h0m1 0h0m2 0h0m1 0h0m5 0h0m1 0h0m4 0h0m92 0h0m5 0h0m2 0h0m-302 1h0m1 0h0m89 0h0m3 0h0m89 0h0m6 0h0m3 0h0m109 0h0m-398 1h0m3 0h0m4 0h0m179 0h0m6 0h0m3 0h0m90 0h0m3 0h0m3 0h0m1 0h0m7 0h0m86 0h0m10 0h0m-397 1h0m1 0h0m7 0h0m88 0h0m4 0h0m90 0h0m7 0h0m84 0h0m1 0h0m6 0h0m3 0h0m6 0h0m-296 1h0m3 0h0m3 0h0m1 0h0m87 0h0m93 0h0m9 0h0m87 0h0m5 0h0m7 0h0m1 0h0m86 0h0m1 0h0m-383 1h0m2 0h0m4 0h0m85 0h0m10 0h0m91 0h0m3 0h0m102 0h0m85 0h0m5 0h0m6 0h0m4 0h0m-394 1h0m3 0h0m88 0h0m5 0h0m93 0h0m93 0h0m6 0h0m6 0h0m99 0h0m1 0h0m-395 1h0m3 0h0m1 0h0m85 0h0m1 0h0m94 0h0m9 0h0m1 0h0m88 0h0m1 0h0m97 0h0m10 0h0m4 0h0m-396 1h0m99 0h0m87 0h0m4 0h0m6 0h0m85 0h0m9 0h0m5 0h0m3 0h0m1 0h0m81 0h0m1 0h0m4 0h0m5 0h0m3 0h0m-393 1h0m99 0h0m88 0h0m94 0h0m2 0h0m3 0h0m3 0h0m4 0h0m87 0h0m2 0h0m4 0h0m3 0h0m-390 1h0m1 0h0m99 0h0m87 0h0m1 0h0m2 0h0m100 0h0m6 0h0m87 0h0m2 0h0m1 0h0m1 0h0m2 0h0m1 0h0m-294 1h0m4 0h0m88 0h0m96 0h0m4 0h0m1 0h0m5 0h0m97 0h0m2 0h0m-206 1h0m1 0h0m1 0h0m7 0h0m94 0h0m94 0h0m4 0h0m-388 1h0m99 0h0m88 0h0m95 0h0m7 0h0m1 0h0m91 0h0m10 0h0m1 0h0m1 0h0m-203 1h0m4 0h0m198 0h0m-294 1h0m90 0h0m2 0h0m2 0h0m92 0h0m2 0h0m100 0h0m2 0h0m2 1h0m1 0h0m-296 1h0m291 0h0m-197 1h0"/>
<path stroke="#404040" d="M113 36h0m-5 1h0m4 0h0m-6 1h0m1 0h0m5 0h0m1 0h0m1 0h0m3 0h0m-9 1h0m3 0h0m2 0h0m280 0h0m-285 1h0m1 0h0m7 0h0m-10 1h0m2 0h0m5 0h0m2 0h0m1 0h0m-15 1h0m3 0h0m1 0h0m5 0h0m5 0h0m282 0h0m-294 1h0m2 0h0m5 0h0m1 0h0m7 0h0m371 0h0m-388 1h0m9 0h0m1 0h0m3 0h0m2 0h0m1 0h0m279 0h0m93 0h0m4 0h0m3 0h0m-390 1h0m1 0h0m1 0h0m1 0h0m3 0h0m281 0h0m101 0h0m-395 1h0m1 0h0m1 0h0m8 0h0m2 0h0m4 0h0m1 0h0m1 0h0m272 0h0m6 0h0m96 0h0m1 0h0m1 0h0m-384 1h0m1 0h0m1 0h0m2 0h0m1 0h0m3 0h0m183 0h0m92 0h0m1 0h0m95 0h0m3 0h0m1 0h0m2 0h0m-395 1h0m2 0h0m5 0h0m7 0h0m377 0h0m-394 1h0m2 0h0m1 0h0m12 0h0m91 0h0m94 0h0m1 0h0m2 0h0m89 0h0m6 0h0m5 0h0m88 0h0m1 0h0m1 0h0m4 0h0m2 0h0m-399 1h0m15 0h0m88 0h0m92 0h0m3 0h0m1 0h0m1 0h0m3 0h0m89 0h0m1 0h0m1 0h0m3 0h0m2 0h0m1 0h0m3 0h0m90 0h0m6 0h0m-398 1h0m1 0h0m2 0h0m11 0h0m1 0h0m88 0h0m1 0h0m1 0h0m89 0h0m1 0h0m3 0h0m96 0h0m8 0h0m91 0h0m-396 1h0m1 0h0m2 0h0m1 0h0m1 0h0m6 0h0m7 0h0m180 0h0m2 0h0m4 0h0m1 0h0m5 0h0m87 0h0m1 0h0m99 0h0m2 0h0m-397 1h0m1 0h0m1 0h0m1 0h0m4 0h0m3 0h0m1 0h0m89 0h0m93 0h0m5 0h0m94 0h0m3 0h0m2 0h0m93 0h0m2 0h0m3 0h0m-387 1h0m3 0h0m3 0h0m86 0h0m98 0h0m2 0h0m3 0h0m1 0h0m1 0h0m81 0h0m4 0h0m1 0h0m5 0h0m3 0h0m1 0h0m2 0h0m1 0h0m6 0h0m81 0h0m5 0h0m1 0h0m1 0h0m-397 1h0m6 0h0m5 0h0m2 0h0m1 0h0m93 0h0m87 0h0m1 0h0m6 0h0m4 0h0m79 0h0m6 0h0m3 0h0m1 0h0m3 0h0m2 0h0m94 0h0m1 0h0m15 0h0m-410 1h0m2 0h0m1 0h0m5 0h0m3 0h0m2 0h0m86 0h0m93 0h0m6 0h0m1 0h0m3 0h0m89 0h0m3 0h0m1 0h0m1 0h0m16 0h0m82 0h0m-395 1h0m1 0h0m1 0h0m3 0h0m1 0h0m98 0h0m1 0h0m92 0h0m1 0h0m2 0h0m2 0h0m90 0h0m2 0h0m1 0h0m6 0h0m12 0h0m83 0h0m-390 1h0m4 0h0m1 0h0m93 0h0m3 0h0m90 0h0m3 0h0m87 0h0m6 0h0m3 0h0m2 0h0m8 0h0m1 0h0m6 0h0m99 0h0m-403 1h0m4 0h0m88 0h0m1 0h0m94 0h0m1 0h0m14 0h0m2 0h0m74 0h0m29 0h0m95 0h0m1 0h0m-410 1h0m3 0h0m3 0h0m2 0h0m93 0h0m90 0h0m3 0h0m7 0h0m94 0h0m5 0h0m5 0h0m2 0h0m3 0h0m1 0h0m1 0h0m1 0h0m88 0h0m1 0h0m-404 1h0m6 0h0m93 0h0m7 0h0m97 0h0m10 0h0m4 0h0m75 0h0m2 0h0m2 0h0m14 0h0m2 0h0m1 0h0m4 0h0m84 0h0m5 0h0m1 0h0m2 0h0m2 0h0m1 0h0m-412 1h0m7 0h0m1 0h0m6 0h0m84 0h0m95 0h0m1 0h0m5 0h0m5 0h0m9 0h0m1 0h0m72 0h0m8 0h0m12 0h0m7 0h0m2 0h0m2 0h0m86 0h0m1 0h0m7 0h0m-409 1h0m2 0h0m5 0h0m14 0h0m168 0h0m3 0h0m4 0h0m4 0h0m14 0h0m74 0h0m7 0h0m14 0h0m2 0h0m1 0h0m89 0h0m9 0h0m-404 1h0m2 0h0m7 0h0m79 0h0m1 0h0m92 0h0m2 0h0m1 0h0m2 0h0m5 0h0m2 0h0m1 0h0m4 0h0m5 0h0m2 0h0m3 0h0m4 0h0m66 0h0m9 0h0m2 0h0m8 0h0m1 0h0m94 0h0m5 0h0m-410 1h0m8 0h0m4 0h0m2 0h0m10 0h0m1 0h0m79 0h0m19 0h0m71 0h0m4 0h0m5 0h0m5 0h0m9 0h0m2 0h0m3 0h0m73 0h0m4 0h0m3 0h0m3 0h0m8 0h0m2 0h0m1 0h0m89 0h0m1 0h0m5 0h0m1 0h0m-409 1h0m6 0h0m3 0h0m11 0h0m2 0h0m1 0h0m5 0h0m77 0h0m12 0h0m1 0h0m2 0h0m78 0h0m16 0h0m1 0h0m2 0h0m1 0h0m77 0h0m2 0h0m3 0h0m4 0h0m5 0h0m92 0h0m1 0h0m9 0h0m-406 1h0m13 0h0m3 0h0m3 0h0m4 0h0m67 0h0m8 0h0m2 0h0m10 0h0m5 0h0m72 0h0m17 0h0m9 0h0m68 0h0m3 0h0m16 0h0m1 0h0m8 0h0m1 0h0m85 0h0m12 0h0m1 0h0m-411 1h0m1 0h0m6 0h0m10 0h0m4 0h0m4 0h0m91 0h0m1 0h0m1 0h0m74 0h0m6 0h0m2 0h0m4 0h0m1 0h0m1 0h0m3 0h0m1 0h0m80 0h0m2 0h0m9 0h0m4 0h0m3 0h0m2 0h0m1 0h0m3 0h0m1 0h0m84 0h0m11 0h0m1 0h0m1 0h0m-414 1h0m2 0h0m14 0h0m1 0h0m2 0h0m3 0h0m1 0h0m1 0h0m1 0h0m91 0h0m1 0h0m3 0h0m1 0h0m67 0h0m2 0h0m16 0h0m3 0h0m3 0h0m5 0h0m2 0h0m1 0h0m71 0h0m1 0h0m1 0h0m2 0h0m6 0h0m9 0h0m1 0h0m7 0h0m82 0h0m-402 1h0m12 0h0m5 0h0m2 0h0m78 0h0m4 0h0m15 0h0m2 0h0m4 0h0m1 0h0m72 0h0m6 0h0m1 0h0m2 0h0m7 0h0m4 0h0m1 0h0m75 0h0m15 0h0m1 0h0m1 0h0m4 0h0m7 0h0m1 0h0m80 0h0m4 0h0m-401 1h0m14 0h0m3 0h0m1 0h0m3 0h0m5 0h0m70 0h0m4 0h0m12 0h0m5 0h0m1 0h0m1 0h0m64 0h0m7 0h0m9 0h0m5 0h0m1 0h0m14 0h0m65 0h0m5 0h0m3 0h0m3 0h0m4 0h0m1 0h0m1 0h0m4 0h0m8 0h0m2 0h0m3 0h0m80 0h0m-400 1h0m2 0h0m12 0h0m4 0h0m1 0h0m3 0h0m1 0h0m72 0h0m1 0h0m2 0h0m2 0h0m2 0h0m1 0h0m14 0h0m65 0h0m22 0h0m3 0h0m1 0h0m3 0h0m7 0h0m67 0h0m2 0h0m16 0h0m14 0h0m1 0h0m94 0h0m-416 1h0m9 0h0m5 0h0m3 0h0m5 0h0m1 0h0m2 0h0m4 0h0m73 0h0m5 0h0m84 0h0m4 0h0m1 0h0m3 0h0m13 0h0m1 0h0m7 0h0m2 0h0m64 0h0m19 0h0m1 0h0m1 0h0m3 0h0m9 0h0m4 0h0m78 0h0m1 0h0m12 0h0m1 0h0m-402 1h0m4 0h0m8 0h0m2 0h0m2 0h0m64 0h0m4 0h0m8 0h0m14 0h0m4 0h0m1 0h0m61 0h0m3 0h0m5 0h0m2 0h0m11 0h0m2 0h0m2 0h0m1 0h0m2 0h0m1 0h0m1 0h0m4 0h0m64 0h0m3 0h0m21 0h0m2 0h0m9 0h0m3 0h0m82 0h0m-405 1h0m3 0h0m15 0h0m8 0h0m1 0h0m3 0h0m61 0h0m2 0h0m3 0h0m3 0h0m2 0h0m1 0h0m2 0h0m88 0h0m2 0h0m1 0h0m17 0h0m10 0h0m4 0h0m60 0h0m1 0h0m4 0h0m16 0h0m8 0h0m3 0h0m3 0h0m1 0h0m84 0h0m10 0h0m1 0h0m-418 1h0m3 0h0m2 0h0m13 0h0m11 0h0m2 0h0m1 0h0m64 0h0m1 0h0m2 0h0m4 0h0m2 0h0m3 0h0m2 0h0m9 0h0m1 0h0m6 0h0m1 0h0m69 0h0m1 0h0m2 0h0m4 0h0m6 0h0m14 0h0m3 0h0m59 0h0m1 0h0m7 0h0m1 0h0m5 0h0m9 0h0m16 0h0m78 0h0m-386 1h0m9 0h0m1 0h0m3 0h0m3 0h0m72 0h0m4 0h0m19 0h0m82 0h0m3 0h0m1 0h0m3 0h0m4 0h0m62 0h0m7 0h0m19 0h0m11 0h0m1 0h0m83 0h0m11 0h0m1 0h0m-415 1h0m3 0h0m13 0h0m14 0h0m1 0h0m64 0h0m3 0h0m5 0h0m2 0h0m1 0h0m16 0h0m3 0h0m64 0h0m4 0h0m1 0h0m18 0h0m1 0h0m4 0h0m4 0h0m4 0h0m62 0h0m22 0h0m1 0h0m8 0h0m1 0h0m2 0h0m1 0h0m83 0h0m-406 1h0m3 0h0m5 0h0m9 0h0m74 0h0m1 0h0m1 0h0m3 0h0m10 0h0m6 0h0m11 0h0m62 0h0m5 0h0m4 0h0m2 0h0m3 0h0m8 0h0m3 0h0m7 0h0m2 0h0m67 0h0m2 0h0m5 0h0m16 0h0m6 0h0m89 0h0m2 0h0m11 0h0m-397 1h0m4 0h0m4 0h0m62 0h0m2 0h0m1 0h0m9 0h0m4 0h0m1 0h0m13 0h0m5 0h0m1 0h0m3 0h0m62 0h0m2 0h0m3 0h0m24 0h0m3 0h0m57 0h0m7 0h0m2 0h0m2 0h0m1 0h0m1 0h0m15 0h0m12 0h0m3 0h0m83 0h0m11 0h0m-417 1h0m3 0h0m1 0h0m1 0h0m12 0h0m72 0h0m12 0h0m1 0h0m1 0h0m16 0h0m7 0h0m61 0h0m1 0h0m3 0h0m1 0h0m3 0h0m17 0h0m1 0h0m8 0h0m2 0h0m1 0h0m1 0h0m57 0h0m4 0h0m9 0h0m7 0h0m5 0h0m3 0h0m1 0h0m11 0h0m63 0h0m29 0h0m2 0h0m-422 1h0m4 0h0m1 0h0m2 0h0m4 0h0m6 0h0m3 0h0m10 0h0m1 0h0m64 0h0m1 0h0m6 0h0m2 0h0m4 0h0m2 0h0m21 0h0m60 0h0m9 0h0m24 0h0m5 0h0m59 0h0m3 0h0m1 0h0m22 0h0m11 0h0m2 0h0m64 0h0m18 0h0m11 0h0m1 0h0m-422 1h0m4 0h0m1 0h0m1 0h0m1 0h0m5 0h0m11 0h0m10 0h0m1 0h0m59 0h0m2 0h0m2 0h0m12 0h0m1 0h0m17 0h0m3 0h0m95 0h0m1 0h0m65 0h0m1 0h0m3 0h0m19 0h0m9 0h0m4 0h0m1 0h0m64 0h0m-386 1h0m3 0h0m2 0h0m9 0h0m2 0h0m4 0h0m5 0h0m62 0h0m3 0h0m10 0h0m3 0h0m17 0h0m61 0h0m1 0h0m1 0h0m1 0h0m3 0h0m2 0h0m6 0h0m13 0h0m9 0h0m1 0h0m5 0h0m54 0h0m1 0h0m11 0h0m4 0h0m13 0h0m6 0h0m90 0h0m10 0h0m-415 1h0m2 0h0m2 0h0m3 0h0m14 0h0m2 0h0m1 0h0m1 0h0m1 0h0m1 0h0m63 0h0m3 0h0m3 0h0m1 0h0m4 0h0m1 0h0m20 0h0m65 0h0m1 0h0m2 0h0m5 0h0m1 0h0m17 0h0m1 0h0m3 0h0m6 0h0m1 0h0m64 0h0m3 0h0m1 0h0m16 0h0m78 0h0m19 0h0m2 0h0m6 0h0m4 0h0m-414 1h0m4 0h0m10 0h0m4 0h0m1 0h0m2 0h0m1 0h0m64 0h0m34 0h0m59 0h0m2 0h0m1 0h0m1 0h0m2 0h0m1 0h0m7 0h0m17 0h0m1 0h0m1 0h0m1 0h0m3 0h0m2 0h0m58 0h0m6 0h0m25 0h0m1 0h0m3 0h0m4 0h0m4 0h0m93 0h0m-421 1h0m1 0h0m22 0h0m3 0h0m1 0h0m1 0h0m2 0h0m1 0h0m2 0h0m1 0h0m71 0h0m2 0h0m1 0h0m82 0h0m1 0h0m2 0h0m2 0h0m4 0h0m2 0h0m16 0h0m4 0h0m1 0h0m2 0h0m62 0h0m4 0h0m1 0h0m27 0h0m1 0h0m4 0h0m64 0h0m26 0h0m2 0h0m1 0h0m-412 1h0m2 0h0m2 0h0m2 0h0m1 0h0m2 0h0m9 0h0m3 0h0m6 0h0m62 0h0m8 0h0m1 0h0m85 0h0m5 0h0m1 0h0m1 0h0m26 0h0m1 0h0m2 0h0m66 0h0m1 0h0m25 0h0m7 0h0m1 0h0m1 0h0m1 0h0m1 0h0m92 0h0m4 0h0m-425 1h0m3 0h0m2 0h0m1 0h0m5 0h0m17 0h0m2 0h0m64 0h0m2 0h0m1 0h0m11 0h0m1 0h0m83 0h0m5 0h0m27 0h0m67 0h0m2 0h0m1 0h0m27 0h0m1 0h0m99 0h0m2 0h0m-421 1h0m1 0h0m5 0h0m21 0h0m68 0h0m2 0h0m10 0h0m85 0h0m2 0h0m1 0h0m3 0h0m25 0h0m63 0h0m1 0h0m3 0h0m28 0h0m3 0h0m75 0h0m15 0h0m5 0h0m2 0h0m1 0h0m1 0h0m1 0h0m-422 1h0m4 0h0m1 0h0m21 0h0m75 0h0m5 0h0m82 0h0m4 0h0m220 0h0m6 0h0m-327 1h0m2 0h0m1 0h0m4 0h0m1 0h0m3 0h0m6 0h0m80 0h0m9 0h0m217 0h0m1 0h0m-415 1h0m2 0h0m1 0h0m89 0h0m5 0h0m12 0h0m306 0h0m2 0h0m-412 1h0m90 0h0m2 0h0m6 0h0m1 0h0m87 0h0m3 0h0m222 0h0m2 0h0m-326 1h0m2 0h0m5 0h0m1 0h0m313 0h0m2 0h0m-323 1h0m4 0h0m191 0h0m132 0h0m-322 2h0m-3 1h0m-52 27h0m-5 1h0m8 1h0m-6 1h0m7 0h0m1 0h0m5 0h0m-14 1h0m7 0h0m1 0h0m2 0h0m-10 1h0m3 0h0m5 0h0m5 0h0m4 0h0m372 0h0m1 0h0m-389 1h0m5 0h0m1 0h0m2 0h0m3 0h0m373 0h0m7 0h0m-392 1h0m1 0h0m1 0h0m3 0h0m6 0h0m377 0h0m1 0h0m5 0h0m-393 1h0m1 0h0m2 0h0m4 0h0m1 0h0m4 0h0m3 0h0m178 0h0m94 0h0m4 0h0m1 0h0m92 0h0m1 0h0m1 0h0m2 0h0m1 0h0m1 0h0m1 0h0m-400 1h0m5 0h0m6 0h0m4 0h0m4 0h0m89 0h0m95 0h0m89 0h0m6 0h0m2 0h0m94 0h0m3 0h0m2 0h0m2 0h0m1 0h0m1 0h0m-399 1h0m1 0h0m7 0h0m6 0h0m1 0h0m1 0h0m3 0h0m86 0h0m2 0h0m3 0h0m2 0h0m88 0h0m6 0h0m78 0h0m1 0h0m1 0h0m3 0h0m1 0h0m1 0h0m1 0h0m3 0h0m5 0h0m1 0h0m89 0h0m1 0h0m2 0h0m4 0h0m1 0h0m1 0h0m-390 1h0m6 0h0m1 0h0m94 0h0m83 0h0m2 0h0m8 0h0m2 0h0m78 0h0m2 0h0m5 0h0m8 0h0m92 0h0m6 0h0m-397 1h0m3 0h0m11 0h0m1 0h0m89 0h0m5 0h0m2 0h0m1 0h0m90 0h0m3 0h0m80 0h0m6 0h0m3 0h0m4 0h0m1 0h0m1 0h0m88 0h0m6 0h0m4 0h0m1 0h0m-410 1h0m30 0h0m1 0h0m81 0h0m1 0h0m4 0h0m4 0h0m4 0h0m79 0h0m1 0h0m6 0h0m1 0h0m3 0h0m2 0h0m84 0h0m2 0h0m2 0h0m4 0h0m2 0h0m1 0h0m92 0h0m4 0h0m1 0h0m1 0h0m-410 1h0m3 0h0m6 0h0m3 0h0m5 0h0m8 0h0m3 0h0m90 0h0m7 0h0m75 0h0m8 0h0m4 0h0m87 0h0m1 0h0m9 0h0m5 0h0m78 0h0m2 0h0m3 0h0m1 0h0m6 0h0m5 0h0m-409 1h0m1 0h0m2 0h0m17 0h0m1 0h0m2 0h0m4 0h0m2 0h0m78 0h0m4 0h0m5 0h0m2 0h0m1 0h0m3 0h0m80 0h0m1 0h0m4 0h0m3 0h0m1 0h0m1 0h0m3 0h0m81 0h0m3 0h0m2 0h0m1 0h0m4 0h0m7 0h0m82 0h0m1 0h0m5 0h0m1 0h0m7 0h0m-410 1h0m5 0h0m6 0h0m1 0h0m10 0h0m1 0h0m4 0h0m95 0h0m83 0h0m5 0h0m2 0h0m2 0h0m1 0h0m77 0h0m18 0h0m1 0h0m2 0h0m81 0h0m10 0h0m3 0h0m1 0h0m2 0h0m-409 1h0m2 0h0m17 0h0m4 0h0m2 0h0m2 0h0m79 0h0m4 0h0m3 0h0m2 0h0m3 0h0m78 0h0m1 0h0m1 0h0m9 0h0m1 0h0m2 0h0m4 0h0m77 0h0m2 0h0m102 0h0m2 0h0m1 0h0m6 0h0m7 0h0m-410 1h0m12 0h0m6 0h0m3 0h0m79 0h0m6 0h0m3 0h0m1 0h0m10 0h0m78 0h0m2 0h0m1 0h0m11 0h0m79 0h0m12 0h0m3 0h0m3 0h0m3 0h0m75 0h0m2 0h0m5 0h0m11 0h0m2 0h0m1 0h0m2 0h0m-409 1h0m4 0h0m14 0h0m1 0h0m2 0h0m79 0h0m3 0h0m2 0h0m6 0h0m7 0h0m73 0h0m1 0h0m4 0h0m5 0h0m2 0h0m1 0h0m3 0h0m6 0h0m92 0h0m2 0h0m4 0h0m78 0h0m18 0h0m-413 1h0m1 0h0m1 0h0m1 0h0m3 0h0m7 0h0m13 0h0m79 0h0m1 0h0m2 0h0m17 0h0m74 0h0m4 0h0m1 0h0m1 0h0m1 0h0m9 0h0m1 0h0m2 0h0m2 0h0m1 0h0m74 0h0m1 0h0m1 0h0m13 0h0m2 0h0m4 0h0m1 0h0m78 0h0m3 0h0m3 0h0m3 0h0m2 0h0m2 0h0m-404 1h0m4 0h0m13 0h0m5 0h0m79 0h0m6 0h0m12 0h0m75 0h0m6 0h0m8 0h0m7 0h0m75 0h0m2 0h0m6 0h0m1 0h0m6 0h0m2 0h0m3 0h0m1 0h0m82 0h0m3 0h0m5 0h0m2 0h0m3 0h0m-404 1h0m7 0h0m3 0h0m7 0h0m2 0h0m76 0h0m1 0h0m2 0h0m5 0h0m2 0h0m3 0h0m1 0h0m4 0h0m3 0h0m4 0h0m73 0h0m3 0h0m11 0h0m1 0h0m7 0h0m1 0h0m75 0h0m4 0h0m1 0h0m4 0h0m3 0h0m1 0h0m6 0h0m79 0h0m3 0h0m2 0h0m3 0h0m2 0h0m2 0h0m-407 1h0m1 0h0m1 0h0m2 0h0m3 0h0m2 0h0m2 0h0m1 0h0m5 0h0m10 0h0m77 0h0m4 0h0m2 0h0m3 0h0m1 0h0m4 0h0m6 0h0m74 0h0m1 0h0m3 0h0m2 0h0m9 0h0m2 0h0m2 0h0m1 0h0m76 0h0m2 0h0m5 0h0m2 0h0m5 0h0m92 0h0m6 0h0m-404 1h0m5 0h0m4 0h0m5 0h0m80 0h0m12 0h0m8 0h0m4 0h0m3 0h0m72 0h0m19 0h0m5 0h0m1 0h0m75 0h0m1 0h0m3 0h0m8 0h0m3 0h0m104 0h0m-410 1h0m2 0h0m1 0h0m12 0h0m78 0h0m4 0h0m4 0h0m6 0h0m5 0h0m3 0h0m3 0h0m1 0h0m1 0h0m81 0h0m4 0h0m1 0h0m5 0h0m1 0h0m4 0h0m73 0h0m6 0h0m-298 1h0m2 0h0m2 0h0m4 0h0m3 0h0m5 0h0m2 0h0m78 0h0m7 0h0m1 0h0m19 0h0m69 0h0m4 0h0m5 0h0m2 0h0m4 0h0m1 0h0m1 0h0m1 0h0m1 0h0m1 0h0m3 0h0m1 0h0m82 0h0m1 0h0m1 0h0m2 0h0m2 0h0m1 0h0m4 0h0m-301 1h0m5 0h0m6 0h0m73 0h0m3 0h0m1 0h0m1 0h0m14 0h0m1 0h0m1 0h0m2 0h0m3 0h0m3 0h0m73 0h0m5 0h0m1 0h0m2 0h0m3 0h0m3 0h0m1 0h0m1 0h0m3 0h0m84 0h0m1 0h0m4 0h0m20 0h0m-322 1h0m1 0h0m1 0h0m8 0h0m1 0h0m5 0h0m1 0h0m5 0h0m70 0h0m1 0h0m8 0h0m9 0h0m2 0h0m2 0h0m2 0h0m7 0h0m3 0h0m70 0h0m3 0h0m6 0h0m5 0h0m4 0h0m1 0h0m78 0h0m11 0h0m2 0h0m-303 1h0m5 0h0m4 0h0m3 0h0m1 0h0m2 0h0m1 0h0m72 0h0m1 0h0m3 0h0m1 0h0m2 0h0m7 0h0m1 0h0m6 0h0m1 0h0m1 0h0m6 0h0m3 0h0m69 0h0m5 0h0m4 0h0m1 0h0m3 0h0m9 0h0m8 0h0m2 0h0m75 0h0m23 0h0m92 0h0m-412 1h0m2 0h0m2 0h0m1 0h0m2 0h0m1 0h0m5 0h0m1 0h0m1 0h0m1 0h0m1 0h0m76 0h0m9 0h0m6 0h0m3 0h0m6 0h0m4 0h0m67 0h0m3 0h0m3 0h0m1 0h0m4 0h0m2 0h0m2 0h0m4 0h0m2 0h0m2 0h0m7 0h0m2 0h0m98 0h0m1 0h0m89 0h0m1 0h0m-409 1h0m2 0h0m5 0h0m1 0h0m2 0h0m3 0h0m4 0h0m1 0h0m3 0h0m1 0h0m68 0h0m1 0h0m2 0h0m1 0h0m11 0h0m10 0h0m6 0h0m2 0h0m1 0h0m63 0h0m4 0h0m2 0h0m1 0h0m5 0h0m4 0h0m10 0h0m5 0h0m3 0h0m190 0h0m-410 1h0m9 0h0m8 0h0m1 0h0m2 0h0m69 0h0m6 0h0m1 0h0m4 0h0m2 0h0m2 0h0m3 0h0m9 0h0m2 0h0m2 0h0m2 0h0m1 0h0m64 0h0m9 0h0m3 0h0m3 0h0m1 0h0m2 0h0m15 0h0m1 0h0m75 0h0m3 0h0m16 0h0m3 0h0m1 0h0m1 0h0m83 0h0m2 0h0m2 0h0m4 0h0m3 0h0m-410 1h0m6 0h0m3 0h0m2 0h0m5 0h0m5 0h0m63 0h0m2 0h0m2 0h0m1 0h0m2 0h0m8 0h0m14 0h0m2 0h0m70 0h0m1 0h0m8 0h0m17 0h0m1 0h0m97 0h0m3 0h0m1 0h0m1 0h0m86 0h0m1 0h0m6 0h0m1 0h0m1 0h0m2 0h0m2 0h0m1 0h0m-409 1h0m4 0h0m1 0h0m1 0h0m1 0h0m2 0h0m1 0h0m70 0h0m13 0h0m2 0h0m1 0h0m2 0h0m4 0h0m5 0h0m4 0h0m2 0h0m74 0h0m3 0h0m3 0h0m3 0h0m16 0h0m1 0h0m91 0h0m1 0h0m4 0h0m89 0h0m2 0h0m2 0h0m1 0h0m-404 1h0m5 0h0m1 0h0m9 0h0m61 0h0m6 0h0m2 0h0m1 0h0m1 0h0m5 0h0m1 0h0m5 0h0m7 0h0m4 0h0m2 0h0m4 0h0m72 0h0m2 0h0m4 0h0m3 0h0m11 0h0m6 0h0m86 0h0m6 0h0m6 0h0m86 0h0m8 0h0m2 0h0m-401 1h0m2 0h0m2 0h0m1 0h0m76 0h0m3 0h0m17 0h0m4 0h0m2 0h0m67 0h0m6 0h0m4 0h0m2 0h0m1 0h0m3 0h0m6 0h0m1 0h0m6 0h0m3 0h0m81 0h0m13 0h0m1 0h0m3 0h0m83 0h0m2 0h0m2 0h0m8 0h0m-398 1h0m3 0h0m3 0h0m2 0h0m73 0h0m2 0h0m2 0h0m91 0h0m6 0h0m2 0h0m9 0h0m1 0h0m1 0h0m1 0h0m2 0h0m1 0h0m3 0h0m6 0h0m94 0h0m3 0h0m83 0h0m12 0h0m-394 1h0m4 0h0m67 0h0m12 0h0m13 0h0m1 0h0m1 0h0m2 0h0m90 0h0m2 0h0m3 0h0m2 0h0m3 0h0m1 0h0m92 0h0m4 0h0m1 0h0m1 0h0m1 0h0m80 0h0m3 0h0m1 0h0m-391 1h0m1 0h0m9 0h0m81 0h0m12 0h0m5 0h0m1 0h0m66 0h0m1 0h0m16 0h0m2 0h0m1 0h0m1 0h0m8 0h0m3 0h0m92 0h0m2 0h0m3 0h0m2 0h0m1 0h0m79 0h0m3 0h0m2 0h0m6 0h0m2 0h0m1 0h0m2 0h0m-395 1h0m3 0h0m89 0h0m7 0h0m75 0h0m9 0h0m3 0h0m5 0h0m1 0h0m2 0h0m2 0h0m94 0h0m5 0h0m2 0h0m2 0h0m79 0h0m5 0h0m11 0h0m2 0h0m-398 1h0m1 0h0m1 0h0m1 0h0m2 0h0m93 0h0m77 0h0m12 0h0m5 0h0m2 0h0m1 0h0m1 0h0m2 0h0m3 0h0m1 0h0m181 0h0m-381 1h0m2 0h0m1 0h0m98 0h0m79 0h0m7 0h0m2 0h0m1 0h0m1 0h0m5 0h0m1 0h0m1 0h0m93 0h0m9 0h0m85 0h0m6 0h0m-394 1h0m1 0h0m3 0h0m180 0h0m3 0h0m1 0h0m4 0h0m3 0h0m3 0h0m1 0h0m100 0h0m81 0h0m1 0h0m-384 1h0m1 0h0m2 0h0m1 0h0m2 0h0m1 0h0m90 0h0m1 0h0m5 0h0m88 0h0m1 0h0m3 0h0m90 0h0m12 0h0m5 0h0m1 0h0m79 0h0m3 0h0m13 0h0m1 0h0m-395 1h0m4 0h0m88 0h0m95 0h0m2 0h0m93 0h0m3 0h0m10 0h0m3 0h0m1 0h0m1 0h0m78 0h0m6 0h0m8 0h0m5 0h0m-400 1h0m1 0h0m1 0h0m90 0h0m1 0h0m95 0h0m4 0h0m3 0h0m4 0h0m82 0h0m2 0h0m3 0h0m8 0h0m2 0h0m85 0h0m1 0h0m1 0h0m1 0h0m7 0h0m2 0h0m4 0h0m2 0h0m-394 1h0m91 0h0m3 0h0m88 0h0m6 0h0m2 0h0m1 0h0m88 0h0m15 0h0m1 0h0m81 0h0m1 0h0m1 0h0m1 0h0m5 0h0m7 0h0m3 0h0m-398 1h0m3 0h0m2 0h0m1 0h0m87 0h0m98 0h0m2 0h0m1 0h0m87 0h0m5 0h0m3 0h0m90 0h0m1 0h0m6 0h0m7 0h0m1 0h0m-301 1h0m2 0h0m2 0h0m91 0h0m90 0h0m3 0h0m5 0h0m2 0h0m1 0h0m7 0h0m1 0h0m2 0h0m92 0h0m4 0h0m-396 1h0m2 0h0m1 0h0m2 0h0m88 0h0m93 0h0m1 0h0m2 0h0m2 0h0m2 0h0m4 0h0m86 0h0m1 0h0m3 0h0m10 0h0m85 0h0m12 0h0m-394 1h0m1 0h0m97 0h0m1 0h0m88 0h0m1 0h0m2 0h0m3 0h0m92 0h0m6 0h0m101 0h0m-390 1h0m1 0h0m1 0h0m2 0h0m1 0h0m85 0h0m1 0h0m6 0h0m96 0h0m85 0h0m2 0h0m3 0h0m3 0h0m91 0h0m1 0h0m2 0h0m1 0h0m1 0h0m4 0h0m6 0h0m1 0h0m-301 1h0m100 0h0m89 0h0m99 0h0m1 0h0m11 0h0m-394 1h0m92 0h0m4 0h0m1 0h0m1 0h0m184 0h0m6 0h0m95 0h0m4 0h0m2 0h0m5 0h0m-396 1h0m3 0h0m1 0h0m91 0h0m2 0h0m91 0h0m4 0h0m4 0h0m88 0h0m5 0h0m12 0h0m82 0h0m2 0h0m3 0h0m1 0h0m4 0h0m-300 1h0m8 0h0m92 0h0m95 0h0m94 0h0m2 0h0m1 0h0m1 0h0m-384 1h0m91 0h0m1 0h0m4 0h0m1 0h0m94 0h0m2 0h0m93 0h0m1 0h0m103 0h0m-205 1h0m2 0h0m1 0h0m4 0h0m92 0h0m100 0h0m-288 1h0m1 0h0m95 0h0m92 0h0m3 0h0m100 0h0m1 0h0m-296 1h0m3 0h0m91 0h0m1 0h0m3 0h0m92 0h0m1 0h0m1 0h0m2 0h0m94 0h0m1 0h0m1 0h0m3 0h0m1 0h0m1 0h0m-294 1h0m94 0h0m97 0h0m2 0h0m97 0h0m-289 1h0m1 0h0m187 1h0m0 1h0"/>
<path stroke="#262626" d="M112 36h0m-5 1h0m5 2h0m0 2h0m-6 1h0m1 0h0m2 0h0m2 0h0m2 0h0m1 0h0m-10 1h0m4 0h0m4 0h0m1 0h0m1 0h0m-11 1h0m1 0h0m2 0h0m1 0h0m1 0h0m1 0h0m4 0h0m-10 1h0m1 0h0m1 0h0m5 0h0m7 0h0m374 0h0m-389 1h0m2 0h0m1 0h0m1 0h0m4 0h0m384 0h0m-394 1h0m1 0h0m1 0h0m1 0h0m1 0h0m1 0h0m1 0h0m1 0h0m1 0h0m4 0h0m377 0h0m-391 1h0m4 0h0m1 0h0m1 0h0m1 0h0m2 0h0m1 0h0m1 0h0m1 0h0m1 0h0m190 0h0m94 0h0m94 0h0m2 0h0m1 0h0m-392 1h0m1 0h0m2 0h0m1 0h0m1 0h0m1 0h0m1 0h0m1 0h0m2 0h0m380 0h0m1 0h0m1 0h0m-393 1h0m1 0h0m1 0h0m1 0h0m1 0h0m2 0h0m1 0h0m1 0h0m2 0h0m189 0h0m189 0h0m3 0h0m1 0h0m1 0h0m1 0h0m-394 1h0m2 0h0m1 0h0m1 0h0m1 0h0m1 0h0m4 0h0m1 0h0m188 0h0m1 0h0m90 0h0m97 0h0m1 0h0m1 0h0m1 0h0m3 0h0m-392 1h0m2 0h0m1 0h0m1 0h0m5 0h0m285 0h0m94 0h0m4 0h0m-398 1h0m7 0h0m1 0h0m2 0h0m1 0h0m5 0h0m185 0h0m-197 1h0m1 0h0m2 0h0m1 0h0m1 0h0m2 0h0m187 0h0m5 0h0m1 0h0m93 0h0m3 0h0m-296 1h0m1 0h0m2 0h0m2 0h0m1 0h0m1 0h0m187 0h0m8 0h0m-200 1h0m2 0h0m2 0h0m284 0h0m117 0h0m-407 1h0m5 0h0m1 0h0m1 0h0m179 0h0m5 0h0m105 0h0m95 0h0m-387 1h0m1 0h0m189 0h0m99 0h0m6 0h0m104 0h0m-405 1h0m5 0h0m1 0h0m3 0h0m184 0h0m6 0h0m106 0h0m6 0h0m94 0h0m1 0h0m-404 1h0m200 0h0m203 0h0m2 0h0m2 0h0m-407 1h0m190 0h0m4 0h0m113 0h0m93 0h0m1 0h0m5 0h0m-406 1h0m1 0h0m195 0h0m108 0h0m1 0h0m1 0h0m2 0h0m2 0h0m91 0h0m1 0h0m1 0h0m2 0h0m1 0h0m-103 1h0m2 0h0m1 0h0m2 0h0m92 0h0m1 0h0m1 0h0m1 0h0m1 0h0m-399 1h0m191 0h0m107 0h0m1 0h0m1 0h0m1 0h0m1 0h0m1 0h0m90 0h0m1 0h0m1 0h0m2 0h0m2 0h0m1 0h0m1 0h0m-219 1h0m8 0h0m2 0h0m92 0h0m10 0h0m1 0h0m1 0h0m1 0h0m3 0h0m3 0h0m1 0h0m89 0h0m1 0h0m1 0h0m1 0h0m3 0h0m1 0h0m1 0h0m-391 1h0m5 0h0m284 0h0m1 0h0m1 0h0m1 0h0m1 0h0m1 0h0m1 0h0m1 0h0m1 0h0m85 0h0m1 0h0m1 0h0m1 0h0m1 0h0m1 0h0m1 0h0m3 0h0m1 0h0m-407 1h0m14 0h0m2 0h0m1 0h0m3 0h0m91 0h0m93 0h0m4 0h0m1 0h0m1 0h0m3 0h0m88 0h0m1 0h0m1 0h0m1 0h0m1 0h0m1 0h0m1 0h0m3 0h0m1 0h0m85 0h0m1 0h0m1 0h0m1 0h0m1 0h0m1 0h0m1 0h0m1 0h0m1 0h0m1 0h0m-391 1h0m1 0h0m1 0h0m2 0h0m1 0h0m90 0h0m1 0h0m1 0h0m71 0h0m22 0h0m3 0h0m1 0h0m2 0h0m89 0h0m3 0h0m1 0h0m2 0h0m3 0h0m1 0h0m87 0h0m1 0h0m1 0h0m1 0h0m1 0h0m1 0h0m1 0h0m1 0h0m1 0h0m1 0h0m-408 1h0m15 0h0m2 0h0m1 0h0m77 0h0m98 0h0m14 0h0m1 0h0m2 0h0m1 0h0m2 0h0m2 0h0m87 0h0m1 0h0m1 0h0m1 0h0m1 0h0m3 0h0m1 0h0m1 0h0m1 0h0m1 0h0m1 0h0m84 0h0m1 0h0m1 0h0m1 0h0m1 0h0m1 0h0m1 0h0m1 0h0m1 0h0m1 0h0m1 0h0m1 0h0m-396 1h0m2 0h0m1 0h0m1 0h0m1 0h0m1 0h0m1 0h0m95 0h0m77 0h0m15 0h0m1 0h0m1 0h0m3 0h0m1 0h0m3 0h0m64 0h0m18 0h0m6 0h0m1 0h0m1 0h0m2 0h0m1 0h0m1 0h0m1 0h0m86 0h0m1 0h0m2 0h0m1 0h0m1 0h0m1 0h0m1 0h0m1 0h0m1 0h0m1 0h0m1 0h0m-397 1h0m2 0h0m4 0h0m1 0h0m2 0h0m1 0h0m71 0h0m1 0h0m18 0h0m1 0h0m1 0h0m87 0h0m5 0h0m2 0h0m1 0h0m1 0h0m1 0h0m1 0h0m1 0h0m1 0h0m67 0h0m3 0h0m17 0h0m2 0h0m2 0h0m1 0h0m1 0h0m1 0h0m1 0h0m1 0h0m1 0h0m2 0h0m2 0h0m83 0h0m1 0h0m1 0h0m1 0h0m1 0h0m1 0h0m1 0h0m1 0h0m1 0h0m1 0h0m1 0h0m1 0h0m-397 1h0m5 0h0m1 0h0m3 0h0m77 0h0m13 0h0m1 0h0m1 0h0m2 0h0m1 0h0m1 0h0m89 0h0m3 0h0m1 0h0m1 0h0m1 0h0m1 0h0m1 0h0m78 0h0m7 0h0m2 0h0m2 0h0m1 0h0m1 0h0m1 0h0m1 0h0m1 0h0m1 0h0m1 0h0m1 0h0m2 0h0m85 0h0m1 0h0m1 0h0m1 0h0m1 0h0m1 0h0m1 0h0m1 0h0m1 0h0m1 0h0m1 0h0m-397 1h0m1 0h0m1 0h0m1 0h0m3 0h0m2 0h0m1 0h0m1 0h0m67 0h0m9 0h0m1 0h0m13 0h0m1 0h0m2 0h0m1 0h0m1 0h0m1 0h0m86 0h0m1 0h0m3 0h0m1 0h0m1 0h0m1 0h0m1 0h0m1 0h0m2 0h0m2 0h0m86 0h0m2 0h0m1 0h0m1 0h0m1 0h0m1 0h0m1 0h0m1 0h0m1 0h0m3 0h0m82 0h0m1 0h0m1 0h0m1 0h0m1 0h0m1 0h0m1 0h0m1 0h0m1 0h0m1 0h0m1 0h0m-397 1h0m2 0h0m1 0h0m1 0h0m1 0h0m1 0h0m1 0h0m1 0h0m2 0h0m2 0h0m68 0h0m2 0h0m1 0h0m2 0h0m1 0h0m4 0h0m10 0h0m2 0h0m2 0h0m1 0h0m1 0h0m90 0h0m4 0h0m1 0h0m1 0h0m2 0h0m83 0h0m2 0h0m1 0h0m2 0h0m2 0h0m1 0h0m1 0h0m1 0h0m1 0h0m1 0h0m1 0h0m1 0h0m2 0h0m4 0h0m81 0h0m1 0h0m1 0h0m1 0h0m1 0h0m1 0h0m1 0h0m1 0h0m1 0h0m1 0h0m1 0h0m-400 1h0m1 0h0m3 0h0m1 0h0m1 0h0m2 0h0m1 0h0m4 0h0m68 0h0m6 0h0m3 0h0m12 0h0m1 0h0m1 0h0m1 0h0m3 0h0m1 0h0m86 0h0m2 0h0m1 0h0m1 0h0m1 0h0m1 0h0m1 0h0m1 0h0m1 0h0m1 0h0m2 0h0m1 0h0m84 0h0m1 0h0m1 0h0m1 0h0m1 0h0m1 0h0m1 0h0m2 0h0m1 0h0m2 0h0m1 0h0m3 0h0m84 0h0m1 0h0m1 0h0m1 0h0m1 0h0m1 0h0m1 0h0m1 0h0m1 0h0m-397 1h0m1 0h0m1 0h0m1 0h0m1 0h0m1 0h0m1 0h0m1 0h0m1 0h0m1 0h0m2 0h0m68 0h0m2 0h0m2 0h0m2 0h0m17 0h0m1 0h0m1 0h0m1 0h0m1 0h0m69 0h0m1 0h0m18 0h0m3 0h0m1 0h0m1 0h0m1 0h0m2 0h0m1 0h0m2 0h0m76 0h0m7 0h0m3 0h0m1 0h0m1 0h0m1 0h0m1 0h0m1 0h0m1 0h0m1 0h0m1 0h0m1 0h0m1 0h0m1 0h0m1 0h0m1 0h0m82 0h0m1 0h0m1 0h0m1 0h0m1 0h0m1 0h0m1 0h0m1 0h0m1 0h0m1 0h0m1 0h0m1 0h0m1 0h0m-398 1h0m1 0h0m1 0h0m1 0h0m1 0h0m1 0h0m3 0h0m1 0h0m66 0h0m1 0h0m3 0h0m1 0h0m2 0h0m1 0h0m4 0h0m1 0h0m13 0h0m2 0h0m1 0h0m1 0h0m70 0h0m1 0h0m19 0h0m1 0h0m2 0h0m1 0h0m1 0h0m2 0h0m1 0h0m2 0h0m61 0h0m2 0h0m22 0h0m1 0h0m1 0h0m1 0h0m1 0h0m1 0h0m1 0h0m1 0h0m1 0h0m1 0h0m3 0h0m1 0h0m1 0h0m81 0h0m1 0h0m1 0h0m1 0h0m1 0h0m1 0h0m1 0h0m1 0h0m1 0h0m1 0h0m3 0h0m-399 1h0m1 0h0m1 0h0m1 0h0m1 0h0m1 0h0m1 0h0m1 0h0m1 0h0m2 0h0m1 0h0m1 0h0m65 0h0m2 0h0m1 0h0m2 0h0m1 0h0m1 0h0m1 0h0m18 0h0m1 0h0m3 0h0m66 0h0m1 0h0m1 0h0m19 0h0m3 0h0m1 0h0m1 0h0m2 0h0m1 0h0m1 0h0m2 0h0m60 0h0m10 0h0m14 0h0m5 0h0m1 0h0m1 0h0m1 0h0m1 0h0m1 0h0m1 0h0m3 0h0m83 0h0m1 0h0m2 0h0m1 0h0m1 0h0m1 0h0m1 0h0m1 0h0m1 0h0m1 0h0m1 0h0m1 0h0m-398 1h0m1 0h0m1 0h0m1 0h0m1 0h0m1 0h0m1 0h0m1 0h0m1 0h0m1 0h0m2 0h0m65 0h0m1 0h0m2 0h0m1 0h0m1 0h0m3 0h0m1 0h0m2 0h0m17 0h0m2 0h0m1 0h0m66 0h0m20 0h0m2 0h0m1 0h0m1 0h0m3 0h0m2 0h0m90 0h0m1 0h0m1 0h0m1 0h0m1 0h0m2 0h0m1 0h0m1 0h0m1 0h0m1 0h0m1 0h0m1 0h0m1 0h0m82 0h0m2 0h0m1 0h0m1 0h0m1 0h0m1 0h0m1 0h0m1 0h0m1 0h0m1 0h0m1 0h0m-397 1h0m2 0h0m1 0h0m1 0h0m2 0h0m1 0h0m1 0h0m2 0h0m62 0h0m3 0h0m1 0h0m1 0h0m1 0h0m1 0h0m1 0h0m1 0h0m1 0h0m2 0h0m1 0h0m1 0h0m17 0h0m1 0h0m90 0h0m2 0h0m1 0h0m1 0h0m1 0h0m1 0h0m2 0h0m65 0h0m4 0h0m17 0h0m2 0h0m1 0h0m1 0h0m1 0h0m1 0h0m1 0h0m1 0h0m1 0h0m1 0h0m1 0h0m1 0h0m2 0h0m1 0h0m82 0h0m1 0h0m2 0h0m1 0h0m1 0h0m1 0h0m1 0h0m1 0h0m1 0h0m1 0h0m1 0h0m1 0h0m-402 1h0m4 0h0m1 0h0m1 0h0m1 0h0m1 0h0m1 0h0m1 0h0m1 0h0m1 0h0m1 0h0m1 0h0m1 0h0m63 0h0m1 0h0m1 0h0m1 0h0m1 0h0m1 0h0m2 0h0m1 0h0m21 0h0m1 0h0m3 0h0m90 0h0m1 0h0m3 0h0m1 0h0m65 0h0m24 0h0m3 0h0m1 0h0m1 0h0m1 0h0m1 0h0m1 0h0m1 0h0m1 0h0m4 0h0m80 0h0m1 0h0m1 0h0m1 0h0m1 0h0m1 0h0m1 0h0m1 0h0m1 0h0m1 0h0m1 0h0m-394 1h0m1 0h0m1 0h0m1 0h0m1 0h0m3 0h0m66 0h0m1 0h0m1 0h0m3 0h0m2 0h0m1 0h0m1 0h0m4 0h0m14 0h0m5 0h0m69 0h0m16 0h0m2 0h0m2 0h0m1 0h0m1 0h0m2 0h0m3 0h0m87 0h0m4 0h0m1 0h0m1 0h0m1 0h0m1 0h0m2 0h0m1 0h0m84 0h0m2 0h0m1 0h0m1 0h0m1 0h0m1 0h0m1 0h0m1 0h0m1 0h0m1 0h0m1 0h0m-394 1h0m1 0h0m1 0h0m1 0h0m3 0h0m64 0h0m2 0h0m1 0h0m1 0h0m1 0h0m1 0h0m1 0h0m1 0h0m1 0h0m1 0h0m1 0h0m22 0h0m63 0h0m1 0h0m1 0h0m3 0h0m22 0h0m2 0h0m1 0h0m2 0h0m64 0h0m6 0h0m25 0h0m1 0h0m2 0h0m2 0h0m1 0h0m1 0h0m85 0h0m1 0h0m1 0h0m1 0h0m1 0h0m1 0h0m1 0h0m1 0h0m1 0h0m3 0h0m-410 1h0m11 0h0m1 0h0m3 0h0m3 0h0m2 0h0m63 0h0m2 0h0m1 0h0m1 0h0m1 0h0m1 0h0m1 0h0m1 0h0m1 0h0m1 0h0m2 0h0m1 0h0m19 0h0m4 0h0m68 0h0m17 0h0m3 0h0m2 0h0m6 0h0m87 0h0m2 0h0m1 0h0m2 0h0m1 0h0m1 0h0m1 0h0m1 0h0m1 0h0m1 0h0m1 0h0m84 0h0m1 0h0m1 0h0m1 0h0m1 0h0m1 0h0m1 0h0m1 0h0m2 0h0m1 0h0m-412 1h0m15 0h0m8 0h0m63 0h0m1 0h0m2 0h0m1 0h0m3 0h0m1 0h0m1 0h0m3 0h0m1 0h0m20 0h0m61 0h0m4 0h0m4 0h0m23 0h0m2 0h0m1 0h0m68 0h0m23 0h0m1 0h0m3 0h0m1 0h0m1 0h0m1 0h0m1 0h0m1 0h0m2 0h0m88 0h0m1 0h0m1 0h0m1 0h0m2 0h0m1 0h0m1 0h0m-397 1h0m1 0h0m3 0h0m3 0h0m65 0h0m1 0h0m1 0h0m1 0h0m1 0h0m1 0h0m1 0h0m1 0h0m2 0h0m22 0h0m101 0h0m63 0h0m5 0h0m25 0h0m1 0h0m3 0h0m1 0h0m86 0h0m1 0h0m1 0h0m1 0h0m1 0h0m1 0h0m2 0h0m2 0h0m-413 1h0m23 0h0m65 0h0m1 0h0m1 0h0m1 0h0m1 0h0m1 0h0m1 0h0m1 0h0m124 0h0m72 0h0m24 0h0m90 0h0m3 0h0m1 0h0m1 0h0m2 0h0m-326 1h0m2 0h0m1 0h0m1 0h0m1 0h0m3 0h0m1 0h0m1 0h0m1 0h0m84 0h0m5 0h0m23 0h0m197 0h0m1 0h0m3 0h0m-412 1h0m89 0h0m1 0h0m1 0h0m1 0h0m1 0h0m1 0h0m1 0h0m1 0h0m90 0h0m2 0h0m1 0h0m24 0h0m194 0h0m2 0h0m1 0h0m-322 1h0m2 0h0m1 0h0m1 0h0m1 0h0m1 0h0m2 0h0m2 0h0m90 0h0m1 0h0m216 0h0m1 0h0m1 0h0m-323 1h0m2 0h0m1 0h0m1 0h0m2 0h0m3 0h0m1 0h0m1 0h0m87 0h0m4 0h0m1 0h0m219 0h0m1 0h0m-321 1h0m1 0h0m4 0h0m1 0h0m4 0h0m90 0h0m221 0h0m-325 1h0m2 0h0m5 0h0m2 0h0m-7 1h0m6 0h0m1 0h0m-5 1h0m1 0h0m1 0h0m1 0h0m-5 1h0m7 0h0m-56 34h0m6 0h0m-11 1h0m4 0h0m1 0h0m4 0h0m-7 1h0m1 0h0m1 0h0m3 0h0m2 0h0m-11 1h0m5 0h0m3 0h0m1 0h0m1 0h0m1 0h0m376 0h0m4 0h0m-391 1h0m1 0h0m3 0h0m2 0h0m1 0h0m1 0h0m-7 1h0m1 0h0m1 0h0m2 0h0m1 0h0m1 0h0m2 0h0m1 0h0m1 0h0m373 0h0m2 0h0m3 0h0m-395 1h0m1 0h0m1 0h0m3 0h0m1 0h0m1 0h0m1 0h0m1 0h0m3 0h0m1 0h0m1 0h0m2 0h0m95 0h0m185 0h0m3 0h0m93 0h0m5 0h0m1 0h0m1 0h0m-399 1h0m1 0h0m1 0h0m1 0h0m1 0h0m1 0h0m1 0h0m1 0h0m1 0h0m1 0h0m1 0h0m1 0h0m2 0h0m1 0h0m1 0h0m1 0h0m93 0h0m178 0h0m2 0h0m1 0h0m1 0h0m1 0h0m2 0h0m1 0h0m2 0h0m1 0h0m1 0h0m3 0h0m87 0h0m1 0h0m1 0h0m1 0h0m2 0h0m1 0h0m1 0h0m1 0h0m3 0h0m-402 1h0m1 0h0m1 0h0m1 0h0m2 0h0m1 0h0m2 0h0m1 0h0m1 0h0m1 0h0m1 0h0m1 0h0m1 0h0m1 0h0m1 0h0m1 0h0m3 0h0m89 0h0m1 0h0m1 0h0m1 0h0m96 0h0m2 0h0m82 0h0m1 0h0m1 0h0m2 0h0m1 0h0m2 0h0m1 0h0m1 0h0m90 0h0m2 0h0m1 0h0m1 0h0m1 0h0m3 0h0m1 0h0m6 0h0m-407 1h0m1 0h0m1 0h0m1 0h0m2 0h0m1 0h0m1 0h0m1 0h0m1 0h0m1 0h0m1 0h0m1 0h0m1 0h0m1 0h0m1 0h0m1 0h0m1 0h0m3 0h0m88 0h0m1 0h0m1 0h0m2 0h0m95 0h0m1 0h0m83 0h0m1 0h0m1 0h0m1 0h0m2 0h0m2 0h0m3 0h0m1 0h0m2 0h0m86 0h0m2 0h0m1 0h0m1 0h0m1 0h0m1 0h0m1 0h0m3 0h0m-401 1h0m1 0h0m5 0h0m2 0h0m1 0h0m1 0h0m1 0h0m2 0h0m1 0h0m1 0h0m1 0h0m1 0h0m1 0h0m1 0h0m3 0h0m87 0h0m1 0h0m2 0h0m2 0h0m1 0h0m1 0h0m2 0h0m80 0h0m8 0h0m85 0h0m2 0h0m3 0h0m1 0h0m1 0h0m1 0h0m1 0h0m1 0h0m2 0h0m2 0h0m2 0h0m1 0h0m80 0h0m3 0h0m3 0h0m1 0h0m1 0h0m1 0h0m1 0h0m2 0h0m1 0h0m1 0h0m-405 1h0m3 0h0m1 0h0m1 0h0m1 0h0m1 0h0m1 0h0m1 0h0m1 0h0m1 0h0m1 0h0m1 0h0m1 0h0m1 0h0m1 0h0m1 0h0m3 0h0m2 0h0m2 0h0m180 0h0m3 0h0m4 0h0m1 0h0m79 0h0m1 0h0m3 0h0m1 0h0m2 0h0m3 0h0m1 0h0m1 0h0m2 0h0m1 0h0m3 0h0m86 0h0m2 0h0m1 0h0m3 0h0m1 0h0m1 0h0m1 0h0m1 0h0m-404 1h0m2 0h0m2 0h0m1 0h0m1 0h0m3 0h0m1 0h0m1 0h0m1 0h0m1 0h0m1 0h0m1 0h0m1 0h0m1 0h0m4 0h0m87 0h0m2 0h0m1 0h0m1 0h0m2 0h0m1 0h0m2 0h0m2 0h0m79 0h0m1 0h0m4 0h0m1 0h0m5 0h0m81 0h0m1 0h0m1 0h0m1 0h0m1 0h0m1 0h0m1 0h0m2 0h0m1 0h0m1 0h0m1 0h0m1 0h0m1 0h0m1 0h0m1 0h0m3 0h0m84 0h0m1 0h0m1 0h0m1 0h0m1 0h0m1 0h0m1 0h0m1 0h0m-399 1h0m1 0h0m1 0h0m1 0h0m1 0h0m1 0h0m1 0h0m1 0h0m1 0h0m1 0h0m1 0h0m1 0h0m1 0h0m1 0h0m1 0h0m1 0h0m2 0h0m1 0h0m1 0h0m2 0h0m83 0h0m1 0h0m1 0h0m2 0h0m3 0h0m3 0h0m2 0h0m81 0h0m1 0h0m1 0h0m1 0h0m1 0h0m1 0h0m4 0h0m4 0h0m2 0h0m77 0h0m2 0h0m1 0h0m2 0h0m1 0h0m1 0h0m1 0h0m1 0h0m1 0h0m1 0h0m1 0h0m1 0h0m1 0h0m2 0h0m1 0h0m2 0h0m83 0h0m2 0h0m3 0h0m1 0h0m1 0h0m1 0h0m1 0h0m3 0h0m-404 1h0m1 0h0m1 0h0m1 0h0m2 0h0m1 0h0m1 0h0m1 0h0m1 0h0m1 0h0m2 0h0m1 0h0m1 0h0m1 0h0m1 0h0m2 0h0m1 0h0m2 0h0m1 0h0m82 0h0m7 0h0m1 0h0m1 0h0m1 0h0m1 0h0m83 0h0m3 0h0m1 0h0m1 0h0m1 0h0m1 0h0m1 0h0m1 0h0m1 0h0m1 0h0m1 0h0m81 0h0m1 0h0m1 0h0m1 0h0m1 0h0m1 0h0m1 0h0m1 0h0m1 0h0m1 0h0m1 0h0m3 0h0m2 0h0m1 0h0m84 0h0m4 0h0m1 0h0m1 0h0m2 0h0m1 0h0m1 0h0m1 0h0m1 0h0m-402 1h0m2 0h0m2 0h0m1 0h0m1 0h0m1 0h0m1 0h0m1 0h0m1 0h0m1 0h0m1 0h0m1 0h0m1 0h0m1 0h0m1 0h0m84 0h0m7 0h0m1 0h0m3 0h0m1 0h0m1 0h0m1 0h0m80 0h0m5 0h0m2 0h0m3 0h0m1 0h0m2 0h0m1 0h0m1 0h0m1 0h0m1 0h0m3 0h0m74 0h0m1 0h0m2 0h0m1 0h0m1 0h0m1 0h0m1 0h0m1 0h0m1 0h0m1 0h0m1 0h0m1 0h0m1 0h0m1 0h0m1 0h0m83 0h0m3 0h0m2 0h0m3 0h0m1 0h0m1 0h0m1 0h0m1 0h0m1 0h0m1 0h0m-400 1h0m1 0h0m1 0h0m1 0h0m1 0h0m1 0h0m2 0h0m1 0h0m1 0h0m1 0h0m1 0h0m1 0h0m1 0h0m1 0h0m1 0h0m1 0h0m2 0h0m82 0h0m2 0h0m1 0h0m1 0h0m1 0h0m1 0h0m1 0h0m1 0h0m2 0h0m3 0h0m82 0h0m5 0h0m1 0h0m1 0h0m1 0h0m1 0h0m1 0h0m1 0h0m1 0h0m84 0h0m3 0h0m1 0h0m1 0h0m1 0h0m1 0h0m1 0h0m1 0h0m2 0h0m2 0h0m89 0h0m2 0h0m1 0h0m2 0h0m2 0h0m-402 1h0m2 0h0m2 0h0m2 0h0m1 0h0m1 0h0m1 0h0m1 0h0m1 0h0m1 0h0m1 0h0m1 0h0m1 0h0m2 0h0m80 0h0m8 0h0m2 0h0m1 0h0m1 0h0m2 0h0m1 0h0m1 0h0m1 0h0m1 0h0m81 0h0m2 0h0m2 0h0m1 0h0m1 0h0m1 0h0m1 0h0m1 0h0m3 0h0m1 0h0m79 0h0m4 0h0m1 0h0m1 0h0m1 0h0m1 0h0m4 0h0m1 0h0m2 0h0m2 0h0m3 0h0m90 0h0m1 0h0m2 0h0m-403 1h0m4 0h0m1 0h0m1 0h0m1 0h0m1 0h0m1 0h0m2 0h0m1 0h0m2 0h0m1 0h0m1 0h0m1 0h0m1 0h0m3 0h0m81 0h0m2 0h0m1 0h0m2 0h0m2 0h0m1 0h0m3 0h0m2 0h0m85 0h0m1 0h0m1 0h0m2 0h0m1 0h0m1 0h0m1 0h0m1 0h0m1 0h0m3 0h0m4 0h0m79 0h0m2 0h0m4 0h0m1 0h0m2 0h0m-304 1h0m7 0h0m3 0h0m1 0h0m1 0h0m1 0h0m2 0h0m1 0h0m1 0h0m1 0h0m1 0h0m80 0h0m1 0h0m2 0h0m2 0h0m4 0h0m1 0h0m3 0h0m1 0h0m3 0h0m81 0h0m3 0h0m2 0h0m1 0h0m1 0h0m1 0h0m1 0h0m1 0h0m1 0h0m1 0h0m2 0h0m2 0h0m81 0h0m2 0h0m1 0h0m2 0h0m2 0h0m2 0h0m3 0h0m90 0h0m-395 1h0m1 0h0m3 0h0m1 0h0m1 0h0m2 0h0m1 0h0m1 0h0m1 0h0m2 0h0m1 0h0m1 0h0m1 0h0m82 0h0m2 0h0m1 0h0m1 0h0m3 0h0m1 0h0m1 0h0m1 0h0m1 0h0m1 0h0m1 0h0m83 0h0m1 0h0m1 0h0m1 0h0m1 0h0m1 0h0m1 0h0m1 0h0m1 0h0m1 0h0m1 0h0m1 0h0m1 0h0m1 0h0m1 0h0m1 0h0m3 0h0m78 0h0m6 0h0m1 0h0m2 0h0m1 0h0m1 0h0m1 0h0m-298 1h0m1 0h0m1 0h0m1 0h0m1 0h0m2 0h0m1 0h0m1 0h0m1 0h0m1 0h0m4 0h0m78 0h0m2 0h0m2 0h0m2 0h0m1 0h0m1 0h0m1 0h0m1 0h0m2 0h0m1 0h0m1 0h0m3 0h0m82 0h0m2 0h0m2 0h0m1 0h0m2 0h0m1 0h0m1 0h0m3 0h0m3 0h0m87 0h0m-294 1h0m3 0h0m1 0h0m3 0h0m1 0h0m85 0h0m1 0h0m1 0h0m1 0h0m3 0h0m1 0h0m1 0h0m1 0h0m1 0h0m1 0h0m1 0h0m1 0h0m1 0h0m1 0h0m1 0h0m83 0h0m1 0h0m1 0h0m2 0h0m2 0h0m1 0h0m1 0h0m8 0h0m83 0h0m-293 1h0m1 0h0m4 0h0m5 0h0m1 0h0m84 0h0m1 0h0m1 0h0m1 0h0m1 0h0m1 0h0m1 0h0m1 0h0m1 0h0m1 0h0m1 0h0m1 0h0m4 0h0m81 0h0m1 0h0m1 0h0m1 0h0m3 0h0m2 0h0m1 0h0m2 0h0m1 0h0m4 0h0m5 0h0m-212 1h0m3 0h0m1 0h0m6 0h0m1 0h0m4 0h0m76 0h0m1 0h0m3 0h0m1 0h0m2 0h0m1 0h0m1 0h0m1 0h0m1 0h0m1 0h0m1 0h0m1 0h0m2 0h0m2 0h0m87 0h0m1 0h0m1 0h0m1 0h0m1 0h0m2 0h0m1 0h0m2 0h0m2 0h0m5 0h0m-214 1h0m5 0h0m2 0h0m2 0h0m2 0h0m1 0h0m8 0h0m78 0h0m1 0h0m1 0h0m1 0h0m1 0h0m3 0h0m1 0h0m1 0h0m1 0h0m1 0h0m85 0h0m2 0h0m1 0h0m1 0h0m3 0h0m1 0h0m2 0h0m1 0h0m1 0h0m1 0h0m1 0h0m1 0h0m109 0h0m-307 1h0m81 0h0m2 0h0m1 0h0m2 0h0m1 0h0m2 0h0m1 0h0m2 0h0m1 0h0m1 0h0m2 0h0m2 0h0m1 0h0m14 0h0m72 0h0m1 0h0m1 0h0m2 0h0m2 0h0m3 0h0m1 0h0m2 0h0m2 0h0m-118 1h0m3 0h0m1 0h0m1 0h0m1 0h0m1 0h0m1 0h0m1 0h0m1 0h0m1 0h0m1 0h0m2 0h0m1 0h0m1 0h0m1 0h0m1 0h0m1 0h0m3 0h0m8 0h0m3 0h0m71 0h0m2 0h0m2 0h0m1 0h0m1 0h0m2 0h0m1 0h0m1 0h0m1 0h0m8 0h0m4 0h0m97 0h0m-225 1h0m3 0h0m1 0h0m3 0h0m1 0h0m1 0h0m2 0h0m2 0h0m2 0h0m4 0h0m1 0h0m1 0h0m8 0h0m2 0h0m76 0h0m1 0h0m3 0h0m3 0h0m2 0h0m5 0h0m5 0h0m1 0h0m-126 1h0m3 0h0m2 0h0m1 0h0m1 0h0m1 0h0m2 0h0m1 0h0m2 0h0m1 0h0m1 0h0m4 0h0m1 0h0m10 0h0m1 0h0m1 0h0m1 0h0m69 0h0m1 0h0m2 0h0m1 0h0m4 0h0m1 0h0m1 0h0m14 0h0m1 0h0m1 0h0m3 0h0m187 0h0m-398 1h0m1 0h0m8 0h0m1 0h0m70 0h0m1 0h0m1 0h0m1 0h0m1 0h0m2 0h0m2 0h0m1 0h0m1 0h0m2 0h0m16 0h0m75 0h0m3 0h0m1 0h0m3 0h0m11 0h0m1 0h0m1 0h0m1 0h0m2 0h0m2 0h0m1 0h0m96 0h0m1 0h0m91 0h0m2 0h0m3 0h0m-396 1h0m2 0h0m3 0h0m76 0h0m3 0h0m1 0h0m1 0h0m16 0h0m1 0h0m1 0h0m2 0h0m74 0h0m1 0h0m17 0h0m1 0h0m1 0h0m1 0h0m1 0h0m95 0h0m2 0h0m1 0h0m91 0h0m3 0h0m-397 1h0m5 0h0m3 0h0m1 0h0m73 0h0m5 0h0m1 0h0m1 0h0m16 0h0m3 0h0m1 0h0m78 0h0m1 0h0m12 0h0m3 0h0m3 0h0m1 0h0m91 0h0m3 0h0m3 0h0m85 0h0m2 0h0m1 0h0m1 0h0m1 0h0m1 0h0m1 0h0m-314 1h0m22 0h0m2 0h0m1 0h0m2 0h0m69 0h0m5 0h0m14 0h0m3 0h0m3 0h0m1 0h0m2 0h0m1 0h0m93 0h0m1 0h0m2 0h0m1 0h0m85 0h0m2 0h0m1 0h0m1 0h0m1 0h0m1 0h0m1 0h0m1 0h0m-390 1h0m75 0h0m1 0h0m116 0h0m3 0h0m2 0h0m1 0h0m95 0h0m1 0h0m1 0h0m89 0h0m1 0h0m1 0h0m1 0h0m1 0h0m1 0h0m3 0h0m-201 1h0m1 0h0m1 0h0m1 0h0m1 0h0m2 0h0m1 0h0m96 0h0m1 0h0m2 0h0m85 0h0m2 0h0m1 0h0m1 0h0m1 0h0m1 0h0m-387 1h0m187 0h0m6 0h0m2 0h0m1 0h0m96 0h0m2 0h0m2 0h0m83 0h0m1 0h0m2 0h0m1 0h0m1 0h0m1 0h0m1 0h0m1 0h0m1 0h0m1 0h0m1 0h0m-395 1h0m5 0h0m185 0h0m8 0h0m2 0h0m1 0h0m95 0h0m1 0h0m1 0h0m1 0h0m1 0h0m1 0h0m81 0h0m1 0h0m2 0h0m1 0h0m1 0h0m1 0h0m1 0h0m1 0h0m1 0h0m1 0h0m1 0h0m1 0h0m1 0h0m1 0h0m-207 1h0m2 0h0m106 0h0m1 0h0m1 0h0m1 0h0m2 0h0m80 0h0m1 0h0m1 0h0m1 0h0m1 0h0m1 0h0m2 0h0m1 0h0m1 0h0m1 0h0m1 0h0m2 0h0m-393 1h0m1 0h0m187 0h0m1 0h0m3 0h0m102 0h0m1 0h0m1 0h0m2 0h0m82 0h0m1 0h0m1 0h0m1 0h0m1 0h0m1 0h0m1 0h0m1 0h0m1 0h0m1 0h0m1 0h0m1 0h0m2 0h0m-393 1h0m189 0h0m2 0h0m1 0h0m1 0h0m101 0h0m1 0h0m1 0h0m82 0h0m1 0h0m2 0h0m1 0h0m1 0h0m1 0h0m1 0h0m1 0h0m1 0h0m1 0h0m1 0h0m1 0h0m1 0h0m1 0h0m-394 1h0m2 0h0m93 0h0m92 0h0m2 0h0m2 0h0m1 0h0m103 0h0m2 0h0m1 0h0m82 0h0m2 0h0m1 0h0m1 0h0m2 0h0m1 0h0m1 0h0m1 0h0m1 0h0m1 0h0m1 0h0m2 0h0m1 0h0m-394 1h0m1 0h0m92 0h0m1 0h0m92 0h0m1 0h0m1 0h0m2 0h0m1 0h0m103 0h0m1 0h0m1 0h0m86 0h0m1 0h0m1 0h0m1 0h0m1 0h0m1 0h0m2 0h0m2 0h0m2 0h0m-395 1h0m93 0h0m95 0h0m1 0h0m1 0h0m1 0h0m93 0h0m13 0h0m87 0h0m1 0h0m1 0h0m1 0h0m2 0h0m1 0h0m1 0h0m2 0h0m1 0h0m-393 1h0m1 0h0m2 0h0m88 0h0m3 0h0m1 0h0m92 0h0m1 0h0m3 0h0m91 0h0m4 0h0m9 0h0m1 0h0m1 0h0m83 0h0m1 0h0m1 0h0m1 0h0m1 0h0m2 0h0m1 0h0m1 0h0m1 0h0m1 0h0m1 0h0m-392 1h0m1 0h0m2 0h0m1 0h0m1 0h0m86 0h0m1 0h0m4 0h0m91 0h0m2 0h0m1 0h0m2 0h0m1 0h0m92 0h0m9 0h0m87 0h0m1 0h0m1 0h0m2 0h0m1 0h0m1 0h0m1 0h0m1 0h0m1 0h0m2 0h0m1 0h0m-302 1h0m3 0h0m1 0h0m1 0h0m93 0h0m2 0h0m2 0h0m91 0h0m3 0h0m8 0h0m87 0h0m1 0h0m1 0h0m1 0h0m1 0h0m1 0h0m1 0h0m1 0h0m1 0h0m1 0h0m1 0h0m2 0h0m-301 1h0m1 0h0m1 0h0m1 0h0m92 0h0m2 0h0m1 0h0m2 0h0m89 0h0m3 0h0m2 0h0m1 0h0m1 0h0m6 0h0m2 0h0m1 0h0m84 0h0m2 0h0m1 0h0m1 0h0m1 0h0m1 0h0m1 0h0m1 0h0m2 0h0m1 0h0m1 0h0m-301 1h0m1 0h0m1 0h0m1 0h0m91 0h0m1 0h0m1 0h0m2 0h0m1 0h0m93 0h0m1 0h0m98 0h0m2 0h0m2 0h0m1 0h0m1 0h0m2 0h0m-390 1h0m1 0h0m88 0h0m3 0h0m1 0h0m1 0h0m90 0h0m1 0h0m1 0h0m1 0h0m2 0h0m1 0h0m92 0h0m1 0h0m1 0h0m1 0h0m1 0h0m95 0h0m1 0h0m1 0h0m1 0h0m1 0h0m1 0h0m1 0h0m2 0h0m1 0h0m-391 1h0m91 0h0m1 0h0m94 0h0m1 0h0m1 0h0m1 0h0m1 0h0m1 0h0m92 0h0m1 0h0m1 0h0m95 0h0m2 0h0m1 0h0m1 0h0m2 0h0m2 0h0m2 0h0m1 0h0m-301 1h0m2 0h0m2 0h0m91 0h0m1 0h0m3 0h0m1 0h0m1 0h0m88 0h0m2 0h0m1 0h0m1 0h0m1 0h0m2 0h0m94 0h0m3 0h0m3 0h0m2 0h0m-297 1h0m1 0h0m1 0h0m1 0h0m91 0h0m1 0h0m1 0h0m1 0h0m2 0h0m1 0h0m90 0h0m1 0h0m6 0h0m96 0h0m1 0h0m2 0h0m-294 1h0m92 0h0m2 0h0m1 0h0m2 0h0m91 0h0m1 0h0m1 0h0m101 0h0m3 0h0m-294 1h0m1 0h0m93 0h0m1 0h0m1 0h0m92 0h0m2 0h0m102 0h0m1 0h0m-295 1h0m1 0h0m1 0h0m94 0h0m1 0h0m1 0h0m91 0h0m3 0h0m98 0h0m-290 1h0m1 0h0m94 0h0m4 0h0m93 0h0m-192 3h0m96 0h0"/>
</g>
<rect x="43.0" y="26.0" width="90" height="91" fill="none" stroke="#858585" stroke-width="1.3"/>
<path d="M87.6 26.0V117.0M43.0 72.2H133.0" stroke="#6c6c6c" stroke-width="1.15"/>
<ellipse cx="110.0" cy="81.3" rx="28" ry="13" transform="rotate(-52 110.0 81.3)" fill="none" stroke="#444" stroke-width="1"/>
<g fill="#fff">
<rect x="110.7" y="24.0" width="21.2" height="13"/>
<rect x="110.2" y="92.0" width="21.7" height="10.5"/>
<rect x="110.7" y="106.5" width="21.2" height="11"/>
<rect x="44.0" y="106.5" width="20.6" height="12"/>
</g>
<g font-size="10.3" fill="#000">
<text x="44.3" y="36.0">1.26</text>
<text x="131.0" y="36.0" text-anchor="end">47.1</text>
<text x="131.0" y="100.6" text-anchor="end">43.4</text>
<text x="44.8" y="115.8">12.1</text>
<text x="131.0" y="115.8" text-anchor="end">39.6</text>
</g>
<rect x="139.0" y="26.0" width="90" height="91" fill="none" stroke="#858585" stroke-width="1.3"/>
<path d="M183.6 26.0V117.0M139.0 72.2H229.0" stroke="#6c6c6c" stroke-width="1.15"/>
<ellipse cx="206.0" cy="81.3" rx="28" ry="13" transform="rotate(-52 206.0 81.3)" fill="none" stroke="#444" stroke-width="1"/>
<g fill="#fff">
<rect x="206.7" y="24.0" width="21.2" height="13"/>
<rect x="206.2" y="92.0" width="21.7" height="10.5"/>
<rect x="206.7" y="106.5" width="21.2" height="11"/>
<rect x="140.0" y="106.5" width="20.6" height="12"/>
</g>
<g font-size="10.3" fill="#000">
<text x="140.3" y="36.0">1.05</text>
<text x="227.0" y="36.0" text-anchor="end">32.9</text>
<text x="227.0" y="100.6" text-anchor="end">40.4</text>
<text x="140.8" y="115.8">30.2</text>
<text x="227.0" y="115.8" text-anchor="end">35.8</text>
</g>
<rect x="234.5" y="26.0" width="90" height="91" fill="none" stroke="#858585" stroke-width="1.3"/>
<path d="M279.1 26.0V117.0M234.5 72.2H324.5" stroke="#6c6c6c" stroke-width="1.15"/>
<ellipse cx="301.5" cy="81.3" rx="28" ry="13" transform="rotate(-52 301.5 81.3)" fill="none" stroke="#444" stroke-width="1"/>
<g fill="#fff">
<rect x="302.2" y="24.0" width="21.2" height="13"/>
<rect x="310.2" y="92.0" width="13.2" height="10.5"/>
<rect x="310.7" y="106.5" width="12.7" height="11"/>
<rect x="235.5" y="106.5" width="20.6" height="12"/>
</g>
<g font-size="10.3" fill="#000">
<text x="235.8" y="36.0">1.05</text>
<text x="322.5" y="36.0" text-anchor="end">40.5</text>
<text x="322.5" y="100.6" text-anchor="end">47</text>
<text x="236.3" y="115.8">20.4</text>
<text x="322.5" y="115.8" text-anchor="end">38</text>
</g>
<rect x="330.0" y="26.0" width="90" height="91" fill="none" stroke="#858585" stroke-width="1.3"/>
<path d="M374.6 26.0V117.0M330.0 72.2H420.0" stroke="#6c6c6c" stroke-width="1.15"/>
<ellipse cx="397.0" cy="81.3" rx="28" ry="13" transform="rotate(-52 397.0 81.3)" fill="none" stroke="#444" stroke-width="1"/>
<g fill="#fff">
<rect x="397.7" y="24.0" width="21.2" height="13"/>
<rect x="397.2" y="92.0" width="21.7" height="10.5"/>
<rect x="397.7" y="106.5" width="21.2" height="11"/>
<rect x="331.0" y="106.5" width="20.6" height="12"/>
</g>
<g font-size="10.3" fill="#000">
<text x="331.3" y="36.0">0.75</text>
<text x="418.0" y="36.0" text-anchor="end">47.9</text>
<text x="418.0" y="100.6" text-anchor="end">56.5</text>
<text x="331.8" y="115.8">10.8</text>
<text x="418.0" y="115.8" text-anchor="end">40.5</text>
</g>
<rect x="426.5" y="26.0" width="90" height="91" fill="none" stroke="#858585" stroke-width="1.3"/>
<path d="M471.1 26.0V117.0M426.5 72.2H516.5" stroke="#6c6c6c" stroke-width="1.15"/>
<ellipse cx="493.5" cy="81.3" rx="28" ry="13" transform="rotate(-52 493.5 81.3)" fill="none" stroke="#444" stroke-width="1"/>
<g fill="#fff">
<rect x="494.2" y="24.0" width="21.2" height="13"/>
<rect x="493.7" y="92.0" width="21.7" height="10.5"/>
<rect x="494.2" y="106.5" width="21.2" height="11"/>
<rect x="427.5" y="106.5" width="20.6" height="12"/>
</g>
<g font-size="10.3" fill="#000">
<text x="427.8" y="36.0">0.33</text>
<text x="514.5" y="36.0" text-anchor="end">42.8</text>
<text x="514.5" y="100.6" text-anchor="end">70.4</text>
<text x="428.3" y="115.8">3.97</text>
<text x="514.5" y="115.8" text-anchor="end">52.8</text>
</g>
<rect x="43.0" y="121.3" width="90" height="91" fill="none" stroke="#858585" stroke-width="1.3"/>
<path d="M87.6 121.3V212.3M43.0 167.5H133.0" stroke="#6c6c6c" stroke-width="1.15"/>
<ellipse cx="110.0" cy="176.6" rx="28" ry="13" transform="rotate(-52 110.0 176.6)" fill="none" stroke="#444" stroke-width="1"/>
<g fill="#fff">
<rect x="110.7" y="119.3" width="21.2" height="13"/>
<rect x="110.2" y="187.3" width="21.7" height="10.5"/>
<rect x="110.7" y="201.8" width="21.2" height="11"/>
<rect x="44.0" y="201.8" width="20.6" height="12"/>
</g>
<g font-size="10.3" fill="#000">
<text x="44.3" y="131.3">0.71</text>
<text x="131.0" y="131.3" text-anchor="end">78.2</text>
<text x="131.0" y="195.9" text-anchor="end">28.2</text>
<text x="44.8" y="211.1">0.99</text>
<text x="131.0" y="211.1" text-anchor="end">20.1</text>
</g>
<rect x="139.0" y="121.3" width="90" height="91" fill="none" stroke="#858585" stroke-width="1.3"/>
<path d="M183.6 121.3V212.3M139.0 167.5H229.0" stroke="#6c6c6c" stroke-width="1.15"/>
<ellipse cx="206.0" cy="176.6" rx="28" ry="13" transform="rotate(-52 206.0 176.6)" fill="none" stroke="#444" stroke-width="1"/>
<g fill="#fff">
<rect x="206.7" y="119.3" width="21.2" height="13"/>
<rect x="206.2" y="187.3" width="21.7" height="10.5"/>
<rect x="215.2" y="201.8" width="12.7" height="11"/>
<rect x="140.0" y="201.8" width="20.6" height="12"/>
</g>
<g font-size="10.3" fill="#000">
<text x="140.3" y="131.3">0.79</text>
<text x="227.0" y="131.3" text-anchor="end">66.8</text>
<text x="227.0" y="195.9" text-anchor="end">38.6</text>
<text x="140.8" y="211.1">2.41</text>
<text x="227.0" y="211.1" text-anchor="end">30</text>
</g>
<rect x="234.5" y="121.3" width="90" height="91" fill="none" stroke="#858585" stroke-width="1.3"/>
<path d="M279.1 121.3V212.3M234.5 167.5H324.5" stroke="#6c6c6c" stroke-width="1.15"/>
<ellipse cx="301.5" cy="176.6" rx="28" ry="13" transform="rotate(-52 301.5 176.6)" fill="none" stroke="#444" stroke-width="1"/>
<g fill="#fff">
<rect x="302.2" y="119.3" width="21.2" height="13"/>
<rect x="310.2" y="187.3" width="13.2" height="10.5"/>
<rect x="302.2" y="201.8" width="21.2" height="11"/>
<rect x="235.5" y="201.8" width="20.6" height="12"/>
</g>
<g font-size="10.3" fill="#000">
<text x="235.8" y="131.3">0.41</text>
<text x="322.5" y="131.3" text-anchor="end">72.5</text>
<text x="322.5" y="195.9" text-anchor="end">40</text>
<text x="236.3" y="211.1">0.57</text>
<text x="322.5" y="211.1" text-anchor="end">26.5</text>
</g>
<rect x="330.0" y="121.3" width="90" height="91" fill="none" stroke="#858585" stroke-width="1.3"/>
<path d="M374.6 121.3V212.3M330.0 167.5H420.0" stroke="#6c6c6c" stroke-width="1.15"/>
<ellipse cx="397.0" cy="176.6" rx="28" ry="13" transform="rotate(-52 397.0 176.6)" fill="none" stroke="#444" stroke-width="1"/>
<g fill="#fff">
<rect x="397.7" y="119.3" width="21.2" height="13"/>
<rect x="397.2" y="187.3" width="21.7" height="10.5"/>
<rect x="397.7" y="201.8" width="21.2" height="11"/>
<rect x="331.0" y="201.8" width="20.6" height="12"/>
</g>
<g font-size="10.3" fill="#000">
<text x="331.3" y="131.3">0.66</text>
<text x="418.0" y="131.3" text-anchor="end">68.3</text>
<text x="418.0" y="195.9" text-anchor="end">48.7</text>
<text x="331.8" y="211.1">0.79</text>
<text x="418.0" y="211.1" text-anchor="end">30.2</text>
</g>
<rect x="426.5" y="121.3" width="90" height="91" fill="none" stroke="#858585" stroke-width="1.3"/>
<path d="M471.1 121.3V212.3M426.5 167.5H516.5" stroke="#6c6c6c" stroke-width="1.15"/>
<ellipse cx="493.5" cy="176.6" rx="28" ry="13" transform="rotate(-52 493.5 176.6)" fill="none" stroke="#444" stroke-width="1"/>
<g fill="#fff">
<rect x="494.2" y="119.3" width="21.2" height="13"/>
<rect x="493.7" y="187.3" width="21.7" height="10.5"/>
<rect x="494.2" y="201.8" width="21.2" height="11"/>
<rect x="427.5" y="201.8" width="20.6" height="12"/>
</g>
<g font-size="10.3" fill="#000">
<text x="427.8" y="131.3">0.31</text>
<text x="514.5" y="131.3" text-anchor="end">64.6</text>
<text x="514.5" y="195.9" text-anchor="end">56.9</text>
<text x="428.3" y="211.1">0.62</text>
<text x="514.5" y="211.1" text-anchor="end">34.5</text>
</g>
<g font-size="11" fill="#111" text-anchor="middle">
<text x="85" y="21.5">DMSO</text>
<text x="185.2" y="21.5">RAPA</text>
<text x="279.0" y="8.8">Torin1</text><text x="279.0" y="20.9">(25 nm)</text>
<text x="376.5" y="8.8">Torin1</text><text x="376.5" y="20.9">(50 nM)</text>
<text x="467.5" y="8.8">Torin1</text><text x="467.5" y="20.9">(100 nM)</text>
</g>
<text x="1" y="9" font-size="11" font-weight="bold">A</text>
<text x="1" y="169.7" font-size="10.5">+LPS</text>
<path d="M38 184.6V33" stroke="#000" stroke-width="1.3"/><path d="M38 25.5L35.6 34L40.4 34Z" fill="#000"/>
<text transform="translate(41.2 211.5) rotate(-90)" font-size="9">CD86</text>
<text x="41.8" y="222.3" font-size="8.9">B7-H1</text>
<path d="M69.7 219.7H509" stroke="#000" stroke-width="1.5"/><path d="M517.6 219.7L509 217.3L509 222.1Z" fill="#000"/>
<text x="1" y="248.9" font-size="11" font-weight="bold">B</text>
<path d="M77.6 369.0V246.3" stroke="#000" stroke-width="1.5"/><path d="M73.8 368.3H260.0" stroke="#000" stroke-width="1.5"/><path d="M73.8 368.3H77.6" stroke="#000" stroke-width="1.2"/><text x="72.1" y="370.8" font-size="7" text-anchor="end" style="stroke-width:.08px">0</text><path d="M73.8 343.9H77.6" stroke="#000" stroke-width="1.2"/><text x="72.1" y="346.4" font-size="7" text-anchor="end" style="stroke-width:.08px">0.5</text><path d="M73.8 319.5H77.6" stroke="#000" stroke-width="1.2"/><text x="72.1" y="322.0" font-size="7" text-anchor="end" style="stroke-width:.08px">1.0</text><path d="M73.8 295.1H77.6" stroke="#000" stroke-width="1.2"/><text x="72.1" y="297.6" font-size="7" text-anchor="end" style="stroke-width:.08px">1.5</text><path d="M73.8 270.7H77.6" stroke="#000" stroke-width="1.2"/><text x="72.1" y="273.2" font-size="7" text-anchor="end" style="stroke-width:.08px">2.0</text><path d="M73.8 246.3H77.6" stroke="#000" stroke-width="1.2"/><text x="72.1" y="248.8" font-size="7" text-anchor="end" style="stroke-width:.08px">2.5</text><path d="M86.6 368.3V371.5" stroke="#000" stroke-width="1.2"/><rect x="80.5" y="319.5" width="12.2" height="48.8" fill="#fff" stroke="#000" stroke-width="1.45"/><path d="M104.9 368.3V371.5" stroke="#000" stroke-width="1.2"/><path d="M104.9 330.2V320.5M101.6 320.5H108.2" stroke="#000" stroke-width="1.4"/><rect x="98.8" y="330.2" width="12.2" height="38.1" fill="#000" stroke="#000" stroke-width="1.45"/><path d="M123.2 368.3V371.5" stroke="#000" stroke-width="1.2"/><path d="M123.2 324.9V313.2M119.9 313.2H126.5" stroke="#000" stroke-width="1.4"/><rect x="117.1" y="324.9" width="12.2" height="43.4" fill="#808080" stroke="#000" stroke-width="1.45"/><path d="M141.5 368.3V371.5" stroke="#000" stroke-width="1.2"/><path d="M141.5 308.8V292.2M138.2 292.2H144.8" stroke="#000" stroke-width="1.4"/><rect x="135.4" y="308.8" width="12.2" height="59.5" fill="#808080" stroke="#000" stroke-width="1.45"/><path d="M141.10 284.30l-0.5 3.4M142.60 284.30l-0.5 3.4M139.90 285.40h3.2M139.70 286.70h3.2" stroke="#111" stroke-width="0.95" fill="none"/><path d="M159.8 368.3V371.5" stroke="#000" stroke-width="1.2"/><path d="M159.8 280.9V263.4M156.5 263.4H163.1" stroke="#000" stroke-width="1.4"/><rect x="153.7" y="280.9" width="12.2" height="87.4" fill="#808080" stroke="#000" stroke-width="1.45"/><circle cx="159.8" cy="259.5" r="1.3" fill="#111"/><path d="M159.40 251.80l-0.5 3.4M160.90 251.80l-0.5 3.4M158.20 252.90h3.2M158.00 254.20h3.2" stroke="#111" stroke-width="0.95" fill="none"/><path d="M178.1 368.3V371.5" stroke="#000" stroke-width="1.2"/><path d="M178.1 342.9V340.0M174.8 340.0H181.4" stroke="#000" stroke-width="1.4"/><rect x="172.0" y="342.9" width="12.2" height="25.4" fill="#fff" stroke="#000" stroke-width="1.45"/><path d="M196.4 368.3V371.5" stroke="#000" stroke-width="1.2"/><path d="M196.4 332.7V325.4M193.1 325.4H199.7" stroke="#000" stroke-width="1.4"/><rect x="190.3" y="332.7" width="12.2" height="35.6" fill="#000" stroke="#000" stroke-width="1.45"/><circle cx="196.4" cy="321.4" r="1.3" fill="#111"/><path d="M214.7 368.3V371.5" stroke="#000" stroke-width="1.2"/><path d="M214.7 328.8V321.0M211.4 321.0H218.0" stroke="#000" stroke-width="1.4"/><rect x="208.6" y="328.8" width="12.2" height="39.5" fill="#808080" stroke="#000" stroke-width="1.45"/><circle cx="214.7" cy="316.8" r="1.3" fill="#111"/><path d="M233.0 368.3V371.5" stroke="#000" stroke-width="1.2"/><path d="M233.0 323.4V311.2M229.7 311.2H236.3" stroke="#000" stroke-width="1.4"/><rect x="226.9" y="323.4" width="12.2" height="44.9" fill="#808080" stroke="#000" stroke-width="1.45"/><circle cx="233.0" cy="306.8" r="1.3" fill="#111"/><path d="M232.60 299.20l-0.5 3.4M234.10 299.20l-0.5 3.4M231.40 300.30h3.2M231.20 301.60h3.2" stroke="#111" stroke-width="0.95" fill="none"/><path d="M251.3 368.3V371.5" stroke="#000" stroke-width="1.2"/><path d="M251.3 306.3V294.1M248.0 294.1H254.6" stroke="#000" stroke-width="1.4"/><rect x="245.2" y="306.3" width="12.2" height="62.0" fill="#808080" stroke="#000" stroke-width="1.45"/><circle cx="251.3" cy="290.1" r="1.3" fill="#111"/><path d="M250.90 283.00l-0.5 3.4M252.40 283.00l-0.5 3.4M249.70 284.10h3.2M249.50 285.40h3.2" stroke="#111" stroke-width="0.95" fill="none"/><text transform="translate(56 367.7) rotate(-90)" font-size="8.7">Relative Percent CD86<tspan font-size="5" dy="-3.5">hi</tspan><tspan dy="3.5">B7-H1</tspan><tspan font-size="5" dy="-3.5">hi</tspan></text>
<text x="300" y="249" font-size="11" font-weight="bold">C</text>
<path d="M336.2 369.0V246.7" stroke="#000" stroke-width="1.5"/><path d="M332.4 368.3H518.0" stroke="#000" stroke-width="1.5"/><path d="M332.4 368.3H336.2" stroke="#000" stroke-width="1.2"/><text x="330.7" y="370.8" font-size="7" text-anchor="end" style="stroke-width:.08px">0</text><path d="M332.4 337.9H336.2" stroke="#000" stroke-width="1.2"/><text x="330.7" y="340.4" font-size="7" text-anchor="end" style="stroke-width:.08px">2</text><path d="M332.4 307.5H336.2" stroke="#000" stroke-width="1.2"/><text x="330.7" y="310.0" font-size="7" text-anchor="end" style="stroke-width:.08px">4</text><path d="M332.4 277.1H336.2" stroke="#000" stroke-width="1.2"/><text x="330.7" y="279.6" font-size="7" text-anchor="end" style="stroke-width:.08px">6</text><path d="M332.4 246.7H336.2" stroke="#000" stroke-width="1.2"/><text x="330.7" y="249.2" font-size="7" text-anchor="end" style="stroke-width:.08px">8</text><path d="M345.3 368.3V371.5" stroke="#000" stroke-width="1.2"/><rect x="339.2" y="353.8" width="12.2" height="14.6" fill="#fff" stroke="#000" stroke-width="1.45"/><path d="M363.6 368.3V371.5" stroke="#000" stroke-width="1.2"/><path d="M363.6 327.6V318.0M360.3 318.0H366.9" stroke="#000" stroke-width="1.4"/><rect x="357.5" y="327.6" width="12.2" height="40.7" fill="#000" stroke="#000" stroke-width="1.45"/><circle cx="363.6" cy="311.1" r="1.3" fill="#111"/><path d="M381.9 368.3V371.5" stroke="#000" stroke-width="1.2"/><path d="M381.9 345.0V334.7M378.6 334.7H385.2" stroke="#000" stroke-width="1.4"/><rect x="375.8" y="345.0" width="12.2" height="23.3" fill="#808080" stroke="#000" stroke-width="1.45"/><path d="M381.50 326.30l-0.5 3.4M383.00 326.30l-0.5 3.4M380.30 327.40h3.2M380.10 328.70h3.2" stroke="#111" stroke-width="0.95" fill="none"/><path d="M400.2 368.3V371.5" stroke="#000" stroke-width="1.2"/><path d="M400.2 331.5V317.7M396.9 317.7H403.5" stroke="#000" stroke-width="1.4"/><rect x="394.1" y="331.5" width="12.2" height="36.8" fill="#808080" stroke="#000" stroke-width="1.45"/><circle cx="400.2" cy="312.0" r="1.3" fill="#111"/><path d="M418.5 368.3V371.5" stroke="#000" stroke-width="1.2"/><path d="M418.5 292.2V267.9M415.2 267.9H421.8" stroke="#000" stroke-width="1.4"/><rect x="412.4" y="292.2" width="12.2" height="76.1" fill="#808080" stroke="#000" stroke-width="1.45"/><circle cx="418.5" cy="263.0" r="1.3" fill="#111"/><path d="M418.10 256.10l-0.5 3.4M419.60 256.10l-0.5 3.4M416.90 257.20h3.2M416.70 258.50h3.2" stroke="#111" stroke-width="0.95" fill="none"/><path d="M436.8 368.3V371.5" stroke="#000" stroke-width="1.2"/><path d="M436.8 357.1V355.1M433.5 355.1H440.1" stroke="#000" stroke-width="1.4"/><rect x="430.7" y="357.1" width="12.2" height="11.2" fill="#fff" stroke="#000" stroke-width="1.45"/><path d="M455.1 368.3V371.5" stroke="#000" stroke-width="1.2"/><path d="M455.1 344.0V336.5M451.8 336.5H458.4" stroke="#000" stroke-width="1.4"/><rect x="449.0" y="344.0" width="12.2" height="24.3" fill="#000" stroke="#000" stroke-width="1.45"/><circle cx="455.1" cy="331.2" r="1.3" fill="#111"/><path d="M473.4 368.3V371.5" stroke="#000" stroke-width="1.2"/><path d="M473.4 349.4V343.3M470.1 343.3H476.7" stroke="#000" stroke-width="1.4"/><rect x="467.3" y="349.4" width="12.2" height="18.9" fill="#808080" stroke="#000" stroke-width="1.45"/><circle cx="473.4" cy="338.5" r="1.3" fill="#111"/><path d="M473.00 330.50l-0.5 3.4M474.50 330.50l-0.5 3.4M471.80 331.60h3.2M471.60 332.90h3.2" stroke="#111" stroke-width="0.95" fill="none"/><path d="M491.7 368.3V371.5" stroke="#000" stroke-width="1.2"/><path d="M491.7 340.7V329.9M488.4 329.9H495.0" stroke="#000" stroke-width="1.4"/><rect x="485.6" y="340.7" width="12.2" height="27.6" fill="#808080" stroke="#000" stroke-width="1.45"/><circle cx="491.7" cy="324.9" r="1.3" fill="#111"/><path d="M510.0 368.3V371.5" stroke="#000" stroke-width="1.2"/><path d="M510.0 309.7V285.5M506.7 285.5H513.3" stroke="#000" stroke-width="1.4"/><rect x="503.9" y="309.7" width="12.2" height="58.6" fill="#808080" stroke="#000" stroke-width="1.45"/><circle cx="510.0" cy="280.7" r="1.3" fill="#111"/><path d="M509.60 273.30l-0.5 3.4M511.10 273.30l-0.5 3.4M508.40 274.40h3.2M508.20 275.70h3.2" stroke="#111" stroke-width="0.95" fill="none"/><text transform="translate(317 359.5) rotate(-90)" font-size="8.8">Relative B7-H1/CD86 MFI</text>
<g font-size="9.3" fill="#111"><text x="51.9" y="383.7">DMSO</text><text x="51.9" y="394.0">RAPA</text><text x="51.9" y="405.0">Torin1 (nM)</text><text x="51.9" y="415.0">LPS</text></g><path d="M83.2 381.1h5.4M85.9 378.4v5.4" stroke="#111" stroke-width="1.1"/><path d="M174.7 381.1h5.4M177.4 378.4v5.4" stroke="#111" stroke-width="1.1"/><path d="M101.5 391.0h5.4M104.2 388.3v5.4" stroke="#111" stroke-width="1.1"/><path d="M193.0 391.0h5.4M195.7 388.3v5.4" stroke="#111" stroke-width="1.1"/><path d="M175.5 413.0h5.4M178.2 410.3v5.4" stroke="#111" stroke-width="1.1"/><path d="M194.3 413.0h5.4M197.0 410.3v5.4" stroke="#111" stroke-width="1.1"/><path d="M210.2 413.0h5.4M212.9 410.3v5.4" stroke="#111" stroke-width="1.1"/><path d="M229.0 413.0h5.4M231.7 410.3v5.4" stroke="#111" stroke-width="1.1"/><path d="M246.7 413.0h5.4M249.4 410.3v5.4" stroke="#111" stroke-width="1.1"/><g font-size="7.3" text-anchor="middle" fill="#111" style="stroke-width:.12px"><text x="122.5" y="405.0">25</text><text x="140.8" y="405.0">50</text><text x="159.1" y="405.0">100</text><text x="214.0" y="405.0">25</text><text x="232.3" y="405.0">50</text><text x="250.6" y="405.0">100</text></g>
<g font-size="9.3" fill="#111"><text x="309.5" y="384.0">DMSO</text><text x="309.5" y="394.8">RAPA</text><text x="309.5" y="405.6">Torin1 (nM)</text><text x="309.5" y="416.2">LPS</text></g><path d="M342.3 381.4h5.4M345.0 378.7v5.4" stroke="#111" stroke-width="1.1"/><path d="M434.1 381.4h5.4M436.8 378.7v5.4" stroke="#111" stroke-width="1.1"/><path d="M360.7 391.8h5.4M363.4 389.1v5.4" stroke="#111" stroke-width="1.1"/><path d="M452.4 391.8h5.4M455.1 389.1v5.4" stroke="#111" stroke-width="1.1"/><path d="M434.7 413.0h5.4M437.4 410.3v5.4" stroke="#111" stroke-width="1.1"/><path d="M453.4 413.0h5.4M456.1 410.3v5.4" stroke="#111" stroke-width="1.1"/><path d="M471.3 413.0h5.4M474.0 410.3v5.4" stroke="#111" stroke-width="1.1"/><path d="M490.3 413.0h5.4M493.0 410.3v5.4" stroke="#111" stroke-width="1.1"/><path d="M509.1 413.0h5.4M511.8 410.3v5.4" stroke="#111" stroke-width="1.1"/><g font-size="7.3" text-anchor="middle" fill="#111" style="stroke-width:.12px"><text x="381.7" y="405.0">25</text><text x="400.1" y="405.0">50</text><text x="418.4" y="405.0">100</text><text x="473.5" y="405.0">25</text><text x="491.8" y="405.0">50</text><text x="510.1" y="405.0">100</text></g>
</svg></body></html>
